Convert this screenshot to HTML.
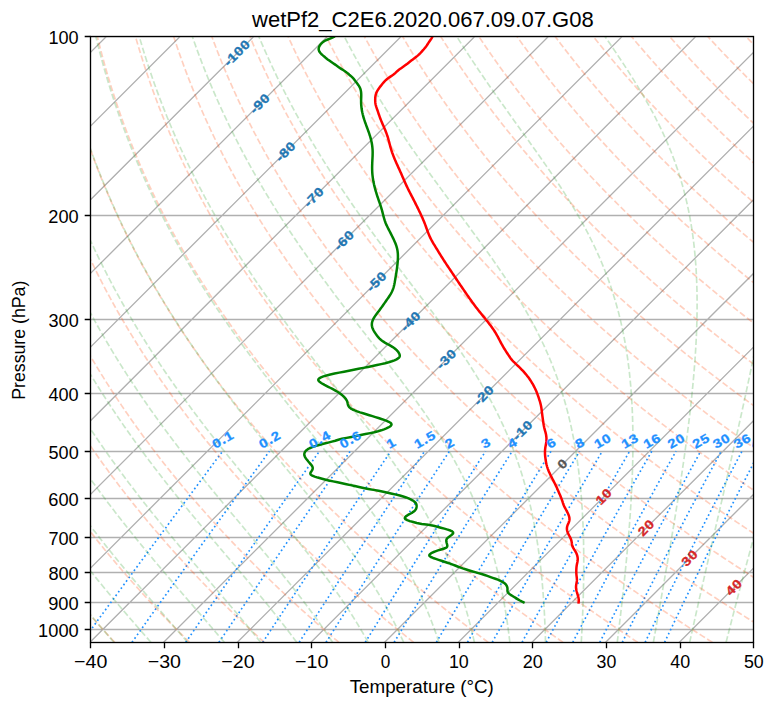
<!DOCTYPE html>
<html><head><meta charset="utf-8"><title>Skew-T</title>
<style>html,body{margin:0;padding:0;background:#fff;}body{width:775px;height:708px;overflow:hidden;font-family:"Liberation Sans",sans-serif;}svg{display:block;}</style>
</head><body>
<svg width="775" height="708" viewBox="0 0 775 708">
<defs><clipPath id="ax"><rect x="90.50" y="36.50" width="663.00" height="606.00"/></clipPath></defs>
<rect x="0" y="0" width="775" height="708" fill="#fff"/>
<g clip-path="url(#ax)"><path d="M-1100.71,654.30 L-469.79,23.39 M-1027.04,654.30 L-396.13,23.39 M-953.37,654.30 L-322.46,23.39 M-879.70,654.30 L-248.79,23.39 M-806.04,654.30 L-175.13,23.39 M-732.37,654.30 L-101.46,23.39 M-658.70,654.30 L-27.79,23.39 M-585.04,654.30 L45.87,23.39 M-511.37,654.30 L119.54,23.39 M-437.70,654.30 L193.21,23.39 M-364.04,654.30 L266.88,23.39 M-290.37,654.30 L340.54,23.39 M-216.70,654.30 L414.21,23.39 M-143.03,654.30 L487.88,23.39 M-69.37,654.30 L561.54,23.39 M4.30,654.30 L635.21,23.39 M77.97,654.30 L708.88,23.39 M151.63,654.30 L782.54,23.39 M225.30,654.30 L856.21,23.39 M298.97,654.30 L929.88,23.39 M372.63,654.30 L1003.55,23.39 M446.30,654.30 L1077.21,23.39 M519.97,654.30 L1150.88,23.39 M593.64,654.30 L1224.55,23.39 M667.30,654.30 L1298.21,23.39 M740.97,654.30 L1371.88,23.39 M90.50,36.50 L753.50,36.50 M90.50,215.50 L753.50,215.50 M90.50,319.50 L753.50,319.50 M90.50,393.50 L753.50,393.50 M90.50,451.50 L753.50,451.50 M90.50,498.50 L753.50,498.50 M90.50,537.50 L753.50,537.50 M90.50,572.50 L753.50,572.50 M90.50,602.50 L753.50,602.50 M90.50,629.50 L753.50,629.50" fill="none" stroke="#b0b0b0" stroke-width="1.33"/>
<path d="M81.76,642.31 L83.43,640.02 L85.12,637.70 L86.83,635.36 L88.55,633.00 L90.28,630.62 L92.03,628.21 L93.80,625.79 L95.59,623.34 L97.40,620.86 L99.22,618.36 L101.06,615.84 L102.92,613.30 L104.80,610.72 L106.70,608.12 L108.62,605.50 L110.56,602.85 L112.52,600.17 L114.50,597.46 L116.51,594.72 L118.53,591.96 L120.58,589.16 L122.66,586.34 L124.75,583.48 L126.87,580.59 L129.02,577.66 L131.19,574.71 L133.38,571.72 L135.61,568.69 L137.86,565.63 L140.14,562.53 L142.44,559.40 L144.78,556.22 L147.15,553.01 L149.54,549.75 L151.97,546.45 L154.44,543.11 L156.93,539.73 L159.46,536.30 L162.03,532.83 L164.63,529.31 L167.27,525.73 L169.94,522.11 L172.66,518.44 L175.41,514.71 L178.21,510.93 L181.05,507.10 L183.94,503.20 L186.87,499.25 L189.85,495.23 L192.88,491.15 L195.96,487.00 L199.09,482.79 L202.27,478.51 L205.51,474.15 L208.80,469.72 L212.16,465.21 L215.58,460.62 L219.06,455.95 L222.61,451.19 M132.00,642.31 L133.63,640.02 L135.27,637.70 L136.93,635.36 L138.61,633.00 L140.30,630.62 L142.01,628.21 L143.73,625.79 L145.48,623.34 L147.24,620.86 L149.01,618.36 L150.81,615.84 L152.62,613.30 L154.46,610.72 L156.31,608.12 L158.18,605.50 L160.07,602.85 L161.98,600.17 L163.92,597.46 L165.87,594.72 L167.85,591.96 L169.84,589.16 L171.86,586.34 L173.91,583.48 L175.98,580.59 L178.07,577.66 L180.19,574.71 L182.33,571.72 L184.50,568.69 L186.69,565.63 L188.92,562.53 L191.17,559.40 L193.45,556.22 L195.76,553.01 L198.10,549.75 L200.47,546.45 L202.87,543.11 L205.31,539.73 L207.78,536.30 L210.28,532.83 L212.82,529.31 L215.40,525.73 L218.01,522.11 L220.66,518.44 L223.35,514.71 L226.09,510.93 L228.86,507.10 L231.68,503.20 L234.54,499.25 L237.45,495.23 L240.41,491.15 L243.42,487.00 L246.47,482.79 L249.58,478.51 L252.75,474.15 L255.97,469.72 L259.25,465.21 L262.59,460.62 L265.99,455.95 L269.46,451.19 M185.73,642.31 L187.31,640.02 L188.91,637.70 L190.52,635.36 L192.15,633.00 L193.79,630.62 L195.45,628.21 L197.12,625.79 L198.82,623.34 L200.52,620.86 L202.25,618.36 L204.00,615.84 L205.76,613.30 L207.54,610.72 L209.34,608.12 L211.16,605.50 L212.99,602.85 L214.85,600.17 L216.73,597.46 L218.63,594.72 L220.55,591.96 L222.49,589.16 L224.46,586.34 L226.44,583.48 L228.45,580.59 L230.49,577.66 L232.55,574.71 L234.63,571.72 L236.74,568.69 L238.87,565.63 L241.04,562.53 L243.23,559.40 L245.44,556.22 L247.69,553.01 L249.97,549.75 L252.27,546.45 L254.61,543.11 L256.98,539.73 L259.38,536.30 L261.82,532.83 L264.29,529.31 L266.80,525.73 L269.34,522.11 L271.92,518.44 L274.54,514.71 L277.20,510.93 L279.90,507.10 L282.65,503.20 L285.44,499.25 L288.27,495.23 L291.15,491.15 L294.08,487.00 L297.06,482.79 L300.09,478.51 L303.17,474.15 L306.31,469.72 L309.50,465.21 L312.76,460.62 L316.07,455.95 L319.45,451.19 M218.92,642.31 L220.47,640.02 L222.04,637.70 L223.62,635.36 L225.21,633.00 L226.83,630.62 L228.45,628.21 L230.10,625.79 L231.76,623.34 L233.44,620.86 L235.13,618.36 L236.84,615.84 L238.57,613.30 L240.32,610.72 L242.08,608.12 L243.87,605.50 L245.67,602.85 L247.50,600.17 L249.34,597.46 L251.20,594.72 L253.09,591.96 L255.00,589.16 L256.92,586.34 L258.88,583.48 L260.85,580.59 L262.85,577.66 L264.87,574.71 L266.91,571.72 L268.99,568.69 L271.08,565.63 L273.21,562.53 L275.36,559.40 L277.53,556.22 L279.74,553.01 L281.98,549.75 L284.24,546.45 L286.54,543.11 L288.87,539.73 L291.23,536.30 L293.62,532.83 L296.05,529.31 L298.51,525.73 L301.01,522.11 L303.55,518.44 L306.12,514.71 L308.74,510.93 L311.39,507.10 L314.09,503.20 L316.83,499.25 L319.61,495.23 L322.44,491.15 L325.32,487.00 L328.25,482.79 L331.23,478.51 L334.26,474.15 L337.35,469.72 L340.49,465.21 L343.69,460.62 L346.95,455.95 L350.27,451.19 M262.73,642.31 L264.24,640.02 L265.77,637.70 L267.31,635.36 L268.86,633.00 L270.43,630.62 L272.02,628.21 L273.62,625.79 L275.24,623.34 L276.87,620.86 L278.52,618.36 L280.19,615.84 L281.88,613.30 L283.58,610.72 L285.30,608.12 L287.04,605.50 L288.80,602.85 L290.57,600.17 L292.37,597.46 L294.19,594.72 L296.02,591.96 L297.88,589.16 L299.76,586.34 L301.67,583.48 L303.59,580.59 L305.54,577.66 L307.51,574.71 L309.50,571.72 L311.52,568.69 L313.57,565.63 L315.64,562.53 L317.74,559.40 L319.86,556.22 L322.01,553.01 L324.20,549.75 L326.41,546.45 L328.65,543.11 L330.92,539.73 L333.22,536.30 L335.56,532.83 L337.93,529.31 L340.33,525.73 L342.77,522.11 L345.25,518.44 L347.76,514.71 L350.31,510.93 L352.91,507.10 L355.54,503.20 L358.21,499.25 L360.93,495.23 L363.70,491.15 L366.51,487.00 L369.37,482.79 L372.28,478.51 L375.24,474.15 L378.26,469.72 L381.33,465.21 L384.45,460.62 L387.64,455.95 L390.89,451.19 M299.20,642.31 L300.67,640.02 L302.16,637.70 L303.67,635.36 L305.19,633.00 L306.72,630.62 L308.27,628.21 L309.84,625.79 L311.42,623.34 L313.02,620.86 L314.63,618.36 L316.26,615.84 L317.91,613.30 L319.57,610.72 L321.25,608.12 L322.95,605.50 L324.67,602.85 L326.41,600.17 L328.17,597.46 L329.94,594.72 L331.74,591.96 L333.56,589.16 L335.40,586.34 L337.26,583.48 L339.14,580.59 L341.05,577.66 L342.97,574.71 L344.93,571.72 L346.90,568.69 L348.90,565.63 L350.93,562.53 L352.98,559.40 L355.06,556.22 L357.17,553.01 L359.30,549.75 L361.47,546.45 L363.66,543.11 L365.88,539.73 L368.14,536.30 L370.42,532.83 L372.74,529.31 L375.10,525.73 L377.49,522.11 L379.91,518.44 L382.37,514.71 L384.87,510.93 L387.41,507.10 L389.99,503.20 L392.61,499.25 L395.28,495.23 L397.99,491.15 L400.74,487.00 L403.54,482.79 L406.39,478.51 L409.29,474.15 L412.25,469.72 L415.26,465.21 L418.32,460.62 L421.45,455.95 L424.63,451.19 M326.03,642.31 L327.48,640.02 L328.94,637.70 L330.42,635.36 L331.91,633.00 L333.42,630.62 L334.94,628.21 L336.48,625.79 L338.04,623.34 L339.60,620.86 L341.19,618.36 L342.79,615.84 L344.41,613.30 L346.05,610.72 L347.70,608.12 L349.37,605.50 L351.06,602.85 L352.77,600.17 L354.50,597.46 L356.24,594.72 L358.01,591.96 L359.80,589.16 L361.61,586.34 L363.44,583.48 L365.29,580.59 L367.16,577.66 L369.06,574.71 L370.98,571.72 L372.92,568.69 L374.89,565.63 L376.88,562.53 L378.90,559.40 L380.94,556.22 L383.02,553.01 L385.12,549.75 L387.24,546.45 L389.40,543.11 L391.59,539.73 L393.81,536.30 L396.06,532.83 L398.34,529.31 L400.66,525.73 L403.01,522.11 L405.39,518.44 L407.82,514.71 L410.28,510.93 L412.78,507.10 L415.31,503.20 L417.89,499.25 L420.52,495.23 L423.18,491.15 L425.90,487.00 L428.65,482.79 L431.46,478.51 L434.32,474.15 L437.23,469.72 L440.19,465.21 L443.21,460.62 L446.29,455.95 L449.42,451.19 M365.26,642.31 L366.67,640.02 L368.10,637.70 L369.54,635.36 L370.99,633.00 L372.46,630.62 L373.94,628.21 L375.44,625.79 L376.95,623.34 L378.48,620.86 L380.02,618.36 L381.58,615.84 L383.16,613.30 L384.75,610.72 L386.36,608.12 L387.99,605.50 L389.64,602.85 L391.30,600.17 L392.98,597.46 L394.69,594.72 L396.41,591.96 L398.15,589.16 L399.91,586.34 L401.69,583.48 L403.50,580.59 L405.32,577.66 L407.17,574.71 L409.04,571.72 L410.94,568.69 L412.86,565.63 L414.80,562.53 L416.77,559.40 L418.76,556.22 L420.78,553.01 L422.83,549.75 L424.91,546.45 L427.01,543.11 L429.15,539.73 L431.31,536.30 L433.51,532.83 L435.73,529.31 L437.99,525.73 L440.29,522.11 L442.62,518.44 L444.98,514.71 L447.38,510.93 L449.82,507.10 L452.30,503.20 L454.82,499.25 L457.38,495.23 L459.98,491.15 L462.63,487.00 L465.33,482.79 L468.07,478.51 L470.86,474.15 L473.70,469.72 L476.60,465.21 L479.55,460.62 L482.55,455.95 L485.62,451.19 M394.14,642.31 L395.52,640.02 L396.92,637.70 L398.33,635.36 L399.75,633.00 L401.19,630.62 L402.64,628.21 L404.11,625.79 L405.59,623.34 L407.09,620.86 L408.60,618.36 L410.13,615.84 L411.68,613.30 L413.24,610.72 L414.81,608.12 L416.41,605.50 L418.02,602.85 L419.66,600.17 L421.30,597.46 L422.97,594.72 L424.66,591.96 L426.37,589.16 L428.10,586.34 L429.84,583.48 L431.61,580.59 L433.40,577.66 L435.22,574.71 L437.05,571.72 L438.91,568.69 L440.79,565.63 L442.70,562.53 L444.63,559.40 L446.58,556.22 L448.57,553.01 L450.58,549.75 L452.61,546.45 L454.68,543.11 L456.77,539.73 L458.90,536.30 L461.05,532.83 L463.24,529.31 L465.45,525.73 L467.71,522.11 L469.99,518.44 L472.31,514.71 L474.67,510.93 L477.07,507.10 L479.50,503.20 L481.97,499.25 L484.49,495.23 L487.04,491.15 L489.64,487.00 L492.29,482.79 L494.98,478.51 L497.73,474.15 L500.52,469.72 L503.36,465.21 L506.26,460.62 L509.21,455.95 L512.23,451.19 M436.38,642.31 L437.72,640.02 L439.07,637.70 L440.44,635.36 L441.82,633.00 L443.21,630.62 L444.62,628.21 L446.04,625.79 L447.47,623.34 L448.93,620.86 L450.39,618.36 L451.87,615.84 L453.37,613.30 L454.89,610.72 L456.42,608.12 L457.96,605.50 L459.53,602.85 L461.11,600.17 L462.71,597.46 L464.33,594.72 L465.97,591.96 L467.62,589.16 L469.30,586.34 L470.99,583.48 L472.71,580.59 L474.45,577.66 L476.21,574.71 L477.99,571.72 L479.79,568.69 L481.62,565.63 L483.47,562.53 L485.34,559.40 L487.24,556.22 L489.17,553.01 L491.12,549.75 L493.10,546.45 L495.10,543.11 L497.14,539.73 L499.20,536.30 L501.30,532.83 L503.42,529.31 L505.58,525.73 L507.76,522.11 L509.99,518.44 L512.24,514.71 L514.53,510.93 L516.86,507.10 L519.23,503.20 L521.63,499.25 L524.08,495.23 L526.57,491.15 L529.10,487.00 L531.67,482.79 L534.29,478.51 L536.96,474.15 L539.68,469.72 L542.45,465.21 L545.27,460.62 L548.14,455.95 L551.08,451.19 M467.47,642.31 L468.77,640.02 L470.09,637.70 L471.43,635.36 L472.77,633.00 L474.13,630.62 L475.50,628.21 L476.89,625.79 L478.29,623.34 L479.71,620.86 L481.14,618.36 L482.59,615.84 L484.05,613.30 L485.53,610.72 L487.02,608.12 L488.54,605.50 L490.06,602.85 L491.61,600.17 L493.17,597.46 L494.75,594.72 L496.35,591.96 L497.97,589.16 L499.61,586.34 L501.26,583.48 L502.94,580.59 L504.64,577.66 L506.36,574.71 L508.10,571.72 L509.86,568.69 L511.65,565.63 L513.46,562.53 L515.29,559.40 L517.15,556.22 L519.03,553.01 L520.94,549.75 L522.87,546.45 L524.83,543.11 L526.82,539.73 L528.84,536.30 L530.89,532.83 L532.97,529.31 L535.07,525.73 L537.22,522.11 L539.39,518.44 L541.60,514.71 L543.84,510.93 L546.12,507.10 L548.44,503.20 L550.79,499.25 L553.18,495.23 L555.62,491.15 L558.10,487.00 L560.62,482.79 L563.18,478.51 L565.80,474.15 L568.46,469.72 L571.17,465.21 L573.93,460.62 L576.75,455.95 L579.62,451.19 M492.23,642.31 L493.51,640.02 L494.80,637.70 L496.11,635.36 L497.43,633.00 L498.76,630.62 L500.11,628.21 L501.47,625.79 L502.84,623.34 L504.23,620.86 L505.63,618.36 L507.05,615.84 L508.49,613.30 L509.94,610.72 L511.40,608.12 L512.88,605.50 L514.38,602.85 L515.90,600.17 L517.43,597.46 L518.98,594.72 L520.55,591.96 L522.14,589.16 L523.74,586.34 L525.37,583.48 L527.01,580.59 L528.68,577.66 L530.37,574.71 L532.07,571.72 L533.80,568.69 L535.56,565.63 L537.33,562.53 L539.13,559.40 L540.95,556.22 L542.80,553.01 L544.67,549.75 L546.57,546.45 L548.50,543.11 L550.45,539.73 L552.43,536.30 L554.44,532.83 L556.48,529.31 L558.55,525.73 L560.66,522.11 L562.79,518.44 L564.96,514.71 L567.16,510.93 L569.40,507.10 L571.68,503.20 L573.99,499.25 L576.34,495.23 L578.74,491.15 L581.17,487.00 L583.65,482.79 L586.17,478.51 L588.74,474.15 L591.36,469.72 L594.02,465.21 L596.74,460.62 L599.51,455.95 L602.33,451.19 M522.08,642.31 L523.33,640.02 L524.59,637.70 L525.86,635.36 L527.15,633.00 L528.45,630.62 L529.76,628.21 L531.08,625.79 L532.42,623.34 L533.78,620.86 L535.15,618.36 L536.53,615.84 L537.93,613.30 L539.34,610.72 L540.77,608.12 L542.22,605.50 L543.68,602.85 L545.16,600.17 L546.66,597.46 L548.17,594.72 L549.70,591.96 L551.25,589.16 L552.82,586.34 L554.41,583.48 L556.01,580.59 L557.64,577.66 L559.29,574.71 L560.95,571.72 L562.64,568.69 L564.36,565.63 L566.09,562.53 L567.85,559.40 L569.63,556.22 L571.43,553.01 L573.26,549.75 L575.12,546.45 L577.00,543.11 L578.91,539.73 L580.85,536.30 L582.81,532.83 L584.81,529.31 L586.83,525.73 L588.89,522.11 L590.98,518.44 L593.10,514.71 L595.25,510.93 L597.44,507.10 L599.67,503.20 L601.93,499.25 L604.23,495.23 L606.57,491.15 L608.96,487.00 L611.38,482.79 L613.85,478.51 L616.36,474.15 L618.92,469.72 L621.53,465.21 L624.19,460.62 L626.91,455.95 L629.67,451.19 M546.25,642.31 L547.48,640.02 L548.71,637.70 L549.96,635.36 L551.22,633.00 L552.49,630.62 L553.77,628.21 L555.07,625.79 L556.39,623.34 L557.71,620.86 L559.05,618.36 L560.41,615.84 L561.78,613.30 L563.16,610.72 L564.56,608.12 L565.98,605.50 L567.41,602.85 L568.86,600.17 L570.33,597.46 L571.81,594.72 L573.31,591.96 L574.83,589.16 L576.36,586.34 L577.92,583.48 L579.50,580.59 L581.09,577.66 L582.70,574.71 L584.34,571.72 L586.00,568.69 L587.67,565.63 L589.37,562.53 L591.10,559.40 L592.84,556.22 L594.62,553.01 L596.41,549.75 L598.23,546.45 L600.08,543.11 L601.95,539.73 L603.85,536.30 L605.78,532.83 L607.74,529.31 L609.72,525.73 L611.74,522.11 L613.79,518.44 L615.87,514.71 L617.99,510.93 L620.14,507.10 L622.32,503.20 L624.54,499.25 L626.80,495.23 L629.10,491.15 L631.44,487.00 L633.82,482.79 L636.25,478.51 L638.72,474.15 L641.23,469.72 L643.79,465.21 L646.41,460.62 L649.07,455.95 L651.79,451.19 M572.77,642.31 L573.97,640.02 L575.17,637.70 L576.39,635.36 L577.62,633.00 L578.86,630.62 L580.11,628.21 L581.38,625.79 L582.66,623.34 L583.96,620.86 L585.27,618.36 L586.59,615.84 L587.93,613.30 L589.28,610.72 L590.65,608.12 L592.03,605.50 L593.43,602.85 L594.85,600.17 L596.28,597.46 L597.73,594.72 L599.20,591.96 L600.68,589.16 L602.18,586.34 L603.70,583.48 L605.24,580.59 L606.80,577.66 L608.38,574.71 L609.98,571.72 L611.60,568.69 L613.24,565.63 L614.90,562.53 L616.59,559.40 L618.30,556.22 L620.03,553.01 L621.78,549.75 L623.57,546.45 L625.37,543.11 L627.20,539.73 L629.06,536.30 L630.95,532.83 L632.87,529.31 L634.81,525.73 L636.79,522.11 L638.79,518.44 L640.83,514.71 L642.90,510.93 L645.01,507.10 L647.15,503.20 L649.32,499.25 L651.54,495.23 L653.79,491.15 L656.08,487.00 L658.41,482.79 L660.79,478.51 L663.21,474.15 L665.67,469.72 L668.19,465.21 L670.75,460.62 L673.36,455.95 L676.03,451.19 M599.83,642.31 L600.99,640.02 L602.17,637.70 L603.35,635.36 L604.55,633.00 L605.76,630.62 L606.99,628.21 L608.22,625.79 L609.47,623.34 L610.73,620.86 L612.01,618.36 L613.30,615.84 L614.61,613.30 L615.93,610.72 L617.26,608.12 L618.61,605.50 L619.98,602.85 L621.36,600.17 L622.76,597.46 L624.17,594.72 L625.60,591.96 L627.05,589.16 L628.51,586.34 L630.00,583.48 L631.50,580.59 L633.02,577.66 L634.57,574.71 L636.13,571.72 L637.71,568.69 L639.31,565.63 L640.94,562.53 L642.58,559.40 L644.25,556.22 L645.94,553.01 L647.66,549.75 L649.40,546.45 L651.16,543.11 L652.95,539.73 L654.77,536.30 L656.62,532.83 L658.49,529.31 L660.39,525.73 L662.32,522.11 L664.28,518.44 L666.28,514.71 L668.30,510.93 L670.36,507.10 L672.45,503.20 L674.58,499.25 L676.75,495.23 L678.95,491.15 L681.19,487.00 L683.48,482.79 L685.80,478.51 L688.17,474.15 L690.58,469.72 L693.04,465.21 L695.55,460.62 L698.11,455.95 L700.72,451.19 M622.32,642.31 L623.45,640.02 L624.60,637.70 L625.76,635.36 L626.93,633.00 L628.12,630.62 L629.31,628.21 L630.52,625.79 L631.75,623.34 L632.98,620.86 L634.23,618.36 L635.50,615.84 L636.77,613.30 L638.06,610.72 L639.37,608.12 L640.69,605.50 L642.03,602.85 L643.38,600.17 L644.75,597.46 L646.13,594.72 L647.54,591.96 L648.95,589.16 L650.39,586.34 L651.84,583.48 L653.32,580.59 L654.81,577.66 L656.32,574.71 L657.85,571.72 L659.40,568.69 L660.97,565.63 L662.56,562.53 L664.17,559.40 L665.81,556.22 L667.47,553.01 L669.15,549.75 L670.85,546.45 L672.58,543.11 L674.34,539.73 L676.12,536.30 L677.93,532.83 L679.77,529.31 L681.63,525.73 L683.53,522.11 L685.45,518.44 L687.41,514.71 L689.39,510.93 L691.41,507.10 L693.47,503.20 L695.56,499.25 L697.68,495.23 L699.84,491.15 L702.05,487.00 L704.29,482.79 L706.57,478.51 L708.90,474.15 L711.27,469.72 L713.68,465.21 L716.14,460.62 L718.66,455.95 L721.22,451.19 M645.12,642.31 L646.23,640.02 L647.35,637.70 L648.48,635.36 L649.63,633.00 L650.78,630.62 L651.95,628.21 L653.14,625.79 L654.33,623.34 L655.54,620.86 L656.76,618.36 L658.00,615.84 L659.24,613.30 L660.51,610.72 L661.78,608.12 L663.08,605.50 L664.38,602.85 L665.71,600.17 L667.04,597.46 L668.40,594.72 L669.77,591.96 L671.16,589.16 L672.56,586.34 L673.99,583.48 L675.43,580.59 L676.89,577.66 L678.36,574.71 L679.86,571.72 L681.38,568.69 L682.91,565.63 L684.47,562.53 L686.05,559.40 L687.65,556.22 L689.28,553.01 L690.93,549.75 L692.60,546.45 L694.29,543.11 L696.01,539.73 L697.76,536.30 L699.53,532.83 L701.33,529.31 L703.16,525.73 L705.01,522.11 L706.90,518.44 L708.82,514.71 L710.76,510.93 L712.74,507.10 L714.76,503.20 L716.81,499.25 L718.89,495.23 L721.01,491.15 L723.17,487.00 L725.37,482.79 L727.61,478.51 L729.89,474.15 L732.22,469.72 L734.59,465.21 L737.00,460.62 L739.47,455.95 L741.99,451.19 M664.61,642.31 L665.70,640.02 L666.80,637.70 L667.91,635.36 L669.03,633.00 L670.17,630.62 L671.31,628.21 L672.47,625.79 L673.64,623.34 L674.83,620.86 L676.03,618.36 L677.24,615.84 L678.46,613.30 L679.70,610.72 L680.95,608.12 L682.22,605.50 L683.50,602.85 L684.80,600.17 L686.11,597.46 L687.44,594.72 L688.78,591.96 L690.14,589.16 L691.52,586.34 L692.92,583.48 L694.33,580.59 L695.76,577.66 L697.21,574.71 L698.68,571.72 L700.17,568.69 L701.68,565.63 L703.21,562.53 L704.76,559.40 L706.33,556.22 L707.93,553.01 L709.54,549.75 L711.18,546.45 L712.85,543.11 L714.54,539.73 L716.25,536.30 L717.99,532.83 L719.76,529.31 L721.56,525.73 L723.38,522.11 L725.23,518.44 L727.12,514.71 L729.03,510.93 L730.98,507.10 L732.95,503.20 L734.97,499.25 L737.02,495.23 L739.10,491.15 L741.22,487.00 L743.39,482.79 L745.59,478.51 L747.83,474.15 L750.12,469.72 L752.45,465.21 L754.83,460.62 L757.25,455.95 L759.73,451.19" fill="none" stroke="#1e90ff" stroke-width="1.67" stroke-dasharray="1.67,2.75"/>
<path d="M114.76,642.31 L113.67,641.14 L112.57,639.96 L111.47,638.77 L110.37,637.58 L109.27,636.38 L108.16,635.17 L107.06,633.96 L105.95,632.75 L104.84,631.53 L103.72,630.30 L102.61,629.07 L101.49,627.83 L100.37,626.59 L99.25,625.34 L98.12,624.08 L97.00,622.82 L95.87,621.55 L94.74,620.27 L93.61,618.99 L92.47,617.70 L91.33,616.41 L90.19,615.11 L89.05,613.80 L87.91,612.48 L86.76,611.16 L85.61,609.84 L84.46,608.50 L83.31,607.16 L82.16,605.81 L81.00,604.45 L79.84,603.09 L78.68,601.72 L77.51,600.34 L76.35,598.96 L75.18,597.57 L74.00,596.17 L72.83,594.76 L71.65,593.34 L70.48,591.92 L69.29,590.49 L68.11,589.05 L66.92,587.60 L65.74,586.15 L64.55,584.68 L63.35,583.21 L62.16,581.73 L60.96,580.24 L59.76,578.74 L58.55,577.24 L57.35,575.72 L56.14,574.20 L54.93,572.66 L53.71,571.12 L52.50,569.57 L51.28,568.01 L50.06,566.44 L48.84,564.85 L47.61,563.26 L46.38,561.66 L45.15,560.05 L43.91,558.43 L42.68,556.80 L41.44,555.16 L40.20,553.51 L38.95,551.85 L37.70,550.18 L36.45,548.49 L35.20,546.80 L33.95,545.09 L32.69,543.37 L31.43,541.64 L30.16,539.90 L28.90,538.15 L27.63,536.39 L26.35,534.61 L25.08,532.82 L23.80,531.02 L22.52,529.20 L21.24,527.38 L19.95,525.54 L18.66,523.68 L17.37,521.82 L16.08,519.94 L14.78,518.04 L13.48,516.13 L12.18,514.21 L10.87,512.27 L9.56,510.32 L8.25,508.36 L6.94,506.37 L5.62,504.38 L4.30,502.36 L2.98,500.34 L1.65,498.29 L0.32,496.23 L-1.01,494.15 L-2.34,492.06 L-3.68,489.95 L-5.02,487.82 L-6.36,485.67 L-7.71,483.50 L-9.06,481.32 L-10.41,479.12 L-11.76,476.90 L-13.12,474.66 L-14.48,472.40 L-15.85,470.12 L-17.21,467.82 L-18.58,465.50 L-19.95,463.15 L-21.33,460.79 L-22.70,458.41 L-24.08,456.00 L-25.47,453.57 L-26.85,451.11 L-28.24,448.64 L-29.63,446.13 L-31.03,443.61 L-32.42,441.06 L-33.82,438.48 L-35.22,435.88 L-36.63,433.25 L-38.04,430.59 L-39.44,427.91 L-40.86,425.20 L-42.27,422.46 L-43.69,419.69 L-45.11,416.89 L-46.53,414.06 L-47.95,411.19 L-49.38,408.30 L-50.81,405.37 L-52.24,402.41 L-53.67,399.41 L-55.10,396.38 L-56.54,393.31 L-57.97,390.21 L-59.41,387.07 L-60.85,383.89 L-62.30,380.67 L-63.74,377.41 L-65.18,374.10 L-66.63,370.76 L-68.08,367.37 L-69.52,363.93 L-70.97,360.45 L-72.42,356.92 L-73.87,353.34 L-75.32,349.71 L-76.77,346.03 L-78.21,342.30 L-79.66,338.51 L-81.11,334.66 L-82.55,330.76 L-84.00,326.79 L-85.44,322.77 L-86.88,318.68 L-88.32,314.52 L-89.75,310.30 L-91.19,306.00 L-92.61,301.64 L-94.04,297.19 L-95.46,292.67 L-96.87,288.07 L-98.28,283.39 L-99.68,278.61 L-101.08,273.75 L-102.47,268.80 L-103.85,263.74 L-105.22,258.59 L-106.58,253.33 L-107.92,247.96 L-109.26,242.48 L-110.58,236.88 L-111.89,231.15 L-113.18,225.30 L-114.45,219.30 L-115.70,213.17 L-116.94,206.88 L-118.14,200.44 L-119.33,193.83 L-120.48,187.05 L-121.61,180.08 L-122.70,172.92 L-123.75,165.56 L-124.76,157.98 L-125.73,150.17 L-126.65,142.12 L-127.52,133.80 L-128.32,125.21 L-129.06,116.32 L-129.73,107.12 L-130.31,97.57 L-130.81,87.65 L-131.20,77.34 L-131.48,66.60 L-131.64,55.39 L-131.65,43.67 L-131.50,31.40 M189.46,642.31 L188.27,641.14 L187.08,639.96 L185.88,638.77 L184.68,637.58 L183.48,636.38 L182.27,635.17 L181.07,633.96 L179.86,632.75 L178.65,631.53 L177.43,630.30 L176.22,629.07 L175.00,627.83 L173.78,626.59 L172.56,625.34 L171.33,624.08 L170.10,622.82 L168.87,621.55 L167.64,620.27 L166.40,618.99 L165.16,617.70 L163.92,616.41 L162.68,615.11 L161.43,613.80 L160.18,612.48 L158.93,611.16 L157.67,609.84 L156.42,608.50 L155.16,607.16 L153.89,605.81 L152.63,604.45 L151.36,603.09 L150.09,601.72 L148.82,600.34 L147.54,598.96 L146.26,597.57 L144.98,596.17 L143.69,594.76 L142.41,593.34 L141.12,591.92 L139.82,590.49 L138.53,589.05 L137.23,587.60 L135.93,586.15 L134.62,584.68 L133.31,583.21 L132.00,581.73 L130.69,580.24 L129.37,578.74 L128.05,577.24 L126.73,575.72 L125.40,574.20 L124.08,572.66 L122.74,571.12 L121.41,569.57 L120.07,568.01 L118.73,566.44 L117.39,564.85 L116.04,563.26 L114.69,561.66 L113.34,560.05 L111.98,558.43 L110.62,556.80 L109.26,555.16 L107.89,553.51 L106.52,551.85 L105.15,550.18 L103.77,548.49 L102.39,546.80 L101.01,545.09 L99.62,543.37 L98.24,541.64 L96.84,539.90 L95.45,538.15 L94.05,536.39 L92.64,534.61 L91.24,532.82 L89.83,531.02 L88.42,529.20 L87.00,527.38 L85.58,525.54 L84.16,523.68 L82.73,521.82 L81.30,519.94 L79.86,518.04 L78.43,516.13 L76.98,514.21 L75.54,512.27 L74.09,510.32 L72.64,508.36 L71.18,506.37 L69.72,504.38 L68.26,502.36 L66.79,500.34 L65.32,498.29 L63.85,496.23 L62.37,494.15 L60.89,492.06 L59.41,489.95 L57.92,487.82 L56.42,485.67 L54.93,483.50 L53.43,481.32 L51.92,479.12 L50.41,476.90 L48.90,474.66 L47.39,472.40 L45.87,470.12 L44.34,467.82 L42.82,465.50 L41.29,463.15 L39.75,460.79 L38.21,458.41 L36.67,456.00 L35.12,453.57 L33.57,451.11 L32.02,448.64 L30.46,446.13 L28.90,443.61 L27.33,441.06 L25.76,438.48 L24.19,435.88 L22.61,433.25 L21.03,430.59 L19.45,427.91 L17.86,425.20 L16.27,422.46 L14.67,419.69 L13.07,416.89 L11.47,414.06 L9.86,411.19 L8.25,408.30 L6.63,405.37 L5.01,402.41 L3.39,399.41 L1.77,396.38 L0.14,393.31 L-1.49,390.21 L-3.13,387.07 L-4.77,383.89 L-6.41,380.67 L-8.06,377.41 L-9.70,374.10 L-11.36,370.76 L-13.01,367.37 L-14.67,363.93 L-16.33,360.45 L-17.99,356.92 L-19.65,353.34 L-21.32,349.71 L-22.99,346.03 L-24.66,342.30 L-26.33,338.51 L-28.00,334.66 L-29.68,330.76 L-31.35,326.79 L-33.03,322.77 L-34.71,318.68 L-36.39,314.52 L-38.06,310.30 L-39.74,306.00 L-41.42,301.64 L-43.10,297.19 L-44.77,292.67 L-46.44,288.07 L-48.11,283.39 L-49.78,278.61 L-51.44,273.75 L-53.10,268.80 L-54.76,263.74 L-56.41,258.59 L-58.05,253.33 L-59.69,247.96 L-61.32,242.48 L-62.93,236.88 L-64.54,231.15 L-66.14,225.30 L-67.72,219.30 L-69.29,213.17 L-70.85,206.88 L-72.39,200.44 L-73.90,193.83 L-75.40,187.05 L-76.87,180.08 L-78.31,172.92 L-79.73,165.56 L-81.11,157.98 L-82.45,150.17 L-83.76,142.12 L-85.02,133.80 L-86.23,125.21 L-87.38,116.32 L-88.47,107.12 L-89.49,97.57 L-90.43,87.65 L-91.28,77.34 L-92.04,66.60 L-92.68,55.39 L-93.19,43.67 L-93.56,31.40 M264.16,642.31 L262.87,641.14 L261.58,639.96 L260.29,638.77 L258.99,637.58 L257.69,636.38 L256.39,635.17 L255.08,633.96 L253.77,632.75 L252.46,631.53 L251.15,630.30 L249.83,629.07 L248.51,627.83 L247.19,626.59 L245.86,625.34 L244.53,624.08 L243.20,622.82 L241.87,621.55 L240.53,620.27 L239.19,618.99 L237.85,617.70 L236.50,616.41 L235.16,615.11 L233.80,613.80 L232.45,612.48 L231.09,611.16 L229.73,609.84 L228.37,608.50 L227.00,607.16 L225.63,605.81 L224.26,604.45 L222.88,603.09 L221.50,601.72 L220.12,600.34 L218.73,598.96 L217.34,597.57 L215.95,596.17 L214.56,594.76 L213.16,593.34 L211.76,591.92 L210.35,590.49 L208.94,589.05 L207.53,587.60 L206.11,586.15 L204.70,584.68 L203.27,583.21 L201.85,581.73 L200.42,580.24 L198.99,578.74 L197.55,577.24 L196.11,575.72 L194.67,574.20 L193.22,572.66 L191.77,571.12 L190.32,569.57 L188.86,568.01 L187.40,566.44 L185.94,564.85 L184.47,563.26 L183.00,561.66 L181.52,560.05 L180.04,558.43 L178.56,556.80 L177.07,555.16 L175.58,553.51 L174.09,551.85 L172.59,550.18 L171.09,548.49 L169.58,546.80 L168.08,545.09 L166.56,543.37 L165.04,541.64 L163.52,539.90 L162.00,538.15 L160.47,536.39 L158.93,534.61 L157.40,532.82 L155.85,531.02 L154.31,529.20 L152.76,527.38 L151.21,525.54 L149.65,523.68 L148.08,521.82 L146.52,519.94 L144.95,518.04 L143.37,516.13 L141.79,514.21 L140.21,512.27 L138.62,510.32 L137.03,508.36 L135.43,506.37 L133.83,504.38 L132.22,502.36 L130.61,500.34 L129.00,498.29 L127.38,496.23 L125.75,494.15 L124.12,492.06 L122.49,489.95 L120.85,487.82 L119.21,485.67 L117.56,483.50 L115.91,481.32 L114.26,479.12 L112.59,476.90 L110.93,474.66 L109.26,472.40 L107.58,470.12 L105.90,467.82 L104.22,465.50 L102.53,463.15 L100.83,460.79 L99.13,458.41 L97.42,456.00 L95.71,453.57 L94.00,451.11 L92.28,448.64 L90.55,446.13 L88.82,443.61 L87.09,441.06 L85.35,438.48 L83.60,435.88 L81.85,433.25 L80.10,430.59 L78.34,427.91 L76.57,425.20 L74.80,422.46 L73.03,419.69 L71.24,416.89 L69.46,414.06 L67.67,411.19 L65.87,408.30 L64.07,405.37 L62.26,402.41 L60.45,399.41 L58.63,396.38 L56.81,393.31 L54.98,390.21 L53.15,387.07 L51.32,383.89 L49.47,380.67 L47.63,377.41 L45.77,374.10 L43.92,370.76 L42.06,367.37 L40.19,363.93 L38.32,360.45 L36.44,356.92 L34.56,353.34 L32.68,349.71 L30.79,346.03 L28.90,342.30 L27.00,338.51 L25.10,334.66 L23.20,330.76 L21.29,326.79 L19.38,322.77 L17.46,318.68 L15.54,314.52 L13.62,310.30 L11.70,306.00 L9.77,301.64 L7.85,297.19 L5.92,292.67 L3.99,288.07 L2.06,283.39 L0.12,278.61 L-1.81,273.75 L-3.74,268.80 L-5.67,263.74 L-7.60,258.59 L-9.53,253.33 L-11.45,247.96 L-13.37,242.48 L-15.29,236.88 L-17.20,231.15 L-19.10,225.30 L-21.00,219.30 L-22.88,213.17 L-24.76,206.88 L-26.63,200.44 L-28.48,193.83 L-30.31,187.05 L-32.13,180.08 L-33.93,172.92 L-35.70,165.56 L-37.45,157.98 L-39.18,150.17 L-40.87,142.12 L-42.52,133.80 L-44.13,125.21 L-45.70,116.32 L-47.21,107.12 L-48.66,97.57 L-50.05,87.65 L-51.36,77.34 L-52.59,66.60 L-53.72,55.39 L-54.74,43.67 L-55.63,31.40 M338.86,642.31 L337.48,641.14 L336.09,639.96 L334.69,638.77 L333.30,637.58 L331.90,636.38 L330.50,635.17 L329.09,633.96 L327.68,632.75 L326.27,631.53 L324.86,630.30 L323.44,629.07 L322.02,627.83 L320.60,626.59 L319.17,625.34 L317.74,624.08 L316.31,622.82 L314.87,621.55 L313.43,620.27 L311.99,618.99 L310.54,617.70 L309.09,616.41 L307.64,615.11 L306.18,613.80 L304.72,612.48 L303.26,611.16 L301.79,609.84 L300.32,608.50 L298.84,607.16 L297.37,605.81 L295.89,604.45 L294.40,603.09 L292.91,601.72 L291.42,600.34 L289.93,598.96 L288.43,597.57 L286.93,596.17 L285.42,594.76 L283.91,593.34 L282.40,591.92 L280.88,590.49 L279.36,589.05 L277.83,587.60 L276.30,586.15 L274.77,584.68 L273.24,583.21 L271.69,581.73 L270.15,580.24 L268.60,578.74 L267.05,577.24 L265.49,575.72 L263.93,574.20 L262.37,572.66 L260.80,571.12 L259.23,569.57 L257.65,568.01 L256.07,566.44 L254.49,564.85 L252.90,563.26 L251.31,561.66 L249.71,560.05 L248.11,558.43 L246.50,556.80 L244.89,555.16 L243.28,553.51 L241.66,551.85 L240.04,550.18 L238.41,548.49 L236.78,546.80 L235.14,545.09 L233.50,543.37 L231.85,541.64 L230.20,539.90 L228.55,538.15 L226.89,536.39 L225.22,534.61 L223.55,532.82 L221.88,531.02 L220.20,529.20 L218.52,527.38 L216.83,525.54 L215.14,523.68 L213.44,521.82 L211.74,519.94 L210.03,518.04 L208.32,516.13 L206.60,514.21 L204.88,512.27 L203.15,510.32 L201.41,508.36 L199.68,506.37 L197.93,504.38 L196.18,502.36 L194.43,500.34 L192.67,498.29 L190.90,496.23 L189.13,494.15 L187.36,492.06 L185.58,489.95 L183.79,487.82 L182.00,485.67 L180.20,483.50 L178.40,481.32 L176.59,479.12 L174.77,476.90 L172.95,474.66 L171.13,472.40 L169.30,470.12 L167.46,467.82 L165.61,465.50 L163.76,463.15 L161.91,460.79 L160.05,458.41 L158.18,456.00 L156.31,453.57 L154.43,451.11 L152.54,448.64 L150.65,446.13 L148.75,443.61 L146.85,441.06 L144.94,438.48 L143.02,435.88 L141.09,433.25 L139.17,430.59 L137.23,427.91 L135.29,425.20 L133.34,422.46 L131.38,419.69 L129.42,416.89 L127.45,414.06 L125.48,411.19 L123.49,408.30 L121.51,405.37 L119.51,402.41 L117.51,399.41 L115.50,396.38 L113.49,393.31 L111.46,390.21 L109.44,387.07 L107.40,383.89 L105.36,380.67 L103.31,377.41 L101.25,374.10 L99.19,370.76 L97.12,367.37 L95.05,363.93 L92.97,360.45 L90.88,356.92 L88.78,353.34 L86.68,349.71 L84.57,346.03 L82.46,342.30 L80.33,338.51 L78.21,334.66 L76.07,330.76 L73.93,326.79 L71.79,322.77 L69.63,318.68 L67.48,314.52 L65.31,310.30 L63.14,306.00 L60.97,301.64 L58.79,297.19 L56.61,292.67 L54.42,288.07 L52.22,283.39 L50.03,278.61 L47.83,273.75 L45.62,268.80 L43.42,263.74 L41.21,258.59 L39.00,253.33 L36.78,247.96 L34.57,242.48 L32.36,236.88 L30.15,231.15 L27.94,225.30 L25.73,219.30 L23.53,213.17 L21.33,206.88 L19.13,200.44 L16.95,193.83 L14.77,187.05 L12.61,180.08 L10.46,172.92 L8.32,165.56 L6.20,157.98 L4.10,150.17 L2.03,142.12 L-0.02,133.80 L-2.03,125.21 L-4.01,116.32 L-5.95,107.12 L-7.84,97.57 L-9.67,87.65 L-11.45,77.34 L-13.14,66.60 L-14.76,55.39 L-16.28,43.67 L-17.69,31.40 M413.56,642.31 L412.08,641.14 L410.59,639.96 L409.10,638.77 L407.61,637.58 L406.11,636.38 L404.61,635.17 L403.11,633.96 L401.60,632.75 L400.09,631.53 L398.57,630.30 L397.05,629.07 L395.53,627.83 L394.01,626.59 L392.48,625.34 L390.95,624.08 L389.41,622.82 L387.87,621.55 L386.33,620.27 L384.78,618.99 L383.23,617.70 L381.67,616.41 L380.12,615.11 L378.55,613.80 L376.99,612.48 L375.42,611.16 L373.85,609.84 L372.27,608.50 L370.69,607.16 L369.10,605.81 L367.52,604.45 L365.92,603.09 L364.33,601.72 L362.73,600.34 L361.12,598.96 L359.51,597.57 L357.90,596.17 L356.28,594.76 L354.66,593.34 L353.04,591.92 L351.41,590.49 L349.77,589.05 L348.14,587.60 L346.49,586.15 L344.85,584.68 L343.20,583.21 L341.54,581.73 L339.88,580.24 L338.22,578.74 L336.55,577.24 L334.88,575.72 L333.20,574.20 L331.52,572.66 L329.83,571.12 L328.14,569.57 L326.45,568.01 L324.75,566.44 L323.04,564.85 L321.33,563.26 L319.62,561.66 L317.90,560.05 L316.17,558.43 L314.44,556.80 L312.71,555.16 L310.97,553.51 L309.23,551.85 L307.48,550.18 L305.73,548.49 L303.97,546.80 L302.20,545.09 L300.44,543.37 L298.66,541.64 L296.88,539.90 L295.10,538.15 L293.31,536.39 L291.51,534.61 L289.71,532.82 L287.91,531.02 L286.10,529.20 L284.28,527.38 L282.46,525.54 L280.63,523.68 L278.80,521.82 L276.96,519.94 L275.11,518.04 L273.26,516.13 L271.41,514.21 L269.54,512.27 L267.68,510.32 L265.80,508.36 L263.92,506.37 L262.04,504.38 L260.14,502.36 L258.25,500.34 L256.34,498.29 L254.43,496.23 L252.52,494.15 L250.59,492.06 L248.66,489.95 L246.73,487.82 L244.79,485.67 L242.84,483.50 L240.88,481.32 L238.92,479.12 L236.95,476.90 L234.98,474.66 L233.00,472.40 L231.01,470.12 L229.01,467.82 L227.01,465.50 L225.00,463.15 L222.99,460.79 L220.96,458.41 L218.93,456.00 L216.90,453.57 L214.85,451.11 L212.80,448.64 L210.74,446.13 L208.68,443.61 L206.60,441.06 L204.52,438.48 L202.43,435.88 L200.34,433.25 L198.23,430.59 L196.12,427.91 L194.00,425.20 L191.87,422.46 L189.74,419.69 L187.60,416.89 L185.44,414.06 L183.29,411.19 L181.12,408.30 L178.94,405.37 L176.76,402.41 L174.57,399.41 L172.37,396.38 L170.16,393.31 L167.94,390.21 L165.72,387.07 L163.49,383.89 L161.24,380.67 L158.99,377.41 L156.73,374.10 L154.47,370.76 L152.19,367.37 L149.90,363.93 L147.61,360.45 L145.31,356.92 L143.00,353.34 L140.68,349.71 L138.35,346.03 L136.01,342.30 L133.67,338.51 L131.31,334.66 L128.95,330.76 L126.58,326.79 L124.19,322.77 L121.81,318.68 L119.41,314.52 L117.00,310.30 L114.59,306.00 L112.16,301.64 L109.73,297.19 L107.29,292.67 L104.85,288.07 L102.39,283.39 L99.93,278.61 L97.46,273.75 L94.99,268.80 L92.50,263.74 L90.02,258.59 L87.52,253.33 L85.02,247.96 L82.51,242.48 L80.01,236.88 L77.49,231.15 L74.97,225.30 L72.46,219.30 L69.93,213.17 L67.41,206.88 L64.89,200.44 L62.37,193.83 L59.86,187.05 L57.34,180.08 L54.84,172.92 L52.34,165.56 L49.85,157.98 L47.38,150.17 L44.92,142.12 L42.48,133.80 L40.06,125.21 L37.67,116.32 L35.31,107.12 L32.99,97.57 L30.71,87.65 L28.47,77.34 L26.30,66.60 L24.20,55.39 L22.17,43.67 L20.24,31.40 M488.27,642.31 L486.68,641.14 L485.10,639.96 L483.51,638.77 L481.92,637.58 L480.32,636.38 L478.72,635.17 L477.12,633.96 L475.51,632.75 L473.90,631.53 L472.28,630.30 L470.67,629.07 L469.04,627.83 L467.42,626.59 L465.79,625.34 L464.15,624.08 L462.51,622.82 L460.87,621.55 L459.22,620.27 L457.57,618.99 L455.92,617.70 L454.26,616.41 L452.60,615.11 L450.93,613.80 L449.26,612.48 L447.58,611.16 L445.90,609.84 L444.22,608.50 L442.53,607.16 L440.84,605.81 L439.14,604.45 L437.44,603.09 L435.74,601.72 L434.03,600.34 L432.31,598.96 L430.60,597.57 L428.87,596.17 L427.15,594.76 L425.41,593.34 L423.68,591.92 L421.93,590.49 L420.19,589.05 L418.44,587.60 L416.68,586.15 L414.92,584.68 L413.16,583.21 L411.39,581.73 L409.61,580.24 L407.83,578.74 L406.05,577.24 L404.26,575.72 L402.46,574.20 L400.67,572.66 L398.86,571.12 L397.05,569.57 L395.24,568.01 L393.42,566.44 L391.59,564.85 L389.76,563.26 L387.93,561.66 L386.08,560.05 L384.24,558.43 L382.39,556.80 L380.53,555.16 L378.67,553.51 L376.80,551.85 L374.92,550.18 L373.05,548.49 L371.16,546.80 L369.27,545.09 L367.37,543.37 L365.47,541.64 L363.56,539.90 L361.65,538.15 L359.73,536.39 L357.80,534.61 L355.87,532.82 L353.93,531.02 L351.99,529.20 L350.04,527.38 L348.08,525.54 L346.12,523.68 L344.15,521.82 L342.18,519.94 L340.19,518.04 L338.21,516.13 L336.21,514.21 L334.21,512.27 L332.20,510.32 L330.19,508.36 L328.17,506.37 L326.14,504.38 L324.10,502.36 L322.06,500.34 L320.01,498.29 L317.96,496.23 L315.90,494.15 L313.83,492.06 L311.75,489.95 L309.67,487.82 L307.57,485.67 L305.47,483.50 L303.37,481.32 L301.25,479.12 L299.13,476.90 L297.00,474.66 L294.87,472.40 L292.72,470.12 L290.57,467.82 L288.41,465.50 L286.24,463.15 L284.07,460.79 L281.88,458.41 L279.69,456.00 L277.49,453.57 L275.28,451.11 L273.06,448.64 L270.84,446.13 L268.60,443.61 L266.36,441.06 L264.11,438.48 L261.85,435.88 L259.58,433.25 L257.30,430.59 L255.01,427.91 L252.72,425.20 L250.41,422.46 L248.09,419.69 L245.77,416.89 L243.44,414.06 L241.09,411.19 L238.74,408.30 L236.38,405.37 L234.01,402.41 L231.63,399.41 L229.24,396.38 L226.83,393.31 L224.42,390.21 L222.00,387.07 L219.57,383.89 L217.13,380.67 L214.68,377.41 L212.21,374.10 L209.74,370.76 L207.26,367.37 L204.76,363.93 L202.26,360.45 L199.74,356.92 L197.21,353.34 L194.68,349.71 L192.13,346.03 L189.57,342.30 L187.00,338.51 L184.42,334.66 L181.82,330.76 L179.22,326.79 L176.60,322.77 L173.98,318.68 L171.34,314.52 L168.69,310.30 L166.03,306.00 L163.36,301.64 L160.68,297.19 L157.98,292.67 L155.28,288.07 L152.56,283.39 L149.84,278.61 L147.10,273.75 L144.35,268.80 L141.59,263.74 L138.82,258.59 L136.04,253.33 L133.26,247.96 L130.46,242.48 L127.65,236.88 L124.84,231.15 L122.01,225.30 L119.18,219.30 L116.34,213.17 L113.50,206.88 L110.65,200.44 L107.80,193.83 L104.94,187.05 L102.08,180.08 L99.22,172.92 L96.36,165.56 L93.51,157.98 L90.66,150.17 L87.81,142.12 L84.98,133.80 L82.16,125.21 L79.35,116.32 L76.57,107.12 L73.81,97.57 L71.08,87.65 L68.39,77.34 L65.75,66.60 L63.16,55.39 L60.63,43.67 L58.18,31.40 M562.97,642.31 L561.29,641.14 L559.61,639.96 L557.92,638.77 L556.23,637.58 L554.53,636.38 L552.83,635.17 L551.13,633.96 L549.42,632.75 L547.71,631.53 L546.00,630.30 L544.28,629.07 L542.55,627.83 L540.83,626.59 L539.09,625.34 L537.36,624.08 L535.62,622.82 L533.87,621.55 L532.12,620.27 L530.37,618.99 L528.61,617.70 L526.85,616.41 L525.08,615.11 L523.31,613.80 L521.53,612.48 L519.75,611.16 L517.96,609.84 L516.17,608.50 L514.38,607.16 L512.58,605.81 L510.77,604.45 L508.96,603.09 L507.15,601.72 L505.33,600.34 L503.51,598.96 L501.68,597.57 L499.85,596.17 L498.01,594.76 L496.16,593.34 L494.32,591.92 L492.46,590.49 L490.60,589.05 L488.74,587.60 L486.87,586.15 L485.00,584.68 L483.12,583.21 L481.23,581.73 L479.34,580.24 L477.45,578.74 L475.55,577.24 L473.64,575.72 L471.73,574.20 L469.81,572.66 L467.89,571.12 L465.96,569.57 L464.03,568.01 L462.09,566.44 L460.14,564.85 L458.19,563.26 L456.23,561.66 L454.27,560.05 L452.30,558.43 L450.33,556.80 L448.35,555.16 L446.36,553.51 L444.37,551.85 L442.37,550.18 L440.36,548.49 L438.35,546.80 L436.33,545.09 L434.31,543.37 L432.28,541.64 L430.24,539.90 L428.20,538.15 L426.15,536.39 L424.09,534.61 L422.03,532.82 L419.96,531.02 L417.88,529.20 L415.80,527.38 L413.71,525.54 L411.61,523.68 L409.51,521.82 L407.40,519.94 L405.28,518.04 L403.15,516.13 L401.02,514.21 L398.88,512.27 L396.73,510.32 L394.58,508.36 L392.41,506.37 L390.24,504.38 L388.07,502.36 L385.88,500.34 L383.69,498.29 L381.49,496.23 L379.28,494.15 L377.06,492.06 L374.84,489.95 L372.60,487.82 L370.36,485.67 L368.11,483.50 L365.85,481.32 L363.59,479.12 L361.31,476.90 L359.03,474.66 L356.74,472.40 L354.44,470.12 L352.13,467.82 L349.81,465.50 L347.48,463.15 L345.14,460.79 L342.80,458.41 L340.44,456.00 L338.08,453.57 L335.71,451.11 L333.32,448.64 L330.93,446.13 L328.53,443.61 L326.11,441.06 L323.69,438.48 L321.26,435.88 L318.82,433.25 L316.37,430.59 L313.90,427.91 L311.43,425.20 L308.95,422.46 L306.45,419.69 L303.95,416.89 L301.43,414.06 L298.90,411.19 L296.37,408.30 L293.82,405.37 L291.26,402.41 L288.69,399.41 L286.10,396.38 L283.51,393.31 L280.90,390.21 L278.28,387.07 L275.65,383.89 L273.01,380.67 L270.36,377.41 L267.69,374.10 L265.01,370.76 L262.32,367.37 L259.62,363.93 L256.90,360.45 L254.17,356.92 L251.43,353.34 L248.67,349.71 L245.91,346.03 L243.12,342.30 L240.33,338.51 L237.52,334.66 L234.70,330.76 L231.86,326.79 L229.01,322.77 L226.15,318.68 L223.27,314.52 L220.38,310.30 L217.47,306.00 L214.55,301.64 L211.62,297.19 L208.67,292.67 L205.71,288.07 L202.73,283.39 L199.74,278.61 L196.73,273.75 L193.71,268.80 L190.68,263.74 L187.63,258.59 L184.57,253.33 L181.49,247.96 L178.40,242.48 L175.30,236.88 L172.18,231.15 L169.05,225.30 L165.91,219.30 L162.75,213.17 L159.59,206.88 L156.41,200.44 L153.22,193.83 L150.03,187.05 L146.82,180.08 L143.61,172.92 L140.39,165.56 L137.16,157.98 L133.94,150.17 L130.71,142.12 L127.48,133.80 L124.25,125.21 L121.04,116.32 L117.83,107.12 L114.64,97.57 L111.46,87.65 L108.31,77.34 L105.20,66.60 L102.12,55.39 L99.09,43.67 L96.12,31.40 M637.67,642.31 L635.89,641.14 L634.11,639.96 L632.33,638.77 L630.54,637.58 L628.74,636.38 L626.95,635.17 L625.14,633.96 L623.34,632.75 L621.52,631.53 L619.71,630.30 L617.89,629.07 L616.06,627.83 L614.23,626.59 L612.40,625.34 L610.56,624.08 L608.72,622.82 L606.87,621.55 L605.02,620.27 L603.16,618.99 L601.30,617.70 L599.43,616.41 L597.56,615.11 L595.68,613.80 L593.80,612.48 L591.91,611.16 L590.02,609.84 L588.12,608.50 L586.22,607.16 L584.31,605.81 L582.40,604.45 L580.49,603.09 L578.56,601.72 L576.64,600.34 L574.70,598.96 L572.76,597.57 L570.82,596.17 L568.87,594.76 L566.92,593.34 L564.96,591.92 L562.99,590.49 L561.02,589.05 L559.04,587.60 L557.06,586.15 L555.07,584.68 L553.08,583.21 L551.08,581.73 L549.07,580.24 L547.06,578.74 L545.05,577.24 L543.02,575.72 L541.00,574.20 L538.96,572.66 L536.92,571.12 L534.87,569.57 L532.82,568.01 L530.76,566.44 L528.69,564.85 L526.62,563.26 L524.54,561.66 L522.46,560.05 L520.37,558.43 L518.27,556.80 L516.17,555.16 L514.06,553.51 L511.94,551.85 L509.81,550.18 L507.68,548.49 L505.54,546.80 L503.40,545.09 L501.25,543.37 L499.09,541.64 L496.92,539.90 L494.75,538.15 L492.57,536.39 L490.38,534.61 L488.19,532.82 L485.99,531.02 L483.78,529.20 L481.56,527.38 L479.34,525.54 L477.10,523.68 L474.86,521.82 L472.62,519.94 L470.36,518.04 L468.10,516.13 L465.83,514.21 L463.55,512.27 L461.26,510.32 L458.96,508.36 L456.66,506.37 L454.35,504.38 L452.03,502.36 L449.70,500.34 L447.36,498.29 L445.01,496.23 L442.66,494.15 L440.29,492.06 L437.92,489.95 L435.54,487.82 L433.15,485.67 L430.75,483.50 L428.34,481.32 L425.92,479.12 L423.49,476.90 L421.05,474.66 L418.61,472.40 L416.15,470.12 L413.68,467.82 L411.21,465.50 L408.72,463.15 L406.22,460.79 L403.72,458.41 L401.20,456.00 L398.67,453.57 L396.13,451.11 L393.58,448.64 L391.02,446.13 L388.45,443.61 L385.87,441.06 L383.28,438.48 L380.67,435.88 L378.06,433.25 L375.43,430.59 L372.79,427.91 L370.14,425.20 L367.48,422.46 L364.81,419.69 L362.12,416.89 L359.42,414.06 L356.71,411.19 L353.99,408.30 L351.25,405.37 L348.51,402.41 L345.74,399.41 L342.97,396.38 L340.18,393.31 L337.38,390.21 L334.57,387.07 L331.74,383.89 L328.90,380.67 L326.04,377.41 L323.17,374.10 L320.29,370.76 L317.39,367.37 L314.48,363.93 L311.55,360.45 L308.60,356.92 L305.65,353.34 L302.67,349.71 L299.68,346.03 L296.68,342.30 L293.66,338.51 L290.63,334.66 L287.57,330.76 L284.51,326.79 L281.42,322.77 L278.32,318.68 L275.20,314.52 L272.07,310.30 L268.92,306.00 L265.75,301.64 L262.56,297.19 L259.36,292.67 L256.14,288.07 L252.90,283.39 L249.64,278.61 L246.37,273.75 L243.08,268.80 L239.77,263.74 L236.44,258.59 L233.09,253.33 L229.73,247.96 L226.35,242.48 L222.94,236.88 L219.53,231.15 L216.09,225.30 L212.64,219.30 L209.16,213.17 L205.68,206.88 L202.17,200.44 L198.65,193.83 L195.11,187.05 L191.56,180.08 L187.99,172.92 L184.41,165.56 L180.82,157.98 L177.21,150.17 L173.60,142.12 L169.98,133.80 L166.35,125.21 L162.72,116.32 L159.09,107.12 L155.46,97.57 L151.84,87.65 L148.23,77.34 L144.64,66.60 L141.08,55.39 L137.54,43.67 L134.05,31.40 M712.37,642.31 L710.50,641.14 L708.62,639.96 L706.73,638.77 L704.85,637.58 L702.95,636.38 L701.06,635.17 L699.16,633.96 L697.25,632.75 L695.34,631.53 L693.42,630.30 L691.50,629.07 L689.57,627.83 L687.64,626.59 L685.71,625.34 L683.77,624.08 L681.82,622.82 L679.87,621.55 L677.91,620.27 L675.95,618.99 L673.99,617.70 L672.02,616.41 L670.04,615.11 L668.06,613.80 L666.07,612.48 L664.08,611.16 L662.08,609.84 L660.08,608.50 L658.07,607.16 L656.05,605.81 L654.03,604.45 L652.01,603.09 L649.98,601.72 L647.94,600.34 L645.90,598.96 L643.85,597.57 L641.79,596.17 L639.73,594.76 L637.67,593.34 L635.60,591.92 L633.52,590.49 L631.44,589.05 L629.35,587.60 L627.25,586.15 L625.15,584.68 L623.04,583.21 L620.93,581.73 L618.81,580.24 L616.68,578.74 L614.55,577.24 L612.41,575.72 L610.26,574.20 L608.11,572.66 L605.95,571.12 L603.78,569.57 L601.61,568.01 L599.43,566.44 L597.25,564.85 L595.05,563.26 L592.85,561.66 L590.65,560.05 L588.43,558.43 L586.21,556.80 L583.98,555.16 L581.75,553.51 L579.51,551.85 L577.26,550.18 L575.00,548.49 L572.74,546.80 L570.46,545.09 L568.19,543.37 L565.90,541.64 L563.60,539.90 L561.30,538.15 L558.99,536.39 L556.67,534.61 L554.35,532.82 L552.01,531.02 L549.67,529.20 L547.32,527.38 L544.96,525.54 L542.59,523.68 L540.22,521.82 L537.84,519.94 L535.44,518.04 L533.04,516.13 L530.63,514.21 L528.21,512.27 L525.79,510.32 L523.35,508.36 L520.91,506.37 L518.45,504.38 L515.99,502.36 L513.51,500.34 L511.03,498.29 L508.54,496.23 L506.04,494.15 L503.53,492.06 L501.01,489.95 L498.48,487.82 L495.94,485.67 L493.39,483.50 L490.82,481.32 L488.25,479.12 L485.67,476.90 L483.08,474.66 L480.48,472.40 L477.86,470.12 L475.24,467.82 L472.60,465.50 L469.96,463.15 L467.30,460.79 L464.63,458.41 L461.95,456.00 L459.26,453.57 L456.56,451.11 L453.84,448.64 L451.12,446.13 L448.38,443.61 L445.63,441.06 L442.86,438.48 L440.09,435.88 L437.30,433.25 L434.50,430.59 L431.68,427.91 L428.86,425.20 L426.02,422.46 L423.16,419.69 L420.30,416.89 L417.42,414.06 L414.52,411.19 L411.61,408.30 L408.69,405.37 L405.75,402.41 L402.80,399.41 L399.84,396.38 L396.86,393.31 L393.86,390.21 L390.85,387.07 L387.82,383.89 L384.78,380.67 L381.72,377.41 L378.65,374.10 L375.56,370.76 L372.45,367.37 L369.33,363.93 L366.19,360.45 L363.04,356.92 L359.86,353.34 L356.67,349.71 L353.46,346.03 L350.24,342.30 L346.99,338.51 L343.73,334.66 L340.45,330.76 L337.15,326.79 L333.83,322.77 L330.49,318.68 L327.13,314.52 L323.76,310.30 L320.36,306.00 L316.94,301.64 L313.51,297.19 L310.05,292.67 L306.57,288.07 L303.07,283.39 L299.55,278.61 L296.00,273.75 L292.44,268.80 L288.85,263.74 L285.25,258.59 L281.62,253.33 L277.96,247.96 L274.29,242.48 L270.59,236.88 L266.87,231.15 L263.13,225.30 L259.36,219.30 L255.57,213.17 L251.76,206.88 L247.93,200.44 L244.07,193.83 L240.20,187.05 L236.30,180.08 L232.37,172.92 L228.43,165.56 L224.47,157.98 L220.49,150.17 L216.49,142.12 L212.48,133.80 L208.45,125.21 L204.40,116.32 L200.35,107.12 L196.29,97.57 L192.22,87.65 L188.15,77.34 L184.09,66.60 L180.04,55.39 L176.00,43.67 L171.99,31.40 M787.07,642.31 L785.10,641.14 L783.12,639.96 L781.14,638.77 L779.16,637.58 L777.17,636.38 L775.17,635.17 L773.17,633.96 L771.16,632.75 L769.15,631.53 L767.13,630.30 L765.11,629.07 L763.09,627.83 L761.05,626.59 L759.02,625.34 L756.97,624.08 L754.92,622.82 L752.87,621.55 L750.81,620.27 L748.75,618.99 L746.68,617.70 L744.60,616.41 L742.52,615.11 L740.43,613.80 L738.34,612.48 L736.24,611.16 L734.14,609.84 L732.03,608.50 L729.91,607.16 L727.79,605.81 L725.66,604.45 L723.53,603.09 L721.39,601.72 L719.24,600.34 L717.09,598.96 L714.93,597.57 L712.77,596.17 L710.60,594.76 L708.42,593.34 L706.24,591.92 L704.05,590.49 L701.85,589.05 L699.65,587.60 L697.44,586.15 L695.22,584.68 L693.00,583.21 L690.77,581.73 L688.54,580.24 L686.29,578.74 L684.05,577.24 L681.79,575.72 L679.53,574.20 L677.26,572.66 L674.98,571.12 L672.69,569.57 L670.40,568.01 L668.10,566.44 L665.80,564.85 L663.48,563.26 L661.16,561.66 L658.83,560.05 L656.50,558.43 L654.15,556.80 L651.80,555.16 L649.44,553.51 L647.08,551.85 L644.70,550.18 L642.32,548.49 L639.93,546.80 L637.53,545.09 L635.12,543.37 L632.71,541.64 L630.28,539.90 L627.85,538.15 L625.41,536.39 L622.96,534.61 L620.51,532.82 L618.04,531.02 L615.56,529.20 L613.08,527.38 L610.59,525.54 L608.09,523.68 L605.58,521.82 L603.06,519.94 L600.53,518.04 L597.99,516.13 L595.44,514.21 L592.88,512.27 L590.31,510.32 L587.74,508.36 L585.15,506.37 L582.55,504.38 L579.95,502.36 L577.33,500.34 L574.70,498.29 L572.07,496.23 L569.42,494.15 L566.76,492.06 L564.09,489.95 L561.41,487.82 L558.72,485.67 L556.02,483.50 L553.31,481.32 L550.59,479.12 L547.85,476.90 L545.10,474.66 L542.35,472.40 L539.58,470.12 L536.80,467.82 L534.00,465.50 L531.20,463.15 L528.38,460.79 L525.55,458.41 L522.71,456.00 L519.85,453.57 L516.98,451.11 L514.10,448.64 L511.21,446.13 L508.30,443.61 L505.38,441.06 L502.45,438.48 L499.50,435.88 L496.54,433.25 L493.57,430.59 L490.58,427.91 L487.57,425.20 L484.55,422.46 L481.52,419.69 L478.47,416.89 L475.41,414.06 L472.33,411.19 L469.24,408.30 L466.13,405.37 L463.00,402.41 L459.86,399.41 L456.70,396.38 L453.53,393.31 L450.34,390.21 L447.13,387.07 L443.91,383.89 L440.67,380.67 L437.41,377.41 L434.13,374.10 L430.83,370.76 L427.52,367.37 L424.19,363.93 L420.84,360.45 L417.47,356.92 L414.08,353.34 L410.67,349.71 L407.24,346.03 L403.79,342.30 L400.32,338.51 L396.83,334.66 L393.32,330.76 L389.79,326.79 L386.24,322.77 L382.66,318.68 L379.07,314.52 L375.45,310.30 L371.80,306.00 L368.14,301.64 L364.45,297.19 L360.74,292.67 L357.00,288.07 L353.24,283.39 L349.45,278.61 L345.64,273.75 L341.80,268.80 L337.94,263.74 L334.05,258.59 L330.14,253.33 L326.20,247.96 L322.23,242.48 L318.24,236.88 L314.22,231.15 L310.17,225.30 L306.09,219.30 L301.98,213.17 L297.85,206.88 L293.69,200.44 L289.50,193.83 L285.28,187.05 L281.03,180.08 L276.76,172.92 L272.46,165.56 L268.13,157.98 L263.77,150.17 L259.38,142.12 L254.98,133.80 L250.54,125.21 L246.09,116.32 L241.61,107.12 L237.11,97.57 L232.60,87.65 L228.07,77.34 L223.54,66.60 L218.99,55.39 L214.46,43.67 L209.93,31.40 M861.77,642.31 L859.70,641.14 L857.63,639.96 L855.55,638.77 L853.47,637.58 L851.38,636.38 L849.28,635.17 L847.18,633.96 L845.07,632.75 L842.96,631.53 L840.85,630.30 L838.72,629.07 L836.60,627.83 L834.46,626.59 L832.32,625.34 L830.18,624.08 L828.03,622.82 L825.87,621.55 L823.71,620.27 L821.54,618.99 L819.37,617.70 L817.19,616.41 L815.00,615.11 L812.81,613.80 L810.61,612.48 L808.41,611.16 L806.19,609.84 L803.98,608.50 L801.76,607.16 L799.53,605.81 L797.29,604.45 L795.05,603.09 L792.80,601.72 L790.55,600.34 L788.28,598.96 L786.02,597.57 L783.74,596.17 L781.46,594.76 L779.17,593.34 L776.88,591.92 L774.58,590.49 L772.27,589.05 L769.95,587.60 L767.63,586.15 L765.30,584.68 L762.96,583.21 L760.62,581.73 L758.27,580.24 L755.91,578.74 L753.54,577.24 L751.17,575.72 L748.79,574.20 L746.40,572.66 L744.01,571.12 L741.60,569.57 L739.19,568.01 L736.77,566.44 L734.35,564.85 L731.91,563.26 L729.47,561.66 L727.02,560.05 L724.56,558.43 L722.10,556.80 L719.62,555.16 L717.14,553.51 L714.65,551.85 L712.15,550.18 L709.64,548.49 L707.12,546.80 L704.59,545.09 L702.06,543.37 L699.52,541.64 L696.96,539.90 L694.40,538.15 L691.83,536.39 L689.25,534.61 L686.66,532.82 L684.07,531.02 L681.46,529.20 L678.84,527.38 L676.21,525.54 L673.58,523.68 L670.93,521.82 L668.27,519.94 L665.61,518.04 L662.93,516.13 L660.25,514.21 L657.55,512.27 L654.84,510.32 L652.13,508.36 L649.40,506.37 L646.66,504.38 L643.91,502.36 L641.15,500.34 L638.38,498.29 L635.59,496.23 L632.80,494.15 L630.00,492.06 L627.18,489.95 L624.35,487.82 L621.51,485.67 L618.66,483.50 L615.79,481.32 L612.92,479.12 L610.03,476.90 L607.13,474.66 L604.22,472.40 L601.29,470.12 L598.35,467.82 L595.40,465.50 L592.44,463.15 L589.46,460.79 L586.47,458.41 L583.46,456.00 L580.44,453.57 L577.41,451.11 L574.36,448.64 L571.30,446.13 L568.23,443.61 L565.14,441.06 L562.04,438.48 L558.92,435.88 L555.78,433.25 L552.63,430.59 L549.47,427.91 L546.29,425.20 L543.09,422.46 L539.88,419.69 L536.65,416.89 L533.40,414.06 L530.14,411.19 L526.86,408.30 L523.57,405.37 L520.25,402.41 L516.92,399.41 L513.57,396.38 L510.21,393.31 L506.82,390.21 L503.42,387.07 L499.99,383.89 L496.55,380.67 L493.09,377.41 L489.61,374.10 L486.11,370.76 L482.59,367.37 L479.05,363.93 L475.48,360.45 L471.90,356.92 L468.30,353.34 L464.67,349.71 L461.02,346.03 L457.35,342.30 L453.66,338.51 L449.94,334.66 L446.20,330.76 L442.44,326.79 L438.65,322.77 L434.83,318.68 L431.00,314.52 L427.13,310.30 L423.25,306.00 L419.33,301.64 L415.39,297.19 L411.42,292.67 L407.43,288.07 L403.41,283.39 L399.36,278.61 L395.28,273.75 L391.17,268.80 L387.03,263.74 L382.86,258.59 L378.66,253.33 L374.44,247.96 L370.18,242.48 L365.88,236.88 L361.56,231.15 L357.20,225.30 L352.82,219.30 L348.39,213.17 L343.94,206.88 L339.45,200.44 L334.92,193.83 L330.36,187.05 L325.77,180.08 L321.14,172.92 L316.48,165.56 L311.78,157.98 L307.05,150.17 L302.28,142.12 L297.47,133.80 L292.64,125.21 L287.77,116.32 L282.87,107.12 L277.94,97.57 L272.98,87.65 L267.99,77.34 L262.98,66.60 L257.95,55.39 L252.91,43.67 L247.86,31.40 M936.47,642.31 L934.31,641.14 L932.14,639.96 L929.96,638.77 L927.78,637.58 L925.59,636.38 L923.39,635.17 L921.19,633.96 L918.99,632.75 L916.78,631.53 L914.56,630.30 L912.34,629.07 L910.11,627.83 L907.87,626.59 L905.63,625.34 L903.38,624.08 L901.13,622.82 L898.87,621.55 L896.61,620.27 L894.33,618.99 L892.06,617.70 L889.77,616.41 L887.48,615.11 L885.18,613.80 L882.88,612.48 L880.57,611.16 L878.25,609.84 L875.93,608.50 L873.60,607.16 L871.26,605.81 L868.92,604.45 L866.57,603.09 L864.21,601.72 L861.85,600.34 L859.48,598.96 L857.10,597.57 L854.71,596.17 L852.32,594.76 L849.92,593.34 L847.52,591.92 L845.10,590.49 L842.68,589.05 L840.25,587.60 L837.82,586.15 L835.37,584.68 L832.92,583.21 L830.47,581.73 L828.00,580.24 L825.53,578.74 L823.04,577.24 L820.55,575.72 L818.06,574.20 L815.55,572.66 L813.04,571.12 L810.51,569.57 L807.98,568.01 L805.45,566.44 L802.90,564.85 L800.34,563.26 L797.78,561.66 L795.21,560.05 L792.63,558.43 L790.04,556.80 L787.44,555.16 L784.83,553.51 L782.22,551.85 L779.59,550.18 L776.96,548.49 L774.31,546.80 L771.66,545.09 L769.00,543.37 L766.33,541.64 L763.64,539.90 L760.95,538.15 L758.25,536.39 L755.54,534.61 L752.82,532.82 L750.09,531.02 L747.35,529.20 L744.60,527.38 L741.84,525.54 L739.07,523.68 L736.29,521.82 L733.49,519.94 L730.69,518.04 L727.88,516.13 L725.05,514.21 L722.22,512.27 L719.37,510.32 L716.51,508.36 L713.64,506.37 L710.76,504.38 L707.87,502.36 L704.97,500.34 L702.05,498.29 L699.12,496.23 L696.18,494.15 L693.23,492.06 L690.26,489.95 L687.29,487.82 L684.30,485.67 L681.30,483.50 L678.28,481.32 L675.25,479.12 L672.21,476.90 L669.16,474.66 L666.09,472.40 L663.00,470.12 L659.91,467.82 L656.80,465.50 L653.68,463.15 L650.54,460.79 L647.38,458.41 L644.22,456.00 L641.03,453.57 L637.84,451.11 L634.63,448.64 L631.40,446.13 L628.15,443.61 L624.90,441.06 L621.62,438.48 L618.33,435.88 L615.02,433.25 L611.70,430.59 L608.36,427.91 L605.00,425.20 L601.63,422.46 L598.23,419.69 L594.82,416.89 L591.40,414.06 L587.95,411.19 L584.49,408.30 L581.00,405.37 L577.50,402.41 L573.98,399.41 L570.44,396.38 L566.88,393.31 L563.30,390.21 L559.70,387.07 L556.08,383.89 L552.44,380.67 L548.77,377.41 L545.09,374.10 L541.38,370.76 L537.65,367.37 L533.90,363.93 L530.13,360.45 L526.33,356.92 L522.51,353.34 L518.67,349.71 L514.80,346.03 L510.91,342.30 L506.99,338.51 L503.04,334.66 L499.07,330.76 L495.08,326.79 L491.06,322.77 L487.01,318.68 L482.93,314.52 L478.82,310.30 L474.69,306.00 L470.53,301.64 L466.33,297.19 L462.11,292.67 L457.86,288.07 L453.58,283.39 L449.26,278.61 L444.91,273.75 L440.53,268.80 L436.12,263.74 L431.67,258.59 L427.19,253.33 L422.67,247.96 L418.12,242.48 L413.53,236.88 L408.91,231.15 L404.24,225.30 L399.54,219.30 L394.80,213.17 L390.03,206.88 L385.21,200.44 L380.35,193.83 L375.45,187.05 L370.51,180.08 L365.53,172.92 L360.50,165.56 L355.43,157.98 L350.32,150.17 L345.17,142.12 L339.97,133.80 L334.73,125.21 L329.45,116.32 L324.13,107.12 L318.76,97.57 L313.36,87.65 L307.91,77.34 L302.43,66.60 L296.91,55.39 L291.37,43.67 L285.80,31.40 M1011.17,642.31 L1008.91,641.14 L1006.64,639.96 L1004.37,638.77 L1002.08,637.58 L999.80,636.38 L997.50,635.17 L995.21,633.96 L992.90,632.75 L990.59,631.53 L988.27,630.30 L985.95,629.07 L983.62,627.83 L981.28,626.59 L978.94,625.34 L976.59,624.08 L974.23,622.82 L971.87,621.55 L969.50,620.27 L967.13,618.99 L964.74,617.70 L962.36,616.41 L959.96,615.11 L957.56,613.80 L955.15,612.48 L952.73,611.16 L950.31,609.84 L947.88,608.50 L945.44,607.16 L943.00,605.81 L940.55,604.45 L938.09,603.09 L935.62,601.72 L933.15,600.34 L930.67,598.96 L928.18,597.57 L925.69,596.17 L923.19,594.76 L920.68,593.34 L918.16,591.92 L915.63,590.49 L913.10,589.05 L910.56,587.60 L908.01,586.15 L905.45,584.68 L902.89,583.21 L900.31,581.73 L897.73,580.24 L895.14,578.74 L892.54,577.24 L889.94,575.72 L887.32,574.20 L884.70,572.66 L882.07,571.12 L879.42,569.57 L876.78,568.01 L874.12,566.44 L871.45,564.85 L868.77,563.26 L866.09,561.66 L863.40,560.05 L860.69,558.43 L857.98,556.80 L855.26,555.16 L852.53,553.51 L849.78,551.85 L847.03,550.18 L844.27,548.49 L841.50,546.80 L838.72,545.09 L835.93,543.37 L833.13,541.64 L830.32,539.90 L827.50,538.15 L824.67,536.39 L821.83,534.61 L818.98,532.82 L816.12,531.02 L813.24,529.20 L810.36,527.38 L807.47,525.54 L804.56,523.68 L801.64,521.82 L798.71,519.94 L795.77,518.04 L792.82,516.13 L789.86,514.21 L786.89,512.27 L783.90,510.32 L780.90,508.36 L777.89,506.37 L774.87,504.38 L771.83,502.36 L768.78,500.34 L765.72,498.29 L762.65,496.23 L759.56,494.15 L756.46,492.06 L753.35,489.95 L750.22,487.82 L747.09,485.67 L743.93,483.50 L740.77,481.32 L737.58,479.12 L734.39,476.90 L731.18,474.66 L727.96,472.40 L724.72,470.12 L721.47,467.82 L718.20,465.50 L714.91,463.15 L711.62,460.79 L708.30,458.41 L704.97,456.00 L701.63,453.57 L698.26,451.11 L694.89,448.64 L691.49,446.13 L688.08,443.61 L684.65,441.06 L681.21,438.48 L677.74,435.88 L674.26,433.25 L670.77,430.59 L667.25,427.91 L663.72,425.20 L660.16,422.46 L656.59,419.69 L653.00,416.89 L649.39,414.06 L645.76,411.19 L642.11,408.30 L638.44,405.37 L634.75,402.41 L631.04,399.41 L627.31,396.38 L623.55,393.31 L619.78,390.21 L615.98,387.07 L612.16,383.89 L608.32,380.67 L604.46,377.41 L600.57,374.10 L596.66,370.76 L592.72,367.37 L588.76,363.93 L584.77,360.45 L580.76,356.92 L576.73,353.34 L572.67,349.71 L568.58,346.03 L564.46,342.30 L560.32,338.51 L556.15,334.66 L551.95,330.76 L547.72,326.79 L543.46,322.77 L539.18,318.68 L534.86,314.52 L530.51,310.30 L526.13,306.00 L521.72,301.64 L517.28,297.19 L512.80,292.67 L508.29,288.07 L503.74,283.39 L499.16,278.61 L494.55,273.75 L489.90,268.80 L485.21,263.74 L480.48,258.59 L475.71,253.33 L470.91,247.96 L466.06,242.48 L461.18,236.88 L456.25,231.15 L451.28,225.30 L446.27,219.30 L441.21,213.17 L436.11,206.88 L430.97,200.44 L425.77,193.83 L420.53,187.05 L415.25,180.08 L409.91,172.92 L404.52,165.56 L399.09,157.98 L393.60,150.17 L388.06,142.12 L382.47,133.80 L376.83,125.21 L371.14,116.32 L365.39,107.12 L359.59,97.57 L353.73,87.65 L347.83,77.34 L341.88,66.60 L335.87,55.39 L329.82,43.67 L323.73,31.40 M1085.87,642.31 L1083.51,641.14 L1081.15,639.96 L1078.77,638.77 L1076.39,637.58 L1074.01,636.38 L1071.62,635.17 L1069.22,633.96 L1066.81,632.75 L1064.40,631.53 L1061.98,630.30 L1059.56,629.07 L1057.13,627.83 L1054.69,626.59 L1052.25,625.34 L1049.79,624.08 L1047.34,622.82 L1044.87,621.55 L1042.40,620.27 L1039.92,618.99 L1037.43,617.70 L1034.94,616.41 L1032.44,615.11 L1029.93,613.80 L1027.42,612.48 L1024.90,611.16 L1022.37,609.84 L1019.83,608.50 L1017.29,607.16 L1014.74,605.81 L1012.18,604.45 L1009.61,603.09 L1007.04,601.72 L1004.46,600.34 L1001.87,598.96 L999.27,597.57 L996.66,596.17 L994.05,594.76 L991.43,593.34 L988.80,591.92 L986.16,590.49 L983.51,589.05 L980.86,587.60 L978.20,586.15 L975.53,584.68 L972.85,583.21 L970.16,581.73 L967.46,580.24 L964.76,578.74 L962.04,577.24 L959.32,575.72 L956.59,574.20 L953.84,572.66 L951.09,571.12 L948.34,569.57 L945.57,568.01 L942.79,566.44 L940.00,564.85 L937.20,563.26 L934.40,561.66 L931.58,560.05 L928.76,558.43 L925.92,556.80 L923.08,555.16 L920.22,553.51 L917.35,551.85 L914.48,550.18 L911.59,548.49 L908.70,546.80 L905.79,545.09 L902.87,543.37 L899.94,541.64 L897.00,539.90 L894.05,538.15 L891.09,536.39 L888.12,534.61 L885.14,532.82 L882.14,531.02 L879.14,529.20 L876.12,527.38 L873.09,525.54 L870.05,523.68 L867.00,521.82 L863.93,519.94 L860.86,518.04 L857.77,516.13 L854.67,514.21 L851.55,512.27 L848.43,510.32 L845.29,508.36 L842.14,506.37 L838.97,504.38 L835.79,502.36 L832.60,500.34 L829.39,498.29 L826.18,496.23 L822.94,494.15 L819.70,492.06 L816.44,489.95 L813.16,487.82 L809.87,485.67 L806.57,483.50 L803.25,481.32 L799.92,479.12 L796.57,476.90 L793.21,474.66 L789.83,472.40 L786.43,470.12 L783.02,467.82 L779.60,465.50 L776.15,463.15 L772.69,460.79 L769.22,458.41 L765.73,456.00 L762.22,453.57 L758.69,451.11 L755.15,448.64 L751.59,446.13 L748.01,443.61 L744.41,441.06 L740.79,438.48 L737.16,435.88 L733.50,433.25 L729.83,430.59 L726.14,427.91 L722.43,425.20 L718.70,422.46 L714.95,419.69 L711.17,416.89 L707.38,414.06 L703.57,411.19 L699.73,408.30 L695.88,405.37 L692.00,402.41 L688.10,399.41 L684.17,396.38 L680.23,393.31 L676.26,390.21 L672.26,387.07 L668.25,383.89 L664.21,380.67 L660.14,377.41 L656.05,374.10 L651.93,370.76 L647.79,367.37 L643.62,363.93 L639.42,360.45 L635.20,356.92 L630.94,353.34 L626.66,349.71 L622.36,346.03 L618.02,342.30 L613.65,338.51 L609.25,334.66 L604.82,330.76 L600.37,326.79 L595.87,322.77 L591.35,318.68 L586.79,314.52 L582.20,310.30 L577.58,306.00 L572.92,301.64 L568.22,297.19 L563.49,292.67 L558.72,288.07 L553.91,283.39 L549.07,278.61 L544.18,273.75 L539.26,268.80 L534.29,263.74 L529.29,258.59 L524.24,253.33 L519.14,247.96 L514.01,242.48 L508.82,236.88 L503.60,231.15 L498.32,225.30 L493.00,219.30 L487.62,213.17 L482.20,206.88 L476.73,200.44 L471.20,193.83 L465.62,187.05 L459.98,180.08 L454.29,172.92 L448.55,165.56 L442.74,157.98 L436.88,150.17 L430.96,142.12 L424.97,133.80 L418.93,125.21 L412.82,116.32 L406.65,107.12 L400.41,97.57 L394.11,87.65 L387.75,77.34 L381.32,66.60 L374.83,55.39 L368.28,43.67 L361.67,31.40 M1160.58,642.31 L1158.12,641.14 L1155.65,639.96 L1153.18,638.77 L1150.70,637.58 L1148.22,636.38 L1145.73,635.17 L1143.23,633.96 L1140.73,632.75 L1138.21,631.53 L1135.70,630.30 L1133.17,629.07 L1130.64,627.83 L1128.10,626.59 L1125.55,625.34 L1123.00,624.08 L1120.44,622.82 L1117.87,621.55 L1115.30,620.27 L1112.71,618.99 L1110.12,617.70 L1107.53,616.41 L1104.92,615.11 L1102.31,613.80 L1099.69,612.48 L1097.06,611.16 L1094.43,609.84 L1091.78,608.50 L1089.13,607.16 L1086.47,605.81 L1083.81,604.45 L1081.13,603.09 L1078.45,601.72 L1075.76,600.34 L1073.06,598.96 L1070.35,597.57 L1067.64,596.17 L1064.91,594.76 L1062.18,593.34 L1059.44,591.92 L1056.69,590.49 L1053.93,589.05 L1051.16,587.60 L1048.39,586.15 L1045.60,584.68 L1042.81,583.21 L1040.00,581.73 L1037.19,580.24 L1034.37,578.74 L1031.54,577.24 L1028.70,575.72 L1025.85,574.20 L1022.99,572.66 L1020.12,571.12 L1017.25,569.57 L1014.36,568.01 L1011.46,566.44 L1008.55,564.85 L1005.64,563.26 L1002.71,561.66 L999.77,560.05 L996.82,558.43 L993.86,556.80 L990.89,555.16 L987.91,553.51 L984.92,551.85 L981.92,550.18 L978.91,548.49 L975.89,546.80 L972.85,545.09 L969.81,543.37 L966.75,541.64 L963.68,539.90 L960.61,538.15 L957.51,536.39 L954.41,534.61 L951.30,532.82 L948.17,531.02 L945.03,529.20 L941.88,527.38 L938.72,525.54 L935.54,523.68 L932.35,521.82 L929.15,519.94 L925.94,518.04 L922.71,516.13 L919.47,514.21 L916.22,512.27 L912.95,510.32 L909.67,508.36 L906.38,506.37 L903.07,504.38 L899.75,502.36 L896.42,500.34 L893.07,498.29 L889.70,496.23 L886.32,494.15 L882.93,492.06 L879.52,489.95 L876.10,487.82 L872.66,485.67 L869.21,483.50 L865.74,481.32 L862.25,479.12 L858.75,476.90 L855.23,474.66 L851.70,472.40 L848.15,470.12 L844.58,467.82 L840.99,465.50 L837.39,463.15 L833.77,460.79 L830.14,458.41 L826.48,456.00 L822.81,453.57 L819.12,451.11 L815.41,448.64 L811.68,446.13 L807.93,443.61 L804.16,441.06 L800.38,438.48 L796.57,435.88 L792.75,433.25 L788.90,430.59 L785.03,427.91 L781.14,425.20 L777.23,422.46 L773.30,419.69 L769.35,416.89 L765.38,414.06 L761.38,411.19 L757.36,408.30 L753.31,405.37 L749.25,402.41 L745.16,399.41 L741.04,396.38 L736.90,393.31 L732.74,390.21 L728.55,387.07 L724.33,383.89 L720.09,380.67 L715.82,377.41 L711.53,374.10 L707.20,370.76 L702.85,367.37 L698.47,363.93 L694.07,360.45 L689.63,356.92 L685.16,353.34 L680.66,349.71 L676.13,346.03 L671.57,342.30 L666.98,338.51 L662.36,334.66 L657.70,330.76 L653.01,326.79 L648.28,322.77 L643.52,318.68 L638.72,314.52 L633.89,310.30 L629.02,306.00 L624.11,301.64 L619.16,297.19 L614.18,292.67 L609.15,288.07 L604.08,283.39 L598.97,278.61 L593.82,273.75 L588.62,268.80 L583.38,263.74 L578.09,258.59 L572.76,253.33 L567.38,247.96 L561.95,242.48 L556.47,236.88 L550.94,231.15 L545.36,225.30 L539.72,219.30 L534.03,213.17 L528.29,206.88 L522.48,200.44 L516.62,193.83 L510.70,187.05 L504.72,180.08 L498.68,172.92 L492.57,165.56 L486.40,157.98 L480.16,150.17 L473.85,142.12 L467.47,133.80 L461.02,125.21 L454.50,116.32 L447.91,107.12 L441.24,97.57 L434.49,87.65 L427.67,77.34 L420.77,66.60 L413.79,55.39 L406.74,43.67 L399.61,31.40 M1235.28,642.31 L1232.72,641.14 L1230.16,639.96 L1227.59,638.77 L1225.01,637.58 L1222.43,636.38 L1219.84,635.17 L1217.24,633.96 L1214.64,632.75 L1212.03,631.53 L1209.41,630.30 L1206.78,629.07 L1204.15,627.83 L1201.51,626.59 L1198.86,625.34 L1196.20,624.08 L1193.54,622.82 L1190.87,621.55 L1188.19,620.27 L1185.51,618.99 L1182.81,617.70 L1180.11,616.41 L1177.40,615.11 L1174.68,613.80 L1171.96,612.48 L1169.23,611.16 L1166.48,609.84 L1163.73,608.50 L1160.98,607.16 L1158.21,605.81 L1155.44,604.45 L1152.65,603.09 L1149.86,601.72 L1147.06,600.34 L1144.25,598.96 L1141.44,597.57 L1138.61,596.17 L1135.77,594.76 L1132.93,593.34 L1130.08,591.92 L1127.22,590.49 L1124.35,589.05 L1121.46,587.60 L1118.58,586.15 L1115.68,584.68 L1112.77,583.21 L1109.85,581.73 L1106.92,580.24 L1103.99,578.74 L1101.04,577.24 L1098.08,575.72 L1095.12,574.20 L1092.14,572.66 L1089.15,571.12 L1086.16,569.57 L1083.15,568.01 L1080.13,566.44 L1077.10,564.85 L1074.07,563.26 L1071.02,561.66 L1067.96,560.05 L1064.89,558.43 L1061.80,556.80 L1058.71,555.16 L1055.61,553.51 L1052.49,551.85 L1049.37,550.18 L1046.23,548.49 L1043.08,546.80 L1039.92,545.09 L1036.75,543.37 L1033.56,541.64 L1030.36,539.90 L1027.16,538.15 L1023.93,536.39 L1020.70,534.61 L1017.46,532.82 L1014.20,531.02 L1010.93,529.20 L1007.64,527.38 L1004.34,525.54 L1001.03,523.68 L997.71,521.82 L994.37,519.94 L991.02,518.04 L987.66,516.13 L984.28,514.21 L980.89,512.27 L977.48,510.32 L974.06,508.36 L970.63,506.37 L967.18,504.38 L963.71,502.36 L960.23,500.34 L956.74,498.29 L953.23,496.23 L949.71,494.15 L946.16,492.06 L942.61,489.95 L939.04,487.82 L935.45,485.67 L931.84,483.50 L928.22,481.32 L924.58,479.12 L920.93,476.90 L917.26,474.66 L913.57,472.40 L909.86,470.12 L906.13,467.82 L902.39,465.50 L898.63,463.15 L894.85,460.79 L891.05,458.41 L887.24,456.00 L883.40,453.57 L879.54,451.11 L875.67,448.64 L871.77,446.13 L867.86,443.61 L863.92,441.06 L859.96,438.48 L855.99,435.88 L851.99,433.25 L847.97,430.59 L843.92,427.91 L839.86,425.20 L835.77,422.46 L831.66,419.69 L827.53,416.89 L823.37,414.06 L819.19,411.19 L814.98,408.30 L810.75,405.37 L806.50,402.41 L802.22,399.41 L797.91,396.38 L793.58,393.31 L789.22,390.21 L784.83,387.07 L780.42,383.89 L775.98,380.67 L771.50,377.41 L767.01,374.10 L762.48,370.76 L757.92,367.37 L753.33,363.93 L748.71,360.45 L744.06,356.92 L739.38,353.34 L734.66,349.71 L729.91,346.03 L725.13,342.30 L720.31,338.51 L715.46,334.66 L710.58,330.76 L705.65,326.79 L700.69,322.77 L695.69,318.68 L690.66,314.52 L685.58,310.30 L680.46,306.00 L675.31,301.64 L670.11,297.19 L664.86,292.67 L659.58,288.07 L654.25,283.39 L648.88,278.61 L643.45,273.75 L637.99,268.80 L632.47,263.74 L626.90,258.59 L621.28,253.33 L615.62,247.96 L609.89,242.48 L604.12,236.88 L598.29,231.15 L592.40,225.30 L586.45,219.30 L580.44,213.17 L574.37,206.88 L568.24,200.44 L562.05,193.83 L555.79,187.05 L549.46,180.08 L543.06,172.92 L536.59,165.56 L530.05,157.98 L523.43,150.17 L516.74,142.12 L509.97,133.80 L503.12,125.21 L496.18,116.32 L489.17,107.12 L482.06,97.57 L474.87,87.65 L467.59,77.34 L460.22,66.60 L452.75,55.39 L445.19,43.67 L437.54,31.40 M1309.98,642.31 L1307.33,641.14 L1304.67,639.96 L1302.00,638.77 L1299.32,637.58 L1296.64,636.38 L1293.95,635.17 L1291.26,633.96 L1288.55,632.75 L1285.84,631.53 L1283.12,630.30 L1280.39,629.07 L1277.66,627.83 L1274.92,626.59 L1272.17,625.34 L1269.41,624.08 L1266.64,622.82 L1263.87,621.55 L1261.09,620.27 L1258.30,618.99 L1255.50,617.70 L1252.70,616.41 L1249.88,615.11 L1247.06,613.80 L1244.23,612.48 L1241.39,611.16 L1238.54,609.84 L1235.69,608.50 L1232.82,607.16 L1229.95,605.81 L1227.07,604.45 L1224.17,603.09 L1221.27,601.72 L1218.37,600.34 L1215.45,598.96 L1212.52,597.57 L1209.58,596.17 L1206.64,594.76 L1203.68,593.34 L1200.72,591.92 L1197.74,590.49 L1194.76,589.05 L1191.77,587.60 L1188.76,586.15 L1185.75,584.68 L1182.73,583.21 L1179.70,581.73 L1176.65,580.24 L1173.60,578.74 L1170.54,577.24 L1167.47,575.72 L1164.38,574.20 L1161.29,572.66 L1158.18,571.12 L1155.07,569.57 L1151.94,568.01 L1148.80,566.44 L1145.66,564.85 L1142.50,563.26 L1139.33,561.66 L1136.14,560.05 L1132.95,558.43 L1129.75,556.80 L1126.53,555.16 L1123.30,553.51 L1120.06,551.85 L1116.81,550.18 L1113.55,548.49 L1110.27,546.80 L1106.98,545.09 L1103.68,543.37 L1100.37,541.64 L1097.04,539.90 L1093.71,538.15 L1090.36,536.39 L1086.99,534.61 L1083.61,532.82 L1080.22,531.02 L1076.82,529.20 L1073.40,527.38 L1069.97,525.54 L1066.53,523.68 L1063.07,521.82 L1059.59,519.94 L1056.11,518.04 L1052.60,516.13 L1049.09,514.21 L1045.56,512.27 L1042.01,510.32 L1038.45,508.36 L1034.87,506.37 L1031.28,504.38 L1027.67,502.36 L1024.05,500.34 L1020.41,498.29 L1016.76,496.23 L1013.09,494.15 L1009.40,492.06 L1005.69,489.95 L1001.97,487.82 L998.24,485.67 L994.48,483.50 L990.71,481.32 L986.92,479.12 L983.11,476.90 L979.28,474.66 L975.44,472.40 L971.57,470.12 L967.69,467.82 L963.79,465.50 L959.87,463.15 L955.93,460.79 L951.97,458.41 L947.99,456.00 L943.99,453.57 L939.97,451.11 L935.93,448.64 L931.87,446.13 L927.78,443.61 L923.68,441.06 L919.55,438.48 L915.40,435.88 L911.23,433.25 L907.03,430.59 L902.81,427.91 L898.57,425.20 L894.31,422.46 L890.02,419.69 L885.70,416.89 L881.36,414.06 L877.00,411.19 L872.61,408.30 L868.19,405.37 L863.74,402.41 L859.27,399.41 L854.78,396.38 L850.25,393.31 L845.70,390.21 L841.11,387.07 L836.50,383.89 L831.86,380.67 L827.19,377.41 L822.49,374.10 L817.75,370.76 L812.99,367.37 L808.19,363.93 L803.36,360.45 L798.49,356.92 L793.59,353.34 L788.66,349.71 L783.69,346.03 L778.69,342.30 L773.65,338.51 L768.57,334.66 L763.45,330.76 L758.29,326.79 L753.10,322.77 L747.86,318.68 L742.59,314.52 L737.27,310.30 L731.91,306.00 L726.50,301.64 L721.05,297.19 L715.55,292.67 L710.01,288.07 L704.42,283.39 L698.78,278.61 L693.09,273.75 L687.35,268.80 L681.56,263.74 L675.71,258.59 L669.81,253.33 L663.85,247.96 L657.84,242.48 L651.76,236.88 L645.63,231.15 L639.43,225.30 L633.18,219.30 L626.85,213.17 L620.46,206.88 L614.00,200.44 L607.47,193.83 L600.87,187.05 L594.20,180.08 L587.45,172.92 L580.62,165.56 L573.71,157.98 L566.71,150.17 L559.63,142.12 L552.47,133.80 L545.21,125.21 L537.87,116.32 L530.43,107.12 L522.89,97.57 L515.25,87.65 L507.51,77.34 L499.66,66.60 L491.71,55.39 L483.65,43.67 L475.48,31.40 M1384.68,642.31 L1381.93,641.14 L1379.17,639.96 L1376.41,638.77 L1373.63,637.58 L1370.85,636.38 L1368.06,635.17 L1365.27,633.96 L1362.46,632.75 L1359.65,631.53 L1356.83,630.30 L1354.01,629.07 L1351.17,627.83 L1348.33,626.59 L1345.48,625.34 L1342.62,624.08 L1339.75,622.82 L1336.87,621.55 L1333.99,620.27 L1331.09,618.99 L1328.19,617.70 L1325.28,616.41 L1322.36,615.11 L1319.44,613.80 L1316.50,612.48 L1313.55,611.16 L1310.60,609.84 L1307.64,608.50 L1304.67,607.16 L1301.68,605.81 L1298.69,604.45 L1295.70,603.09 L1292.69,601.72 L1289.67,600.34 L1286.64,598.96 L1283.60,597.57 L1280.56,596.17 L1277.50,594.76 L1274.43,593.34 L1271.36,591.92 L1268.27,590.49 L1265.18,589.05 L1262.07,587.60 L1258.95,586.15 L1255.83,584.68 L1252.69,583.21 L1249.54,581.73 L1246.39,580.24 L1243.22,578.74 L1240.04,577.24 L1236.85,575.72 L1233.65,574.20 L1230.43,572.66 L1227.21,571.12 L1223.98,569.57 L1220.73,568.01 L1217.47,566.44 L1214.21,564.85 L1210.93,563.26 L1207.63,561.66 L1204.33,560.05 L1201.02,558.43 L1197.69,556.80 L1194.35,555.16 L1191.00,553.51 L1187.63,551.85 L1184.26,550.18 L1180.87,548.49 L1177.46,546.80 L1174.05,545.09 L1170.62,543.37 L1167.18,541.64 L1163.72,539.90 L1160.26,538.15 L1156.78,536.39 L1153.28,534.61 L1149.77,532.82 L1146.25,531.02 L1142.71,529.20 L1139.16,527.38 L1135.60,525.54 L1132.02,523.68 L1128.42,521.82 L1124.81,519.94 L1121.19,518.04 L1117.55,516.13 L1113.89,514.21 L1110.22,512.27 L1106.54,510.32 L1102.84,508.36 L1099.12,506.37 L1095.39,504.38 L1091.63,502.36 L1087.87,500.34 L1084.08,498.29 L1080.28,496.23 L1076.47,494.15 L1072.63,492.06 L1068.78,489.95 L1064.91,487.82 L1061.02,485.67 L1057.12,483.50 L1053.19,481.32 L1049.25,479.12 L1045.29,476.90 L1041.31,474.66 L1037.31,472.40 L1033.29,470.12 L1029.25,467.82 L1025.19,465.50 L1021.11,463.15 L1017.01,460.79 L1012.89,458.41 L1008.75,456.00 L1004.58,453.57 L1000.40,451.11 L996.19,448.64 L991.96,446.13 L987.71,443.61 L983.43,441.06 L979.14,438.48 L974.81,435.88 L970.47,433.25 L966.10,430.59 L961.71,427.91 L957.29,425.20 L952.84,422.46 L948.37,419.69 L943.88,416.89 L939.35,414.06 L934.81,411.19 L930.23,408.30 L925.63,405.37 L920.99,402.41 L916.33,399.41 L911.64,396.38 L906.92,393.31 L902.18,390.21 L897.40,387.07 L892.59,383.89 L887.74,380.67 L882.87,377.41 L877.96,374.10 L873.03,370.76 L868.05,367.37 L863.04,363.93 L858.00,360.45 L852.92,356.92 L847.81,353.34 L842.66,349.71 L837.47,346.03 L832.24,342.30 L826.98,338.51 L821.67,334.66 L816.33,330.76 L810.94,326.79 L805.51,322.77 L800.04,318.68 L794.52,314.52 L788.96,310.30 L783.35,306.00 L777.69,301.64 L771.99,297.19 L766.24,292.67 L760.44,288.07 L754.59,283.39 L748.68,278.61 L742.73,273.75 L736.71,268.80 L730.64,263.74 L724.52,258.59 L718.33,253.33 L712.09,247.96 L705.78,242.48 L699.41,236.88 L692.98,231.15 L686.47,225.30 L679.90,219.30 L673.26,213.17 L666.55,206.88 L659.76,200.44 L652.90,193.83 L645.96,187.05 L638.93,180.08 L631.83,172.92 L624.64,165.56 L617.36,157.98 L609.99,150.17 L602.53,142.12 L594.97,133.80 L587.31,125.21 L579.55,116.32 L571.69,107.12 L563.71,97.57 L555.63,87.65 L547.43,77.34 L539.11,66.60 L530.67,55.39 L522.10,43.67 L513.41,31.40 M1459.38,642.31 L1456.53,641.14 L1453.68,639.96 L1450.81,638.77 L1447.94,637.58 L1445.06,636.38 L1442.18,635.17 L1439.28,633.96 L1436.38,632.75 L1433.47,631.53 L1430.55,630.30 L1427.62,629.07 L1424.68,627.83 L1421.74,626.59 L1418.78,625.34 L1415.82,624.08 L1412.85,622.82 L1409.87,621.55 L1406.88,620.27 L1403.89,618.99 L1400.88,617.70 L1397.87,616.41 L1394.84,615.11 L1391.81,613.80 L1388.77,612.48 L1385.72,611.16 L1382.66,609.84 L1379.59,608.50 L1376.51,607.16 L1373.42,605.81 L1370.32,604.45 L1367.22,603.09 L1364.10,601.72 L1360.97,600.34 L1357.83,598.96 L1354.69,597.57 L1351.53,596.17 L1348.36,594.76 L1345.19,593.34 L1342.00,591.92 L1338.80,590.49 L1335.59,589.05 L1332.37,587.60 L1329.14,586.15 L1325.90,584.68 L1322.65,583.21 L1319.39,581.73 L1316.12,580.24 L1312.83,578.74 L1309.54,577.24 L1306.23,575.72 L1302.91,574.20 L1299.58,572.66 L1296.24,571.12 L1292.89,569.57 L1289.52,568.01 L1286.15,566.44 L1282.76,564.85 L1279.36,563.26 L1275.94,561.66 L1272.52,560.05 L1269.08,558.43 L1265.63,556.80 L1262.17,555.16 L1258.69,553.51 L1255.20,551.85 L1251.70,550.18 L1248.18,548.49 L1244.66,546.80 L1241.11,545.09 L1237.56,543.37 L1233.99,541.64 L1230.40,539.90 L1226.81,538.15 L1223.20,536.39 L1219.57,534.61 L1215.93,532.82 L1212.28,531.02 L1208.61,529.20 L1204.92,527.38 L1201.22,525.54 L1197.51,523.68 L1193.78,521.82 L1190.03,519.94 L1186.27,518.04 L1182.49,516.13 L1178.70,514.21 L1174.89,512.27 L1171.07,510.32 L1167.22,508.36 L1163.36,506.37 L1159.49,504.38 L1155.60,502.36 L1151.69,500.34 L1147.76,498.29 L1143.81,496.23 L1139.85,494.15 L1135.87,492.06 L1131.87,489.95 L1127.85,487.82 L1123.81,485.67 L1119.75,483.50 L1115.68,481.32 L1111.58,479.12 L1107.47,476.90 L1103.33,474.66 L1099.18,472.40 L1095.00,470.12 L1090.80,467.82 L1086.59,465.50 L1082.35,463.15 L1078.09,460.79 L1073.80,458.41 L1069.50,456.00 L1065.17,453.57 L1060.82,451.11 L1056.45,448.64 L1052.05,446.13 L1047.63,443.61 L1043.19,441.06 L1038.72,438.48 L1034.23,435.88 L1029.71,433.25 L1025.17,430.59 L1020.60,427.91 L1016.00,425.20 L1011.38,422.46 L1006.73,419.69 L1002.05,416.89 L997.35,414.06 L992.62,411.19 L987.85,408.30 L983.06,405.37 L978.24,402.41 L973.39,399.41 L968.51,396.38 L963.60,393.31 L958.66,390.21 L953.68,387.07 L948.67,383.89 L943.63,380.67 L938.55,377.41 L933.44,374.10 L928.30,370.76 L923.12,367.37 L917.90,363.93 L912.65,360.45 L907.36,356.92 L902.03,353.34 L896.66,349.71 L891.25,346.03 L885.80,342.30 L880.31,338.51 L874.78,334.66 L869.20,330.76 L863.58,326.79 L857.92,322.77 L852.21,318.68 L846.45,314.52 L840.65,310.30 L834.79,306.00 L828.89,301.64 L822.94,297.19 L816.93,292.67 L810.87,288.07 L804.76,283.39 L798.59,278.61 L792.36,273.75 L786.08,268.80 L779.73,263.74 L773.33,258.59 L766.86,253.33 L760.32,247.96 L753.72,242.48 L747.06,236.88 L740.32,231.15 L733.51,225.30 L726.63,219.30 L719.67,213.17 L712.64,206.88 L705.52,200.44 L698.32,193.83 L691.04,187.05 L683.67,180.08 L676.21,172.92 L668.66,165.56 L661.01,157.98 L653.27,150.17 L645.42,142.12 L637.47,133.80 L629.41,125.21 L621.23,116.32 L612.95,107.12 L604.54,97.57 L596.01,87.65 L587.35,77.34 L578.56,66.60 L569.63,55.39 L560.56,43.67 L551.35,31.40 M1534.08,642.31 L1531.14,641.14 L1528.18,639.96 L1525.22,638.77 L1522.25,637.58 L1519.27,636.38 L1516.29,635.17 L1513.29,633.96 L1510.29,632.75 L1507.28,631.53 L1504.26,630.30 L1501.23,629.07 L1498.19,627.83 L1495.15,626.59 L1492.09,625.34 L1489.03,624.08 L1485.95,622.82 L1482.87,621.55 L1479.78,620.27 L1476.68,618.99 L1473.57,617.70 L1470.45,616.41 L1467.32,615.11 L1464.19,613.80 L1461.04,612.48 L1457.88,611.16 L1454.72,609.84 L1451.54,608.50 L1448.35,607.16 L1445.16,605.81 L1441.95,604.45 L1438.74,603.09 L1435.51,601.72 L1432.27,600.34 L1429.03,598.96 L1425.77,597.57 L1422.50,596.17 L1419.23,594.76 L1415.94,593.34 L1412.64,591.92 L1409.33,590.49 L1406.01,589.05 L1402.68,587.60 L1399.33,586.15 L1395.98,584.68 L1392.61,583.21 L1389.24,581.73 L1385.85,580.24 L1382.45,578.74 L1379.04,577.24 L1375.61,575.72 L1372.18,574.20 L1368.73,572.66 L1365.27,571.12 L1361.80,569.57 L1358.31,568.01 L1354.82,566.44 L1351.31,564.85 L1347.79,563.26 L1344.25,561.66 L1340.71,560.05 L1337.15,558.43 L1333.57,556.80 L1329.98,555.16 L1326.38,553.51 L1322.77,551.85 L1319.14,550.18 L1315.50,548.49 L1311.85,546.80 L1308.18,545.09 L1304.49,543.37 L1300.80,541.64 L1297.09,539.90 L1293.36,538.15 L1289.62,536.39 L1285.86,534.61 L1282.09,532.82 L1278.30,531.02 L1274.50,529.20 L1270.68,527.38 L1266.85,525.54 L1263.00,523.68 L1259.13,521.82 L1255.25,519.94 L1251.35,518.04 L1247.44,516.13 L1243.51,514.21 L1239.56,512.27 L1235.59,510.32 L1231.61,508.36 L1227.61,506.37 L1223.59,504.38 L1219.56,502.36 L1215.50,500.34 L1211.43,498.29 L1207.34,496.23 L1203.23,494.15 L1199.10,492.06 L1194.95,489.95 L1190.78,487.82 L1186.60,485.67 L1182.39,483.50 L1178.16,481.32 L1173.91,479.12 L1169.65,476.90 L1165.36,474.66 L1161.05,472.40 L1156.71,470.12 L1152.36,467.82 L1147.98,465.50 L1143.59,463.15 L1139.17,460.79 L1134.72,458.41 L1130.25,456.00 L1125.76,453.57 L1121.25,451.11 L1116.71,448.64 L1112.15,446.13 L1107.56,443.61 L1102.95,441.06 L1098.31,438.48 L1093.64,435.88 L1088.95,433.25 L1084.23,430.59 L1079.49,427.91 L1074.72,425.20 L1069.91,422.46 L1065.09,419.69 L1060.23,416.89 L1055.34,414.06 L1050.42,411.19 L1045.48,408.30 L1040.50,405.37 L1035.49,402.41 L1030.45,399.41 L1025.38,396.38 L1020.27,393.31 L1015.13,390.21 L1009.96,387.07 L1004.76,383.89 L999.51,380.67 L994.24,377.41 L988.92,374.10 L983.57,370.76 L978.18,367.37 L972.76,363.93 L967.29,360.45 L961.79,356.92 L956.24,353.34 L950.66,349.71 L945.03,346.03 L939.36,342.30 L933.64,338.51 L927.88,334.66 L922.08,330.76 L916.22,326.79 L910.33,322.77 L904.38,318.68 L898.38,314.52 L892.33,310.30 L886.24,306.00 L880.08,301.64 L873.88,297.19 L867.62,292.67 L861.30,288.07 L854.93,283.39 L848.49,278.61 L842.00,273.75 L835.44,268.80 L828.82,263.74 L822.13,258.59 L815.38,253.33 L808.56,247.96 L801.67,242.48 L794.70,236.88 L787.66,231.15 L780.55,225.30 L773.36,219.30 L766.08,213.17 L758.72,206.88 L751.28,200.44 L743.75,193.83 L736.13,187.05 L728.41,180.08 L720.60,172.92 L712.68,165.56 L704.67,157.98 L696.55,150.17 L688.31,142.12 L679.97,133.80 L671.50,125.21 L662.92,116.32 L654.20,107.12 L645.36,97.57 L636.38,87.65 L627.27,77.34 L618.00,66.60 L608.59,55.39 L599.02,43.67 L589.29,31.40 M1608.78,642.31 L1605.74,641.14 L1602.69,639.96 L1599.63,638.77 L1596.56,637.58 L1593.48,636.38 L1590.40,635.17 L1587.31,633.96 L1584.20,632.75 L1581.09,631.53 L1577.97,630.30 L1574.84,629.07 L1571.70,627.83 L1568.56,626.59 L1565.40,625.34 L1562.23,624.08 L1559.06,622.82 L1555.87,621.55 L1552.68,620.27 L1549.47,618.99 L1546.26,617.70 L1543.04,616.41 L1539.80,615.11 L1536.56,613.80 L1533.31,612.48 L1530.05,611.16 L1526.77,609.84 L1523.49,608.50 L1520.20,607.16 L1516.90,605.81 L1513.58,604.45 L1510.26,603.09 L1506.92,601.72 L1503.58,600.34 L1500.22,598.96 L1496.86,597.57 L1493.48,596.17 L1490.09,594.76 L1486.69,593.34 L1483.28,591.92 L1479.86,590.49 L1476.42,589.05 L1472.98,587.60 L1469.52,586.15 L1466.05,584.68 L1462.57,583.21 L1459.08,581.73 L1455.58,580.24 L1452.06,578.74 L1448.53,577.24 L1444.99,575.72 L1441.44,574.20 L1437.88,572.66 L1434.30,571.12 L1430.71,569.57 L1427.11,568.01 L1423.49,566.44 L1419.86,564.85 L1416.22,563.26 L1412.56,561.66 L1408.89,560.05 L1405.21,558.43 L1401.51,556.80 L1397.80,555.16 L1394.08,553.51 L1390.34,551.85 L1386.59,550.18 L1382.82,548.49 L1379.04,546.80 L1375.24,545.09 L1371.43,543.37 L1367.61,541.64 L1363.77,539.90 L1359.91,538.15 L1356.04,536.39 L1352.15,534.61 L1348.25,532.82 L1344.33,531.02 L1340.39,529.20 L1336.44,527.38 L1332.47,525.54 L1328.49,523.68 L1324.49,521.82 L1320.47,519.94 L1316.44,518.04 L1312.38,516.13 L1308.31,514.21 L1304.23,512.27 L1300.12,510.32 L1296.00,508.36 L1291.86,506.37 L1287.70,504.38 L1283.52,502.36 L1279.32,500.34 L1275.10,498.29 L1270.87,496.23 L1266.61,494.15 L1262.33,492.06 L1258.04,489.95 L1253.72,487.82 L1249.38,485.67 L1245.03,483.50 L1240.65,481.32 L1236.25,479.12 L1231.83,476.90 L1227.38,474.66 L1222.92,472.40 L1218.43,470.12 L1213.92,467.82 L1209.38,465.50 L1204.83,463.15 L1200.24,460.79 L1195.64,458.41 L1191.01,456.00 L1186.35,453.57 L1181.68,451.11 L1176.97,448.64 L1172.24,446.13 L1167.48,443.61 L1162.70,441.06 L1157.89,438.48 L1153.06,435.88 L1148.19,433.25 L1143.30,430.59 L1138.38,427.91 L1133.43,425.20 L1128.45,422.46 L1123.44,419.69 L1118.40,416.89 L1113.33,414.06 L1108.23,411.19 L1103.10,408.30 L1097.94,405.37 L1092.74,402.41 L1087.51,399.41 L1082.25,396.38 L1076.95,393.31 L1071.61,390.21 L1066.25,387.07 L1060.84,383.89 L1055.40,380.67 L1049.92,377.41 L1044.40,374.10 L1038.85,370.76 L1033.25,367.37 L1027.62,363.93 L1021.94,360.45 L1016.22,356.92 L1010.46,353.34 L1004.65,349.71 L998.81,346.03 L992.91,342.30 L986.97,338.51 L980.99,334.66 L974.95,330.76 L968.87,326.79 L962.73,322.77 L956.55,318.68 L950.31,314.52 L944.02,310.30 L937.68,306.00 L931.28,301.64 L924.82,297.19 L918.31,292.67 L911.73,288.07 L905.09,283.39 L898.40,278.61 L891.63,273.75 L884.80,268.80 L877.91,263.74 L870.94,258.59 L863.91,253.33 L856.80,247.96 L849.61,242.48 L842.35,236.88 L835.01,231.15 L827.59,225.30 L820.08,219.30 L812.49,213.17 L804.81,206.88 L797.04,200.44 L789.17,193.83 L781.21,187.05 L773.15,180.08 L764.98,172.92 L756.71,165.56 L748.32,157.98 L739.82,150.17 L731.21,142.12 L722.47,133.80 L713.60,125.21 L704.60,116.32 L695.46,107.12 L686.19,97.57 L676.76,87.65 L667.18,77.34 L657.45,66.60 L647.55,55.39 L637.47,43.67 L627.22,31.40 M1683.48,642.31 L1680.34,641.14 L1677.20,639.96 L1674.04,638.77 L1670.87,637.58 L1667.70,636.38 L1664.51,635.17 L1661.32,633.96 L1658.12,632.75 L1654.90,631.53 L1651.68,630.30 L1648.45,629.07 L1645.21,627.83 L1641.96,626.59 L1638.71,625.34 L1635.44,624.08 L1632.16,622.82 L1628.87,621.55 L1625.57,620.27 L1622.27,618.99 L1618.95,617.70 L1615.62,616.41 L1612.29,615.11 L1608.94,613.80 L1605.58,612.48 L1602.21,611.16 L1598.83,609.84 L1595.44,608.50 L1592.04,607.16 L1588.63,605.81 L1585.21,604.45 L1581.78,603.09 L1578.34,601.72 L1574.88,600.34 L1571.42,598.96 L1567.94,597.57 L1564.45,596.17 L1560.95,594.76 L1557.44,593.34 L1553.92,591.92 L1550.38,590.49 L1546.84,589.05 L1543.28,587.60 L1539.71,586.15 L1536.13,584.68 L1532.53,583.21 L1528.93,581.73 L1525.31,580.24 L1521.68,578.74 L1518.03,577.24 L1514.38,575.72 L1510.71,574.20 L1507.02,572.66 L1503.33,571.12 L1499.62,569.57 L1495.90,568.01 L1492.16,566.44 L1488.41,564.85 L1484.65,563.26 L1480.87,561.66 L1477.08,560.05 L1473.27,558.43 L1469.46,556.80 L1465.62,555.16 L1461.77,553.51 L1457.91,551.85 L1454.03,550.18 L1450.14,548.49 L1446.23,546.80 L1442.31,545.09 L1438.37,543.37 L1434.42,541.64 L1430.45,539.90 L1426.46,538.15 L1422.46,536.39 L1418.44,534.61 L1414.41,532.82 L1410.35,531.02 L1406.29,529.20 L1402.20,527.38 L1398.10,525.54 L1393.98,523.68 L1389.85,521.82 L1385.69,519.94 L1381.52,518.04 L1377.33,516.13 L1373.12,514.21 L1368.89,512.27 L1364.65,510.32 L1360.39,508.36 L1356.10,506.37 L1351.80,504.38 L1347.48,502.36 L1343.14,500.34 L1338.77,498.29 L1334.39,496.23 L1329.99,494.15 L1325.57,492.06 L1321.12,489.95 L1316.66,487.82 L1312.17,485.67 L1307.66,483.50 L1303.13,481.32 L1298.58,479.12 L1294.01,476.90 L1289.41,474.66 L1284.79,472.40 L1280.14,470.12 L1275.47,467.82 L1270.78,465.50 L1266.06,463.15 L1261.32,460.79 L1256.56,458.41 L1251.76,456.00 L1246.95,453.57 L1242.10,451.11 L1237.23,448.64 L1232.33,446.13 L1227.41,443.61 L1222.46,441.06 L1217.48,438.48 L1212.47,435.88 L1207.43,433.25 L1202.37,430.59 L1197.27,427.91 L1192.14,425.20 L1186.99,422.46 L1181.80,419.69 L1176.58,416.89 L1171.33,414.06 L1166.04,411.19 L1160.73,408.30 L1155.37,405.37 L1149.99,402.41 L1144.57,399.41 L1139.11,396.38 L1133.62,393.31 L1128.09,390.21 L1122.53,387.07 L1116.93,383.89 L1111.28,380.67 L1105.60,377.41 L1099.88,374.10 L1094.12,370.76 L1088.32,367.37 L1082.47,363.93 L1076.58,360.45 L1070.65,356.92 L1064.68,353.34 L1058.65,349.71 L1052.58,346.03 L1046.47,342.30 L1040.30,338.51 L1034.09,334.66 L1027.83,330.76 L1021.51,326.79 L1015.14,322.77 L1008.72,318.68 L1002.24,314.52 L995.71,310.30 L989.12,306.00 L982.47,301.64 L975.76,297.19 L968.99,292.67 L962.16,288.07 L955.26,283.39 L948.30,278.61 L941.27,273.75 L934.17,268.80 L926.99,263.74 L919.75,258.59 L912.43,253.33 L905.03,247.96 L897.55,242.48 L890.00,236.88 L882.35,231.15 L874.63,225.30 L866.81,219.30 L858.90,213.17 L850.90,206.88 L842.80,200.44 L834.60,193.83 L826.30,187.05 L817.89,180.08 L809.36,172.92 L800.73,165.56 L791.98,157.98 L783.10,150.17 L774.10,142.12 L764.97,133.80 L755.70,125.21 L746.28,116.32 L736.72,107.12 L727.01,97.57 L717.14,87.65 L707.10,77.34 L696.90,66.60 L686.51,55.39 L675.93,43.67 L665.16,31.40 M1758.18,642.31 L1754.95,641.14 L1751.70,639.96 L1748.45,638.77 L1745.18,637.58 L1741.91,636.38 L1738.62,635.17 L1735.33,633.96 L1732.03,632.75 L1728.72,631.53 L1725.40,630.30 L1722.06,629.07 L1718.72,627.83 L1715.37,626.59 L1712.01,625.34 L1708.64,624.08 L1705.26,622.82 L1701.87,621.55 L1698.47,620.27 L1695.06,618.99 L1691.64,617.70 L1688.21,616.41 L1684.77,615.11 L1681.31,613.80 L1677.85,612.48 L1674.38,611.16 L1670.89,609.84 L1667.39,608.50 L1663.89,607.16 L1660.37,605.81 L1656.84,604.45 L1653.30,603.09 L1649.75,601.72 L1646.18,600.34 L1642.61,598.96 L1639.02,597.57 L1635.43,596.17 L1631.82,594.76 L1628.19,593.34 L1624.56,591.92 L1620.91,590.49 L1617.25,589.05 L1613.58,587.60 L1609.90,586.15 L1606.20,584.68 L1602.50,583.21 L1598.77,581.73 L1595.04,580.24 L1591.29,578.74 L1587.53,577.24 L1583.76,575.72 L1579.97,574.20 L1576.17,572.66 L1572.36,571.12 L1568.53,569.57 L1564.69,568.01 L1560.83,566.44 L1556.96,564.85 L1553.08,563.26 L1549.18,561.66 L1545.27,560.05 L1541.34,558.43 L1537.40,556.80 L1533.44,555.16 L1529.47,553.51 L1525.48,551.85 L1521.48,550.18 L1517.46,548.49 L1513.42,546.80 L1509.37,545.09 L1505.31,543.37 L1501.22,541.64 L1497.13,539.90 L1493.01,538.15 L1488.88,536.39 L1484.73,534.61 L1480.56,532.82 L1476.38,531.02 L1472.18,529.20 L1467.96,527.38 L1463.73,525.54 L1459.47,523.68 L1455.20,521.82 L1450.91,519.94 L1446.60,518.04 L1442.27,516.13 L1437.93,514.21 L1433.56,512.27 L1429.18,510.32 L1424.77,508.36 L1420.35,506.37 L1415.90,504.38 L1411.44,502.36 L1406.95,500.34 L1402.45,498.29 L1397.92,496.23 L1393.37,494.15 L1388.80,492.06 L1384.21,489.95 L1379.60,487.82 L1374.96,485.67 L1370.30,483.50 L1365.62,481.32 L1360.91,479.12 L1356.19,476.90 L1351.43,474.66 L1346.66,472.40 L1341.86,470.12 L1337.03,467.82 L1332.18,465.50 L1327.30,463.15 L1322.40,460.79 L1317.47,458.41 L1312.52,456.00 L1307.54,453.57 L1302.53,451.11 L1297.49,448.64 L1292.43,446.13 L1287.34,443.61 L1282.21,441.06 L1277.06,438.48 L1271.88,435.88 L1266.67,433.25 L1261.43,430.59 L1256.16,427.91 L1250.86,425.20 L1245.52,422.46 L1240.16,419.69 L1234.75,416.89 L1229.32,414.06 L1223.85,411.19 L1218.35,408.30 L1212.81,405.37 L1207.24,402.41 L1201.63,399.41 L1195.98,396.38 L1190.30,393.31 L1184.57,390.21 L1178.81,387.07 L1173.01,383.89 L1167.17,380.67 L1161.29,377.41 L1155.36,374.10 L1149.39,370.76 L1143.38,367.37 L1137.33,363.93 L1131.23,360.45 L1125.08,356.92 L1118.89,353.34 L1112.65,349.71 L1106.36,346.03 L1100.03,342.30 L1093.64,338.51 L1087.20,334.66 L1080.70,330.76 L1074.15,326.79 L1067.55,322.77 L1060.89,318.68 L1054.18,314.52 L1047.40,310.30 L1040.57,306.00 L1033.67,301.64 L1026.71,297.19 L1019.68,292.67 L1012.59,288.07 L1005.43,283.39 L998.20,278.61 L990.90,273.75 L983.53,268.80 L976.08,263.74 L968.56,258.59 L960.95,253.33 L953.27,247.96 L945.50,242.48 L937.64,236.88 L929.70,231.15 L921.66,225.30 L913.54,219.30 L905.31,213.17 L896.99,206.88 L888.56,200.44 L880.02,193.83 L871.38,187.05 L862.62,180.08 L853.75,172.92 L844.75,165.56 L835.63,157.98 L826.38,150.17 L816.99,142.12 L807.46,133.80 L797.79,125.21 L787.97,116.32 L777.98,107.12 L767.84,97.57 L757.52,87.65 L747.02,77.34 L736.34,66.60 L725.47,55.39 L714.39,43.67 L703.09,31.40 M1832.89,642.31 L1829.55,641.14 L1826.21,639.96 L1822.85,638.77 L1819.49,637.58 L1816.12,636.38 L1812.74,635.17 L1809.34,633.96 L1805.94,632.75 L1802.53,631.53 L1799.11,630.30 L1795.68,629.07 L1792.23,627.83 L1788.78,626.59 L1785.32,625.34 L1781.85,624.08 L1778.37,622.82 L1774.87,621.55 L1771.37,620.27 L1767.85,618.99 L1764.33,617.70 L1760.79,616.41 L1757.25,615.11 L1753.69,613.80 L1750.12,612.48 L1746.54,611.16 L1742.95,609.84 L1739.35,608.50 L1735.73,607.16 L1732.11,605.81 L1728.47,604.45 L1724.82,603.09 L1721.16,601.72 L1717.49,600.34 L1713.80,598.96 L1710.11,597.57 L1706.40,596.17 L1702.68,594.76 L1698.94,593.34 L1695.20,591.92 L1691.44,590.49 L1687.67,589.05 L1683.89,587.60 L1680.09,586.15 L1676.28,584.68 L1672.46,583.21 L1668.62,581.73 L1664.77,580.24 L1660.91,578.74 L1657.03,577.24 L1653.14,575.72 L1649.24,574.20 L1645.32,572.66 L1641.39,571.12 L1637.44,569.57 L1633.48,568.01 L1629.50,566.44 L1625.51,564.85 L1621.51,563.26 L1617.49,561.66 L1613.45,560.05 L1609.40,558.43 L1605.34,556.80 L1601.26,555.16 L1597.16,553.51 L1593.05,551.85 L1588.92,550.18 L1584.78,548.49 L1580.62,546.80 L1576.44,545.09 L1572.24,543.37 L1568.03,541.64 L1563.81,539.90 L1559.56,538.15 L1555.30,536.39 L1551.02,534.61 L1546.72,532.82 L1542.41,531.02 L1538.07,529.20 L1533.72,527.38 L1529.35,525.54 L1524.96,523.68 L1520.56,521.82 L1516.13,519.94 L1511.69,518.04 L1507.22,516.13 L1502.74,514.21 L1498.23,512.27 L1493.71,510.32 L1489.16,508.36 L1484.59,506.37 L1480.01,504.38 L1475.40,502.36 L1470.77,500.34 L1466.12,498.29 L1461.45,496.23 L1456.75,494.15 L1452.04,492.06 L1447.30,489.95 L1442.53,487.82 L1437.75,485.67 L1432.94,483.50 L1428.10,481.32 L1423.25,479.12 L1418.36,476.90 L1413.46,474.66 L1408.53,472.40 L1403.57,470.12 L1398.59,467.82 L1393.58,465.50 L1388.54,463.15 L1383.48,460.79 L1378.39,458.41 L1373.27,456.00 L1368.13,453.57 L1362.96,451.11 L1357.75,448.64 L1352.52,446.13 L1347.26,443.61 L1341.97,441.06 L1336.65,438.48 L1331.30,435.88 L1325.91,433.25 L1320.50,430.59 L1315.05,427.91 L1309.57,425.20 L1304.06,422.46 L1298.51,419.69 L1292.93,416.89 L1287.31,414.06 L1281.66,411.19 L1275.97,408.30 L1270.25,405.37 L1264.49,402.41 L1258.69,399.41 L1252.85,396.38 L1246.97,393.31 L1241.05,390.21 L1235.09,387.07 L1229.09,383.89 L1223.05,380.67 L1216.97,377.41 L1210.84,374.10 L1204.67,370.76 L1198.45,367.37 L1192.19,363.93 L1185.88,360.45 L1179.52,356.92 L1173.11,353.34 L1166.65,349.71 L1160.14,346.03 L1153.58,342.30 L1146.97,338.51 L1140.30,334.66 L1133.58,330.76 L1126.80,326.79 L1119.96,322.77 L1113.06,318.68 L1106.11,314.52 L1099.09,310.30 L1092.01,306.00 L1084.86,301.64 L1077.65,297.19 L1070.37,292.67 L1063.02,288.07 L1055.60,283.39 L1048.11,278.61 L1040.54,273.75 L1032.89,268.80 L1025.17,263.74 L1017.37,258.59 L1009.48,253.33 L1001.50,247.96 L993.44,242.48 L985.29,236.88 L977.04,231.15 L968.70,225.30 L960.26,219.30 L951.72,213.17 L943.07,206.88 L934.32,200.44 L925.45,193.83 L916.47,187.05 L907.36,180.08 L898.13,172.92 L888.78,165.56 L879.29,157.98 L869.66,150.17 L859.88,142.12 L849.96,133.80 L839.89,125.21 L829.65,116.32 L819.24,107.12 L808.66,97.57 L797.90,87.65 L786.94,77.34 L775.79,66.60 L764.42,55.39 L752.84,43.67 L741.03,31.40 M1907.59,642.31 L1904.15,641.14 L1900.71,639.96 L1897.26,638.77 L1893.80,637.58 L1890.33,636.38 L1886.85,635.17 L1883.36,633.96 L1879.85,632.75 L1876.34,631.53 L1872.82,630.30 L1869.29,629.07 L1865.75,627.83 L1862.19,626.59 L1858.63,625.34 L1855.05,624.08 L1851.47,622.82 L1847.87,621.55 L1844.27,620.27 L1840.65,618.99 L1837.02,617.70 L1833.38,616.41 L1829.73,615.11 L1826.06,613.80 L1822.39,612.48 L1818.70,611.16 L1815.01,609.84 L1811.30,608.50 L1807.58,607.16 L1803.84,605.81 L1800.10,604.45 L1796.34,603.09 L1792.57,601.72 L1788.79,600.34 L1785.00,598.96 L1781.19,597.57 L1777.37,596.17 L1773.54,594.76 L1769.70,593.34 L1765.84,591.92 L1761.97,590.49 L1758.09,589.05 L1754.19,587.60 L1750.28,586.15 L1746.36,584.68 L1742.42,583.21 L1738.47,581.73 L1734.50,580.24 L1730.52,578.74 L1726.53,577.24 L1722.52,575.72 L1718.50,574.20 L1714.47,572.66 L1710.42,571.12 L1706.35,569.57 L1702.27,568.01 L1698.18,566.44 L1694.07,564.85 L1689.94,563.26 L1685.80,561.66 L1681.64,560.05 L1677.47,558.43 L1673.28,556.80 L1669.08,555.16 L1664.86,553.51 L1660.62,551.85 L1656.36,550.18 L1652.09,548.49 L1647.81,546.80 L1643.50,545.09 L1639.18,543.37 L1634.84,541.64 L1630.49,539.90 L1626.11,538.15 L1621.72,536.39 L1617.31,534.61 L1612.88,532.82 L1608.43,531.02 L1603.97,529.20 L1599.48,527.38 L1594.98,525.54 L1590.46,523.68 L1585.91,521.82 L1581.35,519.94 L1576.77,518.04 L1572.17,516.13 L1567.54,514.21 L1562.90,512.27 L1558.23,510.32 L1553.55,508.36 L1548.84,506.37 L1544.11,504.38 L1539.36,502.36 L1534.59,500.34 L1529.79,498.29 L1524.97,496.23 L1520.13,494.15 L1515.27,492.06 L1510.38,489.95 L1505.47,487.82 L1500.53,485.67 L1495.57,483.50 L1490.59,481.32 L1485.58,479.12 L1480.54,476.90 L1475.48,474.66 L1470.40,472.40 L1465.28,470.12 L1460.14,467.82 L1454.98,465.50 L1449.78,463.15 L1444.56,460.79 L1439.31,458.41 L1434.03,456.00 L1428.72,453.57 L1423.38,451.11 L1418.01,448.64 L1412.62,446.13 L1407.19,443.61 L1401.73,441.06 L1396.24,438.48 L1390.71,435.88 L1385.16,433.25 L1379.57,430.59 L1373.94,427.91 L1368.29,425.20 L1362.60,422.46 L1356.87,419.69 L1351.11,416.89 L1345.31,414.06 L1339.47,411.19 L1333.60,408.30 L1327.69,405.37 L1321.74,402.41 L1315.75,399.41 L1309.72,396.38 L1303.64,393.31 L1297.53,390.21 L1291.38,387.07 L1285.18,383.89 L1278.94,380.67 L1272.65,377.41 L1266.32,374.10 L1259.94,370.76 L1253.52,367.37 L1247.04,363.93 L1240.52,360.45 L1233.95,356.92 L1227.32,353.34 L1220.65,349.71 L1213.92,346.03 L1207.14,342.30 L1200.30,338.51 L1193.40,334.66 L1186.45,330.76 L1179.44,326.79 L1172.37,322.77 L1165.24,318.68 L1158.04,314.52 L1150.78,310.30 L1143.45,306.00 L1136.06,301.64 L1128.59,297.19 L1121.06,292.67 L1113.45,288.07 L1105.77,283.39 L1098.01,278.61 L1090.17,273.75 L1082.26,268.80 L1074.26,263.74 L1066.17,258.59 L1058.00,253.33 L1049.74,247.96 L1041.39,242.48 L1032.94,236.88 L1024.39,231.15 L1015.74,225.30 L1006.99,219.30 L998.13,213.17 L989.16,206.88 L980.08,200.44 L970.87,193.83 L961.55,187.05 L952.10,180.08 L942.52,172.92 L932.80,165.56 L922.94,157.98 L912.93,150.17 L902.78,142.12 L892.46,133.80 L881.98,125.21 L871.33,116.32 L860.50,107.12 L849.49,97.57 L838.28,87.65 L826.86,77.34 L815.24,66.60 L803.38,55.39 L791.30,43.67 L778.97,31.40 M1982.29,642.31 L1978.76,641.14 L1975.22,639.96 L1971.67,638.77 L1968.11,637.58 L1964.54,636.38 L1960.96,635.17 L1957.37,633.96 L1953.77,632.75 L1950.16,631.53 L1946.53,630.30 L1942.90,629.07 L1939.26,627.83 L1935.60,626.59 L1931.94,625.34 L1928.26,624.08 L1924.57,622.82 L1920.87,621.55 L1917.16,620.27 L1913.44,618.99 L1909.71,617.70 L1905.96,616.41 L1902.21,615.11 L1898.44,613.80 L1894.66,612.48 L1890.87,611.16 L1887.06,609.84 L1883.25,608.50 L1879.42,607.16 L1875.58,605.81 L1871.73,604.45 L1867.86,603.09 L1863.99,601.72 L1860.09,600.34 L1856.19,598.96 L1852.28,597.57 L1848.35,596.17 L1844.40,594.76 L1840.45,593.34 L1836.48,591.92 L1832.50,590.49 L1828.50,589.05 L1824.49,587.60 L1820.47,586.15 L1816.43,584.68 L1812.38,583.21 L1808.31,581.73 L1804.23,580.24 L1800.14,578.74 L1796.03,577.24 L1791.91,575.72 L1787.77,574.20 L1783.61,572.66 L1779.45,571.12 L1775.26,569.57 L1771.06,568.01 L1766.85,566.44 L1762.62,564.85 L1758.37,563.26 L1754.11,561.66 L1749.83,560.05 L1745.53,558.43 L1741.22,556.80 L1736.89,555.16 L1732.55,553.51 L1728.19,551.85 L1723.81,550.18 L1719.41,548.49 L1715.00,546.80 L1710.57,545.09 L1706.12,543.37 L1701.65,541.64 L1697.17,539.90 L1692.66,538.15 L1688.14,536.39 L1683.60,534.61 L1679.04,532.82 L1674.46,531.02 L1669.86,529.20 L1665.24,527.38 L1660.60,525.54 L1655.95,523.68 L1651.27,521.82 L1646.57,519.94 L1641.85,518.04 L1637.11,516.13 L1632.35,514.21 L1627.57,512.27 L1622.76,510.32 L1617.93,508.36 L1613.09,506.37 L1608.22,504.38 L1603.32,502.36 L1598.40,500.34 L1593.47,498.29 L1588.50,496.23 L1583.51,494.15 L1578.50,492.06 L1573.47,489.95 L1568.41,487.82 L1563.32,485.67 L1558.21,483.50 L1553.07,481.32 L1547.91,479.12 L1542.72,476.90 L1537.51,474.66 L1532.27,472.40 L1527.00,470.12 L1521.70,467.82 L1516.37,465.50 L1511.02,463.15 L1505.64,460.79 L1500.22,458.41 L1494.78,456.00 L1489.31,453.57 L1483.81,451.11 L1478.27,448.64 L1472.71,446.13 L1467.11,443.61 L1461.48,441.06 L1455.82,438.48 L1450.13,435.88 L1444.40,433.25 L1438.63,430.59 L1432.83,427.91 L1427.00,425.20 L1421.13,422.46 L1415.22,419.69 L1409.28,416.89 L1403.30,414.06 L1397.28,411.19 L1391.22,408.30 L1385.12,405.37 L1378.98,402.41 L1372.80,399.41 L1366.58,396.38 L1360.32,393.31 L1354.01,390.21 L1347.66,387.07 L1341.26,383.89 L1334.82,380.67 L1328.33,377.41 L1321.80,374.10 L1315.22,370.76 L1308.58,367.37 L1301.90,363.93 L1295.17,360.45 L1288.38,356.92 L1281.54,353.34 L1274.65,349.71 L1267.70,346.03 L1260.69,342.30 L1253.63,338.51 L1246.51,334.66 L1239.33,330.76 L1232.08,326.79 L1224.78,322.77 L1217.41,318.68 L1209.97,314.52 L1202.47,310.30 L1194.90,306.00 L1187.25,301.64 L1179.54,297.19 L1171.75,292.67 L1163.88,288.07 L1155.94,283.39 L1147.92,278.61 L1139.81,273.75 L1131.62,268.80 L1123.35,263.74 L1114.98,258.59 L1106.53,253.33 L1097.98,247.96 L1089.33,242.48 L1080.58,236.88 L1071.73,231.15 L1062.78,225.30 L1053.72,219.30 L1044.54,213.17 L1035.25,206.88 L1025.84,200.44 L1016.30,193.83 L1006.63,187.05 L996.84,180.08 L986.90,172.92 L976.82,165.56 L966.59,157.98 L956.21,150.17 L945.67,142.12 L934.96,133.80 L924.08,125.21 L913.02,116.32 L901.76,107.12 L890.31,97.57 L878.66,87.65 L866.78,77.34 L854.68,66.60 L842.34,55.39 L829.75,43.67 L816.90,31.40 M2056.99,642.31 L2053.36,641.14 L2049.72,639.96 L2046.08,638.77 L2042.42,637.58 L2038.75,636.38 L2035.07,635.17 L2031.38,633.96 L2027.68,632.75 L2023.97,631.53 L2020.25,630.30 L2016.51,629.07 L2012.77,627.83 L2009.01,626.59 L2005.24,625.34 L2001.46,624.08 L1997.67,622.82 L1993.87,621.55 L1990.06,620.27 L1986.23,618.99 L1982.40,617.70 L1978.55,616.41 L1974.69,615.11 L1970.81,613.80 L1966.93,612.48 L1963.03,611.16 L1959.12,609.84 L1955.20,608.50 L1951.27,607.16 L1947.32,605.81 L1943.36,604.45 L1939.38,603.09 L1935.40,601.72 L1931.40,600.34 L1927.39,598.96 L1923.36,597.57 L1919.32,596.17 L1915.27,594.76 L1911.20,593.34 L1907.12,591.92 L1903.03,590.49 L1898.92,589.05 L1894.79,587.60 L1890.66,586.15 L1886.51,584.68 L1882.34,583.21 L1878.16,581.73 L1873.96,580.24 L1869.75,578.74 L1865.53,577.24 L1861.29,575.72 L1857.03,574.20 L1852.76,572.66 L1848.47,571.12 L1844.17,569.57 L1839.85,568.01 L1835.52,566.44 L1831.17,564.85 L1826.80,563.26 L1822.42,561.66 L1818.02,560.05 L1813.60,558.43 L1809.16,556.80 L1804.71,555.16 L1800.24,553.51 L1795.76,551.85 L1791.25,550.18 L1786.73,548.49 L1782.19,546.80 L1777.63,545.09 L1773.06,543.37 L1768.46,541.64 L1763.85,539.90 L1759.21,538.15 L1754.56,536.39 L1749.89,534.61 L1745.20,532.82 L1740.49,531.02 L1735.75,529.20 L1731.00,527.38 L1726.23,525.54 L1721.44,523.68 L1716.62,521.82 L1711.79,519.94 L1706.93,518.04 L1702.06,516.13 L1697.16,514.21 L1692.23,512.27 L1687.29,510.32 L1682.32,508.36 L1677.33,506.37 L1672.32,504.38 L1667.28,502.36 L1662.22,500.34 L1657.14,498.29 L1652.03,496.23 L1646.90,494.15 L1641.74,492.06 L1636.55,489.95 L1631.34,487.82 L1626.11,485.67 L1620.85,483.50 L1615.56,481.32 L1610.25,479.12 L1604.90,476.90 L1599.53,474.66 L1594.14,472.40 L1588.71,470.12 L1583.26,467.82 L1577.77,465.50 L1572.26,463.15 L1566.72,460.79 L1561.14,458.41 L1555.54,456.00 L1549.90,453.57 L1544.23,451.11 L1538.54,448.64 L1532.80,446.13 L1527.04,443.61 L1521.24,441.06 L1515.41,438.48 L1509.54,435.88 L1503.64,433.25 L1497.70,430.59 L1491.73,427.91 L1485.72,425.20 L1479.67,422.46 L1473.58,419.69 L1467.46,416.89 L1461.29,414.06 L1455.09,411.19 L1448.85,408.30 L1442.56,405.37 L1436.23,402.41 L1429.86,399.41 L1423.45,396.38 L1416.99,393.31 L1410.49,390.21 L1403.94,387.07 L1397.35,383.89 L1390.71,380.67 L1384.02,377.41 L1377.28,374.10 L1370.49,370.76 L1363.65,367.37 L1356.76,363.93 L1349.81,360.45 L1342.81,356.92 L1335.76,353.34 L1328.65,349.71 L1321.48,346.03 L1314.25,342.30 L1306.96,338.51 L1299.61,334.66 L1292.20,330.76 L1284.73,326.79 L1277.19,322.77 L1269.58,318.68 L1261.90,314.52 L1254.16,310.30 L1246.34,306.00 L1238.45,301.64 L1230.48,297.19 L1222.44,292.67 L1214.31,288.07 L1206.11,283.39 L1197.82,278.61 L1189.45,273.75 L1180.98,268.80 L1172.43,263.74 L1163.79,258.59 L1155.05,253.33 L1146.21,247.96 L1137.27,242.48 L1128.23,236.88 L1119.08,231.15 L1109.82,225.30 L1100.44,219.30 L1090.95,213.17 L1081.34,206.88 L1071.60,200.44 L1061.72,193.83 L1051.72,187.05 L1041.57,180.08 L1031.28,172.92 L1020.84,165.56 L1010.25,157.98 L999.49,150.17 L988.56,142.12 L977.46,133.80 L966.18,125.21 L954.70,116.32 L943.02,107.12 L931.14,97.57 L919.03,87.65 L906.70,77.34 L894.13,66.60 L881.30,55.39 L868.21,43.67 L854.84,31.40 M2131.69,642.31 L2127.97,641.14 L2124.23,639.96 L2120.49,638.77 L2116.73,637.58 L2112.96,636.38 L2109.18,635.17 L2105.39,633.96 L2101.59,632.75 L2097.78,631.53 L2093.96,630.30 L2090.12,629.07 L2086.28,627.83 L2082.42,626.59 L2078.55,625.34 L2074.67,624.08 L2070.78,622.82 L2066.87,621.55 L2062.96,620.27 L2059.03,618.99 L2055.09,617.70 L2051.13,616.41 L2047.17,615.11 L2043.19,613.80 L2039.20,612.48 L2035.20,611.16 L2031.18,609.84 L2027.15,608.50 L2023.11,607.16 L2019.05,605.81 L2014.99,604.45 L2010.90,603.09 L2006.81,601.72 L2002.70,600.34 L1998.58,598.96 L1994.44,597.57 L1990.29,596.17 L1986.13,594.76 L1981.95,593.34 L1977.76,591.92 L1973.55,590.49 L1969.33,589.05 L1965.10,587.60 L1960.85,586.15 L1956.58,584.68 L1952.30,583.21 L1948.01,581.73 L1943.70,580.24 L1939.37,578.74 L1935.03,577.24 L1930.67,575.72 L1926.30,574.20 L1921.91,572.66 L1917.50,571.12 L1913.08,569.57 L1908.64,568.01 L1904.19,566.44 L1899.72,564.85 L1895.23,563.26 L1890.73,561.66 L1886.20,560.05 L1881.66,558.43 L1877.11,556.80 L1872.53,555.16 L1867.94,553.51 L1863.33,551.85 L1858.70,550.18 L1854.05,548.49 L1849.38,546.80 L1844.70,545.09 L1839.99,543.37 L1835.27,541.64 L1830.53,539.90 L1825.76,538.15 L1820.98,536.39 L1816.18,534.61 L1811.36,532.82 L1806.51,531.02 L1801.65,529.20 L1796.76,527.38 L1791.86,525.54 L1786.93,523.68 L1781.98,521.82 L1777.01,519.94 L1772.02,518.04 L1767.00,516.13 L1761.96,514.21 L1756.90,512.27 L1751.82,510.32 L1746.71,508.36 L1741.58,506.37 L1736.42,504.38 L1731.24,502.36 L1726.04,500.34 L1720.81,498.29 L1715.56,496.23 L1710.28,494.15 L1704.97,492.06 L1699.64,489.95 L1694.28,487.82 L1688.90,485.67 L1683.48,483.50 L1678.05,481.32 L1672.58,479.12 L1667.08,476.90 L1661.56,474.66 L1656.01,472.40 L1650.42,470.12 L1644.81,467.82 L1639.17,465.50 L1633.50,463.15 L1627.79,460.79 L1622.06,458.41 L1616.29,456.00 L1610.49,453.57 L1604.66,451.11 L1598.80,448.64 L1592.90,446.13 L1586.96,443.61 L1581.00,441.06 L1574.99,438.48 L1568.95,435.88 L1562.88,433.25 L1556.77,430.59 L1550.62,427.91 L1544.43,425.20 L1538.20,422.46 L1531.94,419.69 L1525.63,416.89 L1519.29,414.06 L1512.90,411.19 L1506.47,408.30 L1500.00,405.37 L1493.48,402.41 L1486.92,399.41 L1480.32,396.38 L1473.67,393.31 L1466.97,390.21 L1460.23,387.07 L1453.43,383.89 L1446.59,380.67 L1439.70,377.41 L1432.76,374.10 L1425.76,370.76 L1418.72,367.37 L1411.61,363.93 L1404.46,360.45 L1397.24,356.92 L1389.97,353.34 L1382.64,349.71 L1375.26,346.03 L1367.81,342.30 L1360.29,338.51 L1352.72,334.66 L1345.08,330.76 L1337.37,326.79 L1329.60,322.77 L1321.75,318.68 L1313.83,314.52 L1305.85,310.30 L1297.78,306.00 L1289.64,301.64 L1281.42,297.19 L1273.12,292.67 L1264.74,288.07 L1256.28,283.39 L1247.72,278.61 L1239.08,273.75 L1230.35,268.80 L1221.52,263.74 L1212.60,258.59 L1203.57,253.33 L1194.45,247.96 L1185.22,242.48 L1175.88,236.88 L1166.42,231.15 L1156.86,225.30 L1147.17,219.30 L1137.36,213.17 L1127.42,206.88 L1117.35,200.44 L1107.15,193.83 L1096.80,187.05 L1086.31,180.08 L1075.67,172.92 L1064.87,165.56 L1053.90,157.98 L1042.77,150.17 L1031.46,142.12 L1019.96,133.80 L1008.27,125.21 L996.38,116.32 L984.28,107.12 L971.96,97.57 L959.41,87.65 L946.62,77.34 L933.57,66.60 L920.26,55.39 L906.67,43.67 L892.77,31.40 M2206.39,642.31 L2202.57,641.14 L2198.74,639.96 L2194.89,638.77 L2191.04,637.58 L2187.17,636.38 L2183.29,635.17 L2179.41,633.96 L2175.51,632.75 L2171.59,631.53 L2167.67,630.30 L2163.74,629.07 L2159.79,627.83 L2155.83,626.59 L2151.86,625.34 L2147.88,624.08 L2143.88,622.82 L2139.87,621.55 L2135.85,620.27 L2131.82,618.99 L2127.78,617.70 L2123.72,616.41 L2119.65,615.11 L2115.57,613.80 L2111.47,612.48 L2107.36,611.16 L2103.24,609.84 L2099.10,608.50 L2094.95,607.16 L2090.79,605.81 L2086.62,604.45 L2082.43,603.09 L2078.22,601.72 L2074.00,600.34 L2069.77,598.96 L2065.53,597.57 L2061.27,596.17 L2056.99,594.76 L2052.70,593.34 L2048.40,591.92 L2044.08,590.49 L2039.75,589.05 L2035.40,587.60 L2031.04,586.15 L2026.66,584.68 L2022.26,583.21 L2017.85,581.73 L2013.43,580.24 L2008.98,578.74 L2004.53,577.24 L2000.05,575.72 L1995.56,574.20 L1991.06,572.66 L1986.53,571.12 L1981.99,569.57 L1977.44,568.01 L1972.86,566.44 L1968.27,564.85 L1963.66,563.26 L1959.03,561.66 L1954.39,560.05 L1949.73,558.43 L1945.05,556.80 L1940.35,555.16 L1935.63,553.51 L1930.90,551.85 L1926.14,550.18 L1921.37,548.49 L1916.57,546.80 L1911.76,545.09 L1906.93,543.37 L1902.08,541.64 L1897.21,539.90 L1892.31,538.15 L1887.40,536.39 L1882.47,534.61 L1877.51,532.82 L1872.54,531.02 L1867.54,529.20 L1862.52,527.38 L1857.48,525.54 L1852.42,523.68 L1847.34,521.82 L1842.23,519.94 L1837.10,518.04 L1831.95,516.13 L1826.77,514.21 L1821.57,512.27 L1816.35,510.32 L1811.10,508.36 L1805.82,506.37 L1800.53,504.38 L1795.20,502.36 L1789.86,500.34 L1784.48,498.29 L1779.08,496.23 L1773.66,494.15 L1768.20,492.06 L1762.73,489.95 L1757.22,487.82 L1751.68,485.67 L1746.12,483.50 L1740.53,481.32 L1734.91,479.12 L1729.26,476.90 L1723.58,474.66 L1717.88,472.40 L1712.14,470.12 L1706.37,467.82 L1700.57,465.50 L1694.74,463.15 L1688.87,460.79 L1682.98,458.41 L1677.05,456.00 L1671.08,453.57 L1665.09,451.11 L1659.06,448.64 L1652.99,446.13 L1646.89,443.61 L1640.75,441.06 L1634.58,438.48 L1628.37,435.88 L1622.12,433.25 L1615.83,430.59 L1609.51,427.91 L1603.14,425.20 L1596.74,422.46 L1590.29,419.69 L1583.81,416.89 L1577.28,414.06 L1570.71,411.19 L1564.09,408.30 L1557.43,405.37 L1550.73,402.41 L1543.98,399.41 L1537.18,396.38 L1530.34,393.31 L1523.45,390.21 L1516.51,387.07 L1509.52,383.89 L1502.48,380.67 L1495.38,377.41 L1488.24,374.10 L1481.04,370.76 L1473.78,367.37 L1466.47,363.93 L1459.10,360.45 L1451.68,356.92 L1444.19,353.34 L1436.64,349.71 L1429.03,346.03 L1421.36,342.30 L1413.63,338.51 L1405.82,334.66 L1397.95,330.76 L1390.01,326.79 L1382.00,322.77 L1373.92,318.68 L1365.77,314.52 L1357.53,310.30 L1349.22,306.00 L1340.84,301.64 L1332.37,297.19 L1323.81,292.67 L1315.17,288.07 L1306.45,283.39 L1297.63,278.61 L1288.72,273.75 L1279.71,268.80 L1270.61,263.74 L1261.40,258.59 L1252.10,253.33 L1242.68,247.96 L1233.16,242.48 L1223.52,236.88 L1213.77,231.15 L1203.89,225.30 L1193.90,219.30 L1183.77,213.17 L1173.51,206.88 L1163.11,200.44 L1152.57,193.83 L1141.89,187.05 L1131.05,180.08 L1120.05,172.92 L1108.89,165.56 L1097.56,157.98 L1086.05,150.17 L1074.35,142.12 L1062.46,133.80 L1050.37,125.21 L1038.06,116.32 L1025.54,107.12 L1012.79,97.57 L999.79,87.65 L986.54,77.34 L973.02,66.60 L959.22,55.39 L945.12,43.67 L930.71,31.40 M2281.09,642.31 L2277.17,641.14 L2273.24,639.96 L2269.30,638.77 L2265.35,637.58 L2261.38,636.38 L2257.41,635.17 L2253.42,633.96 L2249.42,632.75 L2245.41,631.53 L2241.38,630.30 L2237.35,629.07 L2233.30,627.83 L2229.24,626.59 L2225.17,625.34 L2221.08,624.08 L2216.98,622.82 L2212.87,621.55 L2208.75,620.27 L2204.61,618.99 L2200.47,617.70 L2196.30,616.41 L2192.13,615.11 L2187.94,613.80 L2183.74,612.48 L2179.52,611.16 L2175.30,609.84 L2171.05,608.50 L2166.80,607.16 L2162.53,605.81 L2158.24,604.45 L2153.95,603.09 L2149.63,601.72 L2145.31,600.34 L2140.97,598.96 L2136.61,597.57 L2132.24,596.17 L2127.86,594.76 L2123.46,593.34 L2119.04,591.92 L2114.61,590.49 L2110.16,589.05 L2105.70,587.60 L2101.23,586.15 L2096.73,584.68 L2092.22,583.21 L2087.70,581.73 L2083.16,580.24 L2078.60,578.74 L2074.03,577.24 L2069.44,575.72 L2064.83,574.20 L2060.20,572.66 L2055.56,571.12 L2050.90,569.57 L2046.23,568.01 L2041.53,566.44 L2036.82,564.85 L2032.09,563.26 L2027.34,561.66 L2022.58,560.05 L2017.79,558.43 L2012.99,556.80 L2008.17,555.16 L2003.33,553.51 L1998.47,551.85 L1993.59,550.18 L1988.69,548.49 L1983.77,546.80 L1978.83,545.09 L1973.87,543.37 L1968.89,541.64 L1963.89,539.90 L1958.86,538.15 L1953.82,536.39 L1948.76,534.61 L1943.67,532.82 L1938.56,531.02 L1933.44,529.20 L1928.28,527.38 L1923.11,525.54 L1917.91,523.68 L1912.69,521.82 L1907.45,519.94 L1902.18,518.04 L1896.89,516.13 L1891.58,514.21 L1886.24,512.27 L1880.87,510.32 L1875.48,508.36 L1870.07,506.37 L1864.63,504.38 L1859.16,502.36 L1853.67,500.34 L1848.16,498.29 L1842.61,496.23 L1837.04,494.15 L1831.44,492.06 L1825.81,489.95 L1820.16,487.82 L1814.47,485.67 L1808.76,483.50 L1803.02,481.32 L1797.24,479.12 L1791.44,476.90 L1785.61,474.66 L1779.75,472.40 L1773.85,470.12 L1767.92,467.82 L1761.97,465.50 L1755.97,463.15 L1749.95,460.79 L1743.89,458.41 L1737.80,456.00 L1731.67,453.57 L1725.51,451.11 L1719.32,448.64 L1713.08,446.13 L1706.81,443.61 L1700.51,441.06 L1694.16,438.48 L1687.78,435.88 L1681.36,433.25 L1674.90,430.59 L1668.40,427.91 L1661.86,425.20 L1655.28,422.46 L1648.65,419.69 L1641.98,416.89 L1635.27,414.06 L1628.52,411.19 L1621.72,408.30 L1614.87,405.37 L1607.98,402.41 L1601.04,399.41 L1594.05,396.38 L1587.02,393.31 L1579.93,390.21 L1572.79,387.07 L1565.60,383.89 L1558.36,380.67 L1551.07,377.41 L1543.72,374.10 L1536.31,370.76 L1528.85,367.37 L1521.33,363.93 L1513.75,360.45 L1506.11,356.92 L1498.41,353.34 L1490.64,349.71 L1482.81,346.03 L1474.92,342.30 L1466.96,338.51 L1458.93,334.66 L1450.83,330.76 L1442.66,326.79 L1434.41,322.77 L1426.09,318.68 L1417.70,314.52 L1409.22,310.30 L1400.67,306.00 L1392.03,301.64 L1383.31,297.19 L1374.50,292.67 L1365.60,288.07 L1356.61,283.39 L1347.53,278.61 L1338.35,273.75 L1329.08,268.80 L1319.70,263.74 L1310.21,258.59 L1300.62,253.33 L1290.92,247.96 L1281.10,242.48 L1271.17,236.88 L1261.11,231.15 L1250.93,225.30 L1240.62,219.30 L1230.18,213.17 L1219.60,206.88 L1208.87,200.44 L1198.00,193.83 L1186.97,187.05 L1175.79,180.08 L1164.44,172.92 L1152.91,165.56 L1141.21,157.98 L1129.32,150.17 L1117.24,142.12 L1104.96,133.80 L1092.46,125.21 L1079.75,116.32 L1066.80,107.12 L1053.61,97.57 L1040.17,87.65 L1026.46,77.34 L1012.47,66.60 L998.18,55.39 L983.58,43.67 L968.65,31.40" fill="none" stroke="#ff4500" stroke-opacity="0.25" stroke-width="1.67" stroke-dasharray="6.17,2.67"/>
<path d="M114.00,642.31 L113.32,641.53 L112.63,640.75 L111.95,639.96 L111.26,639.17 L110.57,638.38 L109.88,637.58 L109.19,636.79 L108.50,635.99 L107.81,635.19 L107.11,634.38 L106.42,633.58 L105.72,632.77 L105.02,631.95 L104.32,631.14 L103.61,630.32 L102.91,629.50 L102.20,628.68 L101.50,627.86 L100.79,627.03 L100.08,626.20 L99.37,625.37 L98.65,624.53 L97.94,623.69 L97.22,622.85 L96.50,622.01 L95.79,621.16 L95.07,620.31 L94.34,619.46 L93.62,618.60 L92.89,617.75 L92.17,616.88 L91.44,616.02 L90.71,615.15 L89.98,614.28 L89.25,613.41 L88.51,612.54 L87.78,611.66 L87.04,610.78 L86.30,609.89 L85.56,609.01 L84.82,608.12 L84.08,607.22 L83.34,606.32 L82.59,605.42 L81.84,604.52 L81.10,603.62 L80.35,602.71 L79.60,601.79 L78.84,600.88 L78.09,599.96 L77.33,599.04 L76.58,598.11 L75.82,597.18 L75.06,596.25 L74.30,595.31 L73.53,594.37 L72.77,593.43 L72.00,592.49 L71.24,591.54 L70.47,590.58 L69.70,589.63 L68.93,588.67 L68.15,587.70 L67.38,586.74 L66.60,585.76 L65.83,584.79 L65.05,583.81 L64.27,582.83 L63.49,581.84 L62.70,580.85 L61.92,579.86 L61.13,578.86 L60.35,577.86 L59.56,576.86 L58.77,575.85 L57.98,574.83 L57.18,573.82 L56.39,572.80 L55.59,571.77 L54.80,570.74 L54.00,569.71 L53.20,568.67 L52.40,567.63 L51.60,566.58 L50.79,565.53 L49.99,564.48 L49.18,563.42 L48.37,562.36 L47.56,561.29 L46.75,560.22 L45.94,559.14 L45.12,558.06 L44.31,556.97 L43.49,555.88 L42.67,554.79 L41.85,553.69 L41.03,552.58 L40.21,551.47 L39.39,550.36 L38.56,549.24 L37.73,548.12 L36.91,546.99 L36.08,545.86 L35.25,544.72 L34.41,543.58 L33.58,542.43 L32.75,541.27 L31.91,540.11 L31.07,538.95 L30.23,537.78 L29.39,536.61 L28.55,535.43 L27.71,534.24 L26.86,533.05 L26.02,531.85 L25.17,530.65 L24.32,529.44 L23.47,528.23 L22.62,527.01 L21.76,525.78 L20.91,524.55 L20.05,523.32 L19.20,522.07 L18.34,520.83 L17.48,519.57 L16.62,518.31 L15.75,517.04 L14.89,515.77 L14.02,514.49 L13.16,513.20 L12.29,511.91 L11.42,510.61 L10.55,509.30 L9.67,507.99 L8.80,506.67 L7.92,505.35 L7.05,504.01 L6.17,502.67 L5.29,501.33 L4.41,499.97 L3.53,498.61 L2.64,497.25 L1.76,495.87 L0.87,494.49 L-0.02,493.10 L-0.91,491.70 L-1.80,490.29 L-2.69,488.88 L-3.58,487.46 L-4.48,486.03 L-5.37,484.59 L-6.27,483.15 L-7.17,481.70 L-8.07,480.23 L-8.97,478.76 L-9.87,477.29 L-10.78,475.80 L-11.68,474.30 L-12.59,472.80 L-13.50,471.29 L-14.41,469.77 L-15.32,468.23 L-16.23,466.69 L-17.14,465.15 L-18.06,463.59 L-18.97,462.02 L-19.89,460.44 L-20.81,458.85 L-21.73,457.26 L-22.65,455.65 L-23.57,454.03 L-24.50,452.40 L-25.42,450.77 L-26.35,449.12 L-27.28,447.46 L-28.21,445.79 L-29.14,444.11 L-30.07,442.42 L-31.00,440.71 L-31.93,439.00 L-32.87,437.28 L-33.80,435.54 L-34.74,433.79 L-35.68,432.03 L-36.62,430.25 L-37.56,428.47 L-38.50,426.67 L-39.45,424.86 L-40.39,423.04 L-41.34,421.20 L-42.28,419.35 L-43.23,417.49 L-44.18,415.61 L-45.13,413.72 L-46.08,411.82 L-47.03,409.90 L-47.98,407.97 L-48.94,406.02 L-49.89,404.06 L-50.85,402.08 L-51.80,400.09 L-52.76,398.08 L-53.72,396.06 L-54.68,394.02 L-55.64,391.96 L-56.60,389.89 L-57.56,387.80 L-58.52,385.69 L-59.48,383.57 L-60.45,381.42 L-61.41,379.26 L-62.38,377.09 L-63.34,374.89 L-64.31,372.67 L-65.27,370.44 L-66.24,368.19 L-67.21,365.91 L-68.17,363.62 L-69.14,361.30 L-70.11,358.97 L-71.08,356.61 L-72.05,354.23 L-73.01,351.83 L-73.98,349.41 L-74.95,346.96 L-75.92,344.49 L-76.89,341.99 L-77.85,339.48 L-78.82,336.93 L-79.79,334.36 L-80.76,331.77 L-81.72,329.15 L-82.69,326.50 L-83.65,323.82 L-84.62,321.12 L-85.58,318.39 L-86.54,315.63 L-87.50,312.83 L-88.46,310.01 L-89.42,307.16 L-90.37,304.27 L-91.33,301.36 L-92.28,298.40 L-93.23,295.42 L-94.18,292.40 L-95.13,289.34 L-96.07,286.25 L-97.02,283.12 L-97.96,279.95 L-98.89,276.74 L-99.82,273.49 L-100.75,270.20 L-101.68,266.87 L-102.60,263.49 L-103.52,260.07 L-104.43,256.60 L-105.34,253.08 L-106.24,249.52 L-107.14,245.91 L-108.04,242.24 L-108.92,238.52 L-109.80,234.75 L-110.68,230.92 L-111.54,227.03 L-112.40,223.09 L-113.25,219.08 L-114.09,215.01 L-114.93,210.87 L-115.75,206.67 L-116.56,202.39 L-117.36,198.05 L-118.15,193.63 L-118.93,189.13 L-119.70,184.55 L-120.45,179.89 L-121.18,175.15 L-121.90,170.31 L-122.61,165.39 L-123.29,160.36 L-123.96,155.24 L-124.60,150.01 L-125.23,144.68 L-125.83,139.23 L-126.41,133.66 L-126.96,127.97 L-127.48,122.15 L-127.97,116.20 L-128.43,110.11 L-128.85,103.87 L-129.24,97.47 L-129.59,90.91 L-129.90,84.18 L-130.15,77.27 L-130.36,70.17 L-130.52,62.87 L-130.62,55.35 L-130.65,47.61 L-130.61,39.63 L-130.51,31.40 M150.96,642.31 L150.28,641.53 L149.59,640.75 L148.90,639.96 L148.20,639.17 L147.51,638.38 L146.81,637.58 L146.11,636.79 L145.41,635.99 L144.71,635.19 L144.00,634.38 L143.30,633.58 L142.59,632.77 L141.88,631.95 L141.17,631.14 L140.46,630.32 L139.74,629.50 L139.02,628.68 L138.30,627.86 L137.58,627.03 L136.86,626.20 L136.14,625.37 L135.41,624.53 L134.68,623.69 L133.95,622.85 L133.22,622.01 L132.49,621.16 L131.75,620.31 L131.01,619.46 L130.28,618.60 L129.53,617.75 L128.79,616.88 L128.05,616.02 L127.30,615.15 L126.55,614.28 L125.80,613.41 L125.05,612.54 L124.30,611.66 L123.54,610.78 L122.79,609.89 L122.03,609.01 L121.27,608.12 L120.51,607.22 L119.74,606.32 L118.98,605.42 L118.21,604.52 L117.44,603.62 L116.67,602.71 L115.90,601.79 L115.12,600.88 L114.34,599.96 L113.57,599.04 L112.79,598.11 L112.01,597.18 L111.22,596.25 L110.44,595.31 L109.65,594.37 L108.86,593.43 L108.07,592.49 L107.28,591.54 L106.48,590.58 L105.69,589.63 L104.89,588.67 L104.09,587.70 L103.29,586.74 L102.49,585.76 L101.69,584.79 L100.88,583.81 L100.07,582.83 L99.26,581.84 L98.45,580.85 L97.64,579.86 L96.82,578.86 L96.01,577.86 L95.19,576.86 L94.37,575.85 L93.55,574.83 L92.72,573.82 L91.90,572.80 L91.07,571.77 L90.24,570.74 L89.41,569.71 L88.58,568.67 L87.75,567.63 L86.91,566.58 L86.08,565.53 L85.24,564.48 L84.40,563.42 L83.56,562.36 L82.71,561.29 L81.87,560.22 L81.02,559.14 L80.17,558.06 L79.32,556.97 L78.47,555.88 L77.62,554.79 L76.76,553.69 L75.90,552.58 L75.05,551.47 L74.19,550.36 L73.32,549.24 L72.46,548.12 L71.59,546.99 L70.73,545.86 L69.86,544.72 L68.99,543.58 L68.12,542.43 L67.24,541.27 L66.37,540.11 L65.49,538.95 L64.61,537.78 L63.73,536.61 L62.85,535.43 L61.96,534.24 L61.08,533.05 L60.19,531.85 L59.30,530.65 L58.41,529.44 L57.52,528.23 L56.63,527.01 L55.73,525.78 L54.83,524.55 L53.94,523.32 L53.04,522.07 L52.13,520.83 L51.23,519.57 L50.32,518.31 L49.42,517.04 L48.51,515.77 L47.60,514.49 L46.69,513.20 L45.77,511.91 L44.86,510.61 L43.94,509.30 L43.02,507.99 L42.10,506.67 L41.18,505.35 L40.26,504.01 L39.33,502.67 L38.41,501.33 L37.48,499.97 L36.55,498.61 L35.62,497.25 L34.68,495.87 L33.75,494.49 L32.81,493.10 L31.87,491.70 L30.93,490.29 L29.99,488.88 L29.05,487.46 L28.11,486.03 L27.16,484.59 L26.21,483.15 L25.26,481.70 L24.31,480.23 L23.36,478.76 L22.40,477.29 L21.45,475.80 L20.49,474.30 L19.53,472.80 L18.57,471.29 L17.61,469.77 L16.64,468.23 L15.68,466.69 L14.71,465.15 L13.74,463.59 L12.77,462.02 L11.80,460.44 L10.83,458.85 L9.85,457.26 L8.88,455.65 L7.90,454.03 L6.92,452.40 L5.94,450.77 L4.95,449.12 L3.97,447.46 L2.98,445.79 L2.00,444.11 L1.01,442.42 L0.02,440.71 L-0.98,439.00 L-1.97,437.28 L-2.96,435.54 L-3.96,433.79 L-4.96,432.03 L-5.96,430.25 L-6.96,428.47 L-7.96,426.67 L-8.97,424.86 L-9.97,423.04 L-10.98,421.20 L-11.99,419.35 L-13.00,417.49 L-14.01,415.61 L-15.02,413.72 L-16.03,411.82 L-17.05,409.90 L-18.07,407.97 L-19.08,406.02 L-20.10,404.06 L-21.12,402.08 L-22.15,400.09 L-23.17,398.08 L-24.19,396.06 L-25.22,394.02 L-26.24,391.96 L-27.27,389.89 L-28.30,387.80 L-29.33,385.69 L-30.36,383.57 L-31.40,381.42 L-32.43,379.26 L-33.46,377.09 L-34.50,374.89 L-35.53,372.67 L-36.57,370.44 L-37.61,368.19 L-38.65,365.91 L-39.69,363.62 L-40.73,361.30 L-41.77,358.97 L-42.81,356.61 L-43.86,354.23 L-44.90,351.83 L-45.94,349.41 L-46.99,346.96 L-48.03,344.49 L-49.08,341.99 L-50.12,339.48 L-51.17,336.93 L-52.21,334.36 L-53.26,331.77 L-54.30,329.15 L-55.35,326.50 L-56.40,323.82 L-57.44,321.12 L-58.49,318.39 L-59.53,315.63 L-60.58,312.83 L-61.62,310.01 L-62.66,307.16 L-63.70,304.27 L-64.74,301.36 L-65.78,298.40 L-66.82,295.42 L-67.86,292.40 L-68.90,289.34 L-69.93,286.25 L-70.96,283.12 L-71.99,279.95 L-73.02,276.74 L-74.05,273.49 L-75.07,270.20 L-76.09,266.87 L-77.11,263.49 L-78.12,260.07 L-79.13,256.60 L-80.14,253.08 L-81.14,249.52 L-82.14,245.91 L-83.14,242.24 L-84.13,238.52 L-85.11,234.75 L-86.09,230.92 L-87.06,227.03 L-88.03,223.09 L-88.98,219.08 L-89.94,215.01 L-90.88,210.87 L-91.81,206.67 L-92.74,202.39 L-93.66,198.05 L-94.56,193.63 L-95.46,189.13 L-96.34,184.55 L-97.21,179.89 L-98.07,175.15 L-98.91,170.31 L-99.74,165.39 L-100.55,160.36 L-101.35,155.24 L-102.13,150.01 L-102.88,144.68 L-103.62,139.23 L-104.33,133.66 L-105.02,127.97 L-105.68,122.15 L-106.32,116.20 L-106.93,110.11 L-107.50,103.87 L-108.04,97.47 L-108.54,90.91 L-109.00,84.18 L-109.42,77.27 L-109.79,70.17 L-110.11,62.87 L-110.38,55.35 L-110.59,47.61 L-110.73,39.63 L-110.80,31.40 M187.76,642.31 L187.08,641.53 L186.39,640.75 L185.71,639.96 L185.02,639.17 L184.33,638.38 L183.63,637.58 L182.94,636.79 L182.24,635.99 L181.54,635.19 L180.84,634.38 L180.13,633.58 L179.42,632.77 L178.71,631.95 L178.00,631.14 L177.29,630.32 L176.57,629.50 L175.85,628.68 L175.13,627.86 L174.41,627.03 L173.69,626.20 L172.96,625.37 L172.23,624.53 L171.50,623.69 L170.76,622.85 L170.03,622.01 L169.29,621.16 L168.55,620.31 L167.81,619.46 L167.06,618.60 L166.32,617.75 L165.57,616.88 L164.81,616.02 L164.06,615.15 L163.30,614.28 L162.55,613.41 L161.79,612.54 L161.02,611.66 L160.26,610.78 L159.49,609.89 L158.72,609.01 L157.95,608.12 L157.18,607.22 L156.40,606.32 L155.62,605.42 L154.84,604.52 L154.06,603.62 L153.28,602.71 L152.49,601.79 L151.70,600.88 L150.91,599.96 L150.12,599.04 L149.32,598.11 L148.53,597.18 L147.73,596.25 L146.92,595.31 L146.12,594.37 L145.32,593.43 L144.51,592.49 L143.70,591.54 L142.88,590.58 L142.07,589.63 L141.25,588.67 L140.43,587.70 L139.61,586.74 L138.79,585.76 L137.97,584.79 L137.14,583.81 L136.31,582.83 L135.48,581.84 L134.64,580.85 L133.81,579.86 L132.97,578.86 L132.13,577.86 L131.29,576.86 L130.44,575.85 L129.60,574.83 L128.75,573.82 L127.90,572.80 L127.05,571.77 L126.19,570.74 L125.33,569.71 L124.48,568.67 L123.62,567.63 L122.75,566.58 L121.89,565.53 L121.02,564.48 L120.15,563.42 L119.28,562.36 L118.41,561.29 L117.53,560.22 L116.65,559.14 L115.78,558.06 L114.89,556.97 L114.01,555.88 L113.13,554.79 L112.24,553.69 L111.35,552.58 L110.46,551.47 L109.56,550.36 L108.67,549.24 L107.77,548.12 L106.87,546.99 L105.97,545.86 L105.06,544.72 L104.16,543.58 L103.25,542.43 L102.34,541.27 L101.43,540.11 L100.52,538.95 L99.60,537.78 L98.68,536.61 L97.76,535.43 L96.84,534.24 L95.92,533.05 L94.99,531.85 L94.06,530.65 L93.13,529.44 L92.20,528.23 L91.27,527.01 L90.33,525.78 L89.40,524.55 L88.46,523.32 L87.52,522.07 L86.57,520.83 L85.63,519.57 L84.68,518.31 L83.73,517.04 L82.78,515.77 L81.83,514.49 L80.87,513.20 L79.91,511.91 L78.95,510.61 L77.99,509.30 L77.03,507.99 L76.06,506.67 L75.10,505.35 L74.13,504.01 L73.16,502.67 L72.18,501.33 L71.21,499.97 L70.23,498.61 L69.25,497.25 L68.27,495.87 L67.29,494.49 L66.31,493.10 L65.32,491.70 L64.33,490.29 L63.34,488.88 L62.35,487.46 L61.35,486.03 L60.36,484.59 L59.36,483.15 L58.36,481.70 L57.36,480.23 L56.35,478.76 L55.35,477.29 L54.34,475.80 L53.33,474.30 L52.32,472.80 L51.31,471.29 L50.29,469.77 L49.27,468.23 L48.26,466.69 L47.23,465.15 L46.21,463.59 L45.19,462.02 L44.16,460.44 L43.13,458.85 L42.10,457.26 L41.07,455.65 L40.03,454.03 L39.00,452.40 L37.96,450.77 L36.92,449.12 L35.88,447.46 L34.83,445.79 L33.79,444.11 L32.74,442.42 L31.69,440.71 L30.64,439.00 L29.59,437.28 L28.53,435.54 L27.48,433.79 L26.42,432.03 L25.36,430.25 L24.30,428.47 L23.23,426.67 L22.17,424.86 L21.10,423.04 L20.03,421.20 L18.96,419.35 L17.88,417.49 L16.81,415.61 L15.73,413.72 L14.66,411.82 L13.58,409.90 L12.49,407.97 L11.41,406.02 L10.33,404.06 L9.24,402.08 L8.15,400.09 L7.06,398.08 L5.97,396.06 L4.88,394.02 L3.78,391.96 L2.68,389.89 L1.59,387.80 L0.49,385.69 L-0.61,383.57 L-1.72,381.42 L-2.82,379.26 L-3.93,377.09 L-5.03,374.89 L-6.14,372.67 L-7.25,370.44 L-8.36,368.19 L-9.48,365.91 L-10.59,363.62 L-11.71,361.30 L-12.82,358.97 L-13.94,356.61 L-15.06,354.23 L-16.18,351.83 L-17.30,349.41 L-18.42,346.96 L-19.54,344.49 L-20.67,341.99 L-21.79,339.48 L-22.92,336.93 L-24.04,334.36 L-25.17,331.77 L-26.30,329.15 L-27.42,326.50 L-28.55,323.82 L-29.68,321.12 L-30.81,318.39 L-31.94,315.63 L-33.07,312.83 L-34.20,310.01 L-35.33,307.16 L-36.46,304.27 L-37.59,301.36 L-38.71,298.40 L-39.84,295.42 L-40.97,292.40 L-42.10,289.34 L-43.22,286.25 L-44.35,283.12 L-45.47,279.95 L-46.59,276.74 L-47.72,273.49 L-48.83,270.20 L-49.95,266.87 L-51.07,263.49 L-52.18,260.07 L-53.29,256.60 L-54.40,253.08 L-55.50,249.52 L-56.60,245.91 L-57.70,242.24 L-58.80,238.52 L-59.89,234.75 L-60.97,230.92 L-62.05,227.03 L-63.12,223.09 L-64.19,219.08 L-65.26,215.01 L-66.31,210.87 L-67.36,206.67 L-68.40,202.39 L-69.44,198.05 L-70.46,193.63 L-71.48,189.13 L-72.48,184.55 L-73.48,179.89 L-74.46,175.15 L-75.43,170.31 L-76.38,165.39 L-77.33,160.36 L-78.25,155.24 L-79.16,150.01 L-80.06,144.68 L-80.93,139.23 L-81.78,133.66 L-82.61,127.97 L-83.42,122.15 L-84.20,116.20 L-84.96,110.11 L-85.68,103.87 L-86.38,97.47 L-87.03,90.91 L-87.66,84.18 L-88.24,77.27 L-88.78,70.17 L-89.27,62.87 L-89.71,55.35 L-90.09,47.61 L-90.41,39.63 L-90.67,31.40 M224.35,642.31 L223.68,641.53 L223.02,640.75 L222.35,639.96 L221.68,639.17 L221.00,638.38 L220.32,637.58 L219.65,636.79 L218.96,635.99 L218.28,635.19 L217.59,634.38 L216.90,633.58 L216.21,632.77 L215.51,631.95 L214.81,631.14 L214.11,630.32 L213.41,629.50 L212.70,628.68 L212.00,627.86 L211.28,627.03 L210.57,626.20 L209.85,625.37 L209.13,624.53 L208.41,623.69 L207.69,622.85 L206.96,622.01 L206.23,621.16 L205.50,620.31 L204.76,619.46 L204.02,618.60 L203.28,617.75 L202.54,616.88 L201.79,616.02 L201.04,615.15 L200.29,614.28 L199.54,613.41 L198.78,612.54 L198.02,611.66 L197.26,610.78 L196.49,609.89 L195.72,609.01 L194.95,608.12 L194.18,607.22 L193.40,606.32 L192.62,605.42 L191.84,604.52 L191.06,603.62 L190.27,602.71 L189.48,601.79 L188.69,600.88 L187.90,599.96 L187.10,599.04 L186.30,598.11 L185.50,597.18 L184.69,596.25 L183.89,595.31 L183.08,594.37 L182.26,593.43 L181.45,592.49 L180.63,591.54 L179.81,590.58 L178.98,589.63 L178.16,588.67 L177.33,587.70 L176.50,586.74 L175.66,585.76 L174.83,584.79 L173.99,583.81 L173.14,582.83 L172.30,581.84 L171.45,580.85 L170.60,579.86 L169.75,578.86 L168.89,577.86 L168.04,576.86 L167.18,575.85 L166.31,574.83 L165.45,573.82 L164.58,572.80 L163.71,571.77 L162.84,570.74 L161.96,569.71 L161.08,568.67 L160.20,567.63 L159.32,566.58 L158.43,565.53 L157.54,564.48 L156.65,563.42 L155.76,562.36 L154.86,561.29 L153.97,560.22 L153.06,559.14 L152.16,558.06 L151.26,556.97 L150.35,555.88 L149.44,554.79 L148.52,553.69 L147.61,552.58 L146.69,551.47 L145.77,550.36 L144.84,549.24 L143.92,548.12 L142.99,546.99 L142.06,545.86 L141.12,544.72 L140.19,543.58 L139.25,542.43 L138.31,541.27 L137.36,540.11 L136.42,538.95 L135.47,537.78 L134.52,536.61 L133.57,535.43 L132.61,534.24 L131.65,533.05 L130.69,531.85 L129.73,530.65 L128.77,529.44 L127.80,528.23 L126.83,527.01 L125.86,525.78 L124.88,524.55 L123.90,523.32 L122.92,522.07 L121.94,520.83 L120.96,519.57 L119.97,518.31 L118.98,517.04 L117.99,515.77 L117.00,514.49 L116.00,513.20 L115.00,511.91 L114.00,510.61 L113.00,509.30 L111.99,507.99 L110.98,506.67 L109.97,505.35 L108.96,504.01 L107.94,502.67 L106.93,501.33 L105.91,499.97 L104.89,498.61 L103.86,497.25 L102.83,495.87 L101.81,494.49 L100.77,493.10 L99.74,491.70 L98.70,490.29 L97.67,488.88 L96.62,487.46 L95.58,486.03 L94.54,484.59 L93.49,483.15 L92.44,481.70 L91.39,480.23 L90.33,478.76 L89.28,477.29 L88.22,475.80 L87.16,474.30 L86.09,472.80 L85.03,471.29 L83.96,469.77 L82.89,468.23 L81.81,466.69 L80.74,465.15 L79.66,463.59 L78.58,462.02 L77.50,460.44 L76.42,458.85 L75.33,457.26 L74.24,455.65 L73.15,454.03 L72.06,452.40 L70.96,450.77 L69.86,449.12 L68.76,447.46 L67.66,445.79 L66.56,444.11 L65.45,442.42 L64.34,440.71 L63.23,439.00 L62.12,437.28 L61.00,435.54 L59.88,433.79 L58.76,432.03 L57.64,430.25 L56.52,428.47 L55.39,426.67 L54.26,424.86 L53.13,423.04 L52.00,421.20 L50.86,419.35 L49.73,417.49 L48.59,415.61 L47.44,413.72 L46.30,411.82 L45.15,409.90 L44.01,407.97 L42.86,406.02 L41.70,404.06 L40.55,402.08 L39.39,400.09 L38.23,398.08 L37.07,396.06 L35.91,394.02 L34.74,391.96 L33.58,389.89 L32.41,387.80 L31.24,385.69 L30.06,383.57 L28.89,381.42 L27.71,379.26 L26.53,377.09 L25.35,374.89 L24.17,372.67 L22.99,370.44 L21.80,368.19 L20.61,365.91 L19.42,363.62 L18.23,361.30 L17.04,358.97 L15.84,356.61 L14.65,354.23 L13.45,351.83 L12.25,349.41 L11.05,346.96 L9.84,344.49 L8.64,341.99 L7.43,339.48 L6.22,336.93 L5.02,334.36 L3.81,331.77 L2.59,329.15 L1.38,326.50 L0.17,323.82 L-1.05,321.12 L-2.26,318.39 L-3.48,315.63 L-4.70,312.83 L-5.91,310.01 L-7.13,307.16 L-8.35,304.27 L-9.57,301.36 L-10.79,298.40 L-12.01,295.42 L-13.23,292.40 L-14.45,289.34 L-15.68,286.25 L-16.90,283.12 L-18.12,279.95 L-19.34,276.74 L-20.55,273.49 L-21.77,270.20 L-22.99,266.87 L-24.21,263.49 L-25.42,260.07 L-26.63,256.60 L-27.84,253.08 L-29.05,249.52 L-30.26,245.91 L-31.47,242.24 L-32.67,238.52 L-33.87,234.75 L-35.06,230.92 L-36.25,227.03 L-37.44,223.09 L-38.62,219.08 L-39.80,215.01 L-40.97,210.87 L-42.14,206.67 L-43.30,202.39 L-44.46,198.05 L-45.60,193.63 L-46.74,189.13 L-47.87,184.55 L-48.99,179.89 L-50.10,175.15 L-51.20,170.31 L-52.29,165.39 L-53.37,160.36 L-54.43,155.24 L-55.48,150.01 L-56.51,144.68 L-57.53,139.23 L-58.52,133.66 L-59.50,127.97 L-60.46,122.15 L-61.39,116.20 L-62.30,110.11 L-63.18,103.87 L-64.03,97.47 L-64.85,90.91 L-65.64,84.18 L-66.39,77.27 L-67.10,70.17 L-67.76,62.87 L-68.38,55.35 L-68.95,47.61 L-69.46,39.63 L-69.90,31.40 M260.68,642.31 L260.05,641.53 L259.42,640.75 L258.79,639.96 L258.15,639.17 L257.51,638.38 L256.86,637.58 L256.21,636.79 L255.56,635.99 L254.91,635.19 L254.25,634.38 L253.60,633.58 L252.93,632.77 L252.27,631.95 L251.60,631.14 L250.93,630.32 L250.25,629.50 L249.57,628.68 L248.89,627.86 L248.21,627.03 L247.52,626.20 L246.83,625.37 L246.14,624.53 L245.44,623.69 L244.74,622.85 L244.04,622.01 L243.33,621.16 L242.62,620.31 L241.91,619.46 L241.19,618.60 L240.47,617.75 L239.75,616.88 L239.03,616.02 L238.30,615.15 L237.57,614.28 L236.83,613.41 L236.09,612.54 L235.35,611.66 L234.61,610.78 L233.86,609.89 L233.11,609.01 L232.35,608.12 L231.60,607.22 L230.84,606.32 L230.07,605.42 L229.31,604.52 L228.53,603.62 L227.76,602.71 L226.98,601.79 L226.20,600.88 L225.42,599.96 L224.63,599.04 L223.84,598.11 L223.05,597.18 L222.26,596.25 L221.46,595.31 L220.65,594.37 L219.85,593.43 L219.04,592.49 L218.23,591.54 L217.41,590.58 L216.59,589.63 L215.77,588.67 L214.94,587.70 L214.12,586.74 L213.28,585.76 L212.45,584.79 L211.61,583.81 L210.77,582.83 L209.92,581.84 L209.08,580.85 L208.23,579.86 L207.37,578.86 L206.51,577.86 L205.65,576.86 L204.79,575.85 L203.92,574.83 L203.05,573.82 L202.18,572.80 L201.30,571.77 L200.42,570.74 L199.54,569.71 L198.65,568.67 L197.76,567.63 L196.87,566.58 L195.97,565.53 L195.07,564.48 L194.17,563.42 L193.27,562.36 L192.36,561.29 L191.45,560.22 L190.53,559.14 L189.61,558.06 L188.69,556.97 L187.77,555.88 L186.84,554.79 L185.91,553.69 L184.98,552.58 L184.04,551.47 L183.10,550.36 L182.16,549.24 L181.21,548.12 L180.27,546.99 L179.31,545.86 L178.36,544.72 L177.40,543.58 L176.44,542.43 L175.47,541.27 L174.51,540.11 L173.54,538.95 L172.56,537.78 L171.59,536.61 L170.61,535.43 L169.63,534.24 L168.64,533.05 L167.65,531.85 L166.66,530.65 L165.67,529.44 L164.67,528.23 L163.67,527.01 L162.66,525.78 L161.66,524.55 L160.65,523.32 L159.64,522.07 L158.62,520.83 L157.60,519.57 L156.58,518.31 L155.56,517.04 L154.53,515.77 L153.50,514.49 L152.47,513.20 L151.43,511.91 L150.39,510.61 L149.35,509.30 L148.31,507.99 L147.26,506.67 L146.21,505.35 L145.16,504.01 L144.10,502.67 L143.04,501.33 L141.98,499.97 L140.92,498.61 L139.85,497.25 L138.78,495.87 L137.71,494.49 L136.63,493.10 L135.55,491.70 L134.47,490.29 L133.39,488.88 L132.30,487.46 L131.21,486.03 L130.12,484.59 L129.02,483.15 L127.92,481.70 L126.82,480.23 L125.72,478.76 L124.61,477.29 L123.50,475.80 L122.39,474.30 L121.28,472.80 L120.16,471.29 L119.04,469.77 L117.92,468.23 L116.79,466.69 L115.66,465.15 L114.53,463.59 L113.40,462.02 L112.26,460.44 L111.12,458.85 L109.98,457.26 L108.83,455.65 L107.68,454.03 L106.53,452.40 L105.38,450.77 L104.22,449.12 L103.07,447.46 L101.90,445.79 L100.74,444.11 L99.57,442.42 L98.41,440.71 L97.23,439.00 L96.06,437.28 L94.88,435.54 L93.70,433.79 L92.52,432.03 L91.33,430.25 L90.15,428.47 L88.95,426.67 L87.76,424.86 L86.57,423.04 L85.37,421.20 L84.17,419.35 L82.96,417.49 L81.76,415.61 L80.55,413.72 L79.33,411.82 L78.12,409.90 L76.90,407.97 L75.68,406.02 L74.46,404.06 L73.24,402.08 L72.01,400.09 L70.78,398.08 L69.55,396.06 L68.31,394.02 L67.08,391.96 L65.84,389.89 L64.59,387.80 L63.35,385.69 L62.10,383.57 L60.85,381.42 L59.60,379.26 L58.34,377.09 L57.09,374.89 L55.83,372.67 L54.57,370.44 L53.30,368.19 L52.03,365.91 L50.76,363.62 L49.49,361.30 L48.22,358.97 L46.94,356.61 L45.67,354.23 L44.39,351.83 L43.10,349.41 L41.82,346.96 L40.53,344.49 L39.24,341.99 L37.95,339.48 L36.66,336.93 L35.36,334.36 L34.07,331.77 L32.77,329.15 L31.47,326.50 L30.16,323.82 L28.86,321.12 L27.55,318.39 L26.25,315.63 L24.94,312.83 L23.63,310.01 L22.31,307.16 L21.00,304.27 L19.69,301.36 L18.37,298.40 L17.05,295.42 L15.74,292.40 L14.42,289.34 L13.10,286.25 L11.78,283.12 L10.46,279.95 L9.14,276.74 L7.81,273.49 L6.49,270.20 L5.17,266.87 L3.85,263.49 L2.53,260.07 L1.21,256.60 L-0.11,253.08 L-1.43,249.52 L-2.75,245.91 L-4.06,242.24 L-5.38,238.52 L-6.69,234.75 L-8.00,230.92 L-9.31,227.03 L-10.61,223.09 L-11.92,219.08 L-13.21,215.01 L-14.51,210.87 L-15.80,206.67 L-17.08,202.39 L-18.36,198.05 L-19.64,193.63 L-20.91,189.13 L-22.17,184.55 L-23.42,179.89 L-24.67,175.15 L-25.90,170.31 L-27.13,165.39 L-28.34,160.36 L-29.55,155.24 L-30.74,150.01 L-31.92,144.68 L-33.08,139.23 L-34.23,133.66 L-35.36,127.97 L-36.47,122.15 L-37.56,116.20 L-38.63,110.11 L-39.67,103.87 L-40.69,97.47 L-41.68,90.91 L-42.64,84.18 L-43.57,77.27 L-44.46,70.17 L-45.30,62.87 L-46.11,55.35 L-46.86,47.61 L-47.57,39.63 L-48.21,31.40 M296.75,642.31 L296.17,641.53 L295.59,640.75 L295.00,639.96 L294.42,639.17 L293.83,638.38 L293.23,637.58 L292.63,636.79 L292.03,635.99 L291.43,635.19 L290.82,634.38 L290.21,633.58 L289.59,632.77 L288.97,631.95 L288.35,631.14 L287.73,630.32 L287.10,629.50 L286.47,628.68 L285.83,627.86 L285.19,627.03 L284.55,626.20 L283.90,625.37 L283.25,624.53 L282.60,623.69 L281.95,622.85 L281.29,622.01 L280.62,621.16 L279.95,620.31 L279.28,619.46 L278.61,618.60 L277.93,617.75 L277.25,616.88 L276.56,616.02 L275.87,615.15 L275.18,614.28 L274.48,613.41 L273.78,612.54 L273.08,611.66 L272.37,610.78 L271.66,609.89 L270.95,609.01 L270.23,608.12 L269.50,607.22 L268.78,606.32 L268.05,605.42 L267.31,604.52 L266.58,603.62 L265.84,602.71 L265.09,601.79 L264.34,600.88 L263.59,599.96 L262.83,599.04 L262.07,598.11 L261.31,597.18 L260.54,596.25 L259.77,595.31 L258.99,594.37 L258.21,593.43 L257.43,592.49 L256.64,591.54 L255.85,590.58 L255.05,589.63 L254.25,588.67 L253.45,587.70 L252.64,586.74 L251.83,585.76 L251.02,584.79 L250.20,583.81 L249.38,582.83 L248.55,581.84 L247.72,580.85 L246.88,579.86 L246.05,578.86 L245.20,577.86 L244.36,576.86 L243.51,575.85 L242.65,574.83 L241.80,573.82 L240.93,572.80 L240.07,571.77 L239.20,570.74 L238.32,569.71 L237.45,568.67 L236.57,567.63 L235.68,566.58 L234.79,565.53 L233.90,564.48 L233.00,563.42 L232.10,562.36 L231.19,561.29 L230.29,560.22 L229.37,559.14 L228.46,558.06 L227.54,556.97 L226.61,555.88 L225.68,554.79 L224.75,553.69 L223.81,552.58 L222.87,551.47 L221.93,550.36 L220.98,549.24 L220.03,548.12 L219.07,546.99 L218.11,545.86 L217.15,544.72 L216.18,543.58 L215.21,542.43 L214.24,541.27 L213.26,540.11 L212.28,538.95 L211.29,537.78 L210.30,536.61 L209.31,535.43 L208.31,534.24 L207.31,533.05 L206.30,531.85 L205.29,530.65 L204.28,529.44 L203.26,528.23 L202.24,527.01 L201.22,525.78 L200.19,524.55 L199.16,523.32 L198.12,522.07 L197.08,520.83 L196.04,519.57 L195.00,518.31 L193.95,517.04 L192.89,515.77 L191.83,514.49 L190.77,513.20 L189.71,511.91 L188.64,510.61 L187.57,509.30 L186.49,507.99 L185.41,506.67 L184.33,505.35 L183.24,504.01 L182.15,502.67 L181.06,501.33 L179.96,499.97 L178.86,498.61 L177.76,497.25 L176.65,495.87 L175.54,494.49 L174.42,493.10 L173.30,491.70 L172.18,490.29 L171.06,488.88 L169.93,487.46 L168.80,486.03 L167.66,484.59 L166.52,483.15 L165.38,481.70 L164.23,480.23 L163.08,478.76 L161.93,477.29 L160.77,475.80 L159.61,474.30 L158.45,472.80 L157.28,471.29 L156.11,469.77 L154.94,468.23 L153.76,466.69 L152.58,465.15 L151.40,463.59 L150.21,462.02 L149.02,460.44 L147.82,458.85 L146.63,457.26 L145.43,455.65 L144.22,454.03 L143.02,452.40 L141.81,450.77 L140.59,449.12 L139.38,447.46 L138.15,445.79 L136.93,444.11 L135.70,442.42 L134.47,440.71 L133.24,439.00 L132.00,437.28 L130.76,435.54 L129.52,433.79 L128.27,432.03 L127.03,430.25 L125.77,428.47 L124.52,426.67 L123.26,424.86 L121.99,423.04 L120.73,421.20 L119.46,419.35 L118.19,417.49 L116.91,415.61 L115.63,413.72 L114.35,411.82 L113.07,409.90 L111.78,407.97 L110.49,406.02 L109.19,404.06 L107.90,402.08 L106.60,400.09 L105.29,398.08 L103.99,396.06 L102.68,394.02 L101.36,391.96 L100.05,389.89 L98.73,387.80 L97.41,385.69 L96.08,383.57 L94.75,381.42 L93.42,379.26 L92.09,377.09 L90.75,374.89 L89.41,372.67 L88.06,370.44 L86.72,368.19 L85.37,365.91 L84.02,363.62 L82.66,361.30 L81.30,358.97 L79.94,356.61 L78.58,354.23 L77.21,351.83 L75.84,349.41 L74.47,346.96 L73.09,344.49 L71.71,341.99 L70.33,339.48 L68.95,336.93 L67.56,334.36 L66.17,331.77 L64.78,329.15 L63.39,326.50 L61.99,323.82 L60.59,321.12 L59.19,318.39 L57.79,315.63 L56.38,312.83 L54.97,310.01 L53.56,307.16 L52.15,304.27 L50.73,301.36 L49.32,298.40 L47.90,295.42 L46.48,292.40 L45.06,289.34 L43.63,286.25 L42.21,283.12 L40.78,279.95 L39.35,276.74 L37.92,273.49 L36.49,270.20 L35.06,266.87 L33.62,263.49 L32.19,260.07 L30.76,256.60 L29.32,253.08 L27.89,249.52 L26.45,245.91 L25.02,242.24 L23.58,238.52 L22.15,234.75 L20.72,230.92 L19.29,227.03 L17.86,223.09 L16.43,219.08 L15.00,215.01 L13.58,210.87 L12.16,206.67 L10.74,202.39 L9.33,198.05 L7.92,193.63 L6.51,189.13 L5.11,184.55 L3.72,179.89 L2.33,175.15 L0.95,170.31 L-0.42,165.39 L-1.79,160.36 L-3.14,155.24 L-4.49,150.01 L-5.82,144.68 L-7.14,139.23 L-8.45,133.66 L-9.74,127.97 L-11.02,122.15 L-12.28,116.20 L-13.51,110.11 L-14.73,103.87 L-15.93,97.47 L-17.10,90.91 L-18.24,84.18 L-19.35,77.27 L-20.43,70.17 L-21.47,62.87 L-22.47,55.35 L-23.43,47.61 L-24.34,39.63 L-25.20,31.40 M332.56,642.31 L332.05,641.53 L331.53,640.75 L331.01,639.96 L330.49,639.17 L329.96,638.38 L329.44,637.58 L328.90,636.79 L328.37,635.99 L327.83,635.19 L327.28,634.38 L326.74,633.58 L326.19,632.77 L325.63,631.95 L325.08,631.14 L324.52,630.32 L323.95,629.50 L323.38,628.68 L322.81,627.86 L322.24,627.03 L321.66,626.20 L321.07,625.37 L320.49,624.53 L319.90,623.69 L319.30,622.85 L318.71,622.01 L318.10,621.16 L317.50,620.31 L316.89,619.46 L316.28,618.60 L315.66,617.75 L315.04,616.88 L314.41,616.02 L313.78,615.15 L313.15,614.28 L312.51,613.41 L311.87,612.54 L311.23,611.66 L310.58,610.78 L309.92,609.89 L309.27,609.01 L308.61,608.12 L307.94,607.22 L307.27,606.32 L306.60,605.42 L305.92,604.52 L305.23,603.62 L304.55,602.71 L303.86,601.79 L303.16,600.88 L302.46,599.96 L301.76,599.04 L301.05,598.11 L300.34,597.18 L299.62,596.25 L298.90,595.31 L298.17,594.37 L297.44,593.43 L296.71,592.49 L295.97,591.54 L295.22,590.58 L294.48,589.63 L293.72,588.67 L292.97,587.70 L292.20,586.74 L291.44,585.76 L290.67,584.79 L289.89,583.81 L289.11,582.83 L288.33,581.84 L287.54,580.85 L286.74,579.86 L285.95,578.86 L285.14,577.86 L284.34,576.86 L283.52,575.85 L282.71,574.83 L281.88,573.82 L281.06,572.80 L280.23,571.77 L279.39,570.74 L278.55,569.71 L277.70,568.67 L276.85,567.63 L276.00,566.58 L275.14,565.53 L274.28,564.48 L273.41,563.42 L272.53,562.36 L271.65,561.29 L270.77,560.22 L269.88,559.14 L268.99,558.06 L268.09,556.97 L267.19,555.88 L266.28,554.79 L265.37,553.69 L264.45,552.58 L263.53,551.47 L262.60,550.36 L261.67,549.24 L260.73,548.12 L259.79,546.99 L258.85,545.86 L257.90,544.72 L256.94,543.58 L255.98,542.43 L255.01,541.27 L254.04,540.11 L253.07,538.95 L252.09,537.78 L251.11,536.61 L250.12,535.43 L249.12,534.24 L248.12,533.05 L247.12,531.85 L246.11,530.65 L245.10,529.44 L244.08,528.23 L243.06,527.01 L242.03,525.78 L241.00,524.55 L239.96,523.32 L238.92,522.07 L237.87,520.83 L236.82,519.57 L235.76,518.31 L234.70,517.04 L233.64,515.77 L232.57,514.49 L231.49,513.20 L230.41,511.91 L229.33,510.61 L228.24,509.30 L227.15,507.99 L226.05,506.67 L224.94,505.35 L223.84,504.01 L222.73,502.67 L221.61,501.33 L220.49,499.97 L219.36,498.61 L218.23,497.25 L217.10,495.87 L215.96,494.49 L214.81,493.10 L213.67,491.70 L212.51,490.29 L211.36,488.88 L210.19,487.46 L209.03,486.03 L207.86,484.59 L206.68,483.15 L205.50,481.70 L204.32,480.23 L203.13,478.76 L201.94,477.29 L200.74,475.80 L199.54,474.30 L198.33,472.80 L197.12,471.29 L195.91,469.77 L194.69,468.23 L193.47,466.69 L192.24,465.15 L191.01,463.59 L189.78,462.02 L188.54,460.44 L187.29,458.85 L186.04,457.26 L184.79,455.65 L183.53,454.03 L182.27,452.40 L181.01,450.77 L179.74,449.12 L178.47,447.46 L177.19,445.79 L175.91,444.11 L174.62,442.42 L173.33,440.71 L172.04,439.00 L170.74,437.28 L169.44,435.54 L168.13,433.79 L166.82,432.03 L165.51,430.25 L164.19,428.47 L162.87,426.67 L161.54,424.86 L160.21,423.04 L158.88,421.20 L157.54,419.35 L156.20,417.49 L154.85,415.61 L153.51,413.72 L152.15,411.82 L150.79,409.90 L149.43,407.97 L148.07,406.02 L146.70,404.06 L145.33,402.08 L143.95,400.09 L142.57,398.08 L141.18,396.06 L139.79,394.02 L138.40,391.96 L137.01,389.89 L135.61,387.80 L134.20,385.69 L132.80,383.57 L131.38,381.42 L129.97,379.26 L128.55,377.09 L127.13,374.89 L125.70,372.67 L124.27,370.44 L122.84,368.19 L121.40,365.91 L119.96,363.62 L118.51,361.30 L117.07,358.97 L115.61,356.61 L114.16,354.23 L112.70,351.83 L111.24,349.41 L109.77,346.96 L108.30,344.49 L106.82,341.99 L105.35,339.48 L103.87,336.93 L102.38,334.36 L100.90,331.77 L99.40,329.15 L97.91,326.50 L96.41,323.82 L94.91,321.12 L93.41,318.39 L91.90,315.63 L90.39,312.83 L88.87,310.01 L87.36,307.16 L85.84,304.27 L84.31,301.36 L82.79,298.40 L81.26,295.42 L79.73,292.40 L78.19,289.34 L76.65,286.25 L75.12,283.12 L73.57,279.95 L72.03,276.74 L70.48,273.49 L68.93,270.20 L67.38,266.87 L65.83,263.49 L64.27,260.07 L62.71,256.60 L61.15,253.08 L59.59,249.52 L58.03,245.91 L56.47,242.24 L54.91,238.52 L53.34,234.75 L51.78,230.92 L50.21,227.03 L48.65,223.09 L47.08,219.08 L45.52,215.01 L43.96,210.87 L42.39,206.67 L40.83,202.39 L39.28,198.05 L37.72,193.63 L36.17,189.13 L34.62,184.55 L33.07,179.89 L31.53,175.15 L29.99,170.31 L28.46,165.39 L26.94,160.36 L25.42,155.24 L23.91,150.01 L22.41,144.68 L20.92,139.23 L19.44,133.66 L17.97,127.97 L16.51,122.15 L15.08,116.20 L13.65,110.11 L12.25,103.87 L10.86,97.47 L9.50,90.91 L8.16,84.18 L6.85,77.27 L5.56,70.17 L4.31,62.87 L3.09,55.35 L1.92,47.61 L0.78,39.63 L-0.30,31.40 M368.15,642.31 L367.72,641.53 L367.28,640.75 L366.84,639.96 L366.40,639.17 L365.95,638.38 L365.50,637.58 L365.04,636.79 L364.59,635.99 L364.13,635.19 L363.66,634.38 L363.20,633.58 L362.73,632.77 L362.25,631.95 L361.77,631.14 L361.29,630.32 L360.81,629.50 L360.32,628.68 L359.83,627.86 L359.33,627.03 L358.83,626.20 L358.33,625.37 L357.83,624.53 L357.32,623.69 L356.80,622.85 L356.28,622.01 L355.76,621.16 L355.24,620.31 L354.71,619.46 L354.18,618.60 L353.64,617.75 L353.10,616.88 L352.55,616.02 L352.00,615.15 L351.45,614.28 L350.89,613.41 L350.33,612.54 L349.77,611.66 L349.20,610.78 L348.62,609.89 L348.04,609.01 L347.46,608.12 L346.88,607.22 L346.28,606.32 L345.69,605.42 L345.09,604.52 L344.49,603.62 L343.88,602.71 L343.26,601.79 L342.65,600.88 L342.02,599.96 L341.40,599.04 L340.77,598.11 L340.13,597.18 L339.49,596.25 L338.84,595.31 L338.19,594.37 L337.54,593.43 L336.88,592.49 L336.22,591.54 L335.55,590.58 L334.87,589.63 L334.19,588.67 L333.51,587.70 L332.82,586.74 L332.13,585.76 L331.43,584.79 L330.72,583.81 L330.02,582.83 L329.30,581.84 L328.58,580.85 L327.86,579.86 L327.13,578.86 L326.39,577.86 L325.65,576.86 L324.91,575.85 L324.16,574.83 L323.40,573.82 L322.64,572.80 L321.87,571.77 L321.10,570.74 L320.33,569.71 L319.54,568.67 L318.75,567.63 L317.96,566.58 L317.16,565.53 L316.36,564.48 L315.55,563.42 L314.73,562.36 L313.91,561.29 L313.08,560.22 L312.25,559.14 L311.41,558.06 L310.57,556.97 L309.72,555.88 L308.86,554.79 L308.00,553.69 L307.13,552.58 L306.26,551.47 L305.38,550.36 L304.50,549.24 L303.61,548.12 L302.71,546.99 L301.81,545.86 L300.90,544.72 L299.99,543.58 L299.07,542.43 L298.14,541.27 L297.21,540.11 L296.27,538.95 L295.33,537.78 L294.38,536.61 L293.43,535.43 L292.47,534.24 L291.50,533.05 L290.53,531.85 L289.55,530.65 L288.56,529.44 L287.57,528.23 L286.57,527.01 L285.57,525.78 L284.56,524.55 L283.55,523.32 L282.53,522.07 L281.50,520.83 L280.47,519.57 L279.43,518.31 L278.38,517.04 L277.33,515.77 L276.27,514.49 L275.21,513.20 L274.14,511.91 L273.07,510.61 L271.98,509.30 L270.90,507.99 L269.80,506.67 L268.71,505.35 L267.60,504.01 L266.49,502.67 L265.37,501.33 L264.25,499.97 L263.12,498.61 L261.99,497.25 L260.85,495.87 L259.70,494.49 L258.55,493.10 L257.39,491.70 L256.22,490.29 L255.05,488.88 L253.88,487.46 L252.70,486.03 L251.51,484.59 L250.32,483.15 L249.12,481.70 L247.91,480.23 L246.70,478.76 L245.49,477.29 L244.26,475.80 L243.04,474.30 L241.80,472.80 L240.56,471.29 L239.32,469.77 L238.07,468.23 L236.81,466.69 L235.55,465.15 L234.28,463.59 L233.01,462.02 L231.73,460.44 L230.45,458.85 L229.16,457.26 L227.87,455.65 L226.57,454.03 L225.26,452.40 L223.95,450.77 L222.63,449.12 L221.31,447.46 L219.98,445.79 L218.65,444.11 L217.31,442.42 L215.97,440.71 L214.62,439.00 L213.27,437.28 L211.91,435.54 L210.55,433.79 L209.18,432.03 L207.80,430.25 L206.42,428.47 L205.04,426.67 L203.65,424.86 L202.25,423.04 L200.85,421.20 L199.45,419.35 L198.04,417.49 L196.62,415.61 L195.20,413.72 L193.78,411.82 L192.35,409.90 L190.91,407.97 L189.47,406.02 L188.03,404.06 L186.58,402.08 L185.12,400.09 L183.66,398.08 L182.20,396.06 L180.73,394.02 L179.25,391.96 L177.77,389.89 L176.29,387.80 L174.80,385.69 L173.31,383.57 L171.81,381.42 L170.30,379.26 L168.80,377.09 L167.28,374.89 L165.77,372.67 L164.24,370.44 L162.72,368.19 L161.19,365.91 L159.65,363.62 L158.11,361.30 L156.56,358.97 L155.01,356.61 L153.46,354.23 L151.90,351.83 L150.34,349.41 L148.77,346.96 L147.20,344.49 L145.62,341.99 L144.04,339.48 L142.45,336.93 L140.86,334.36 L139.26,331.77 L137.66,329.15 L136.06,326.50 L134.45,323.82 L132.84,321.12 L131.22,318.39 L129.60,315.63 L127.98,312.83 L126.35,310.01 L124.71,307.16 L123.07,304.27 L121.43,301.36 L119.79,298.40 L118.14,295.42 L116.48,292.40 L114.82,289.34 L113.16,286.25 L111.50,283.12 L109.83,279.95 L108.16,276.74 L106.48,273.49 L104.80,270.20 L103.12,266.87 L101.43,263.49 L99.74,260.07 L98.05,256.60 L96.35,253.08 L94.65,249.52 L92.95,245.91 L91.25,242.24 L89.54,238.52 L87.83,234.75 L86.12,230.92 L84.41,227.03 L82.69,223.09 L80.98,219.08 L79.26,215.01 L77.55,210.87 L75.83,206.67 L74.11,202.39 L72.39,198.05 L70.67,193.63 L68.96,189.13 L67.24,184.55 L65.52,179.89 L63.81,175.15 L62.10,170.31 L60.40,165.39 L58.69,160.36 L57.00,155.24 L55.31,150.01 L53.62,144.68 L51.94,139.23 L50.27,133.66 L48.61,127.97 L46.96,122.15 L45.32,116.20 L43.69,110.11 L42.08,103.87 L40.48,97.47 L38.90,90.91 L37.34,84.18 L35.81,77.27 L34.30,70.17 L32.81,62.87 L31.36,55.35 L29.94,47.61 L28.56,39.63 L27.22,31.40 M403.60,642.31 L403.25,641.53 L402.90,640.75 L402.54,639.96 L402.19,639.17 L401.83,638.38 L401.46,637.58 L401.10,636.79 L400.73,635.99 L400.36,635.19 L399.98,634.38 L399.60,633.58 L399.22,632.77 L398.84,631.95 L398.45,631.14 L398.06,630.32 L397.67,629.50 L397.27,628.68 L396.87,627.86 L396.47,627.03 L396.06,626.20 L395.65,625.37 L395.24,624.53 L394.82,623.69 L394.40,622.85 L393.98,622.01 L393.55,621.16 L393.12,620.31 L392.69,619.46 L392.25,618.60 L391.81,617.75 L391.36,616.88 L390.91,616.02 L390.46,615.15 L390.00,614.28 L389.54,613.41 L389.08,612.54 L388.61,611.66 L388.14,610.78 L387.66,609.89 L387.18,609.01 L386.70,608.12 L386.21,607.22 L385.72,606.32 L385.22,605.42 L384.72,604.52 L384.22,603.62 L383.71,602.71 L383.19,601.79 L382.68,600.88 L382.15,599.96 L381.63,599.04 L381.10,598.11 L380.56,597.18 L380.02,596.25 L379.47,595.31 L378.92,594.37 L378.37,593.43 L377.81,592.49 L377.25,591.54 L376.68,590.58 L376.10,589.63 L375.53,588.67 L374.94,587.70 L374.35,586.74 L373.76,585.76 L373.16,584.79 L372.56,583.81 L371.95,582.83 L371.34,581.84 L370.72,580.85 L370.09,579.86 L369.46,578.86 L368.83,577.86 L368.19,576.86 L367.54,575.85 L366.89,574.83 L366.23,573.82 L365.57,572.80 L364.90,571.77 L364.23,570.74 L363.55,569.71 L362.86,568.67 L362.17,567.63 L361.47,566.58 L360.77,565.53 L360.06,564.48 L359.34,563.42 L358.62,562.36 L357.89,561.29 L357.16,560.22 L356.42,559.14 L355.68,558.06 L354.92,556.97 L354.16,555.88 L353.40,554.79 L352.63,553.69 L351.85,552.58 L351.07,551.47 L350.28,550.36 L349.48,549.24 L348.67,548.12 L347.86,546.99 L347.05,545.86 L346.22,544.72 L345.39,543.58 L344.56,542.43 L343.71,541.27 L342.86,540.11 L342.00,538.95 L341.14,537.78 L340.27,536.61 L339.39,535.43 L338.50,534.24 L337.61,533.05 L336.71,531.85 L335.80,530.65 L334.89,529.44 L333.97,528.23 L333.04,527.01 L332.10,525.78 L331.16,524.55 L330.21,523.32 L329.25,522.07 L328.28,520.83 L327.31,519.57 L326.33,518.31 L325.34,517.04 L324.35,515.77 L323.35,514.49 L322.34,513.20 L321.32,511.91 L320.29,510.61 L319.26,509.30 L318.22,507.99 L317.17,506.67 L316.12,505.35 L315.06,504.01 L313.99,502.67 L312.91,501.33 L311.82,499.97 L310.73,498.61 L309.63,497.25 L308.52,495.87 L307.40,494.49 L306.28,493.10 L305.15,491.70 L304.01,490.29 L302.86,488.88 L301.71,487.46 L300.54,486.03 L299.37,484.59 L298.20,483.15 L297.01,481.70 L295.82,480.23 L294.62,478.76 L293.41,477.29 L292.19,475.80 L290.97,474.30 L289.74,472.80 L288.50,471.29 L287.25,469.77 L286.00,468.23 L284.74,466.69 L283.47,465.15 L282.20,463.59 L280.91,462.02 L279.62,460.44 L278.32,458.85 L277.02,457.26 L275.70,455.65 L274.38,454.03 L273.05,452.40 L271.72,450.77 L270.37,449.12 L269.02,447.46 L267.67,445.79 L266.30,444.11 L264.93,442.42 L263.55,440.71 L262.17,439.00 L260.77,437.28 L259.37,435.54 L257.96,433.79 L256.55,432.03 L255.13,430.25 L253.70,428.47 L252.26,426.67 L250.82,424.86 L249.37,423.04 L247.92,421.20 L246.45,419.35 L244.98,417.49 L243.51,415.61 L242.02,413.72 L240.53,411.82 L239.04,409.90 L237.53,407.97 L236.02,406.02 L234.51,404.06 L232.98,402.08 L231.46,400.09 L229.92,398.08 L228.38,396.06 L226.83,394.02 L225.27,391.96 L223.71,389.89 L222.14,387.80 L220.57,385.69 L218.99,383.57 L217.40,381.42 L215.81,379.26 L214.21,377.09 L212.60,374.89 L210.99,372.67 L209.37,370.44 L207.75,368.19 L206.12,365.91 L204.48,363.62 L202.84,361.30 L201.19,358.97 L199.54,356.61 L197.88,354.23 L196.21,351.83 L194.54,349.41 L192.86,346.96 L191.18,344.49 L189.49,341.99 L187.79,339.48 L186.09,336.93 L184.38,334.36 L182.67,331.77 L180.95,329.15 L179.23,326.50 L177.50,323.82 L175.76,321.12 L174.02,318.39 L172.27,315.63 L170.52,312.83 L168.76,310.01 L167.00,307.16 L165.23,304.27 L163.45,301.36 L161.67,298.40 L159.89,295.42 L158.10,292.40 L156.30,289.34 L154.50,286.25 L152.69,283.12 L150.88,279.95 L149.07,276.74 L147.24,273.49 L145.42,270.20 L143.59,266.87 L141.75,263.49 L139.91,260.07 L138.06,256.60 L136.21,253.08 L134.36,249.52 L132.50,245.91 L130.63,242.24 L128.77,238.52 L126.89,234.75 L125.02,230.92 L123.14,227.03 L121.26,223.09 L119.37,219.08 L117.48,215.01 L115.59,210.87 L113.69,206.67 L111.80,202.39 L109.90,198.05 L108.00,193.63 L106.09,189.13 L104.19,184.55 L102.29,179.89 L100.38,175.15 L98.48,170.31 L96.57,165.39 L94.67,160.36 L92.77,155.24 L90.87,150.01 L88.97,144.68 L87.08,139.23 L85.19,133.66 L83.31,127.97 L81.44,122.15 L79.57,116.20 L77.71,110.11 L75.87,103.87 L74.03,97.47 L72.21,90.91 L70.40,84.18 L68.62,77.27 L66.85,70.17 L65.10,62.87 L63.38,55.35 L61.69,47.61 L60.03,39.63 L58.40,31.40 M438.98,642.31 L438.72,641.53 L438.45,640.75 L438.19,639.96 L437.92,639.17 L437.65,638.38 L437.38,637.58 L437.11,636.79 L436.83,635.99 L436.55,635.19 L436.27,634.38 L435.99,633.58 L435.70,632.77 L435.41,631.95 L435.12,631.14 L434.83,630.32 L434.53,629.50 L434.23,628.68 L433.93,627.86 L433.63,627.03 L433.32,626.20 L433.01,625.37 L432.69,624.53 L432.38,623.69 L432.06,622.85 L431.74,622.01 L431.41,621.16 L431.08,620.31 L430.75,619.46 L430.42,618.60 L430.08,617.75 L429.74,616.88 L429.40,616.02 L429.05,615.15 L428.70,614.28 L428.35,613.41 L427.99,612.54 L427.63,611.66 L427.27,610.78 L426.90,609.89 L426.53,609.01 L426.16,608.12 L425.78,607.22 L425.40,606.32 L425.02,605.42 L424.63,604.52 L424.24,603.62 L423.84,602.71 L423.44,601.79 L423.04,600.88 L422.63,599.96 L422.22,599.04 L421.80,598.11 L421.39,597.18 L420.96,596.25 L420.54,595.31 L420.10,594.37 L419.67,593.43 L419.23,592.49 L418.78,591.54 L418.34,590.58 L417.88,589.63 L417.43,588.67 L416.97,587.70 L416.50,586.74 L416.03,585.76 L415.55,584.79 L415.07,583.81 L414.59,582.83 L414.10,581.84 L413.60,580.85 L413.10,579.86 L412.60,578.86 L412.09,577.86 L411.58,576.86 L411.06,575.85 L410.53,574.83 L410.00,573.82 L409.47,572.80 L408.93,571.77 L408.38,570.74 L407.83,569.71 L407.27,568.67 L406.71,567.63 L406.14,566.58 L405.57,565.53 L404.99,564.48 L404.40,563.42 L403.81,562.36 L403.21,561.29 L402.61,560.22 L402.00,559.14 L401.38,558.06 L400.76,556.97 L400.13,555.88 L399.50,554.79 L398.86,553.69 L398.21,552.58 L397.56,551.47 L396.90,550.36 L396.23,549.24 L395.56,548.12 L394.88,546.99 L394.19,545.86 L393.49,544.72 L392.79,543.58 L392.08,542.43 L391.37,541.27 L390.65,540.11 L389.92,538.95 L389.18,537.78 L388.43,536.61 L387.68,535.43 L386.92,534.24 L386.15,533.05 L385.38,531.85 L384.59,530.65 L383.80,529.44 L383.01,528.23 L382.20,527.01 L381.38,525.78 L380.56,524.55 L379.73,523.32 L378.89,522.07 L378.04,520.83 L377.19,519.57 L376.33,518.31 L375.45,517.04 L374.57,515.77 L373.68,514.49 L372.78,513.20 L371.88,511.91 L370.96,510.61 L370.04,509.30 L369.10,507.99 L368.16,506.67 L367.21,505.35 L366.25,504.01 L365.28,502.67 L364.30,501.33 L363.31,499.97 L362.32,498.61 L361.31,497.25 L360.29,495.87 L359.27,494.49 L358.23,493.10 L357.19,491.70 L356.14,490.29 L355.07,488.88 L354.00,487.46 L352.92,486.03 L351.82,484.59 L350.72,483.15 L349.61,481.70 L348.49,480.23 L347.36,478.76 L346.21,477.29 L345.06,475.80 L343.90,474.30 L342.73,472.80 L341.55,471.29 L340.36,469.77 L339.16,468.23 L337.94,466.69 L336.72,465.15 L335.49,463.59 L334.25,462.02 L333.00,460.44 L331.74,458.85 L330.46,457.26 L329.18,455.65 L327.89,454.03 L326.59,452.40 L325.28,450.77 L323.96,449.12 L322.62,447.46 L321.28,445.79 L319.93,444.11 L318.57,442.42 L317.19,440.71 L315.81,439.00 L314.42,437.28 L313.02,435.54 L311.61,433.79 L310.18,432.03 L308.75,430.25 L307.31,428.47 L305.86,426.67 L304.40,424.86 L302.93,423.04 L301.45,421.20 L299.96,419.35 L298.46,417.49 L296.95,415.61 L295.43,413.72 L293.90,411.82 L292.36,409.90 L290.81,407.97 L289.26,406.02 L287.69,404.06 L286.12,402.08 L284.53,400.09 L282.94,398.08 L281.33,396.06 L279.72,394.02 L278.10,391.96 L276.47,389.89 L274.83,387.80 L273.18,385.69 L271.53,383.57 L269.86,381.42 L268.19,379.26 L266.50,377.09 L264.81,374.89 L263.11,372.67 L261.40,370.44 L259.69,368.19 L257.96,365.91 L256.23,363.62 L254.48,361.30 L252.73,358.97 L250.97,356.61 L249.21,354.23 L247.43,351.83 L245.65,349.41 L243.85,346.96 L242.05,344.49 L240.25,341.99 L238.43,339.48 L236.61,336.93 L234.78,334.36 L232.94,331.77 L231.09,329.15 L229.23,326.50 L227.37,323.82 L225.50,321.12 L223.62,318.39 L221.74,315.63 L219.84,312.83 L217.94,310.01 L216.04,307.16 L214.12,304.27 L212.20,301.36 L210.27,298.40 L208.33,295.42 L206.38,292.40 L204.43,289.34 L202.47,286.25 L200.51,283.12 L198.53,279.95 L196.55,276.74 L194.57,273.49 L192.57,270.20 L190.57,266.87 L188.56,263.49 L186.55,260.07 L184.53,256.60 L182.50,253.08 L180.46,249.52 L178.42,245.91 L176.38,242.24 L174.32,238.52 L172.26,234.75 L170.20,230.92 L168.12,227.03 L166.05,223.09 L163.96,219.08 L161.87,215.01 L159.78,210.87 L157.68,206.67 L155.58,202.39 L153.47,198.05 L151.35,193.63 L149.24,189.13 L147.11,184.55 L144.99,179.89 L142.86,175.15 L140.73,170.31 L138.59,165.39 L136.46,160.36 L134.32,155.24 L132.18,150.01 L130.04,144.68 L127.90,139.23 L125.76,133.66 L123.63,127.97 L121.49,122.15 L119.36,116.20 L117.24,110.11 L115.12,103.87 L113.01,97.47 L110.90,90.91 L108.81,84.18 L106.73,77.27 L104.66,70.17 L102.61,62.87 L100.58,55.35 L98.57,47.61 L96.58,39.63 L94.62,31.40 M474.37,642.31 L474.20,641.53 L474.03,640.75 L473.85,639.96 L473.67,639.17 L473.49,638.38 L473.31,637.58 L473.13,636.79 L472.94,635.99 L472.76,635.19 L472.57,634.38 L472.38,633.58 L472.18,632.77 L471.99,631.95 L471.79,631.14 L471.59,630.32 L471.39,629.50 L471.19,628.68 L470.99,627.86 L470.78,627.03 L470.57,626.20 L470.36,625.37 L470.15,624.53 L469.93,623.69 L469.71,622.85 L469.49,622.01 L469.27,621.16 L469.05,620.31 L468.82,619.46 L468.59,618.60 L468.36,617.75 L468.13,616.88 L467.89,616.02 L467.65,615.15 L467.41,614.28 L467.17,613.41 L466.92,612.54 L466.67,611.66 L466.42,610.78 L466.17,609.89 L465.91,609.01 L465.65,608.12 L465.39,607.22 L465.12,606.32 L464.85,605.42 L464.58,604.52 L464.31,603.62 L464.03,602.71 L463.75,601.79 L463.47,600.88 L463.19,599.96 L462.90,599.04 L462.60,598.11 L462.31,597.18 L462.01,596.25 L461.71,595.31 L461.40,594.37 L461.10,593.43 L460.78,592.49 L460.47,591.54 L460.15,590.58 L459.83,589.63 L459.50,588.67 L459.17,587.70 L458.84,586.74 L458.50,585.76 L458.16,584.79 L457.82,583.81 L457.47,582.83 L457.12,581.84 L456.76,580.85 L456.40,579.86 L456.04,578.86 L455.67,577.86 L455.30,576.86 L454.92,575.85 L454.54,574.83 L454.15,573.82 L453.76,572.80 L453.37,571.77 L452.97,570.74 L452.57,569.71 L452.16,568.67 L451.75,567.63 L451.33,566.58 L450.91,565.53 L450.48,564.48 L450.05,563.42 L449.61,562.36 L449.17,561.29 L448.72,560.22 L448.27,559.14 L447.81,558.06 L447.35,556.97 L446.88,555.88 L446.40,554.79 L445.92,553.69 L445.44,552.58 L444.95,551.47 L444.45,550.36 L443.94,549.24 L443.44,548.12 L442.92,546.99 L442.40,545.86 L441.87,544.72 L441.34,543.58 L440.80,542.43 L440.25,541.27 L439.69,540.11 L439.13,538.95 L438.57,537.78 L437.99,536.61 L437.41,535.43 L436.82,534.24 L436.23,533.05 L435.63,531.85 L435.02,530.65 L434.40,529.44 L433.78,528.23 L433.14,527.01 L432.50,525.78 L431.86,524.55 L431.20,523.32 L430.54,522.07 L429.87,520.83 L429.19,519.57 L428.50,518.31 L427.80,517.04 L427.10,515.77 L426.38,514.49 L425.66,513.20 L424.93,511.91 L424.19,510.61 L423.44,509.30 L422.68,507.99 L421.92,506.67 L421.14,505.35 L420.35,504.01 L419.56,502.67 L418.75,501.33 L417.94,499.97 L417.11,498.61 L416.28,497.25 L415.43,495.87 L414.58,494.49 L413.71,493.10 L412.83,491.70 L411.95,490.29 L411.05,488.88 L410.14,487.46 L409.22,486.03 L408.29,484.59 L407.35,483.15 L406.40,481.70 L405.43,480.23 L404.46,478.76 L403.47,477.29 L402.47,475.80 L401.46,474.30 L400.44,472.80 L399.41,471.29 L398.36,469.77 L397.30,468.23 L396.23,466.69 L395.15,465.15 L394.05,463.59 L392.94,462.02 L391.82,460.44 L390.69,458.85 L389.55,457.26 L388.39,455.65 L387.22,454.03 L386.03,452.40 L384.83,450.77 L383.62,449.12 L382.40,447.46 L381.16,445.79 L379.91,444.11 L378.65,442.42 L377.37,440.71 L376.08,439.00 L374.77,437.28 L373.46,435.54 L372.12,433.79 L370.78,432.03 L369.42,430.25 L368.05,428.47 L366.66,426.67 L365.26,424.86 L363.85,423.04 L362.42,421.20 L360.98,419.35 L359.52,417.49 L358.05,415.61 L356.57,413.72 L355.08,411.82 L353.56,409.90 L352.04,407.97 L350.50,406.02 L348.95,404.06 L347.39,402.08 L345.81,400.09 L344.21,398.08 L342.61,396.06 L340.99,394.02 L339.36,391.96 L337.71,389.89 L336.05,387.80 L334.38,385.69 L332.69,383.57 L330.99,381.42 L329.28,379.26 L327.55,377.09 L325.81,374.89 L324.06,372.67 L322.29,370.44 L320.51,368.19 L318.72,365.91 L316.92,363.62 L315.10,361.30 L313.28,358.97 L311.44,356.61 L309.58,354.23 L307.72,351.83 L305.84,349.41 L303.95,346.96 L302.05,344.49 L300.13,341.99 L298.21,339.48 L296.27,336.93 L294.32,334.36 L292.36,331.77 L290.39,329.15 L288.41,326.50 L286.41,323.82 L284.41,321.12 L282.39,318.39 L280.36,315.63 L278.32,312.83 L276.27,310.01 L274.21,307.16 L272.14,304.27 L270.06,301.36 L267.97,298.40 L265.86,295.42 L263.75,292.40 L261.63,289.34 L259.49,286.25 L257.35,283.12 L255.19,279.95 L253.03,276.74 L250.86,273.49 L248.67,270.20 L246.48,266.87 L244.27,263.49 L242.06,260.07 L239.83,256.60 L237.60,253.08 L235.36,249.52 L233.11,245.91 L230.85,242.24 L228.58,238.52 L226.30,234.75 L224.01,230.92 L221.71,227.03 L219.40,223.09 L217.09,219.08 L214.76,215.01 L212.43,210.87 L210.09,206.67 L207.74,202.39 L205.38,198.05 L203.02,193.63 L200.65,189.13 L198.26,184.55 L195.88,179.89 L193.48,175.15 L191.08,170.31 L188.67,165.39 L186.26,160.36 L183.84,155.24 L181.42,150.01 L178.99,144.68 L176.55,139.23 L174.12,133.66 L171.68,127.97 L169.23,122.15 L166.79,116.20 L164.35,110.11 L161.90,103.87 L159.46,97.47 L157.02,90.91 L154.58,84.18 L152.15,77.27 L149.73,70.17 L147.31,62.87 L144.91,55.35 L142.52,47.61 L140.15,39.63 L137.79,31.40 M509.86,642.31 L509.77,641.53 L509.68,640.75 L509.59,639.96 L509.49,639.17 L509.39,638.38 L509.30,637.58 L509.20,636.79 L509.10,635.99 L509.00,635.19 L508.90,634.38 L508.79,633.58 L508.69,632.77 L508.58,631.95 L508.47,631.14 L508.36,630.32 L508.25,629.50 L508.14,628.68 L508.03,627.86 L507.92,627.03 L507.80,626.20 L507.68,625.37 L507.56,624.53 L507.44,623.69 L507.32,622.85 L507.20,622.01 L507.08,621.16 L506.95,620.31 L506.82,619.46 L506.69,618.60 L506.56,617.75 L506.43,616.88 L506.29,616.02 L506.16,615.15 L506.02,614.28 L505.88,613.41 L505.74,612.54 L505.60,611.66 L505.45,610.78 L505.31,609.89 L505.16,609.01 L505.01,608.12 L504.86,607.22 L504.70,606.32 L504.55,605.42 L504.39,604.52 L504.23,603.62 L504.07,602.71 L503.90,601.79 L503.74,600.88 L503.57,599.96 L503.40,599.04 L503.22,598.11 L503.05,597.18 L502.87,596.25 L502.69,595.31 L502.51,594.37 L502.33,593.43 L502.14,592.49 L501.95,591.54 L501.76,590.58 L501.57,589.63 L501.37,588.67 L501.17,587.70 L500.97,586.74 L500.77,585.76 L500.56,584.79 L500.35,583.81 L500.14,582.83 L499.92,581.84 L499.70,580.85 L499.48,579.86 L499.26,578.86 L499.03,577.86 L498.80,576.86 L498.57,575.85 L498.34,574.83 L498.10,573.82 L497.85,572.80 L497.61,571.77 L497.36,570.74 L497.11,569.71 L496.85,568.67 L496.59,567.63 L496.33,566.58 L496.07,565.53 L495.80,564.48 L495.52,563.42 L495.25,562.36 L494.97,561.29 L494.68,560.22 L494.39,559.14 L494.10,558.06 L493.80,556.97 L493.50,555.88 L493.20,554.79 L492.89,553.69 L492.58,552.58 L492.26,551.47 L491.94,550.36 L491.61,549.24 L491.28,548.12 L490.94,546.99 L490.60,545.86 L490.26,544.72 L489.91,543.58 L489.55,542.43 L489.19,541.27 L488.83,540.11 L488.46,538.95 L488.08,537.78 L487.70,536.61 L487.31,535.43 L486.92,534.24 L486.53,533.05 L486.12,531.85 L485.71,530.65 L485.30,529.44 L484.88,528.23 L484.45,527.01 L484.02,525.78 L483.58,524.55 L483.13,523.32 L482.68,522.07 L482.22,520.83 L481.75,519.57 L481.28,518.31 L480.80,517.04 L480.32,515.77 L479.82,514.49 L479.32,513.20 L478.81,511.91 L478.30,510.61 L477.77,509.30 L477.24,507.99 L476.70,506.67 L476.15,505.35 L475.60,504.01 L475.03,502.67 L474.46,501.33 L473.88,499.97 L473.29,498.61 L472.69,497.25 L472.08,495.87 L471.47,494.49 L470.84,493.10 L470.20,491.70 L469.56,490.29 L468.90,488.88 L468.24,487.46 L467.56,486.03 L466.88,484.59 L466.18,483.15 L465.48,481.70 L464.76,480.23 L464.03,478.76 L463.29,477.29 L462.54,475.80 L461.78,474.30 L461.00,472.80 L460.22,471.29 L459.42,469.77 L458.61,468.23 L457.79,466.69 L456.95,465.15 L456.11,463.59 L455.24,462.02 L454.37,460.44 L453.48,458.85 L452.58,457.26 L451.67,455.65 L450.74,454.03 L449.80,452.40 L448.84,450.77 L447.87,449.12 L446.88,447.46 L445.88,445.79 L444.87,444.11 L443.84,442.42 L442.79,440.71 L441.73,439.00 L440.65,437.28 L439.56,435.54 L438.45,433.79 L437.32,432.03 L436.18,430.25 L435.02,428.47 L433.84,426.67 L432.64,424.86 L431.43,423.04 L430.20,421.20 L428.96,419.35 L427.69,417.49 L426.41,415.61 L425.11,413.72 L423.79,411.82 L422.45,409.90 L421.10,407.97 L419.72,406.02 L418.33,404.06 L416.91,402.08 L415.48,400.09 L414.03,398.08 L412.56,396.06 L411.07,394.02 L409.56,391.96 L408.03,389.89 L406.48,387.80 L404.92,385.69 L403.33,383.57 L401.72,381.42 L400.09,379.26 L398.44,377.09 L396.78,374.89 L395.09,372.67 L393.38,370.44 L391.65,368.19 L389.91,365.91 L388.14,363.62 L386.35,361.30 L384.55,358.97 L382.72,356.61 L380.87,354.23 L379.01,351.83 L377.12,349.41 L375.21,346.96 L373.29,344.49 L371.35,341.99 L369.38,339.48 L367.40,336.93 L365.40,334.36 L363.38,331.77 L361.34,329.15 L359.28,326.50 L357.20,323.82 L355.11,321.12 L353.00,318.39 L350.86,315.63 L348.72,312.83 L346.55,310.01 L344.36,307.16 L342.16,304.27 L339.94,301.36 L337.71,298.40 L335.45,295.42 L333.18,292.40 L330.90,289.34 L328.59,286.25 L326.28,283.12 L323.94,279.95 L321.59,276.74 L319.22,273.49 L316.84,270.20 L314.44,266.87 L312.03,263.49 L309.60,260.07 L307.15,256.60 L304.69,253.08 L302.22,249.52 L299.73,245.91 L297.23,242.24 L294.71,238.52 L292.18,234.75 L289.64,230.92 L287.08,227.03 L284.50,223.09 L281.92,219.08 L279.32,215.01 L276.70,210.87 L274.08,206.67 L271.44,202.39 L268.79,198.05 L266.12,193.63 L263.44,189.13 L260.75,184.55 L258.05,179.89 L255.33,175.15 L252.61,170.31 L249.87,165.39 L247.12,160.36 L244.36,155.24 L241.59,150.01 L238.81,144.68 L236.02,139.23 L233.22,133.66 L230.41,127.97 L227.59,122.15 L224.76,116.20 L221.93,110.11 L219.09,103.87 L216.24,97.47 L213.39,90.91 L210.53,84.18 L207.68,77.27 L204.82,70.17 L201.96,62.87 L199.10,55.35 L196.25,47.61 L193.40,39.63 L190.57,31.40 M545.49,642.31 L545.47,641.53 L545.45,640.75 L545.43,639.96 L545.41,639.17 L545.39,638.38 L545.37,637.58 L545.35,636.79 L545.32,635.99 L545.30,635.19 L545.28,634.38 L545.25,633.58 L545.22,632.77 L545.20,631.95 L545.17,631.14 L545.14,630.32 L545.11,629.50 L545.08,628.68 L545.05,627.86 L545.02,627.03 L544.99,626.20 L544.95,625.37 L544.92,624.53 L544.89,623.69 L544.85,622.85 L544.82,622.01 L544.78,621.16 L544.74,620.31 L544.70,619.46 L544.66,618.60 L544.62,617.75 L544.58,616.88 L544.54,616.02 L544.49,615.15 L544.45,614.28 L544.40,613.41 L544.36,612.54 L544.31,611.66 L544.26,610.78 L544.21,609.89 L544.16,609.01 L544.11,608.12 L544.06,607.22 L544.00,606.32 L543.95,605.42 L543.89,604.52 L543.83,603.62 L543.78,602.71 L543.72,601.79 L543.65,600.88 L543.59,599.96 L543.53,599.04 L543.46,598.11 L543.40,597.18 L543.33,596.25 L543.26,595.31 L543.19,594.37 L543.12,593.43 L543.05,592.49 L542.97,591.54 L542.90,590.58 L542.82,589.63 L542.74,588.67 L542.66,587.70 L542.58,586.74 L542.50,585.76 L542.41,584.79 L542.33,583.81 L542.24,582.83 L542.15,581.84 L542.06,580.85 L541.96,579.86 L541.87,578.86 L541.77,577.86 L541.67,576.86 L541.57,575.85 L541.47,574.83 L541.37,573.82 L541.26,572.80 L541.15,571.77 L541.04,570.74 L540.93,569.71 L540.81,568.67 L540.70,567.63 L540.58,566.58 L540.46,565.53 L540.34,564.48 L540.21,563.42 L540.08,562.36 L539.95,561.29 L539.82,560.22 L539.69,559.14 L539.55,558.06 L539.41,556.97 L539.27,555.88 L539.12,554.79 L538.97,553.69 L538.82,552.58 L538.67,551.47 L538.51,550.36 L538.36,549.24 L538.19,548.12 L538.03,546.99 L537.86,545.86 L537.69,544.72 L537.52,543.58 L537.34,542.43 L537.16,541.27 L536.98,540.11 L536.79,538.95 L536.60,537.78 L536.41,536.61 L536.21,535.43 L536.01,534.24 L535.81,533.05 L535.60,531.85 L535.39,530.65 L535.17,529.44 L534.95,528.23 L534.73,527.01 L534.50,525.78 L534.27,524.55 L534.03,523.32 L533.79,522.07 L533.55,520.83 L533.30,519.57 L533.04,518.31 L532.78,517.04 L532.52,515.77 L532.25,514.49 L531.98,513.20 L531.70,511.91 L531.42,510.61 L531.13,509.30 L530.83,507.99 L530.53,506.67 L530.23,505.35 L529.92,504.01 L529.60,502.67 L529.28,501.33 L528.95,499.97 L528.61,498.61 L528.27,497.25 L527.93,495.87 L527.57,494.49 L527.21,493.10 L526.84,491.70 L526.47,490.29 L526.09,488.88 L525.70,487.46 L525.30,486.03 L524.90,484.59 L524.49,483.15 L524.07,481.70 L523.64,480.23 L523.20,478.76 L522.76,477.29 L522.31,475.80 L521.85,474.30 L521.38,472.80 L520.90,471.29 L520.41,469.77 L519.91,468.23 L519.40,466.69 L518.89,465.15 L518.36,463.59 L517.82,462.02 L517.27,460.44 L516.71,458.85 L516.14,457.26 L515.56,455.65 L514.97,454.03 L514.37,452.40 L513.75,450.77 L513.12,449.12 L512.48,447.46 L511.83,445.79 L511.16,444.11 L510.48,442.42 L509.79,440.71 L509.08,439.00 L508.36,437.28 L507.62,435.54 L506.87,433.79 L506.11,432.03 L505.33,430.25 L504.53,428.47 L503.72,426.67 L502.89,424.86 L502.05,423.04 L501.18,421.20 L500.30,419.35 L499.41,417.49 L498.49,415.61 L497.56,413.72 L496.61,411.82 L495.64,409.90 L494.65,407.97 L493.64,406.02 L492.61,404.06 L491.56,402.08 L490.49,400.09 L489.39,398.08 L488.28,396.06 L487.14,394.02 L485.98,391.96 L484.80,389.89 L483.59,387.80 L482.37,385.69 L481.11,383.57 L479.83,381.42 L478.53,379.26 L477.21,377.09 L475.85,374.89 L474.47,372.67 L473.07,370.44 L471.64,368.19 L470.18,365.91 L468.69,363.62 L467.18,361.30 L465.64,358.97 L464.07,356.61 L462.47,354.23 L460.84,351.83 L459.19,349.41 L457.50,346.96 L455.79,344.49 L454.04,341.99 L452.27,339.48 L450.46,336.93 L448.63,334.36 L446.76,331.77 L444.87,329.15 L442.94,326.50 L440.98,323.82 L438.99,321.12 L436.97,318.39 L434.92,315.63 L432.84,312.83 L430.72,310.01 L428.58,307.16 L426.41,304.27 L424.20,301.36 L421.97,298.40 L419.70,295.42 L417.40,292.40 L415.08,289.34 L412.72,286.25 L410.33,283.12 L407.92,279.95 L405.47,276.74 L403.00,273.49 L400.50,270.20 L397.97,266.87 L395.41,263.49 L392.82,260.07 L390.21,256.60 L387.56,253.08 L384.90,249.52 L382.20,245.91 L379.48,242.24 L376.73,238.52 L373.96,234.75 L371.17,230.92 L368.34,227.03 L365.50,223.09 L362.63,219.08 L359.74,215.01 L356.82,210.87 L353.88,206.67 L350.92,202.39 L347.93,198.05 L344.92,193.63 L341.90,189.13 L338.85,184.55 L335.77,179.89 L332.68,175.15 L329.57,170.31 L326.44,165.39 L323.28,160.36 L320.11,155.24 L316.92,150.01 L313.71,144.68 L310.48,139.23 L307.23,133.66 L303.97,127.97 L300.68,122.15 L297.38,116.20 L294.07,110.11 L290.74,103.87 L287.39,97.47 L284.02,90.91 L280.65,84.18 L277.26,77.27 L273.85,70.17 L270.44,62.87 L267.02,55.35 L263.59,47.61 L260.15,39.63 L256.70,31.40 M581.29,642.31 L581.33,641.53 L581.38,640.75 L581.42,639.96 L581.46,639.17 L581.51,638.38 L581.55,637.58 L581.59,636.79 L581.63,635.99 L581.68,635.19 L581.72,634.38 L581.76,633.58 L581.80,632.77 L581.84,631.95 L581.88,631.14 L581.93,630.32 L581.97,629.50 L582.01,628.68 L582.05,627.86 L582.09,627.03 L582.13,626.20 L582.17,625.37 L582.20,624.53 L582.24,623.69 L582.28,622.85 L582.32,622.01 L582.36,621.16 L582.40,620.31 L582.43,619.46 L582.47,618.60 L582.51,617.75 L582.54,616.88 L582.58,616.02 L582.62,615.15 L582.65,614.28 L582.69,613.41 L582.72,612.54 L582.76,611.66 L582.79,610.78 L582.82,609.89 L582.86,609.01 L582.89,608.12 L582.92,607.22 L582.95,606.32 L582.98,605.42 L583.01,604.52 L583.05,603.62 L583.08,602.71 L583.10,601.79 L583.13,600.88 L583.16,599.96 L583.19,599.04 L583.22,598.11 L583.25,597.18 L583.27,596.25 L583.30,595.31 L583.32,594.37 L583.35,593.43 L583.37,592.49 L583.40,591.54 L583.42,590.58 L583.44,589.63 L583.46,588.67 L583.49,587.70 L583.51,586.74 L583.53,585.76 L583.55,584.79 L583.56,583.81 L583.58,582.83 L583.60,581.84 L583.62,580.85 L583.63,579.86 L583.65,578.86 L583.66,577.86 L583.67,576.86 L583.69,575.85 L583.70,574.83 L583.71,573.82 L583.72,572.80 L583.73,571.77 L583.74,570.74 L583.74,569.71 L583.75,568.67 L583.75,567.63 L583.76,566.58 L583.76,565.53 L583.76,564.48 L583.77,563.42 L583.77,562.36 L583.76,561.29 L583.76,560.22 L583.76,559.14 L583.76,558.06 L583.75,556.97 L583.74,555.88 L583.74,554.79 L583.73,553.69 L583.72,552.58 L583.70,551.47 L583.69,550.36 L583.68,549.24 L583.66,548.12 L583.64,546.99 L583.62,545.86 L583.60,544.72 L583.58,543.58 L583.56,542.43 L583.53,541.27 L583.51,540.11 L583.48,538.95 L583.45,537.78 L583.42,536.61 L583.39,535.43 L583.35,534.24 L583.31,533.05 L583.28,531.85 L583.24,530.65 L583.19,529.44 L583.15,528.23 L583.10,527.01 L583.05,525.78 L583.00,524.55 L582.95,523.32 L582.89,522.07 L582.84,520.83 L582.78,519.57 L582.71,518.31 L582.65,517.04 L582.58,515.77 L582.51,514.49 L582.44,513.20 L582.37,511.91 L582.29,510.61 L582.21,509.30 L582.12,507.99 L582.04,506.67 L581.95,505.35 L581.86,504.01 L581.76,502.67 L581.66,501.33 L581.56,499.97 L581.46,498.61 L581.35,497.25 L581.24,495.87 L581.12,494.49 L581.00,493.10 L580.88,491.70 L580.75,490.29 L580.62,488.88 L580.49,487.46 L580.35,486.03 L580.20,484.59 L580.06,483.15 L579.90,481.70 L579.75,480.23 L579.59,478.76 L579.42,477.29 L579.25,475.80 L579.08,474.30 L578.89,472.80 L578.71,471.29 L578.52,469.77 L578.32,468.23 L578.12,466.69 L577.91,465.15 L577.70,463.59 L577.48,462.02 L577.25,460.44 L577.02,458.85 L576.78,457.26 L576.53,455.65 L576.28,454.03 L576.02,452.40 L575.75,450.77 L575.48,449.12 L575.19,447.46 L574.90,445.79 L574.60,444.11 L574.30,442.42 L573.98,440.71 L573.66,439.00 L573.33,437.28 L572.98,435.54 L572.63,433.79 L572.27,432.03 L571.90,430.25 L571.52,428.47 L571.13,426.67 L570.72,424.86 L570.31,423.04 L569.88,421.20 L569.45,419.35 L569.00,417.49 L568.54,415.61 L568.06,413.72 L567.58,411.82 L567.08,409.90 L566.56,407.97 L566.03,406.02 L565.49,404.06 L564.93,402.08 L564.36,400.09 L563.77,398.08 L563.16,396.06 L562.54,394.02 L561.90,391.96 L561.24,389.89 L560.56,387.80 L559.87,385.69 L559.15,383.57 L558.42,381.42 L557.66,379.26 L556.89,377.09 L556.09,374.89 L555.27,372.67 L554.43,370.44 L553.56,368.19 L552.67,365.91 L551.76,363.62 L550.81,361.30 L549.85,358.97 L548.85,356.61 L547.83,354.23 L546.78,351.83 L545.70,349.41 L544.59,346.96 L543.45,344.49 L542.27,341.99 L541.07,339.48 L539.83,336.93 L538.55,334.36 L537.25,331.77 L535.90,329.15 L534.52,326.50 L533.10,323.82 L531.64,321.12 L530.14,318.39 L528.61,315.63 L527.03,312.83 L525.41,310.01 L523.74,307.16 L522.03,304.27 L520.28,301.36 L518.48,298.40 L516.64,295.42 L514.74,292.40 L512.80,289.34 L510.82,286.25 L508.78,283.12 L506.69,279.95 L504.55,276.74 L502.37,273.49 L500.13,270.20 L497.84,266.87 L495.49,263.49 L493.10,260.07 L490.65,256.60 L488.15,253.08 L485.60,249.52 L482.99,245.91 L480.33,242.24 L477.62,238.52 L474.86,234.75 L472.04,230.92 L469.18,227.03 L466.26,223.09 L463.29,219.08 L460.27,215.01 L457.20,210.87 L454.08,206.67 L450.92,202.39 L447.70,198.05 L444.44,193.63 L441.14,189.13 L437.79,184.55 L434.39,179.89 L430.95,175.15 L427.47,170.31 L423.94,165.39 L420.38,160.36 L416.77,155.24 L413.12,150.01 L409.44,144.68 L405.72,139.23 L401.96,133.66 L398.17,127.97 L394.34,122.15 L390.47,116.20 L386.57,110.11 L382.64,103.87 L378.68,97.47 L374.68,90.91 L370.66,84.18 L366.60,77.27 L362.51,70.17 L358.40,62.87 L354.26,55.35 L350.09,47.61 L345.90,39.63 L341.68,31.40 M617.26,642.31 L617.35,641.53 L617.45,640.75 L617.55,639.96 L617.64,639.17 L617.74,638.38 L617.84,637.58 L617.93,636.79 L618.03,635.99 L618.13,635.19 L618.23,634.38 L618.32,633.58 L618.42,632.77 L618.52,631.95 L618.62,631.14 L618.72,630.32 L618.82,629.50 L618.92,628.68 L619.01,627.86 L619.11,627.03 L619.21,626.20 L619.31,625.37 L619.41,624.53 L619.51,623.69 L619.61,622.85 L619.71,622.01 L619.81,621.16 L619.91,620.31 L620.01,619.46 L620.11,618.60 L620.21,617.75 L620.31,616.88 L620.42,616.02 L620.52,615.15 L620.62,614.28 L620.72,613.41 L620.82,612.54 L620.92,611.66 L621.02,610.78 L621.13,609.89 L621.23,609.01 L621.33,608.12 L621.43,607.22 L621.53,606.32 L621.64,605.42 L621.74,604.52 L621.84,603.62 L621.94,602.71 L622.05,601.79 L622.15,600.88 L622.25,599.96 L622.36,599.04 L622.46,598.11 L622.56,597.18 L622.67,596.25 L622.77,595.31 L622.87,594.37 L622.98,593.43 L623.08,592.49 L623.18,591.54 L623.29,590.58 L623.39,589.63 L623.49,588.67 L623.60,587.70 L623.70,586.74 L623.81,585.76 L623.91,584.79 L624.01,583.81 L624.12,582.83 L624.22,581.84 L624.33,580.85 L624.43,579.86 L624.54,578.86 L624.64,577.86 L624.74,576.86 L624.85,575.85 L624.95,574.83 L625.06,573.82 L625.16,572.80 L625.26,571.77 L625.37,570.74 L625.47,569.71 L625.58,568.67 L625.68,567.63 L625.78,566.58 L625.89,565.53 L625.99,564.48 L626.09,563.42 L626.20,562.36 L626.30,561.29 L626.40,560.22 L626.51,559.14 L626.61,558.06 L626.71,556.97 L626.81,555.88 L626.92,554.79 L627.02,553.69 L627.12,552.58 L627.22,551.47 L627.32,550.36 L627.42,549.24 L627.52,548.12 L627.63,546.99 L627.73,545.86 L627.83,544.72 L627.93,543.58 L628.03,542.43 L628.13,541.27 L628.23,540.11 L628.32,538.95 L628.42,537.78 L628.52,536.61 L628.62,535.43 L628.72,534.24 L628.81,533.05 L628.91,531.85 L629.01,530.65 L629.10,529.44 L629.20,528.23 L629.29,527.01 L629.39,525.78 L629.48,524.55 L629.57,523.32 L629.67,522.07 L629.76,520.83 L629.85,519.57 L629.94,518.31 L630.03,517.04 L630.12,515.77 L630.21,514.49 L630.30,513.20 L630.38,511.91 L630.47,510.61 L630.56,509.30 L630.64,507.99 L630.72,506.67 L630.81,505.35 L630.89,504.01 L630.97,502.67 L631.05,501.33 L631.13,499.97 L631.21,498.61 L631.29,497.25 L631.36,495.87 L631.44,494.49 L631.51,493.10 L631.58,491.70 L631.65,490.29 L631.72,488.88 L631.79,487.46 L631.86,486.03 L631.92,484.59 L631.99,483.15 L632.05,481.70 L632.11,480.23 L632.17,478.76 L632.23,477.29 L632.29,475.80 L632.34,474.30 L632.39,472.80 L632.44,471.29 L632.49,469.77 L632.54,468.23 L632.58,466.69 L632.62,465.15 L632.66,463.59 L632.70,462.02 L632.73,460.44 L632.77,458.85 L632.80,457.26 L632.82,455.65 L632.85,454.03 L632.87,452.40 L632.89,450.77 L632.90,449.12 L632.92,447.46 L632.93,445.79 L632.93,444.11 L632.93,442.42 L632.93,440.71 L632.93,439.00 L632.92,437.28 L632.91,435.54 L632.89,433.79 L632.87,432.03 L632.85,430.25 L632.82,428.47 L632.78,426.67 L632.75,424.86 L632.70,423.04 L632.65,421.20 L632.60,419.35 L632.54,417.49 L632.48,415.61 L632.41,413.72 L632.33,411.82 L632.25,409.90 L632.16,407.97 L632.06,406.02 L631.96,404.06 L631.85,402.08 L631.73,400.09 L631.61,398.08 L631.47,396.06 L631.33,394.02 L631.18,391.96 L631.02,389.89 L630.86,387.80 L630.68,385.69 L630.49,383.57 L630.30,381.42 L630.09,379.26 L629.87,377.09 L629.64,374.89 L629.40,372.67 L629.15,370.44 L628.88,368.19 L628.60,365.91 L628.31,363.62 L628.00,361.30 L627.68,358.97 L627.34,356.61 L626.99,354.23 L626.62,351.83 L626.24,349.41 L625.83,346.96 L625.41,344.49 L624.97,341.99 L624.51,339.48 L624.02,336.93 L623.52,334.36 L622.99,331.77 L622.45,329.15 L621.87,326.50 L621.27,323.82 L620.65,321.12 L620.00,318.39 L619.31,315.63 L618.60,312.83 L617.86,310.01 L617.09,307.16 L616.28,304.27 L615.44,301.36 L614.56,298.40 L613.65,295.42 L612.69,292.40 L611.70,289.34 L610.66,286.25 L609.57,283.12 L608.44,279.95 L607.27,276.74 L606.04,273.49 L604.76,270.20 L603.43,266.87 L602.04,263.49 L600.59,260.07 L599.08,256.60 L597.51,253.08 L595.87,249.52 L594.17,245.91 L592.39,242.24 L590.55,238.52 L588.63,234.75 L586.63,230.92 L584.55,227.03 L582.39,223.09 L580.14,219.08 L577.81,215.01 L575.39,210.87 L572.88,206.67 L570.28,202.39 L567.58,198.05 L564.79,193.63 L561.90,189.13 L558.91,184.55 L555.82,179.89 L552.63,175.15 L549.33,170.31 L545.94,165.39 L542.45,160.36 L538.85,155.24 L535.16,150.01 L531.37,144.68 L527.48,139.23 L523.49,133.66 L519.40,127.97 L515.23,122.15 L510.96,116.20 L506.61,110.11 L502.17,103.87 L497.64,97.47 L493.03,90.91 L488.35,84.18 L483.59,77.27 L478.75,70.17 L473.84,62.87 L468.86,55.35 L463.82,47.61 L458.71,39.63 L453.54,31.40 M653.39,642.31 L653.53,641.53 L653.67,640.75 L653.81,639.96 L653.95,639.17 L654.09,638.38 L654.23,637.58 L654.37,636.79 L654.51,635.99 L654.66,635.19 L654.80,634.38 L654.94,633.58 L655.09,632.77 L655.23,631.95 L655.37,631.14 L655.52,630.32 L655.66,629.50 L655.81,628.68 L655.96,627.86 L656.10,627.03 L656.25,626.20 L656.40,625.37 L656.55,624.53 L656.69,623.69 L656.84,622.85 L656.99,622.01 L657.14,621.16 L657.29,620.31 L657.44,619.46 L657.60,618.60 L657.75,617.75 L657.90,616.88 L658.05,616.02 L658.21,615.15 L658.36,614.28 L658.51,613.41 L658.67,612.54 L658.82,611.66 L658.98,610.78 L659.14,609.89 L659.29,609.01 L659.45,608.12 L659.61,607.22 L659.77,606.32 L659.92,605.42 L660.08,604.52 L660.24,603.62 L660.40,602.71 L660.56,601.79 L660.73,600.88 L660.89,599.96 L661.05,599.04 L661.21,598.11 L661.38,597.18 L661.54,596.25 L661.70,595.31 L661.87,594.37 L662.04,593.43 L662.20,592.49 L662.37,591.54 L662.53,590.58 L662.70,589.63 L662.87,588.67 L663.04,587.70 L663.21,586.74 L663.38,585.76 L663.55,584.79 L663.72,583.81 L663.89,582.83 L664.06,581.84 L664.24,580.85 L664.41,579.86 L664.58,578.86 L664.76,577.86 L664.93,576.86 L665.11,575.85 L665.28,574.83 L665.46,573.82 L665.64,572.80 L665.82,571.77 L665.99,570.74 L666.17,569.71 L666.35,568.67 L666.53,567.63 L666.71,566.58 L666.90,565.53 L667.08,564.48 L667.26,563.42 L667.44,562.36 L667.63,561.29 L667.81,560.22 L667.99,559.14 L668.18,558.06 L668.37,556.97 L668.55,555.88 L668.74,554.79 L668.93,553.69 L669.12,552.58 L669.30,551.47 L669.49,550.36 L669.68,549.24 L669.87,548.12 L670.07,546.99 L670.26,545.86 L670.45,544.72 L670.64,543.58 L670.84,542.43 L671.03,541.27 L671.23,540.11 L671.42,538.95 L671.62,537.78 L671.82,536.61 L672.01,535.43 L672.21,534.24 L672.41,533.05 L672.61,531.85 L672.81,530.65 L673.01,529.44 L673.21,528.23 L673.41,527.01 L673.61,525.78 L673.82,524.55 L674.02,523.32 L674.22,522.07 L674.43,520.83 L674.64,519.57 L674.84,518.31 L675.05,517.04 L675.25,515.77 L675.46,514.49 L675.67,513.20 L675.88,511.91 L676.09,510.61 L676.30,509.30 L676.51,507.99 L676.72,506.67 L676.93,505.35 L677.15,504.01 L677.36,502.67 L677.57,501.33 L677.79,499.97 L678.00,498.61 L678.21,497.25 L678.43,495.87 L678.65,494.49 L678.86,493.10 L679.08,491.70 L679.30,490.29 L679.52,488.88 L679.73,487.46 L679.95,486.03 L680.17,484.59 L680.39,483.15 L680.61,481.70 L680.83,480.23 L681.06,478.76 L681.28,477.29 L681.50,475.80 L681.72,474.30 L681.95,472.80 L682.17,471.29 L682.39,469.77 L682.62,468.23 L682.84,466.69 L683.07,465.15 L683.29,463.59 L683.52,462.02 L683.74,460.44 L683.97,458.85 L684.20,457.26 L684.42,455.65 L684.65,454.03 L684.87,452.40 L685.10,450.77 L685.33,449.12 L685.56,447.46 L685.78,445.79 L686.01,444.11 L686.24,442.42 L686.46,440.71 L686.69,439.00 L686.92,437.28 L687.14,435.54 L687.37,433.79 L687.60,432.03 L687.82,430.25 L688.05,428.47 L688.27,426.67 L688.50,424.86 L688.72,423.04 L688.95,421.20 L689.17,419.35 L689.39,417.49 L689.61,415.61 L689.84,413.72 L690.06,411.82 L690.28,409.90 L690.49,407.97 L690.71,406.02 L690.93,404.06 L691.14,402.08 L691.36,400.09 L691.57,398.08 L691.78,396.06 L691.99,394.02 L692.20,391.96 L692.41,389.89 L692.61,387.80 L692.81,385.69 L693.01,383.57 L693.21,381.42 L693.41,379.26 L693.60,377.09 L693.79,374.89 L693.98,372.67 L694.17,370.44 L694.35,368.19 L694.53,365.91 L694.70,363.62 L694.87,361.30 L695.04,358.97 L695.20,356.61 L695.36,354.23 L695.51,351.83 L695.66,349.41 L695.81,346.96 L695.94,344.49 L696.08,341.99 L696.20,339.48 L696.32,336.93 L696.44,334.36 L696.54,331.77 L696.64,329.15 L696.73,326.50 L696.81,323.82 L696.89,321.12 L696.95,318.39 L697.00,315.63 L697.05,312.83 L697.08,310.01 L697.10,307.16 L697.11,304.27 L697.10,301.36 L697.08,298.40 L697.05,295.42 L697.00,292.40 L696.94,289.34 L696.85,286.25 L696.75,283.12 L696.63,279.95 L696.49,276.74 L696.33,273.49 L696.15,270.20 L695.94,266.87 L695.70,263.49 L695.44,260.07 L695.15,256.60 L694.83,253.08 L694.47,249.52 L694.09,245.91 L693.66,242.24 L693.20,238.52 L692.69,234.75 L692.14,230.92 L691.54,227.03 L690.89,223.09 L690.19,219.08 L689.44,215.01 L688.62,210.87 L687.74,206.67 L686.79,202.39 L685.77,198.05 L684.67,193.63 L683.49,189.13 L682.22,184.55 L680.85,179.89 L679.39,175.15 L677.82,170.31 L676.13,165.39 L674.33,160.36 L672.40,155.24 L670.33,150.01 L668.13,144.68 L665.76,139.23 L663.24,133.66 L660.56,127.97 L657.69,122.15 L654.64,116.20 L651.40,110.11 L647.96,103.87 L644.30,97.47 L640.44,90.91 L636.36,84.18 L632.05,77.27 L627.52,70.17 L622.76,62.87 L617.78,55.35 L612.57,47.61 L607.14,39.63 L601.49,31.40 M689.68,642.31 L689.85,641.53 L690.02,640.75 L690.20,639.96 L690.37,639.17 L690.54,638.38 L690.72,637.58 L690.90,636.79 L691.07,635.99 L691.25,635.19 L691.43,634.38 L691.61,633.58 L691.79,632.77 L691.96,631.95 L692.15,631.14 L692.33,630.32 L692.51,629.50 L692.69,628.68 L692.87,627.86 L693.06,627.03 L693.24,626.20 L693.43,625.37 L693.61,624.53 L693.80,623.69 L693.99,622.85 L694.18,622.01 L694.36,621.16 L694.55,620.31 L694.74,619.46 L694.93,618.60 L695.13,617.75 L695.32,616.88 L695.51,616.02 L695.70,615.15 L695.90,614.28 L696.09,613.41 L696.29,612.54 L696.49,611.66 L696.68,610.78 L696.88,609.89 L697.08,609.01 L697.28,608.12 L697.48,607.22 L697.68,606.32 L697.89,605.42 L698.09,604.52 L698.29,603.62 L698.50,602.71 L698.70,601.79 L698.91,600.88 L699.12,599.96 L699.32,599.04 L699.53,598.11 L699.74,597.18 L699.95,596.25 L700.16,595.31 L700.38,594.37 L700.59,593.43 L700.80,592.49 L701.02,591.54 L701.23,590.58 L701.45,589.63 L701.67,588.67 L701.89,587.70 L702.10,586.74 L702.32,585.76 L702.55,584.79 L702.77,583.81 L702.99,582.83 L703.21,581.84 L703.44,580.85 L703.66,579.86 L703.89,578.86 L704.12,577.86 L704.35,576.86 L704.58,575.85 L704.81,574.83 L705.04,573.82 L705.27,572.80 L705.50,571.77 L705.74,570.74 L705.97,569.71 L706.21,568.67 L706.45,567.63 L706.69,566.58 L706.93,565.53 L707.17,564.48 L707.41,563.42 L707.65,562.36 L707.90,561.29 L708.14,560.22 L708.39,559.14 L708.63,558.06 L708.88,556.97 L709.13,555.88 L709.38,554.79 L709.63,553.69 L709.89,552.58 L710.14,551.47 L710.39,550.36 L710.65,549.24 L710.91,548.12 L711.17,546.99 L711.43,545.86 L711.69,544.72 L711.95,543.58 L712.21,542.43 L712.48,541.27 L712.74,540.11 L713.01,538.95 L713.28,537.78 L713.55,536.61 L713.82,535.43 L714.09,534.24 L714.36,533.05 L714.64,531.85 L714.91,530.65 L715.19,529.44 L715.47,528.23 L715.75,527.01 L716.03,525.78 L716.31,524.55 L716.60,523.32 L716.88,522.07 L717.17,520.83 L717.46,519.57 L717.75,518.31 L718.04,517.04 L718.33,515.77 L718.62,514.49 L718.92,513.20 L719.22,511.91 L719.52,510.61 L719.82,509.30 L720.12,507.99 L720.42,506.67 L720.72,505.35 L721.03,504.01 L721.34,502.67 L721.65,501.33 L721.96,499.97 L722.27,498.61 L722.58,497.25 L722.90,495.87 L723.22,494.49 L723.53,493.10 L723.85,491.70 L724.18,490.29 L724.50,488.88 L724.82,487.46 L725.15,486.03 L725.48,484.59 L725.81,483.15 L726.14,481.70 L726.48,480.23 L726.81,478.76 L727.15,477.29 L727.49,475.80 L727.83,474.30 L728.17,472.80 L728.52,471.29 L728.86,469.77 L729.21,468.23 L729.56,466.69 L729.91,465.15 L730.27,463.59 L730.62,462.02 L730.98,460.44 L731.34,458.85 L731.70,457.26 L732.07,455.65 L732.43,454.03 L732.80,452.40 L733.17,450.77 L733.55,449.12 L733.92,447.46 L734.30,445.79 L734.68,444.11 L735.06,442.42 L735.44,440.71 L735.82,439.00 L736.21,437.28 L736.60,435.54 L736.99,433.79 L737.39,432.03 L737.78,430.25 L738.18,428.47 L738.58,426.67 L738.98,424.86 L739.39,423.04 L739.80,421.20 L740.21,419.35 L740.62,417.49 L741.03,415.61 L741.45,413.72 L741.87,411.82 L742.29,409.90 L742.71,407.97 L743.14,406.02 L743.57,404.06 L744.00,402.08 L744.43,400.09 L744.87,398.08 L745.30,396.06 L745.75,394.02 L746.19,391.96 L746.63,389.89 L747.08,387.80 L747.53,385.69 L747.99,383.57 L748.44,381.42 L748.90,379.26 L749.36,377.09 L749.83,374.89 L750.29,372.67 L750.76,370.44 L751.23,368.19 L751.71,365.91 L752.18,363.62 L752.66,361.30 L753.14,358.97 L753.63,356.61 L754.11,354.23 L754.60,351.83 L755.09,349.41 L755.58,346.96 L756.08,344.49 L756.58,341.99 L757.08,339.48 L757.58,336.93 L758.09,334.36 L758.59,331.77 L759.10,329.15 L759.61,326.50 L760.13,323.82 L760.64,321.12 L761.16,318.39 L761.68,315.63 L762.20,312.83 L762.72,310.01 L763.25,307.16 L763.77,304.27 L764.30,301.36 L764.83,298.40 L765.36,295.42 L765.89,292.40 L766.42,289.34 L766.95,286.25 L767.48,283.12 L768.01,279.95 L768.54,276.74 L769.07,273.49 L769.60,270.20 L770.12,266.87 L770.65,263.49 L771.17,260.07 L771.70,256.60 L772.21,253.08 L772.73,249.52 L773.24,245.91 L773.75,242.24 L774.25,238.52 L774.75,234.75 L775.24,230.92 L775.72,227.03 L776.20,223.09 L776.66,219.08 L777.12,215.01 L777.56,210.87 L777.99,206.67 L778.41,202.39 L778.81,198.05 L779.19,193.63 L779.55,189.13 L779.89,184.55 L780.21,179.89 L780.50,175.15 L780.76,170.31 L780.99,165.39 L781.18,160.36 L781.34,155.24 L781.45,150.01 L781.51,144.68 L781.51,139.23 L781.46,133.66 L781.34,127.97 L781.15,122.15 L780.87,116.20 L780.51,110.11 L780.04,103.87 L779.46,97.47 L778.75,90.91 L777.90,84.18 L776.90,77.27 L775.72,70.17 L774.34,62.87 L772.75,55.35 L770.91,47.61 L768.80,39.63 L766.39,31.40 M726.09,642.31 L726.29,641.53 L726.49,640.75 L726.69,639.96 L726.89,639.17 L727.09,638.38 L727.29,637.58 L727.49,636.79 L727.70,635.99 L727.90,635.19 L728.11,634.38 L728.31,633.58 L728.52,632.77 L728.72,631.95 L728.93,631.14 L729.14,630.32 L729.35,629.50 L729.56,628.68 L729.77,627.86 L729.98,627.03 L730.20,626.20 L730.41,625.37 L730.62,624.53 L730.84,623.69 L731.06,622.85 L731.27,622.01 L731.49,621.16 L731.71,620.31 L731.93,619.46 L732.15,618.60 L732.37,617.75 L732.59,616.88 L732.82,616.02 L733.04,615.15 L733.27,614.28 L733.49,613.41 L733.72,612.54 L733.95,611.66 L734.18,610.78 L734.40,609.89 L734.64,609.01 L734.87,608.12 L735.10,607.22 L735.33,606.32 L735.57,605.42 L735.80,604.52 L736.04,603.62 L736.28,602.71 L736.52,601.79 L736.76,600.88 L737.00,599.96 L737.24,599.04 L737.48,598.11 L737.73,597.18 L737.97,596.25 L738.22,595.31 L738.46,594.37 L738.71,593.43 L738.96,592.49 L739.21,591.54 L739.46,590.58 L739.72,589.63 L739.97,588.67 L740.22,587.70 L740.48,586.74 L740.74,585.76 L741.00,584.79 L741.26,583.81 L741.52,582.83 L741.78,581.84 L742.04,580.85 L742.31,579.86 L742.57,578.86 L742.84,577.86 L743.11,576.86 L743.38,575.85 L743.65,574.83 L743.92,573.82 L744.19,572.80 L744.46,571.77 L744.74,570.74 L745.02,569.71 L745.30,568.67 L745.57,567.63 L745.86,566.58 L746.14,565.53 L746.42,564.48 L746.71,563.42 L746.99,562.36 L747.28,561.29 L747.57,560.22 L747.86,559.14 L748.15,558.06 L748.45,556.97 L748.74,555.88 L749.04,554.79 L749.33,553.69 L749.63,552.58 L749.93,551.47 L750.24,550.36 L750.54,549.24 L750.85,548.12 L751.15,546.99 L751.46,545.86 L751.77,544.72 L752.08,543.58 L752.40,542.43 L752.71,541.27 L753.03,540.11 L753.35,538.95 L753.67,537.78 L753.99,536.61 L754.31,535.43 L754.64,534.24 L754.96,533.05 L755.29,531.85 L755.62,530.65 L755.95,529.44 L756.29,528.23 L756.62,527.01 L756.96,525.78 L757.30,524.55 L757.64,523.32 L757.99,522.07 L758.33,520.83 L758.68,519.57 L759.03,518.31 L759.38,517.04 L759.73,515.77 L760.09,514.49 L760.44,513.20 L760.80,511.91 L761.16,510.61 L761.52,509.30 L761.89,507.99 L762.26,506.67 L762.63,505.35 L763.00,504.01 L763.37,502.67 L763.75,501.33 L764.13,499.97 L764.51,498.61 L764.89,497.25 L765.27,495.87 L765.66,494.49 L766.05,493.10 L766.44,491.70 L766.84,490.29 L767.23,488.88 L767.63,487.46 L768.03,486.03 L768.44,484.59 L768.84,483.15 L769.25,481.70 L769.67,480.23 L770.08,478.76 L770.50,477.29 L770.92,475.80 L771.34,474.30 L771.76,472.80 L772.19,471.29 L772.62,469.77 L773.06,468.23 L773.49,466.69 L773.93,465.15 L774.37,463.59 L774.82,462.02 L775.27,460.44 L775.72,458.85 L776.17,457.26 L776.63,455.65 L777.09,454.03 L777.55,452.40 L778.02,450.77 L778.49,449.12 L778.96,447.46 L779.44,445.79 L779.92,444.11 L780.40,442.42 L780.89,440.71 L781.38,439.00 L781.87,437.28 L782.37,435.54 L782.87,433.79 L783.38,432.03 L783.88,430.25 L784.40,428.47 L784.91,426.67 L785.43,424.86 L785.95,423.04 L786.48,421.20 L787.01,419.35 L787.55,417.49 L788.09,415.61 L788.63,413.72 L789.18,411.82 L789.73,409.90 L790.29,407.97 L790.85,406.02 L791.41,404.06 L791.98,402.08 L792.56,400.09 L793.14,398.08 L793.72,396.06 L794.31,394.02 L794.90,391.96 L795.50,389.89 L796.11,387.80 L796.71,385.69 L797.33,383.57 L797.95,381.42 L798.57,379.26 L799.20,377.09 L799.83,374.89 L800.48,372.67 L801.12,370.44 L801.77,368.19 L802.43,365.91 L803.09,363.62 L803.76,361.30 L804.44,358.97 L805.12,356.61 L805.81,354.23 L806.50,351.83 L807.20,349.41 L807.91,346.96 L808.62,344.49 L809.34,341.99 L810.07,339.48 L810.80,336.93 L811.54,334.36 L812.29,331.77 L813.05,329.15 L813.81,326.50 L814.58,323.82 L815.36,321.12 L816.14,318.39 L816.94,315.63 L817.74,312.83 L818.55,310.01 L819.36,307.16 L820.19,304.27 L821.03,301.36 L821.87,298.40 L822.72,295.42 L823.58,292.40 L824.46,289.34 L825.34,286.25 L826.23,283.12 L827.12,279.95 L828.03,276.74 L828.95,273.49 L829.88,270.20 L830.82,266.87 L831.77,263.49 L832.74,260.07 L833.71,256.60 L834.69,253.08 L835.69,249.52 L836.69,245.91 L837.71,242.24 L838.74,238.52 L839.78,234.75 L840.83,230.92 L841.90,227.03 L842.97,223.09 L844.06,219.08 L845.17,215.01 L846.28,210.87 L847.41,206.67 L848.56,202.39 L849.71,198.05 L850.88,193.63 L852.07,189.13 L853.26,184.55 L854.47,179.89 L855.70,175.15 L856.94,170.31 L858.19,165.39 L859.45,160.36 L860.73,155.24 L862.03,150.01 L863.33,144.68 L864.65,139.23 L865.98,133.66 L867.32,127.97 L868.67,122.15 L870.03,116.20 L871.40,110.11 L872.78,103.87 L874.16,97.47 L875.55,90.91 L876.94,84.18 L878.33,77.27 L879.71,70.17 L881.08,62.87 L882.44,55.35 L883.78,47.61 L885.09,39.63 L886.36,31.40 M762.62,642.31 L762.84,641.53 L763.06,640.75 L763.28,639.96 L763.49,639.17 L763.71,638.38 L763.94,637.58 L764.16,636.79 L764.38,635.99 L764.60,635.19 L764.83,634.38 L765.05,633.58 L765.28,632.77 L765.50,631.95 L765.73,631.14 L765.96,630.32 L766.19,629.50 L766.42,628.68 L766.65,627.86 L766.88,627.03 L767.12,626.20 L767.35,625.37 L767.59,624.53 L767.82,623.69 L768.06,622.85 L768.30,622.01 L768.54,621.16 L768.78,620.31 L769.02,619.46 L769.26,618.60 L769.50,617.75 L769.75,616.88 L769.99,616.02 L770.24,615.15 L770.49,614.28 L770.73,613.41 L770.98,612.54 L771.23,611.66 L771.48,610.78 L771.74,609.89 L771.99,609.01 L772.25,608.12 L772.50,607.22 L772.76,606.32 L773.02,605.42 L773.28,604.52 L773.54,603.62 L773.80,602.71 L774.06,601.79 L774.32,600.88 L774.59,599.96 L774.85,599.04 L775.12,598.11 L775.39,597.18 L775.66,596.25 L775.93,595.31 L776.20,594.37 L776.48,593.43 L776.75,592.49 L777.03,591.54 L777.30,590.58 L777.58,589.63 L777.86,588.67 L778.14,587.70 L778.43,586.74 L778.71,585.76 L779.00,584.79 L779.28,583.81 L779.57,582.83 L779.86,581.84 L780.15,580.85 L780.44,579.86 L780.73,578.86 L781.03,577.86 L781.32,576.86 L781.62,575.85 L781.92,574.83 L782.22,573.82 L782.52,572.80 L782.83,571.77 L783.13,570.74 L783.44,569.71 L783.74,568.67 L784.05,567.63 L784.36,566.58 L784.68,565.53 L784.99,564.48 L785.31,563.42 L785.62,562.36 L785.94,561.29 L786.26,560.22 L786.58,559.14 L786.91,558.06 L787.23,556.97 L787.56,555.88 L787.89,554.79 L788.22,553.69 L788.55,552.58 L788.89,551.47 L789.22,550.36 L789.56,549.24 L789.90,548.12 L790.24,546.99 L790.58,545.86 L790.93,544.72 L791.27,543.58 L791.62,542.43 L791.97,541.27 L792.32,540.11 L792.68,538.95 L793.03,537.78 L793.39,536.61 L793.75,535.43 L794.11,534.24 L794.48,533.05 L794.84,531.85 L795.21,530.65 L795.58,529.44 L795.95,528.23 L796.33,527.01 L796.70,525.78 L797.08,524.55 L797.46,523.32 L797.85,522.07 L798.23,520.83 L798.62,519.57 L799.01,518.31 L799.40,517.04 L799.80,515.77 L800.19,514.49 L800.59,513.20 L800.99,511.91 L801.40,510.61 L801.80,509.30 L802.21,507.99 L802.62,506.67 L803.04,505.35 L803.45,504.01 L803.87,502.67 L804.29,501.33 L804.72,499.97 L805.14,498.61 L805.57,497.25 L806.01,495.87 L806.44,494.49 L806.88,493.10 L807.32,491.70 L807.76,490.29 L808.21,488.88 L808.66,487.46 L809.11,486.03 L809.57,484.59 L810.02,483.15 L810.49,481.70 L810.95,480.23 L811.42,478.76 L811.89,477.29 L812.36,475.80 L812.84,474.30 L813.32,472.80 L813.80,471.29 L814.29,469.77 L814.78,468.23 L815.27,466.69 L815.77,465.15 L816.27,463.59 L816.77,462.02 L817.28,460.44 L817.79,458.85 L818.31,457.26 L818.83,455.65 L819.35,454.03 L819.88,452.40 L820.41,450.77 L820.94,449.12 L821.48,447.46 L822.02,445.79 L822.57,444.11 L823.12,442.42 L823.67,440.71 L824.23,439.00 L824.80,437.28 L825.37,435.54 L825.94,433.79 L826.51,432.03 L827.10,430.25 L827.68,428.47 L828.27,426.67 L828.87,424.86 L829.47,423.04 L830.07,421.20 L830.68,419.35 L831.30,417.49 L831.92,415.61 L832.54,413.72 L833.18,411.82 L833.81,409.90 L834.45,407.97 L835.10,406.02 L835.75,404.06 L836.41,402.08 L837.08,400.09 L837.75,398.08 L838.42,396.06 L839.11,394.02 L839.79,391.96 L840.49,389.89 L841.19,387.80 L841.90,385.69 L842.61,383.57 L843.33,381.42 L844.06,379.26 L844.79,377.09 L845.53,374.89 L846.28,372.67 L847.04,370.44 L847.80,368.19 L848.57,365.91 L849.35,363.62 L850.14,361.30 L850.93,358.97 L851.73,356.61 L852.55,354.23 L853.36,351.83 L854.19,349.41 L855.03,346.96 L855.87,344.49 L856.73,341.99 L857.59,339.48 L858.46,336.93 L859.35,334.36 L860.24,331.77 L861.14,329.15 L862.05,326.50 L862.98,323.82 L863.91,321.12 L864.85,318.39 L865.81,315.63 L866.78,312.83 L867.75,310.01 L868.74,307.16 L869.75,304.27 L870.76,301.36 L871.79,298.40 L872.83,295.42 L873.88,292.40 L874.95,289.34 L876.03,286.25 L877.12,283.12 L878.23,279.95 L879.36,276.74 L880.49,273.49 L881.65,270.20 L882.82,266.87 L884.01,263.49 L885.21,260.07 L886.43,256.60 L887.67,253.08 L888.92,249.52 L890.20,245.91 L891.49,242.24 L892.81,238.52 L894.14,234.75 L895.49,230.92 L896.87,227.03 L898.27,223.09 L899.69,219.08 L901.13,215.01 L902.60,210.87 L904.09,206.67 L905.61,202.39 L907.15,198.05 L908.72,193.63 L910.32,189.13 L911.94,184.55 L913.60,179.89 L915.29,175.15 L917.01,170.31 L918.76,165.39 L920.55,160.36 L922.37,155.24 L924.23,150.01 L926.12,144.68 L928.06,139.23 L930.03,133.66 L932.05,127.97 L934.11,122.15 L936.22,116.20 L938.37,110.11 L940.58,103.87 L942.83,97.47 L945.14,90.91 L947.51,84.18 L949.93,77.27 L952.41,70.17 L954.96,62.87 L957.57,55.35 L960.25,47.61 L963.00,39.63 L965.83,31.40 M799.25,642.31 L799.48,641.53 L799.71,640.75 L799.94,639.96 L800.17,639.17 L800.40,638.38 L800.64,637.58 L800.87,636.79 L801.11,635.99 L801.34,635.19 L801.58,634.38 L801.82,633.58 L802.06,632.77 L802.30,631.95 L802.54,631.14 L802.78,630.32 L803.03,629.50 L803.27,628.68 L803.52,627.86 L803.76,627.03 L804.01,626.20 L804.26,625.37 L804.51,624.53 L804.76,623.69 L805.01,622.85 L805.26,622.01 L805.52,621.16 L805.77,620.31 L806.03,619.46 L806.28,618.60 L806.54,617.75 L806.80,616.88 L807.06,616.02 L807.32,615.15 L807.58,614.28 L807.85,613.41 L808.11,612.54 L808.38,611.66 L808.65,610.78 L808.91,609.89 L809.18,609.01 L809.45,608.12 L809.72,607.22 L810.00,606.32 L810.27,605.42 L810.55,604.52 L810.82,603.62 L811.10,602.71 L811.38,601.79 L811.66,600.88 L811.94,599.96 L812.22,599.04 L812.51,598.11 L812.79,597.18 L813.08,596.25 L813.37,595.31 L813.66,594.37 L813.95,593.43 L814.24,592.49 L814.53,591.54 L814.83,590.58 L815.12,589.63 L815.42,588.67 L815.72,587.70 L816.02,586.74 L816.32,585.76 L816.63,584.79 L816.93,583.81 L817.24,582.83 L817.54,581.84 L817.85,580.85 L818.16,579.86 L818.47,578.86 L818.79,577.86 L819.10,576.86 L819.42,575.85 L819.74,574.83 L820.06,573.82 L820.38,572.80 L820.70,571.77 L821.03,570.74 L821.35,569.71 L821.68,568.67 L822.01,567.63 L822.34,566.58 L822.67,565.53 L823.01,564.48 L823.34,563.42 L823.68,562.36 L824.02,561.29 L824.36,560.22 L824.71,559.14 L825.05,558.06 L825.40,556.97 L825.75,555.88 L826.10,554.79 L826.45,553.69 L826.80,552.58 L827.16,551.47 L827.52,550.36 L827.88,549.24 L828.24,548.12 L828.60,546.99 L828.97,545.86 L829.33,544.72 L829.70,543.58 L830.08,542.43 L830.45,541.27 L830.83,540.11 L831.20,538.95 L831.58,537.78 L831.97,536.61 L832.35,535.43 L832.74,534.24 L833.13,533.05 L833.52,531.85 L833.91,530.65 L834.31,529.44 L834.70,528.23 L835.10,527.01 L835.51,525.78 L835.91,524.55 L836.32,523.32 L836.73,522.07 L837.14,520.83 L837.55,519.57 L837.97,518.31 L838.39,517.04 L838.81,515.77 L839.24,514.49 L839.66,513.20 L840.09,511.91 L840.52,510.61 L840.96,509.30 L841.40,507.99 L841.84,506.67 L842.28,505.35 L842.73,504.01 L843.17,502.67 L843.63,501.33 L844.08,499.97 L844.54,498.61 L845.00,497.25 L845.46,495.87 L845.93,494.49 L846.40,493.10 L846.87,491.70 L847.35,490.29 L847.82,488.88 L848.31,487.46 L848.79,486.03 L849.28,484.59 L849.77,483.15 L850.27,481.70 L850.76,480.23 L851.27,478.76 L851.77,477.29 L852.28,475.80 L852.79,474.30 L853.31,472.80 L853.83,471.29 L854.35,469.77 L854.88,468.23 L855.41,466.69 L855.94,465.15 L856.48,463.59 L857.03,462.02 L857.57,460.44 L858.12,458.85 L858.68,457.26 L859.24,455.65 L859.80,454.03 L860.36,452.40 L860.94,450.77 L861.51,449.12 L862.09,447.46 L862.68,445.79 L863.27,444.11 L863.86,442.42 L864.46,440.71 L865.06,439.00 L865.67,437.28 L866.28,435.54 L866.90,433.79 L867.52,432.03 L868.15,430.25 L868.78,428.47 L869.42,426.67 L870.06,424.86 L870.71,423.04 L871.37,421.20 L872.03,419.35 L872.69,417.49 L873.37,415.61 L874.04,413.72 L874.73,411.82 L875.41,409.90 L876.11,407.97 L876.81,406.02 L877.52,404.06 L878.23,402.08 L878.95,400.09 L879.68,398.08 L880.41,396.06 L881.15,394.02 L881.90,391.96 L882.65,389.89 L883.42,387.80 L884.18,385.69 L884.96,383.57 L885.74,381.42 L886.54,379.26 L887.34,377.09 L888.14,374.89 L888.96,372.67 L889.78,370.44 L890.61,368.19 L891.45,365.91 L892.30,363.62 L893.16,361.30 L894.03,358.97 L894.90,356.61 L895.79,354.23 L896.68,351.83 L897.59,349.41 L898.50,346.96 L899.43,344.49 L900.36,341.99 L901.31,339.48 L902.26,336.93 L903.23,334.36 L904.21,331.77 L905.20,329.15 L906.20,326.50 L907.21,323.82 L908.24,321.12 L909.28,318.39 L910.33,315.63 L911.39,312.83 L912.47,310.01 L913.56,307.16 L914.67,304.27 L915.78,301.36 L916.92,298.40 L918.07,295.42 L919.23,292.40 L920.41,289.34 L921.61,286.25 L922.82,283.12 L924.05,279.95 L925.29,276.74 L926.56,273.49 L927.84,270.20 L929.14,266.87 L930.46,263.49 L931.80,260.07 L933.16,256.60 L934.54,253.08 L935.95,249.52 L937.37,245.91 L938.82,242.24 L940.29,238.52 L941.78,234.75 L943.30,230.92 L944.85,227.03 L946.42,223.09 L948.02,219.08 L949.65,215.01 L951.30,210.87 L952.99,206.67 L954.71,202.39 L956.46,198.05 L958.24,193.63 L960.05,189.13 L961.91,184.55 L963.80,179.89 L965.72,175.15 L967.69,170.31 L969.70,165.39 L971.75,160.36 L973.85,155.24 L975.99,150.01 L978.18,144.68 L980.42,139.23 L982.72,133.66 L985.07,127.97 L987.47,122.15 L989.94,116.20 L992.47,110.11 L995.07,103.87 L997.73,97.47 L1000.47,90.91 L1003.28,84.18 L1006.18,77.27 L1009.16,70.17 L1012.23,62.87 L1015.40,55.35 L1018.66,47.61 L1022.04,39.63 L1025.52,31.40 M835.95,642.31 L836.19,641.53 L836.43,640.75 L836.67,639.96 L836.91,639.17 L837.15,638.38 L837.39,637.58 L837.63,636.79 L837.88,635.99 L838.12,635.19 L838.37,634.38 L838.61,633.58 L838.86,632.77 L839.11,631.95 L839.36,631.14 L839.61,630.32 L839.86,629.50 L840.12,628.68 L840.37,627.86 L840.63,627.03 L840.88,626.20 L841.14,625.37 L841.40,624.53 L841.66,623.69 L841.92,622.85 L842.18,622.01 L842.44,621.16 L842.71,620.31 L842.97,619.46 L843.24,618.60 L843.50,617.75 L843.77,616.88 L844.04,616.02 L844.31,615.15 L844.58,614.28 L844.86,613.41 L845.13,612.54 L845.41,611.66 L845.68,610.78 L845.96,609.89 L846.24,609.01 L846.52,608.12 L846.80,607.22 L847.09,606.32 L847.37,605.42 L847.65,604.52 L847.94,603.62 L848.23,602.71 L848.52,601.79 L848.81,600.88 L849.10,599.96 L849.39,599.04 L849.69,598.11 L849.98,597.18 L850.28,596.25 L850.58,595.31 L850.88,594.37 L851.18,593.43 L851.48,592.49 L851.79,591.54 L852.09,590.58 L852.40,589.63 L852.71,588.67 L853.02,587.70 L853.33,586.74 L853.64,585.76 L853.96,584.79 L854.27,583.81 L854.59,582.83 L854.91,581.84 L855.23,580.85 L855.55,579.86 L855.88,578.86 L856.20,577.86 L856.53,576.86 L856.86,575.85 L857.19,574.83 L857.52,573.82 L857.85,572.80 L858.19,571.77 L858.52,570.74 L858.86,569.71 L859.20,568.67 L859.54,567.63 L859.89,566.58 L860.23,565.53 L860.58,564.48 L860.93,563.42 L861.28,562.36 L861.63,561.29 L861.99,560.22 L862.34,559.14 L862.70,558.06 L863.06,556.97 L863.42,555.88 L863.79,554.79 L864.15,553.69 L864.52,552.58 L864.89,551.47 L865.26,550.36 L865.64,549.24 L866.01,548.12 L866.39,546.99 L866.77,545.86 L867.15,544.72 L867.53,543.58 L867.92,542.43 L868.31,541.27 L868.70,540.11 L869.09,538.95 L869.49,537.78 L869.88,536.61 L870.28,535.43 L870.69,534.24 L871.09,533.05 L871.50,531.85 L871.90,530.65 L872.32,529.44 L872.73,528.23 L873.15,527.01 L873.56,525.78 L873.98,524.55 L874.41,523.32 L874.83,522.07 L875.26,520.83 L875.69,519.57 L876.13,518.31 L876.56,517.04 L877.00,515.77 L877.44,514.49 L877.89,513.20 L878.33,511.91 L878.78,510.61 L879.24,509.30 L879.69,507.99 L880.15,506.67 L880.61,505.35 L881.07,504.01 L881.54,502.67 L882.01,501.33 L882.48,499.97 L882.96,498.61 L883.44,497.25 L883.92,495.87 L884.41,494.49 L884.90,493.10 L885.39,491.70 L885.88,490.29 L886.38,488.88 L886.88,487.46 L887.39,486.03 L887.90,484.59 L888.41,483.15 L888.93,481.70 L889.44,480.23 L889.97,478.76 L890.49,477.29 L891.02,475.80 L891.56,474.30 L892.10,472.80 L892.64,471.29 L893.18,469.77 L893.73,468.23 L894.29,466.69 L894.84,465.15 L895.40,463.59 L895.97,462.02 L896.54,460.44 L897.11,458.85 L897.69,457.26 L898.28,455.65 L898.86,454.03 L899.45,452.40 L900.05,450.77 L900.65,449.12 L901.26,447.46 L901.87,445.79 L902.48,444.11 L903.10,442.42 L903.73,440.71 L904.36,439.00 L904.99,437.28 L905.63,435.54 L906.27,433.79 L906.93,432.03 L907.58,430.25 L908.24,428.47 L908.91,426.67 L909.58,424.86 L910.26,423.04 L910.94,421.20 L911.63,419.35 L912.33,417.49 L913.03,415.61 L913.74,413.72 L914.45,411.82 L915.17,409.90 L915.90,407.97 L916.63,406.02 L917.37,404.06 L918.12,402.08 L918.87,400.09 L919.63,398.08 L920.40,396.06 L921.18,394.02 L921.96,391.96 L922.75,389.89 L923.55,387.80 L924.35,385.69 L925.16,383.57 L925.98,381.42 L926.81,379.26 L927.65,377.09 L928.50,374.89 L929.35,372.67 L930.21,370.44 L931.09,368.19 L931.97,365.91 L932.86,363.62 L933.76,361.30 L934.67,358.97 L935.59,356.61 L936.51,354.23 L937.45,351.83 L938.40,349.41 L939.36,346.96 L940.33,344.49 L941.32,341.99 L942.31,339.48 L943.31,336.93 L944.33,334.36 L945.36,331.77 L946.40,329.15 L947.45,326.50 L948.52,323.82 L949.60,321.12 L950.69,318.39 L951.79,315.63 L952.91,312.83 L954.05,310.01 L955.20,307.16 L956.36,304.27 L957.54,301.36 L958.73,298.40 L959.94,295.42 L961.17,292.40 L962.41,289.34 L963.68,286.25 L964.95,283.12 L966.25,279.95 L967.57,276.74 L968.90,273.49 L970.25,270.20 L971.63,266.87 L973.02,263.49 L974.44,260.07 L975.88,256.60 L977.34,253.08 L978.82,249.52 L980.33,245.91 L981.86,242.24 L983.42,238.52 L985.00,234.75 L986.62,230.92 L988.25,227.03 L989.92,223.09 L991.62,219.08 L993.34,215.01 L995.10,210.87 L996.89,206.67 L998.72,202.39 L1000.58,198.05 L1002.47,193.63 L1004.41,189.13 L1006.38,184.55 L1008.39,179.89 L1010.45,175.15 L1012.55,170.31 L1014.69,165.39 L1016.88,160.36 L1019.12,155.24 L1021.41,150.01 L1023.75,144.68 L1026.15,139.23 L1028.61,133.66 L1031.13,127.97 L1033.71,122.15 L1036.36,116.20 L1039.08,110.11 L1041.87,103.87 L1044.74,97.47 L1047.69,90.91 L1050.73,84.18 L1053.86,77.27 L1057.08,70.17 L1060.40,62.87 L1063.83,55.35 L1067.38,47.61 L1071.04,39.63 L1074.84,31.40 M872.72,642.31 L872.96,641.53 L873.20,640.75 L873.44,639.96 L873.69,639.17 L873.93,638.38 L874.18,637.58 L874.43,636.79 L874.68,635.99 L874.92,635.19 L875.17,634.38 L875.43,633.58 L875.68,632.77 L875.93,631.95 L876.19,631.14 L876.44,630.32 L876.70,629.50 L876.96,628.68 L877.21,627.86 L877.47,627.03 L877.73,626.20 L878.00,625.37 L878.26,624.53 L878.52,623.69 L878.79,622.85 L879.05,622.01 L879.32,621.16 L879.59,620.31 L879.86,619.46 L880.13,618.60 L880.40,617.75 L880.68,616.88 L880.95,616.02 L881.23,615.15 L881.50,614.28 L881.78,613.41 L882.06,612.54 L882.34,611.66 L882.62,610.78 L882.91,609.89 L883.19,609.01 L883.47,608.12 L883.76,607.22 L884.05,606.32 L884.34,605.42 L884.63,604.52 L884.92,603.62 L885.21,602.71 L885.51,601.79 L885.80,600.88 L886.10,599.96 L886.40,599.04 L886.70,598.11 L887.00,597.18 L887.30,596.25 L887.61,595.31 L887.91,594.37 L888.22,593.43 L888.53,592.49 L888.84,591.54 L889.15,590.58 L889.46,589.63 L889.78,588.67 L890.09,587.70 L890.41,586.74 L890.73,585.76 L891.05,584.79 L891.37,583.81 L891.69,582.83 L892.02,581.84 L892.35,580.85 L892.67,579.86 L893.00,578.86 L893.34,577.86 L893.67,576.86 L894.00,575.85 L894.34,574.83 L894.68,573.82 L895.02,572.80 L895.36,571.77 L895.70,570.74 L896.05,569.71 L896.39,568.67 L896.74,567.63 L897.09,566.58 L897.44,565.53 L897.80,564.48 L898.15,563.42 L898.51,562.36 L898.87,561.29 L899.23,560.22 L899.59,559.14 L899.96,558.06 L900.33,556.97 L900.69,555.88 L901.07,554.79 L901.44,553.69 L901.81,552.58 L902.19,551.47 L902.57,550.36 L902.95,549.24 L903.33,548.12 L903.72,546.99 L904.11,545.86 L904.49,544.72 L904.89,543.58 L905.28,542.43 L905.68,541.27 L906.07,540.11 L906.47,538.95 L906.88,537.78 L907.28,536.61 L907.69,535.43 L908.10,534.24 L908.51,533.05 L908.93,531.85 L909.34,530.65 L909.76,529.44 L910.18,528.23 L910.61,527.01 L911.04,525.78 L911.46,524.55 L911.90,523.32 L912.33,522.07 L912.77,520.83 L913.21,519.57 L913.65,518.31 L914.09,517.04 L914.54,515.77 L914.99,514.49 L915.45,513.20 L915.90,511.91 L916.36,510.61 L916.82,509.30 L917.29,507.99 L917.75,506.67 L918.23,505.35 L918.70,504.01 L919.18,502.67 L919.66,501.33 L920.14,499.97 L920.62,498.61 L921.11,497.25 L921.61,495.87 L922.10,494.49 L922.60,493.10 L923.10,491.70 L923.61,490.29 L924.12,488.88 L924.63,487.46 L925.14,486.03 L925.66,484.59 L926.19,483.15 L926.71,481.70 L927.24,480.23 L927.78,478.76 L928.32,477.29 L928.86,475.80 L929.40,474.30 L929.95,472.80 L930.50,471.29 L931.06,469.77 L931.62,468.23 L932.19,466.69 L932.76,465.15 L933.33,463.59 L933.91,462.02 L934.49,460.44 L935.08,458.85 L935.67,457.26 L936.26,455.65 L936.86,454.03 L937.47,452.40 L938.08,450.77 L938.69,449.12 L939.31,447.46 L939.93,445.79 L940.56,444.11 L941.20,442.42 L941.83,440.71 L942.48,439.00 L943.13,437.28 L943.78,435.54 L944.44,433.79 L945.11,432.03 L945.78,430.25 L946.45,428.47 L947.13,426.67 L947.82,424.86 L948.52,423.04 L949.21,421.20 L949.92,419.35 L950.63,417.49 L951.35,415.61 L952.07,413.72 L952.80,411.82 L953.54,409.90 L954.28,407.97 L955.04,406.02 L955.79,404.06 L956.56,402.08 L957.33,400.09 L958.11,398.08 L958.89,396.06 L959.69,394.02 L960.49,391.96 L961.29,389.89 L962.11,387.80 L962.93,385.69 L963.77,383.57 L964.61,381.42 L965.46,379.26 L966.31,377.09 L967.18,374.89 L968.05,372.67 L968.94,370.44 L969.83,368.19 L970.73,365.91 L971.65,363.62 L972.57,361.30 L973.50,358.97 L974.44,356.61 L975.39,354.23 L976.36,351.83 L977.33,349.41 L978.31,346.96 L979.31,344.49 L980.32,341.99 L981.33,339.48 L982.36,336.93 L983.41,334.36 L984.46,331.77 L985.53,329.15 L986.61,326.50 L987.70,323.82 L988.81,321.12 L989.93,318.39 L991.06,315.63 L992.21,312.83 L993.37,310.01 L994.55,307.16 L995.75,304.27 L996.96,301.36 L998.18,298.40 L999.42,295.42 L1000.68,292.40 L1001.96,289.34 L1003.26,286.25 L1004.57,283.12 L1005.90,279.95 L1007.25,276.74 L1008.62,273.49 L1010.01,270.20 L1011.43,266.87 L1012.86,263.49 L1014.32,260.07 L1015.80,256.60 L1017.30,253.08 L1018.82,249.52 L1020.37,245.91 L1021.95,242.24 L1023.55,238.52 L1025.18,234.75 L1026.84,230.92 L1028.52,227.03 L1030.24,223.09 L1031.99,219.08 L1033.76,215.01 L1035.58,210.87 L1037.42,206.67 L1039.30,202.39 L1041.22,198.05 L1043.17,193.63 L1045.16,189.13 L1047.20,184.55 L1049.27,179.89 L1051.39,175.15 L1053.55,170.31 L1055.76,165.39 L1058.03,160.36 L1060.34,155.24 L1062.70,150.01 L1065.12,144.68 L1067.60,139.23 L1070.14,133.66 L1072.74,127.97 L1075.41,122.15 L1078.15,116.20 L1080.96,110.11 L1083.85,103.87 L1086.82,97.47 L1089.87,90.91 L1093.02,84.18 L1096.26,77.27 L1099.60,70.17 L1103.04,62.87 L1106.60,55.35 L1110.28,47.61 L1114.08,39.63 L1118.02,31.40 M909.54,642.31 L909.78,641.53 L910.02,640.75 L910.27,639.96 L910.51,639.17 L910.76,638.38 L911.00,637.58 L911.25,636.79 L911.50,635.99 L911.75,635.19 L912.00,634.38 L912.25,633.58 L912.51,632.77 L912.76,631.95 L913.02,631.14 L913.27,630.32 L913.53,629.50 L913.79,628.68 L914.05,627.86 L914.31,627.03 L914.57,626.20 L914.84,625.37 L915.10,624.53 L915.36,623.69 L915.63,622.85 L915.90,622.01 L916.17,621.16 L916.44,620.31 L916.71,619.46 L916.98,618.60 L917.25,617.75 L917.53,616.88 L917.80,616.02 L918.08,615.15 L918.36,614.28 L918.64,613.41 L918.92,612.54 L919.20,611.66 L919.48,610.78 L919.76,609.89 L920.05,609.01 L920.34,608.12 L920.62,607.22 L920.91,606.32 L921.20,605.42 L921.50,604.52 L921.79,603.62 L922.08,602.71 L922.38,601.79 L922.68,600.88 L922.98,599.96 L923.28,599.04 L923.58,598.11 L923.88,597.18 L924.18,596.25 L924.49,595.31 L924.80,594.37 L925.10,593.43 L925.41,592.49 L925.73,591.54 L926.04,590.58 L926.35,589.63 L926.67,588.67 L926.98,587.70 L927.30,586.74 L927.62,585.76 L927.95,584.79 L928.27,583.81 L928.59,582.83 L928.92,581.84 L929.25,580.85 L929.58,579.86 L929.91,578.86 L930.24,577.86 L930.58,576.86 L930.91,575.85 L931.25,574.83 L931.59,573.82 L931.93,572.80 L932.28,571.77 L932.62,570.74 L932.97,569.71 L933.32,568.67 L933.67,567.63 L934.02,566.58 L934.37,565.53 L934.73,564.48 L935.09,563.42 L935.44,562.36 L935.81,561.29 L936.17,560.22 L936.53,559.14 L936.90,558.06 L937.27,556.97 L937.64,555.88 L938.01,554.79 L938.39,553.69 L938.77,552.58 L939.14,551.47 L939.53,550.36 L939.91,549.24 L940.29,548.12 L940.68,546.99 L941.07,545.86 L941.46,544.72 L941.86,543.58 L942.25,542.43 L942.65,541.27 L943.05,540.11 L943.45,538.95 L943.86,537.78 L944.27,536.61 L944.68,535.43 L945.09,534.24 L945.50,533.05 L945.92,531.85 L946.34,530.65 L946.76,529.44 L947.18,528.23 L947.61,527.01 L948.04,525.78 L948.47,524.55 L948.91,523.32 L949.34,522.07 L949.78,520.83 L950.23,519.57 L950.67,518.31 L951.12,517.04 L951.57,515.77 L952.02,514.49 L952.48,513.20 L952.94,511.91 L953.40,510.61 L953.86,509.30 L954.33,507.99 L954.80,506.67 L955.27,505.35 L955.75,504.01 L956.23,502.67 L956.71,501.33 L957.20,499.97 L957.69,498.61 L958.18,497.25 L958.68,495.87 L959.18,494.49 L959.68,493.10 L960.18,491.70 L960.69,490.29 L961.20,488.88 L961.72,487.46 L962.24,486.03 L962.76,484.59 L963.29,483.15 L963.82,481.70 L964.35,480.23 L964.89,478.76 L965.43,477.29 L965.98,475.80 L966.53,474.30 L967.08,472.80 L967.64,471.29 L968.20,469.77 L968.76,468.23 L969.33,466.69 L969.91,465.15 L970.48,463.59 L971.07,462.02 L971.65,460.44 L972.24,458.85 L972.84,457.26 L973.44,455.65 L974.04,454.03 L974.65,452.40 L975.26,450.77 L975.88,449.12 L976.51,447.46 L977.13,445.79 L977.77,444.11 L978.41,442.42 L979.05,440.71 L979.70,439.00 L980.35,437.28 L981.01,435.54 L981.68,433.79 L982.35,432.03 L983.02,430.25 L983.70,428.47 L984.39,426.67 L985.08,424.86 L985.78,423.04 L986.49,421.20 L987.20,419.35 L987.91,417.49 L988.64,415.61 L989.37,413.72 L990.10,411.82 L990.85,409.90 L991.60,407.97 L992.35,406.02 L993.12,404.06 L993.89,402.08 L994.66,400.09 L995.45,398.08 L996.24,396.06 L997.04,394.02 L997.85,391.96 L998.66,389.89 L999.49,387.80 L1000.32,385.69 L1001.16,383.57 L1002.01,381.42 L1002.86,379.26 L1003.73,377.09 L1004.60,374.89 L1005.48,372.67 L1006.38,370.44 L1007.28,368.19 L1008.19,365.91 L1009.11,363.62 L1010.04,361.30 L1010.98,358.97 L1011.93,356.61 L1012.89,354.23 L1013.86,351.83 L1014.84,349.41 L1015.83,346.96 L1016.84,344.49 L1017.85,341.99 L1018.88,339.48 L1019.92,336.93 L1020.97,334.36 L1022.04,331.77 L1023.12,329.15 L1024.21,326.50 L1025.31,323.82 L1026.43,321.12 L1027.56,318.39 L1028.70,315.63 L1029.86,312.83 L1031.04,310.01 L1032.23,307.16 L1033.43,304.27 L1034.66,301.36 L1035.90,298.40 L1037.15,295.42 L1038.42,292.40 L1039.71,289.34 L1041.02,286.25 L1042.35,283.12 L1043.69,279.95 L1045.06,276.74 L1046.44,273.49 L1047.85,270.20 L1049.28,266.87 L1050.73,263.49 L1052.20,260.07 L1053.69,256.60 L1055.21,253.08 L1056.75,249.52 L1058.32,245.91 L1059.92,242.24 L1061.54,238.52 L1063.18,234.75 L1064.86,230.92 L1066.56,227.03 L1068.30,223.09 L1070.07,219.08 L1071.87,215.01 L1073.70,210.87 L1075.56,206.67 L1077.47,202.39 L1079.41,198.05 L1081.38,193.63 L1083.40,189.13 L1085.46,184.55 L1087.56,179.89 L1089.70,175.15 L1091.89,170.31 L1094.13,165.39 L1096.42,160.36 L1098.76,155.24 L1101.16,150.01 L1103.61,144.68 L1106.12,139.23 L1108.69,133.66 L1111.33,127.97 L1114.04,122.15 L1116.81,116.20 L1119.66,110.11 L1122.59,103.87 L1125.60,97.47 L1128.70,90.91 L1131.89,84.18 L1135.17,77.27 L1138.56,70.17 L1142.06,62.87 L1145.67,55.35 L1149.40,47.61 L1153.26,39.63 L1157.27,31.40 M946.40,642.31 L946.64,641.53 L946.88,640.75 L947.12,639.96 L947.37,639.17 L947.61,638.38 L947.85,637.58 L948.10,636.79 L948.35,635.99 L948.60,635.19 L948.85,634.38 L949.10,633.58 L949.35,632.77 L949.60,631.95 L949.85,631.14 L950.11,630.32 L950.36,629.50 L950.62,628.68 L950.88,627.86 L951.14,627.03 L951.40,626.20 L951.66,625.37 L951.92,624.53 L952.18,623.69 L952.45,622.85 L952.71,622.01 L952.98,621.16 L953.25,620.31 L953.52,619.46 L953.79,618.60 L954.06,617.75 L954.33,616.88 L954.61,616.02 L954.88,615.15 L955.16,614.28 L955.43,613.41 L955.71,612.54 L955.99,611.66 L956.27,610.78 L956.56,609.89 L956.84,609.01 L957.12,608.12 L957.41,607.22 L957.70,606.32 L957.99,605.42 L958.28,604.52 L958.57,603.62 L958.86,602.71 L959.15,601.79 L959.45,600.88 L959.75,599.96 L960.04,599.04 L960.34,598.11 L960.64,597.18 L960.95,596.25 L961.25,595.31 L961.55,594.37 L961.86,593.43 L962.17,592.49 L962.48,591.54 L962.79,590.58 L963.10,589.63 L963.41,588.67 L963.73,587.70 L964.05,586.74 L964.37,585.76 L964.69,584.79 L965.01,583.81 L965.33,582.83 L965.65,581.84 L965.98,580.85 L966.31,579.86 L966.64,578.86 L966.97,577.86 L967.30,576.86 L967.64,575.85 L967.97,574.83 L968.31,573.82 L968.65,572.80 L968.99,571.77 L969.33,570.74 L969.68,569.71 L970.02,568.67 L970.37,567.63 L970.72,566.58 L971.07,565.53 L971.43,564.48 L971.78,563.42 L972.14,562.36 L972.50,561.29 L972.86,560.22 L973.22,559.14 L973.59,558.06 L973.96,556.97 L974.33,555.88 L974.70,554.79 L975.07,553.69 L975.44,552.58 L975.82,551.47 L976.20,550.36 L976.58,549.24 L976.96,548.12 L977.35,546.99 L977.74,545.86 L978.13,544.72 L978.52,543.58 L978.91,542.43 L979.31,541.27 L979.71,540.11 L980.11,538.95 L980.51,537.78 L980.92,536.61 L981.32,535.43 L981.73,534.24 L982.15,533.05 L982.56,531.85 L982.98,530.65 L983.40,529.44 L983.82,528.23 L984.25,527.01 L984.67,525.78 L985.10,524.55 L985.54,523.32 L985.97,522.07 L986.41,520.83 L986.85,519.57 L987.29,518.31 L987.74,517.04 L988.19,515.77 L988.64,514.49 L989.09,513.20 L989.55,511.91 L990.01,510.61 L990.47,509.30 L990.94,507.99 L991.40,506.67 L991.88,505.35 L992.35,504.01 L992.83,502.67 L993.31,501.33 L993.79,499.97 L994.28,498.61 L994.77,497.25 L995.26,495.87 L995.76,494.49 L996.26,493.10 L996.76,491.70 L997.27,490.29 L997.78,488.88 L998.29,487.46 L998.81,486.03 L999.33,484.59 L999.86,483.15 L1000.39,481.70 L1000.92,480.23 L1001.45,478.76 L1001.99,477.29 L1002.54,475.80 L1003.08,474.30 L1003.63,472.80 L1004.19,471.29 L1004.75,469.77 L1005.31,468.23 L1005.88,466.69 L1006.45,465.15 L1007.03,463.59 L1007.61,462.02 L1008.19,460.44 L1008.78,458.85 L1009.37,457.26 L1009.97,455.65 L1010.57,454.03 L1011.18,452.40 L1011.79,450.77 L1012.41,449.12 L1013.03,447.46 L1013.65,445.79 L1014.29,444.11 L1014.92,442.42 L1015.56,440.71 L1016.21,439.00 L1016.86,437.28 L1017.52,435.54 L1018.18,433.79 L1018.85,432.03 L1019.52,430.25 L1020.20,428.47 L1020.89,426.67 L1021.58,424.86 L1022.28,423.04 L1022.98,421.20 L1023.69,419.35 L1024.40,417.49 L1025.13,415.61 L1025.85,413.72 L1026.59,411.82 L1027.33,409.90 L1028.08,407.97 L1028.83,406.02 L1029.59,404.06 L1030.36,402.08 L1031.14,400.09 L1031.92,398.08 L1032.71,396.06 L1033.51,394.02 L1034.31,391.96 L1035.13,389.89 L1035.95,387.80 L1036.78,385.69 L1037.62,383.57 L1038.46,381.42 L1039.32,379.26 L1040.18,377.09 L1041.05,374.89 L1041.93,372.67 L1042.82,370.44 L1043.72,368.19 L1044.63,365.91 L1045.55,363.62 L1046.48,361.30 L1047.42,358.97 L1048.37,356.61 L1049.32,354.23 L1050.29,351.83 L1051.27,349.41 L1052.27,346.96 L1053.27,344.49 L1054.28,341.99 L1055.31,339.48 L1056.35,336.93 L1057.40,334.36 L1058.46,331.77 L1059.54,329.15 L1060.63,326.50 L1061.73,323.82 L1062.85,321.12 L1063.98,318.39 L1065.12,315.63 L1066.28,312.83 L1067.45,310.01 L1068.64,307.16 L1069.85,304.27 L1071.07,301.36 L1072.30,298.40 L1073.56,295.42 L1074.83,292.40 L1076.12,289.34 L1077.43,286.25 L1078.75,283.12 L1080.10,279.95 L1081.46,276.74 L1082.85,273.49 L1084.25,270.20 L1085.68,266.87 L1087.13,263.49 L1088.60,260.07 L1090.09,256.60 L1091.61,253.08 L1093.16,249.52 L1094.72,245.91 L1096.32,242.24 L1097.94,238.52 L1099.58,234.75 L1101.26,230.92 L1102.97,227.03 L1104.70,223.09 L1106.47,219.08 L1108.27,215.01 L1110.10,210.87 L1111.97,206.67 L1113.87,202.39 L1115.81,198.05 L1117.79,193.63 L1119.81,189.13 L1121.87,184.55 L1123.97,179.89 L1126.12,175.15 L1128.31,170.31 L1130.55,165.39 L1132.85,160.36 L1135.19,155.24 L1137.59,150.01 L1140.04,144.68 L1142.56,139.23 L1145.13,133.66 L1147.77,127.97 L1150.48,122.15 L1153.26,116.20 L1156.12,110.11 L1159.05,103.87 L1162.07,97.47 L1165.17,90.91 L1168.37,84.18 L1171.66,77.27 L1175.06,70.17 L1178.56,62.87 L1182.18,55.35 L1185.93,47.61 L1189.80,39.63 L1193.81,31.40 M983.29,642.31 L983.53,641.53 L983.77,640.75 L984.01,639.96 L984.25,639.17 L984.49,638.38 L984.73,637.58 L984.97,636.79 L985.21,635.99 L985.46,635.19 L985.70,634.38 L985.95,633.58 L986.20,632.77 L986.45,631.95 L986.69,631.14 L986.95,630.32 L987.20,629.50 L987.45,628.68 L987.70,627.86 L987.96,627.03 L988.21,626.20 L988.47,625.37 L988.73,624.53 L988.99,623.69 L989.25,622.85 L989.51,622.01 L989.77,621.16 L990.04,620.31 L990.30,619.46 L990.57,618.60 L990.83,617.75 L991.10,616.88 L991.37,616.02 L991.64,615.15 L991.91,614.28 L992.19,613.41 L992.46,612.54 L992.73,611.66 L993.01,610.78 L993.29,609.89 L993.57,609.01 L993.85,608.12 L994.13,607.22 L994.41,606.32 L994.70,605.42 L994.98,604.52 L995.27,603.62 L995.56,602.71 L995.85,601.79 L996.14,600.88 L996.43,599.96 L996.72,599.04 L997.02,598.11 L997.31,597.18 L997.61,596.25 L997.91,595.31 L998.21,594.37 L998.51,593.43 L998.82,592.49 L999.12,591.54 L999.43,590.58 L999.74,589.63 L1000.04,588.67 L1000.35,587.70 L1000.67,586.74 L1000.98,585.76 L1001.30,584.79 L1001.61,583.81 L1001.93,582.83 L1002.25,581.84 L1002.57,580.85 L1002.90,579.86 L1003.22,578.86 L1003.55,577.86 L1003.87,576.86 L1004.20,575.85 L1004.53,574.83 L1004.87,573.82 L1005.20,572.80 L1005.54,571.77 L1005.88,570.74 L1006.22,569.71 L1006.56,568.67 L1006.90,567.63 L1007.25,566.58 L1007.59,565.53 L1007.94,564.48 L1008.29,563.42 L1008.64,562.36 L1009.00,561.29 L1009.35,560.22 L1009.71,559.14 L1010.07,558.06 L1010.43,556.97 L1010.80,555.88 L1011.16,554.79 L1011.53,553.69 L1011.90,552.58 L1012.27,551.47 L1012.65,550.36 L1013.02,549.24 L1013.40,548.12 L1013.78,546.99 L1014.16,545.86 L1014.55,544.72 L1014.93,543.58 L1015.32,542.43 L1015.71,541.27 L1016.11,540.11 L1016.50,538.95 L1016.90,537.78 L1017.30,536.61 L1017.70,535.43 L1018.11,534.24 L1018.51,533.05 L1018.92,531.85 L1019.33,530.65 L1019.75,529.44 L1020.17,528.23 L1020.58,527.01 L1021.01,525.78 L1021.43,524.55 L1021.86,523.32 L1022.29,522.07 L1022.72,520.83 L1023.15,519.57 L1023.59,518.31 L1024.03,517.04 L1024.47,515.77 L1024.92,514.49 L1025.37,513.20 L1025.82,511.91 L1026.27,510.61 L1026.73,509.30 L1027.19,507.99 L1027.65,506.67 L1028.12,505.35 L1028.59,504.01 L1029.06,502.67 L1029.53,501.33 L1030.01,499.97 L1030.49,498.61 L1030.97,497.25 L1031.46,495.87 L1031.95,494.49 L1032.45,493.10 L1032.94,491.70 L1033.44,490.29 L1033.95,488.88 L1034.46,487.46 L1034.97,486.03 L1035.48,484.59 L1036.00,483.15 L1036.52,481.70 L1037.05,480.23 L1037.58,478.76 L1038.11,477.29 L1038.65,475.80 L1039.19,474.30 L1039.73,472.80 L1040.28,471.29 L1040.83,469.77 L1041.39,468.23 L1041.95,466.69 L1042.51,465.15 L1043.08,463.59 L1043.66,462.02 L1044.23,460.44 L1044.82,458.85 L1045.40,457.26 L1045.99,455.65 L1046.59,454.03 L1047.19,452.40 L1047.79,450.77 L1048.40,449.12 L1049.02,447.46 L1049.64,445.79 L1050.26,444.11 L1050.89,442.42 L1051.52,440.71 L1052.16,439.00 L1052.81,437.28 L1053.46,435.54 L1054.11,433.79 L1054.78,432.03 L1055.44,430.25 L1056.11,428.47 L1056.79,426.67 L1057.47,424.86 L1058.16,423.04 L1058.86,421.20 L1059.56,419.35 L1060.27,417.49 L1060.98,415.61 L1061.70,413.72 L1062.43,411.82 L1063.16,409.90 L1063.90,407.97 L1064.65,406.02 L1065.40,404.06 L1066.16,402.08 L1066.93,400.09 L1067.71,398.08 L1068.49,396.06 L1069.28,394.02 L1070.08,391.96 L1070.88,389.89 L1071.70,387.80 L1072.52,385.69 L1073.35,383.57 L1074.18,381.42 L1075.03,379.26 L1075.88,377.09 L1076.75,374.89 L1077.62,372.67 L1078.50,370.44 L1079.39,368.19 L1080.29,365.91 L1081.20,363.62 L1082.12,361.30 L1083.05,358.97 L1083.99,356.61 L1084.94,354.23 L1085.90,351.83 L1086.87,349.41 L1087.86,346.96 L1088.85,344.49 L1089.85,341.99 L1090.87,339.48 L1091.90,336.93 L1092.94,334.36 L1093.99,331.77 L1095.06,329.15 L1096.14,326.50 L1097.23,323.82 L1098.34,321.12 L1099.46,318.39 L1100.59,315.63 L1101.74,312.83 L1102.90,310.01 L1104.08,307.16 L1105.28,304.27 L1106.49,301.36 L1107.72,298.40 L1108.96,295.42 L1110.22,292.40 L1111.50,289.34 L1112.80,286.25 L1114.11,283.12 L1115.44,279.95 L1116.80,276.74 L1118.17,273.49 L1119.57,270.20 L1120.98,266.87 L1122.42,263.49 L1123.88,260.07 L1125.36,256.60 L1126.87,253.08 L1128.40,249.52 L1129.95,245.91 L1131.53,242.24 L1133.14,238.52 L1134.78,234.75 L1136.44,230.92 L1138.13,227.03 L1139.86,223.09 L1141.61,219.08 L1143.40,215.01 L1145.22,210.87 L1147.07,206.67 L1148.96,202.39 L1150.89,198.05 L1152.85,193.63 L1154.86,189.13 L1156.90,184.55 L1158.99,179.89 L1161.12,175.15 L1163.30,170.31 L1165.53,165.39 L1167.81,160.36 L1170.14,155.24 L1172.52,150.01 L1174.96,144.68 L1177.46,139.23 L1180.02,133.66 L1182.64,127.97 L1185.33,122.15 L1188.10,116.20 L1190.94,110.11 L1193.85,103.87 L1196.85,97.47 L1199.94,90.91 L1203.12,84.18 L1206.39,77.27 L1209.77,70.17 L1213.25,62.87 L1216.86,55.35 L1220.58,47.61 L1224.43,39.63 L1228.42,31.40 M1020.22,642.31 L1020.45,641.53 L1020.68,640.75 L1020.92,639.96 L1021.15,639.17 L1021.38,638.38 L1021.62,637.58 L1021.86,636.79 L1022.09,635.99 L1022.33,635.19 L1022.57,634.38 L1022.81,633.58 L1023.05,632.77 L1023.30,631.95 L1023.54,631.14 L1023.78,630.32 L1024.03,629.50 L1024.28,628.68 L1024.52,627.86 L1024.77,627.03 L1025.02,626.20 L1025.27,625.37 L1025.52,624.53 L1025.78,623.69 L1026.03,622.85 L1026.29,622.01 L1026.54,621.16 L1026.80,620.31 L1027.06,619.46 L1027.32,618.60 L1027.58,617.75 L1027.84,616.88 L1028.10,616.02 L1028.37,615.15 L1028.63,614.28 L1028.90,613.41 L1029.17,612.54 L1029.44,611.66 L1029.71,610.78 L1029.98,609.89 L1030.25,609.01 L1030.52,608.12 L1030.80,607.22 L1031.07,606.32 L1031.35,605.42 L1031.63,604.52 L1031.91,603.62 L1032.19,602.71 L1032.48,601.79 L1032.76,600.88 L1033.05,599.96 L1033.33,599.04 L1033.62,598.11 L1033.91,597.18 L1034.20,596.25 L1034.49,595.31 L1034.79,594.37 L1035.08,593.43 L1035.38,592.49 L1035.68,591.54 L1035.97,590.58 L1036.28,589.63 L1036.58,588.67 L1036.88,587.70 L1037.19,586.74 L1037.49,585.76 L1037.80,584.79 L1038.11,583.81 L1038.42,582.83 L1038.74,581.84 L1039.05,580.85 L1039.37,579.86 L1039.68,578.86 L1040.00,577.86 L1040.32,576.86 L1040.65,575.85 L1040.97,574.83 L1041.29,573.82 L1041.62,572.80 L1041.95,571.77 L1042.28,570.74 L1042.61,569.71 L1042.95,568.67 L1043.28,567.63 L1043.62,566.58 L1043.96,565.53 L1044.30,564.48 L1044.65,563.42 L1044.99,562.36 L1045.34,561.29 L1045.69,560.22 L1046.04,559.14 L1046.39,558.06 L1046.74,556.97 L1047.10,555.88 L1047.46,554.79 L1047.82,553.69 L1048.18,552.58 L1048.54,551.47 L1048.91,550.36 L1049.28,549.24 L1049.65,548.12 L1050.02,546.99 L1050.39,545.86 L1050.77,544.72 L1051.15,543.58 L1051.53,542.43 L1051.91,541.27 L1052.30,540.11 L1052.68,538.95 L1053.07,537.78 L1053.46,536.61 L1053.86,535.43 L1054.26,534.24 L1054.65,533.05 L1055.06,531.85 L1055.46,530.65 L1055.86,529.44 L1056.27,528.23 L1056.68,527.01 L1057.10,525.78 L1057.51,524.55 L1057.93,523.32 L1058.35,522.07 L1058.77,520.83 L1059.20,519.57 L1059.63,518.31 L1060.06,517.04 L1060.49,515.77 L1060.93,514.49 L1061.37,513.20 L1061.81,511.91 L1062.26,510.61 L1062.71,509.30 L1063.16,507.99 L1063.61,506.67 L1064.07,505.35 L1064.53,504.01 L1064.99,502.67 L1065.45,501.33 L1065.92,499.97 L1066.39,498.61 L1066.87,497.25 L1067.35,495.87 L1067.83,494.49 L1068.31,493.10 L1068.80,491.70 L1069.29,490.29 L1069.79,488.88 L1070.28,487.46 L1070.79,486.03 L1071.29,484.59 L1071.80,483.15 L1072.31,481.70 L1072.83,480.23 L1073.35,478.76 L1073.87,477.29 L1074.40,475.80 L1074.93,474.30 L1075.46,472.80 L1076.00,471.29 L1076.54,469.77 L1077.09,468.23 L1077.64,466.69 L1078.19,465.15 L1078.75,463.59 L1079.32,462.02 L1079.88,460.44 L1080.45,458.85 L1081.03,457.26 L1081.61,455.65 L1082.19,454.03 L1082.78,452.40 L1083.38,450.77 L1083.98,449.12 L1084.58,447.46 L1085.19,445.79 L1085.80,444.11 L1086.42,442.42 L1087.04,440.71 L1087.67,439.00 L1088.30,437.28 L1088.94,435.54 L1089.59,433.79 L1090.24,432.03 L1090.89,430.25 L1091.55,428.47 L1092.22,426.67 L1092.89,424.86 L1093.57,423.04 L1094.25,421.20 L1094.94,419.35 L1095.64,417.49 L1096.34,415.61 L1097.05,413.72 L1097.76,411.82 L1098.48,409.90 L1099.21,407.97 L1099.94,406.02 L1100.69,404.06 L1101.43,402.08 L1102.19,400.09 L1102.95,398.08 L1103.72,396.06 L1104.50,394.02 L1105.28,391.96 L1106.07,389.89 L1106.87,387.80 L1107.68,385.69 L1108.50,383.57 L1109.32,381.42 L1110.15,379.26 L1111.00,377.09 L1111.85,374.89 L1112.70,372.67 L1113.57,370.44 L1114.45,368.19 L1115.33,365.91 L1116.23,363.62 L1117.13,361.30 L1118.05,358.97 L1118.97,356.61 L1119.91,354.23 L1120.86,351.83 L1121.81,349.41 L1122.78,346.96 L1123.76,344.49 L1124.75,341.99 L1125.75,339.48 L1126.76,336.93 L1127.79,334.36 L1128.83,331.77 L1129.88,329.15 L1130.94,326.50 L1132.02,323.82 L1133.11,321.12 L1134.21,318.39 L1135.33,315.63 L1136.46,312.83 L1137.61,310.01 L1138.77,307.16 L1139.94,304.27 L1141.14,301.36 L1142.35,298.40 L1143.57,295.42 L1144.82,292.40 L1146.08,289.34 L1147.35,286.25 L1148.65,283.12 L1149.97,279.95 L1151.30,276.74 L1152.66,273.49 L1154.03,270.20 L1155.43,266.87 L1156.84,263.49 L1158.28,260.07 L1159.75,256.60 L1161.23,253.08 L1162.74,249.52 L1164.28,245.91 L1165.84,242.24 L1167.42,238.52 L1169.04,234.75 L1170.68,230.92 L1172.35,227.03 L1174.05,223.09 L1175.78,219.08 L1177.55,215.01 L1179.34,210.87 L1181.17,206.67 L1183.04,202.39 L1184.94,198.05 L1186.88,193.63 L1188.86,189.13 L1190.88,184.55 L1192.95,179.89 L1195.05,175.15 L1197.20,170.31 L1199.40,165.39 L1201.65,160.36 L1203.95,155.24 L1206.31,150.01 L1208.72,144.68 L1211.19,139.23 L1213.72,133.66 L1216.32,127.97 L1218.98,122.15 L1221.71,116.20 L1224.52,110.11 L1227.40,103.87 L1230.37,97.47 L1233.42,90.91 L1236.56,84.18 L1239.80,77.27 L1243.14,70.17 L1246.59,62.87 L1250.15,55.35 L1253.84,47.61 L1257.65,39.63 L1261.60,31.40 M1057.17,642.31 L1057.40,641.53 L1057.62,640.75 L1057.85,639.96 L1058.07,639.17 L1058.30,638.38 L1058.53,637.58 L1058.76,636.79 L1058.99,635.99 L1059.22,635.19 L1059.45,634.38 L1059.68,633.58 L1059.91,632.77 L1060.15,631.95 L1060.39,631.14 L1060.62,630.32 L1060.86,629.50 L1061.10,628.68 L1061.34,627.86 L1061.58,627.03 L1061.82,626.20 L1062.06,625.37 L1062.31,624.53 L1062.55,623.69 L1062.80,622.85 L1063.05,622.01 L1063.30,621.16 L1063.54,620.31 L1063.80,619.46 L1064.05,618.60 L1064.30,617.75 L1064.55,616.88 L1064.81,616.02 L1065.06,615.15 L1065.32,614.28 L1065.58,613.41 L1065.84,612.54 L1066.10,611.66 L1066.36,610.78 L1066.63,609.89 L1066.89,609.01 L1067.16,608.12 L1067.42,607.22 L1067.69,606.32 L1067.96,605.42 L1068.23,604.52 L1068.50,603.62 L1068.78,602.71 L1069.05,601.79 L1069.33,600.88 L1069.60,599.96 L1069.88,599.04 L1070.16,598.11 L1070.44,597.18 L1070.72,596.25 L1071.01,595.31 L1071.29,594.37 L1071.58,593.43 L1071.87,592.49 L1072.16,591.54 L1072.45,590.58 L1072.74,589.63 L1073.03,588.67 L1073.33,587.70 L1073.62,586.74 L1073.92,585.76 L1074.22,584.79 L1074.52,583.81 L1074.82,582.83 L1075.13,581.84 L1075.43,580.85 L1075.74,579.86 L1076.05,578.86 L1076.36,577.86 L1076.67,576.86 L1076.98,575.85 L1077.30,574.83 L1077.61,573.82 L1077.93,572.80 L1078.25,571.77 L1078.57,570.74 L1078.90,569.71 L1079.22,568.67 L1079.55,567.63 L1079.88,566.58 L1080.21,565.53 L1080.54,564.48 L1080.87,563.42 L1081.21,562.36 L1081.54,561.29 L1081.88,560.22 L1082.22,559.14 L1082.57,558.06 L1082.91,556.97 L1083.26,555.88 L1083.60,554.79 L1083.95,553.69 L1084.31,552.58 L1084.66,551.47 L1085.02,550.36 L1085.38,549.24 L1085.74,548.12 L1086.10,546.99 L1086.46,545.86 L1086.83,544.72 L1087.20,543.58 L1087.57,542.43 L1087.94,541.27 L1088.31,540.11 L1088.69,538.95 L1089.07,537.78 L1089.45,536.61 L1089.84,535.43 L1090.22,534.24 L1090.61,533.05 L1091.00,531.85 L1091.39,530.65 L1091.79,529.44 L1092.19,528.23 L1092.59,527.01 L1092.99,525.78 L1093.39,524.55 L1093.80,523.32 L1094.21,522.07 L1094.62,520.83 L1095.04,519.57 L1095.45,518.31 L1095.87,517.04 L1096.30,515.77 L1096.72,514.49 L1097.15,513.20 L1097.58,511.91 L1098.02,510.61 L1098.45,509.30 L1098.89,507.99 L1099.33,506.67 L1099.78,505.35 L1100.23,504.01 L1100.68,502.67 L1101.13,501.33 L1101.59,499.97 L1102.05,498.61 L1102.51,497.25 L1102.98,495.87 L1103.45,494.49 L1103.92,493.10 L1104.40,491.70 L1104.87,490.29 L1105.36,488.88 L1105.84,487.46 L1106.33,486.03 L1106.82,484.59 L1107.32,483.15 L1107.82,481.70 L1108.32,480.23 L1108.83,478.76 L1109.34,477.29 L1109.85,475.80 L1110.37,474.30 L1110.89,472.80 L1111.42,471.29 L1111.95,469.77 L1112.48,468.23 L1113.02,466.69 L1113.56,465.15 L1114.11,463.59 L1114.66,462.02 L1115.21,460.44 L1115.77,458.85 L1116.33,457.26 L1116.90,455.65 L1117.47,454.03 L1118.04,452.40 L1118.62,450.77 L1119.21,449.12 L1119.80,447.46 L1120.39,445.79 L1120.99,444.11 L1121.59,442.42 L1122.20,440.71 L1122.82,439.00 L1123.44,437.28 L1124.06,435.54 L1124.69,433.79 L1125.32,432.03 L1125.96,430.25 L1126.61,428.47 L1127.26,426.67 L1127.92,424.86 L1128.58,423.04 L1129.25,421.20 L1129.92,419.35 L1130.60,417.49 L1131.29,415.61 L1131.98,413.72 L1132.68,411.82 L1133.39,409.90 L1134.10,407.97 L1134.82,406.02 L1135.54,404.06 L1136.27,402.08 L1137.01,400.09 L1137.76,398.08 L1138.51,396.06 L1139.27,394.02 L1140.04,391.96 L1140.81,389.89 L1141.60,387.80 L1142.39,385.69 L1143.19,383.57 L1143.99,381.42 L1144.81,379.26 L1145.63,377.09 L1146.46,374.89 L1147.30,372.67 L1148.15,370.44 L1149.01,368.19 L1149.88,365.91 L1150.76,363.62 L1151.64,361.30 L1152.54,358.97 L1153.45,356.61 L1154.36,354.23 L1155.29,351.83 L1156.23,349.41 L1157.17,346.96 L1158.13,344.49 L1159.10,341.99 L1160.08,339.48 L1161.08,336.93 L1162.08,334.36 L1163.10,331.77 L1164.13,329.15 L1165.17,326.50 L1166.23,323.82 L1167.29,321.12 L1168.38,318.39 L1169.47,315.63 L1170.58,312.83 L1171.71,310.01 L1172.85,307.16 L1174.00,304.27 L1175.17,301.36 L1176.36,298.40 L1177.56,295.42 L1178.78,292.40 L1180.02,289.34 L1181.27,286.25 L1182.55,283.12 L1183.84,279.95 L1185.15,276.74 L1186.48,273.49 L1187.83,270.20 L1189.20,266.87 L1190.59,263.49 L1192.00,260.07 L1193.44,256.60 L1194.90,253.08 L1196.38,249.52 L1197.89,245.91 L1199.42,242.24 L1200.98,238.52 L1202.57,234.75 L1204.18,230.92 L1205.82,227.03 L1207.49,223.09 L1209.19,219.08 L1210.93,215.01 L1212.69,210.87 L1214.49,206.67 L1216.33,202.39 L1218.20,198.05 L1220.11,193.63 L1222.05,189.13 L1224.04,184.55 L1226.07,179.89 L1228.14,175.15 L1230.26,170.31 L1232.42,165.39 L1234.64,160.36 L1236.90,155.24 L1239.22,150.01 L1241.59,144.68 L1244.02,139.23 L1246.51,133.66 L1249.07,127.97 L1251.69,122.15 L1254.38,116.20 L1257.14,110.11 L1259.98,103.87 L1262.90,97.47 L1265.91,90.91 L1269.01,84.18 L1272.20,77.27 L1275.49,70.17 L1278.89,62.87 L1282.40,55.35 L1286.03,47.61 L1289.79,39.63 L1293.69,31.40 M1094.14,642.31 L1094.36,641.53 L1094.57,640.75 L1094.79,639.96 L1095.01,639.17 L1095.23,638.38 L1095.45,637.58 L1095.67,636.79 L1095.89,635.99 L1096.11,635.19 L1096.33,634.38 L1096.56,633.58 L1096.78,632.77 L1097.01,631.95 L1097.23,631.14 L1097.46,630.32 L1097.69,629.50 L1097.92,628.68 L1098.15,627.86 L1098.38,627.03 L1098.62,626.20 L1098.85,625.37 L1099.08,624.53 L1099.32,623.69 L1099.56,622.85 L1099.80,622.01 L1100.03,621.16 L1100.27,620.31 L1100.52,619.46 L1100.76,618.60 L1101.00,617.75 L1101.25,616.88 L1101.49,616.02 L1101.74,615.15 L1101.99,614.28 L1102.24,613.41 L1102.49,612.54 L1102.74,611.66 L1102.99,610.78 L1103.24,609.89 L1103.50,609.01 L1103.75,608.12 L1104.01,607.22 L1104.27,606.32 L1104.53,605.42 L1104.79,604.52 L1105.05,603.62 L1105.32,602.71 L1105.58,601.79 L1105.85,600.88 L1106.11,599.96 L1106.38,599.04 L1106.65,598.11 L1106.92,597.18 L1107.19,596.25 L1107.47,595.31 L1107.74,594.37 L1108.02,593.43 L1108.30,592.49 L1108.58,591.54 L1108.86,590.58 L1109.14,589.63 L1109.42,588.67 L1109.71,587.70 L1109.99,586.74 L1110.28,585.76 L1110.57,584.79 L1110.86,583.81 L1111.15,582.83 L1111.44,581.84 L1111.74,580.85 L1112.03,579.86 L1112.33,578.86 L1112.63,577.86 L1112.93,576.86 L1113.23,575.85 L1113.54,574.83 L1113.84,573.82 L1114.15,572.80 L1114.46,571.77 L1114.77,570.74 L1115.08,569.71 L1115.40,568.67 L1115.71,567.63 L1116.03,566.58 L1116.35,565.53 L1116.67,564.48 L1116.99,563.42 L1117.32,562.36 L1117.64,561.29 L1117.97,560.22 L1118.30,559.14 L1118.63,558.06 L1118.96,556.97 L1119.30,555.88 L1119.63,554.79 L1119.97,553.69 L1120.31,552.58 L1120.66,551.47 L1121.00,550.36 L1121.35,549.24 L1121.69,548.12 L1122.04,546.99 L1122.40,545.86 L1122.75,544.72 L1123.11,543.58 L1123.47,542.43 L1123.83,541.27 L1124.19,540.11 L1124.55,538.95 L1124.92,537.78 L1125.29,536.61 L1125.66,535.43 L1126.04,534.24 L1126.41,533.05 L1126.79,531.85 L1127.17,530.65 L1127.55,529.44 L1127.94,528.23 L1128.32,527.01 L1128.71,525.78 L1129.11,524.55 L1129.50,523.32 L1129.90,522.07 L1130.30,520.83 L1130.70,519.57 L1131.10,518.31 L1131.51,517.04 L1131.92,515.77 L1132.33,514.49 L1132.75,513.20 L1133.17,511.91 L1133.59,510.61 L1134.01,509.30 L1134.43,507.99 L1134.86,506.67 L1135.29,505.35 L1135.73,504.01 L1136.17,502.67 L1136.61,501.33 L1137.05,499.97 L1137.50,498.61 L1137.95,497.25 L1138.40,495.87 L1138.85,494.49 L1139.31,493.10 L1139.77,491.70 L1140.24,490.29 L1140.71,488.88 L1141.18,487.46 L1141.65,486.03 L1142.13,484.59 L1142.61,483.15 L1143.10,481.70 L1143.58,480.23 L1144.08,478.76 L1144.57,477.29 L1145.07,475.80 L1145.57,474.30 L1146.08,472.80 L1146.59,471.29 L1147.10,469.77 L1147.62,468.23 L1148.14,466.69 L1148.67,465.15 L1149.20,463.59 L1149.73,462.02 L1150.27,460.44 L1150.81,458.85 L1151.36,457.26 L1151.91,455.65 L1152.47,454.03 L1153.03,452.40 L1153.59,450.77 L1154.16,449.12 L1154.73,447.46 L1155.31,445.79 L1155.89,444.11 L1156.48,442.42 L1157.07,440.71 L1157.67,439.00 L1158.27,437.28 L1158.88,435.54 L1159.49,433.79 L1160.11,432.03 L1160.73,430.25 L1161.36,428.47 L1161.99,426.67 L1162.63,424.86 L1163.27,423.04 L1163.92,421.20 L1164.58,419.35 L1165.24,417.49 L1165.91,415.61 L1166.58,413.72 L1167.27,411.82 L1167.95,409.90 L1168.64,407.97 L1169.34,406.02 L1170.05,404.06 L1170.76,402.08 L1171.48,400.09 L1172.21,398.08 L1172.94,396.06 L1173.68,394.02 L1174.43,391.96 L1175.19,389.89 L1175.95,387.80 L1176.72,385.69 L1177.50,383.57 L1178.28,381.42 L1179.08,379.26 L1179.88,377.09 L1180.69,374.89 L1181.51,372.67 L1182.34,370.44 L1183.18,368.19 L1184.02,365.91 L1184.88,363.62 L1185.74,361.30 L1186.62,358.97 L1187.50,356.61 L1188.39,354.23 L1189.30,351.83 L1190.21,349.41 L1191.14,346.96 L1192.07,344.49 L1193.02,341.99 L1193.98,339.48 L1194.95,336.93 L1195.93,334.36 L1196.92,331.77 L1197.93,329.15 L1198.94,326.50 L1199.97,323.82 L1201.02,321.12 L1202.07,318.39 L1203.15,315.63 L1204.23,312.83 L1205.33,310.01 L1206.44,307.16 L1207.57,304.27 L1208.71,301.36 L1209.87,298.40 L1211.05,295.42 L1212.24,292.40 L1213.45,289.34 L1214.68,286.25 L1215.92,283.12 L1217.18,279.95 L1218.46,276.74 L1219.76,273.49 L1221.08,270.20 L1222.42,266.87 L1223.79,263.49 L1225.17,260.07 L1226.57,256.60 L1228.00,253.08 L1229.45,249.52 L1230.93,245.91 L1232.43,242.24 L1233.95,238.52 L1235.51,234.75 L1237.09,230.92 L1238.69,227.03 L1240.33,223.09 L1242.00,219.08 L1243.69,215.01 L1245.42,210.87 L1247.19,206.67 L1248.98,202.39 L1250.82,198.05 L1252.69,193.63 L1254.59,189.13 L1256.54,184.55 L1258.53,179.89 L1260.56,175.15 L1262.64,170.31 L1264.76,165.39 L1266.93,160.36 L1269.15,155.24 L1271.42,150.01 L1273.75,144.68 L1276.14,139.23 L1278.58,133.66 L1281.09,127.97 L1283.66,122.15 L1286.30,116.20 L1289.01,110.11 L1291.80,103.87 L1294.67,97.47 L1297.62,90.91 L1300.67,84.18 L1303.80,77.27 L1307.04,70.17 L1310.38,62.87 L1313.83,55.35 L1317.40,47.61 L1321.09,39.63 L1324.92,31.40 M1131.13,642.31 L1131.34,641.53 L1131.54,640.75 L1131.75,639.96 L1131.96,639.17 L1132.17,638.38 L1132.38,637.58 L1132.59,636.79 L1132.80,635.99 L1133.01,635.19 L1133.22,634.38 L1133.44,633.58 L1133.65,632.77 L1133.87,631.95 L1134.08,631.14 L1134.30,630.32 L1134.52,629.50 L1134.74,628.68 L1134.96,627.86 L1135.18,627.03 L1135.41,626.20 L1135.63,625.37 L1135.85,624.53 L1136.08,623.69 L1136.31,622.85 L1136.53,622.01 L1136.76,621.16 L1136.99,620.31 L1137.22,619.46 L1137.46,618.60 L1137.69,617.75 L1137.92,616.88 L1138.16,616.02 L1138.39,615.15 L1138.63,614.28 L1138.87,613.41 L1139.11,612.54 L1139.35,611.66 L1139.59,610.78 L1139.83,609.89 L1140.08,609.01 L1140.32,608.12 L1140.57,607.22 L1140.82,606.32 L1141.06,605.42 L1141.31,604.52 L1141.57,603.62 L1141.82,602.71 L1142.07,601.79 L1142.33,600.88 L1142.58,599.96 L1142.84,599.04 L1143.10,598.11 L1143.36,597.18 L1143.62,596.25 L1143.88,595.31 L1144.14,594.37 L1144.41,593.43 L1144.68,592.49 L1144.94,591.54 L1145.21,590.58 L1145.48,589.63 L1145.75,588.67 L1146.03,587.70 L1146.30,586.74 L1146.58,585.76 L1146.85,584.79 L1147.13,583.81 L1147.41,582.83 L1147.69,581.84 L1147.98,580.85 L1148.26,579.86 L1148.55,578.86 L1148.83,577.86 L1149.12,576.86 L1149.41,575.85 L1149.71,574.83 L1150.00,573.82 L1150.29,572.80 L1150.59,571.77 L1150.89,570.74 L1151.19,569.71 L1151.49,568.67 L1151.79,567.63 L1152.10,566.58 L1152.40,565.53 L1152.71,564.48 L1153.02,563.42 L1153.33,562.36 L1153.65,561.29 L1153.96,560.22 L1154.28,559.14 L1154.60,558.06 L1154.92,556.97 L1155.24,555.88 L1155.56,554.79 L1155.89,553.69 L1156.22,552.58 L1156.55,551.47 L1156.88,550.36 L1157.21,549.24 L1157.54,548.12 L1157.88,546.99 L1158.22,545.86 L1158.56,544.72 L1158.90,543.58 L1159.25,542.43 L1159.60,541.27 L1159.95,540.11 L1160.30,538.95 L1160.65,537.78 L1161.01,536.61 L1161.36,535.43 L1161.72,534.24 L1162.08,533.05 L1162.45,531.85 L1162.82,530.65 L1163.18,529.44 L1163.55,528.23 L1163.93,527.01 L1164.30,525.78 L1164.68,524.55 L1165.06,523.32 L1165.44,522.07 L1165.83,520.83 L1166.22,519.57 L1166.61,518.31 L1167.00,517.04 L1167.39,515.77 L1167.79,514.49 L1168.19,513.20 L1168.59,511.91 L1169.00,510.61 L1169.41,509.30 L1169.82,507.99 L1170.23,506.67 L1170.65,505.35 L1171.07,504.01 L1171.49,502.67 L1171.91,501.33 L1172.34,499.97 L1172.77,498.61 L1173.21,497.25 L1173.64,495.87 L1174.08,494.49 L1174.52,493.10 L1174.97,491.70 L1175.42,490.29 L1175.87,488.88 L1176.33,487.46 L1176.78,486.03 L1177.25,484.59 L1177.71,483.15 L1178.18,481.70 L1178.65,480.23 L1179.13,478.76 L1179.61,477.29 L1180.09,475.80 L1180.57,474.30 L1181.06,472.80 L1181.56,471.29 L1182.05,469.77 L1182.55,468.23 L1183.06,466.69 L1183.57,465.15 L1184.08,463.59 L1184.60,462.02 L1185.12,460.44 L1185.64,458.85 L1186.17,457.26 L1186.70,455.65 L1187.24,454.03 L1187.78,452.40 L1188.32,450.77 L1188.88,449.12 L1189.43,447.46 L1189.99,445.79 L1190.55,444.11 L1191.12,442.42 L1191.69,440.71 L1192.27,439.00 L1192.85,437.28 L1193.44,435.54 L1194.04,433.79 L1194.63,432.03 L1195.24,430.25 L1195.85,428.47 L1196.46,426.67 L1197.08,424.86 L1197.70,423.04 L1198.33,421.20 L1198.97,419.35 L1199.61,417.49 L1200.26,415.61 L1200.91,413.72 L1201.57,411.82 L1202.24,409.90 L1202.91,407.97 L1203.59,406.02 L1204.27,404.06 L1204.96,402.08 L1205.66,400.09 L1206.37,398.08 L1207.08,396.06 L1207.80,394.02 L1208.52,391.96 L1209.25,389.89 L1209.99,387.80 L1210.74,385.69 L1211.50,383.57 L1212.26,381.42 L1213.03,379.26 L1213.81,377.09 L1214.60,374.89 L1215.39,372.67 L1216.20,370.44 L1217.01,368.19 L1217.83,365.91 L1218.66,363.62 L1219.50,361.30 L1220.35,358.97 L1221.21,356.61 L1222.08,354.23 L1222.96,351.83 L1223.85,349.41 L1224.75,346.96 L1225.66,344.49 L1226.58,341.99 L1227.51,339.48 L1228.45,336.93 L1229.41,334.36 L1230.37,331.77 L1231.35,329.15 L1232.34,326.50 L1233.34,323.82 L1234.36,321.12 L1235.39,318.39 L1236.43,315.63 L1237.48,312.83 L1238.55,310.01 L1239.64,307.16 L1240.74,304.27 L1241.85,301.36 L1242.98,298.40 L1244.12,295.42 L1245.29,292.40 L1246.46,289.34 L1247.66,286.25 L1248.87,283.12 L1250.10,279.95 L1251.35,276.74 L1252.62,273.49 L1253.90,270.20 L1255.21,266.87 L1256.54,263.49 L1257.89,260.07 L1259.26,256.60 L1260.65,253.08 L1262.06,249.52 L1263.50,245.91 L1264.97,242.24 L1266.46,238.52 L1267.97,234.75 L1269.51,230.92 L1271.08,227.03 L1272.68,223.09 L1274.31,219.08 L1275.96,215.01 L1277.65,210.87 L1279.37,206.67 L1281.13,202.39 L1282.92,198.05 L1284.75,193.63 L1286.61,189.13 L1288.51,184.55 L1290.46,179.89 L1292.44,175.15 L1294.47,170.31 L1296.55,165.39 L1298.67,160.36 L1300.84,155.24 L1303.07,150.01 L1305.34,144.68 L1307.68,139.23 L1310.07,133.66 L1312.52,127.97 L1315.04,122.15 L1317.62,116.20 L1320.28,110.11 L1323.01,103.87 L1325.82,97.47 L1328.71,90.91 L1331.69,84.18 L1334.77,77.27 L1337.94,70.17 L1341.21,62.87 L1344.59,55.35 L1348.09,47.61 L1351.71,39.63 L1355.47,31.40 M1168.14,642.31 L1168.33,641.53 L1168.53,640.75 L1168.72,639.96 L1168.92,639.17 L1169.12,638.38 L1169.32,637.58 L1169.52,636.79 L1169.72,635.99 L1169.92,635.19 L1170.12,634.38 L1170.32,633.58 L1170.53,632.77 L1170.73,631.95 L1170.94,631.14 L1171.14,630.32 L1171.35,629.50 L1171.56,628.68 L1171.77,627.86 L1171.98,627.03 L1172.19,626.20 L1172.40,625.37 L1172.62,624.53 L1172.83,623.69 L1173.05,622.85 L1173.26,622.01 L1173.48,621.16 L1173.70,620.31 L1173.92,619.46 L1174.14,618.60 L1174.36,617.75 L1174.58,616.88 L1174.81,616.02 L1175.03,615.15 L1175.26,614.28 L1175.48,613.41 L1175.71,612.54 L1175.94,611.66 L1176.17,610.78 L1176.40,609.89 L1176.63,609.01 L1176.87,608.12 L1177.10,607.22 L1177.34,606.32 L1177.57,605.42 L1177.81,604.52 L1178.05,603.62 L1178.29,602.71 L1178.53,601.79 L1178.77,600.88 L1179.02,599.96 L1179.26,599.04 L1179.51,598.11 L1179.76,597.18 L1180.00,596.25 L1180.25,595.31 L1180.51,594.37 L1180.76,593.43 L1181.01,592.49 L1181.27,591.54 L1181.52,590.58 L1181.78,589.63 L1182.04,588.67 L1182.30,587.70 L1182.56,586.74 L1182.83,585.76 L1183.09,584.79 L1183.36,583.81 L1183.62,582.83 L1183.89,581.84 L1184.16,580.85 L1184.43,579.86 L1184.71,578.86 L1184.98,577.86 L1185.26,576.86 L1185.53,575.85 L1185.81,574.83 L1186.09,573.82 L1186.37,572.80 L1186.66,571.77 L1186.94,570.74 L1187.23,569.71 L1187.52,568.67 L1187.80,567.63 L1188.10,566.58 L1188.39,565.53 L1188.68,564.48 L1188.98,563.42 L1189.28,562.36 L1189.58,561.29 L1189.88,560.22 L1190.18,559.14 L1190.48,558.06 L1190.79,556.97 L1191.10,555.88 L1191.41,554.79 L1191.72,553.69 L1192.03,552.58 L1192.35,551.47 L1192.66,550.36 L1192.98,549.24 L1193.30,548.12 L1193.63,546.99 L1193.95,545.86 L1194.28,544.72 L1194.61,543.58 L1194.94,542.43 L1195.27,541.27 L1195.60,540.11 L1195.94,538.95 L1196.28,537.78 L1196.62,536.61 L1196.96,535.43 L1197.30,534.24 L1197.65,533.05 L1198.00,531.85 L1198.35,530.65 L1198.70,529.44 L1199.06,528.23 L1199.42,527.01 L1199.78,525.78 L1200.14,524.55 L1200.50,523.32 L1200.87,522.07 L1201.24,520.83 L1201.61,519.57 L1201.99,518.31 L1202.36,517.04 L1202.74,515.77 L1203.12,514.49 L1203.51,513.20 L1203.89,511.91 L1204.28,510.61 L1204.67,509.30 L1205.07,507.99 L1205.46,506.67 L1205.86,505.35 L1206.27,504.01 L1206.67,502.67 L1207.08,501.33 L1207.49,499.97 L1207.90,498.61 L1208.32,497.25 L1208.74,495.87 L1209.16,494.49 L1209.59,493.10 L1210.01,491.70 L1210.45,490.29 L1210.88,488.88 L1211.32,487.46 L1211.76,486.03 L1212.20,484.59 L1212.65,483.15 L1213.10,481.70 L1213.55,480.23 L1214.01,478.76 L1214.47,477.29 L1214.94,475.80 L1215.40,474.30 L1215.87,472.80 L1216.35,471.29 L1216.83,469.77 L1217.31,468.23 L1217.79,466.69 L1218.28,465.15 L1218.78,463.59 L1219.27,462.02 L1219.78,460.44 L1220.28,458.85 L1220.79,457.26 L1221.30,455.65 L1221.82,454.03 L1222.34,452.40 L1222.87,450.77 L1223.40,449.12 L1223.93,447.46 L1224.47,445.79 L1225.01,444.11 L1225.56,442.42 L1226.11,440.71 L1226.67,439.00 L1227.23,437.28 L1227.80,435.54 L1228.37,433.79 L1228.95,432.03 L1229.53,430.25 L1230.12,428.47 L1230.71,426.67 L1231.31,424.86 L1231.91,423.04 L1232.52,421.20 L1233.13,419.35 L1233.75,417.49 L1234.38,415.61 L1235.01,413.72 L1235.65,411.82 L1236.29,409.90 L1236.94,407.97 L1237.59,406.02 L1238.25,404.06 L1238.92,402.08 L1239.60,400.09 L1240.28,398.08 L1240.96,396.06 L1241.66,394.02 L1242.36,391.96 L1243.07,389.89 L1243.79,387.80 L1244.51,385.69 L1245.24,383.57 L1245.98,381.42 L1246.72,379.26 L1247.48,377.09 L1248.24,374.89 L1249.01,372.67 L1249.79,370.44 L1250.57,368.19 L1251.37,365.91 L1252.17,363.62 L1252.99,361.30 L1253.81,358.97 L1254.64,356.61 L1255.48,354.23 L1256.33,351.83 L1257.19,349.41 L1258.07,346.96 L1258.95,344.49 L1259.84,341.99 L1260.74,339.48 L1261.66,336.93 L1262.58,334.36 L1263.52,331.77 L1264.46,329.15 L1265.42,326.50 L1266.40,323.82 L1267.38,321.12 L1268.38,318.39 L1269.39,315.63 L1270.41,312.83 L1271.45,310.01 L1272.50,307.16 L1273.57,304.27 L1274.65,301.36 L1275.75,298.40 L1276.86,295.42 L1277.99,292.40 L1279.13,289.34 L1280.29,286.25 L1281.47,283.12 L1282.66,279.95 L1283.88,276.74 L1285.11,273.49 L1286.36,270.20 L1287.63,266.87 L1288.92,263.49 L1290.23,260.07 L1291.56,256.60 L1292.92,253.08 L1294.29,249.52 L1295.69,245.91 L1297.12,242.24 L1298.57,238.52 L1300.04,234.75 L1301.54,230.92 L1303.07,227.03 L1304.62,223.09 L1306.21,219.08 L1307.82,215.01 L1309.47,210.87 L1311.14,206.67 L1312.85,202.39 L1314.60,198.05 L1316.38,193.63 L1318.20,189.13 L1320.05,184.55 L1321.95,179.89 L1323.88,175.15 L1325.86,170.31 L1327.89,165.39 L1329.96,160.36 L1332.07,155.24 L1334.24,150.01 L1336.47,144.68 L1338.74,139.23 L1341.08,133.66 L1343.47,127.97 L1345.93,122.15 L1348.46,116.20 L1351.05,110.11 L1353.72,103.87 L1356.47,97.47 L1359.29,90.91 L1362.21,84.18 L1365.21,77.27 L1368.31,70.17 L1371.51,62.87 L1374.82,55.35 L1378.24,47.61 L1381.79,39.63 L1385.47,31.40 M1205.15,642.31 L1205.34,641.53 L1205.52,640.75 L1205.70,639.96 L1205.89,639.17 L1206.08,638.38 L1206.26,637.58 L1206.45,636.79 L1206.64,635.99 L1206.83,635.19 L1207.02,634.38 L1207.21,633.58 L1207.40,632.77 L1207.60,631.95 L1207.79,631.14 L1207.99,630.32 L1208.18,629.50 L1208.38,628.68 L1208.58,627.86 L1208.77,627.03 L1208.97,626.20 L1209.17,625.37 L1209.38,624.53 L1209.58,623.69 L1209.78,622.85 L1209.99,622.01 L1210.19,621.16 L1210.40,620.31 L1210.60,619.46 L1210.81,618.60 L1211.02,617.75 L1211.23,616.88 L1211.44,616.02 L1211.65,615.15 L1211.87,614.28 L1212.08,613.41 L1212.30,612.54 L1212.51,611.66 L1212.73,610.78 L1212.95,609.89 L1213.17,609.01 L1213.39,608.12 L1213.61,607.22 L1213.83,606.32 L1214.06,605.42 L1214.28,604.52 L1214.51,603.62 L1214.74,602.71 L1214.96,601.79 L1215.19,600.88 L1215.42,599.96 L1215.66,599.04 L1215.89,598.11 L1216.12,597.18 L1216.36,596.25 L1216.59,595.31 L1216.83,594.37 L1217.07,593.43 L1217.31,592.49 L1217.55,591.54 L1217.80,590.58 L1218.04,589.63 L1218.29,588.67 L1218.53,587.70 L1218.78,586.74 L1219.03,585.76 L1219.28,584.79 L1219.53,583.81 L1219.79,582.83 L1220.04,581.84 L1220.30,580.85 L1220.55,579.86 L1220.81,578.86 L1221.07,577.86 L1221.33,576.86 L1221.60,575.85 L1221.86,574.83 L1222.13,573.82 L1222.40,572.80 L1222.66,571.77 L1222.94,570.74 L1223.21,569.71 L1223.48,568.67 L1223.76,567.63 L1224.03,566.58 L1224.31,565.53 L1224.59,564.48 L1224.87,563.42 L1225.15,562.36 L1225.44,561.29 L1225.72,560.22 L1226.01,559.14 L1226.30,558.06 L1226.59,556.97 L1226.89,555.88 L1227.18,554.79 L1227.48,553.69 L1227.77,552.58 L1228.07,551.47 L1228.38,550.36 L1228.68,549.24 L1228.98,548.12 L1229.29,546.99 L1229.60,545.86 L1229.91,544.72 L1230.22,543.58 L1230.54,542.43 L1230.85,541.27 L1231.17,540.11 L1231.49,538.95 L1231.82,537.78 L1232.14,536.61 L1232.47,535.43 L1232.79,534.24 L1233.12,533.05 L1233.46,531.85 L1233.79,530.65 L1234.13,529.44 L1234.47,528.23 L1234.81,527.01 L1235.15,525.78 L1235.50,524.55 L1235.85,523.32 L1236.20,522.07 L1236.55,520.83 L1236.90,519.57 L1237.26,518.31 L1237.62,517.04 L1237.98,515.77 L1238.34,514.49 L1238.71,513.20 L1239.08,511.91 L1239.45,510.61 L1239.83,509.30 L1240.20,507.99 L1240.58,506.67 L1240.96,505.35 L1241.35,504.01 L1241.73,502.67 L1242.12,501.33 L1242.52,499.97 L1242.91,498.61 L1243.31,497.25 L1243.71,495.87 L1244.12,494.49 L1244.52,493.10 L1244.93,491.70 L1245.34,490.29 L1245.76,488.88 L1246.18,487.46 L1246.60,486.03 L1247.02,484.59 L1247.45,483.15 L1247.88,481.70 L1248.32,480.23 L1248.76,478.76 L1249.20,477.29 L1249.64,475.80 L1250.09,474.30 L1250.54,472.80 L1251.00,471.29 L1251.45,469.77 L1251.92,468.23 L1252.38,466.69 L1252.85,465.15 L1253.32,463.59 L1253.80,462.02 L1254.28,460.44 L1254.76,458.85 L1255.25,457.26 L1255.74,455.65 L1256.24,454.03 L1256.74,452.40 L1257.25,450.77 L1257.75,449.12 L1258.27,447.46 L1258.78,445.79 L1259.31,444.11 L1259.83,442.42 L1260.36,440.71 L1260.90,439.00 L1261.44,437.28 L1261.98,435.54 L1262.53,433.79 L1263.09,432.03 L1263.64,430.25 L1264.21,428.47 L1264.78,426.67 L1265.35,424.86 L1265.93,423.04 L1266.52,421.20 L1267.11,419.35 L1267.70,417.49 L1268.30,415.61 L1268.91,413.72 L1269.52,411.82 L1270.14,409.90 L1270.77,407.97 L1271.40,406.02 L1272.03,404.06 L1272.68,402.08 L1273.33,400.09 L1273.98,398.08 L1274.64,396.06 L1275.31,394.02 L1275.99,391.96 L1276.67,389.89 L1277.36,387.80 L1278.06,385.69 L1278.76,383.57 L1279.47,381.42 L1280.19,379.26 L1280.92,377.09 L1281.65,374.89 L1282.40,372.67 L1283.15,370.44 L1283.90,368.19 L1284.67,365.91 L1285.45,363.62 L1286.23,361.30 L1287.03,358.97 L1287.83,356.61 L1288.64,354.23 L1289.46,351.83 L1290.29,349.41 L1291.14,346.96 L1291.99,344.49 L1292.85,341.99 L1293.72,339.48 L1294.60,336.93 L1295.50,334.36 L1296.40,331.77 L1297.32,329.15 L1298.25,326.50 L1299.19,323.82 L1300.14,321.12 L1301.10,318.39 L1302.08,315.63 L1303.07,312.83 L1304.07,310.01 L1305.09,307.16 L1306.12,304.27 L1307.17,301.36 L1308.23,298.40 L1309.31,295.42 L1310.40,292.40 L1311.51,289.34 L1312.63,286.25 L1313.77,283.12 L1314.93,279.95 L1316.10,276.74 L1317.30,273.49 L1318.51,270.20 L1319.74,266.87 L1320.99,263.49 L1322.26,260.07 L1323.56,256.60 L1324.87,253.08 L1326.21,249.52 L1327.56,245.91 L1328.95,242.24 L1330.35,238.52 L1331.78,234.75 L1333.24,230.92 L1334.72,227.03 L1336.23,223.09 L1337.77,219.08 L1339.34,215.01 L1340.94,210.87 L1342.57,206.67 L1344.23,202.39 L1345.92,198.05 L1347.65,193.63 L1349.42,189.13 L1351.23,184.55 L1353.07,179.89 L1354.95,175.15 L1356.88,170.31 L1358.85,165.39 L1360.86,160.36 L1362.92,155.24 L1365.04,150.01 L1367.20,144.68 L1369.42,139.23 L1371.69,133.66 L1374.03,127.97 L1376.42,122.15 L1378.89,116.20 L1381.42,110.11 L1384.02,103.87 L1386.69,97.47 L1389.45,90.91 L1392.29,84.18 L1395.22,77.27 L1398.25,70.17 L1401.37,62.87 L1404.61,55.35 L1407.95,47.61 L1411.41,39.63 L1415.01,31.40 M1242.18,642.31 L1242.35,641.53 L1242.52,640.75 L1242.70,639.96 L1242.87,639.17 L1243.04,638.38 L1243.22,637.58 L1243.39,636.79 L1243.57,635.99 L1243.75,635.19 L1243.92,634.38 L1244.10,633.58 L1244.28,632.77 L1244.46,631.95 L1244.65,631.14 L1244.83,630.32 L1245.01,629.50 L1245.20,628.68 L1245.38,627.86 L1245.57,627.03 L1245.75,626.20 L1245.94,625.37 L1246.13,624.53 L1246.32,623.69 L1246.51,622.85 L1246.70,622.01 L1246.89,621.16 L1247.09,620.31 L1247.28,619.46 L1247.47,618.60 L1247.67,617.75 L1247.87,616.88 L1248.07,616.02 L1248.26,615.15 L1248.46,614.28 L1248.67,613.41 L1248.87,612.54 L1249.07,611.66 L1249.27,610.78 L1249.48,609.89 L1249.69,609.01 L1249.89,608.12 L1250.10,607.22 L1250.31,606.32 L1250.52,605.42 L1250.73,604.52 L1250.94,603.62 L1251.16,602.71 L1251.37,601.79 L1251.59,600.88 L1251.80,599.96 L1252.02,599.04 L1252.24,598.11 L1252.46,597.18 L1252.68,596.25 L1252.91,595.31 L1253.13,594.37 L1253.35,593.43 L1253.58,592.49 L1253.81,591.54 L1254.04,590.58 L1254.27,589.63 L1254.50,588.67 L1254.73,587.70 L1254.96,586.74 L1255.20,585.76 L1255.43,584.79 L1255.67,583.81 L1255.91,582.83 L1256.15,581.84 L1256.39,580.85 L1256.63,579.86 L1256.88,578.86 L1257.12,577.86 L1257.37,576.86 L1257.62,575.85 L1257.87,574.83 L1258.12,573.82 L1258.37,572.80 L1258.63,571.77 L1258.88,570.74 L1259.14,569.71 L1259.40,568.67 L1259.65,567.63 L1259.92,566.58 L1260.18,565.53 L1260.44,564.48 L1260.71,563.42 L1260.98,562.36 L1261.24,561.29 L1261.51,560.22 L1261.79,559.14 L1262.06,558.06 L1262.34,556.97 L1262.61,555.88 L1262.89,554.79 L1263.17,553.69 L1263.45,552.58 L1263.74,551.47 L1264.02,550.36 L1264.31,549.24 L1264.60,548.12 L1264.89,546.99 L1265.18,545.86 L1265.47,544.72 L1265.77,543.58 L1266.07,542.43 L1266.37,541.27 L1266.67,540.11 L1266.97,538.95 L1267.28,537.78 L1267.59,536.61 L1267.89,535.43 L1268.21,534.24 L1268.52,533.05 L1268.83,531.85 L1269.15,530.65 L1269.47,529.44 L1269.79,528.23 L1270.12,527.01 L1270.44,525.78 L1270.77,524.55 L1271.10,523.32 L1271.43,522.07 L1271.77,520.83 L1272.10,519.57 L1272.44,518.31 L1272.78,517.04 L1273.13,515.77 L1273.47,514.49 L1273.82,513.20 L1274.17,511.91 L1274.52,510.61 L1274.88,509.30 L1275.24,507.99 L1275.60,506.67 L1275.96,505.35 L1276.33,504.01 L1276.69,502.67 L1277.07,501.33 L1277.44,499.97 L1277.82,498.61 L1278.19,497.25 L1278.58,495.87 L1278.96,494.49 L1279.35,493.10 L1279.74,491.70 L1280.13,490.29 L1280.53,488.88 L1280.92,487.46 L1281.33,486.03 L1281.73,484.59 L1282.14,483.15 L1282.55,481.70 L1282.96,480.23 L1283.38,478.76 L1283.80,477.29 L1284.22,475.80 L1284.65,474.30 L1285.08,472.80 L1285.52,471.29 L1285.95,469.77 L1286.39,468.23 L1286.84,466.69 L1287.29,465.15 L1287.74,463.59 L1288.19,462.02 L1288.65,460.44 L1289.11,458.85 L1289.58,457.26 L1290.05,455.65 L1290.52,454.03 L1291.00,452.40 L1291.48,450.77 L1291.97,449.12 L1292.46,447.46 L1292.95,445.79 L1293.45,444.11 L1293.95,442.42 L1294.46,440.71 L1294.97,439.00 L1295.49,437.28 L1296.01,435.54 L1296.54,433.79 L1297.07,432.03 L1297.60,430.25 L1298.14,428.47 L1298.69,426.67 L1299.24,424.86 L1299.79,423.04 L1300.35,421.20 L1300.92,419.35 L1301.49,417.49 L1302.06,415.61 L1302.65,413.72 L1303.23,411.82 L1303.83,409.90 L1304.42,407.97 L1305.03,406.02 L1305.64,404.06 L1306.26,402.08 L1306.88,400.09 L1307.51,398.08 L1308.14,396.06 L1308.78,394.02 L1309.43,391.96 L1310.09,389.89 L1310.75,387.80 L1311.42,385.69 L1312.10,383.57 L1312.78,381.42 L1313.47,379.26 L1314.17,377.09 L1314.87,374.89 L1315.59,372.67 L1316.31,370.44 L1317.04,368.19 L1317.78,365.91 L1318.52,363.62 L1319.28,361.30 L1320.04,358.97 L1320.81,356.61 L1321.59,354.23 L1322.38,351.83 L1323.18,349.41 L1323.99,346.96 L1324.81,344.49 L1325.64,341.99 L1326.48,339.48 L1327.33,336.93 L1328.19,334.36 L1329.06,331.77 L1329.95,329.15 L1330.84,326.50 L1331.75,323.82 L1332.67,321.12 L1333.60,318.39 L1334.54,315.63 L1335.49,312.83 L1336.46,310.01 L1337.44,307.16 L1338.44,304.27 L1339.45,301.36 L1340.47,298.40 L1341.51,295.42 L1342.57,292.40 L1343.64,289.34 L1344.72,286.25 L1345.82,283.12 L1346.94,279.95 L1348.08,276.74 L1349.23,273.49 L1350.40,270.20 L1351.59,266.87 L1352.80,263.49 L1354.03,260.07 L1355.28,256.60 L1356.55,253.08 L1357.85,249.52 L1359.16,245.91 L1360.50,242.24 L1361.86,238.52 L1363.24,234.75 L1364.65,230.92 L1366.09,227.03 L1367.55,223.09 L1369.05,219.08 L1370.56,215.01 L1372.11,210.87 L1373.69,206.67 L1375.30,202.39 L1376.95,198.05 L1378.63,193.63 L1380.34,189.13 L1382.09,184.55 L1383.88,179.89 L1385.71,175.15 L1387.58,170.31 L1389.49,165.39 L1391.45,160.36 L1393.45,155.24 L1395.50,150.01 L1397.61,144.68 L1399.76,139.23 L1401.97,133.66 L1404.24,127.97 L1406.57,122.15 L1408.97,116.20 L1411.43,110.11 L1413.96,103.87 L1416.57,97.47 L1419.25,90.91 L1422.02,84.18 L1424.88,77.27 L1427.82,70.17 L1430.87,62.87 L1434.02,55.35 L1437.28,47.61 L1440.66,39.63 L1444.16,31.40 M1279.22,642.31 L1279.38,641.53 L1279.53,640.75 L1279.69,639.96 L1279.85,639.17 L1280.02,638.38 L1280.18,637.58 L1280.34,636.79 L1280.50,635.99 L1280.67,635.19 L1280.83,634.38 L1281.00,633.58 L1281.17,632.77 L1281.33,631.95 L1281.50,631.14 L1281.67,630.32 L1281.84,629.50 L1282.01,628.68 L1282.18,627.86 L1282.36,627.03 L1282.53,626.20 L1282.70,625.37 L1282.88,624.53 L1283.05,623.69 L1283.23,622.85 L1283.41,622.01 L1283.59,621.16 L1283.77,620.31 L1283.95,619.46 L1284.13,618.60 L1284.31,617.75 L1284.49,616.88 L1284.68,616.02 L1284.86,615.15 L1285.05,614.28 L1285.24,613.41 L1285.43,612.54 L1285.61,611.66 L1285.80,610.78 L1286.00,609.89 L1286.19,609.01 L1286.38,608.12 L1286.57,607.22 L1286.77,606.32 L1286.97,605.42 L1287.16,604.52 L1287.36,603.62 L1287.56,602.71 L1287.76,601.79 L1287.96,600.88 L1288.16,599.96 L1288.37,599.04 L1288.57,598.11 L1288.78,597.18 L1288.98,596.25 L1289.19,595.31 L1289.40,594.37 L1289.61,593.43 L1289.82,592.49 L1290.03,591.54 L1290.25,590.58 L1290.46,589.63 L1290.68,588.67 L1290.90,587.70 L1291.11,586.74 L1291.33,585.76 L1291.55,584.79 L1291.78,583.81 L1292.00,582.83 L1292.22,581.84 L1292.45,580.85 L1292.68,579.86 L1292.91,578.86 L1293.14,577.86 L1293.37,576.86 L1293.60,575.85 L1293.83,574.83 L1294.07,573.82 L1294.31,572.80 L1294.54,571.77 L1294.78,570.74 L1295.02,569.71 L1295.26,568.67 L1295.51,567.63 L1295.75,566.58 L1296.00,565.53 L1296.25,564.48 L1296.50,563.42 L1296.75,562.36 L1297.00,561.29 L1297.25,560.22 L1297.51,559.14 L1297.77,558.06 L1298.02,556.97 L1298.29,555.88 L1298.55,554.79 L1298.81,553.69 L1299.08,552.58 L1299.34,551.47 L1299.61,550.36 L1299.88,549.24 L1300.15,548.12 L1300.42,546.99 L1300.70,545.86 L1300.98,544.72 L1301.26,543.58 L1301.54,542.43 L1301.82,541.27 L1302.10,540.11 L1302.39,538.95 L1302.68,537.78 L1302.96,536.61 L1303.26,535.43 L1303.55,534.24 L1303.84,533.05 L1304.14,531.85 L1304.44,530.65 L1304.74,529.44 L1305.05,528.23 L1305.35,527.01 L1305.66,525.78 L1305.97,524.55 L1306.28,523.32 L1306.59,522.07 L1306.91,520.83 L1307.23,519.57 L1307.55,518.31 L1307.87,517.04 L1308.19,515.77 L1308.52,514.49 L1308.85,513.20 L1309.18,511.91 L1309.51,510.61 L1309.85,509.30 L1310.19,507.99 L1310.53,506.67 L1310.87,505.35 L1311.22,504.01 L1311.57,502.67 L1311.92,501.33 L1312.27,499.97 L1312.63,498.61 L1312.98,497.25 L1313.35,495.87 L1313.71,494.49 L1314.08,493.10 L1314.45,491.70 L1314.82,490.29 L1315.19,488.88 L1315.57,487.46 L1315.95,486.03 L1316.34,484.59 L1316.72,483.15 L1317.11,481.70 L1317.50,480.23 L1317.90,478.76 L1318.30,477.29 L1318.70,475.80 L1319.11,474.30 L1319.51,472.80 L1319.93,471.29 L1320.34,469.77 L1320.76,468.23 L1321.18,466.69 L1321.61,465.15 L1322.04,463.59 L1322.47,462.02 L1322.90,460.44 L1323.34,458.85 L1323.79,457.26 L1324.23,455.65 L1324.68,454.03 L1325.14,452.40 L1325.60,450.77 L1326.06,449.12 L1326.53,447.46 L1327.00,445.79 L1327.47,444.11 L1327.95,442.42 L1328.43,440.71 L1328.92,439.00 L1329.41,437.28 L1329.91,435.54 L1330.41,433.79 L1330.92,432.03 L1331.43,430.25 L1331.94,428.47 L1332.46,426.67 L1332.98,424.86 L1333.51,423.04 L1334.05,421.20 L1334.59,419.35 L1335.13,417.49 L1335.68,415.61 L1336.24,413.72 L1336.80,411.82 L1337.36,409.90 L1337.93,407.97 L1338.51,406.02 L1339.10,404.06 L1339.68,402.08 L1340.28,400.09 L1340.88,398.08 L1341.49,396.06 L1342.10,394.02 L1342.72,391.96 L1343.35,389.89 L1343.98,387.80 L1344.62,385.69 L1345.27,383.57 L1345.92,381.42 L1346.58,379.26 L1347.25,377.09 L1347.93,374.89 L1348.61,372.67 L1349.30,370.44 L1350.00,368.19 L1350.71,365.91 L1351.42,363.62 L1352.15,361.30 L1352.88,358.97 L1353.62,356.61 L1354.37,354.23 L1355.13,351.83 L1355.89,349.41 L1356.67,346.96 L1357.46,344.49 L1358.25,341.99 L1359.06,339.48 L1359.87,336.93 L1360.70,334.36 L1361.54,331.77 L1362.39,329.15 L1363.25,326.50 L1364.12,323.82 L1365.00,321.12 L1365.89,318.39 L1366.80,315.63 L1367.72,312.83 L1368.65,310.01 L1369.59,307.16 L1370.55,304.27 L1371.52,301.36 L1372.51,298.40 L1373.51,295.42 L1374.52,292.40 L1375.55,289.34 L1376.60,286.25 L1377.66,283.12 L1378.74,279.95 L1379.83,276.74 L1380.94,273.49 L1382.07,270.20 L1383.22,266.87 L1384.39,263.49 L1385.57,260.07 L1386.78,256.60 L1388.01,253.08 L1389.25,249.52 L1390.52,245.91 L1391.81,242.24 L1393.13,238.52 L1394.47,234.75 L1395.83,230.92 L1397.22,227.03 L1398.63,223.09 L1400.07,219.08 L1401.54,215.01 L1403.04,210.87 L1404.57,206.67 L1406.13,202.39 L1407.72,198.05 L1409.34,193.63 L1411.00,189.13 L1412.70,184.55 L1414.43,179.89 L1416.20,175.15 L1418.01,170.31 L1419.86,165.39 L1421.76,160.36 L1423.70,155.24 L1425.69,150.01 L1427.73,144.68 L1429.82,139.23 L1431.97,133.66 L1434.17,127.97 L1436.43,122.15 L1438.76,116.20 L1441.15,110.11 L1443.61,103.87 L1446.14,97.47 L1448.75,90.91 L1451.44,84.18 L1454.22,77.27 L1457.08,70.17 L1460.05,62.87 L1463.11,55.35 L1466.28,47.61 L1469.57,39.63 L1472.99,31.40" fill="none" stroke="#2ca02c" stroke-opacity="0.25" stroke-width="1.67" stroke-dasharray="6.17,2.67"/>
<path d="M432.60,36.00 L432.27,36.95 L431.80,37.89 L431.22,38.84 L430.58,39.78 L429.91,40.73 L429.25,41.67 L428.62,42.62 L428.01,43.56 L427.40,44.51 L426.78,45.46 L426.12,46.40 L425.41,47.35 L424.64,48.29 L423.84,49.24 L423.00,50.18 L422.15,51.13 L421.30,52.07 L420.42,53.02 L419.50,53.97 L418.51,54.91 L417.43,55.86 L416.25,56.80 L415.01,57.75 L413.74,58.69 L412.48,59.64 L411.27,60.58 L410.08,61.53 L408.91,62.48 L407.71,63.42 L406.48,64.37 L405.18,65.31 L403.85,66.26 L402.50,67.20 L401.17,68.15 L399.87,69.10 L398.63,70.04 L397.48,70.99 L396.44,71.93 L395.46,72.88 L394.41,73.82 L393.19,74.77 L391.83,75.71 L390.41,76.66 L389.01,77.61 L387.73,78.55 L386.58,79.50 L385.54,80.44 L384.58,81.39 L383.70,82.33 L382.88,83.28 L382.10,84.22 L381.35,85.17 L380.62,86.12 L379.90,87.06 L379.20,88.01 L378.52,88.95 L377.90,89.90 L377.33,90.84 L376.84,91.79 L376.42,92.73 L376.07,93.68 L375.78,94.63 L375.57,95.57 L375.41,96.52 L375.30,97.46 L375.23,98.41 L375.20,99.35 L375.20,100.30 L375.22,101.24 L375.28,102.19 L375.37,103.14 L375.52,104.08 L375.72,105.03 L375.98,105.97 L376.28,106.92 L376.60,107.86 L376.93,108.81 L377.26,109.75 L377.59,110.70 L377.91,111.65 L378.23,112.59 L378.55,113.54 L378.87,114.48 L379.20,115.43 L379.53,116.37 L379.87,117.32 L380.22,118.27 L380.58,119.21 L380.96,120.16 L381.34,121.10 L381.74,122.05 L382.14,122.99 L382.55,123.94 L382.96,124.88 L383.38,125.83 L383.79,126.78 L384.20,127.72 L384.60,128.67 L385.00,129.61 L385.39,130.56 L385.77,131.50 L386.13,132.45 L386.49,133.39 L386.83,134.34 L387.16,135.29 L387.48,136.23 L387.78,137.18 L388.06,138.12 L388.33,139.07 L388.59,140.01 L388.84,140.96 L389.09,141.90 L389.34,142.85 L389.58,143.80 L389.82,144.74 L390.07,145.69 L390.33,146.63 L390.59,147.58 L390.86,148.52 L391.14,149.47 L391.44,150.41 L391.75,151.36 L392.07,152.31 L392.41,153.25 L392.75,154.20 L393.11,155.14 L393.47,156.09 L393.84,157.03 L394.23,157.98 L394.62,158.92 L395.02,159.87 L395.42,160.82 L395.83,161.76 L396.25,162.71 L396.67,163.65 L397.10,164.60 L397.52,165.54 L397.95,166.49 L398.38,167.44 L398.82,168.38 L399.25,169.33 L399.68,170.27 L400.10,171.22 L400.53,172.16 L400.95,173.11 L401.36,174.05 L401.78,175.00 L402.19,175.95 L402.60,176.89 L403.00,177.84 L403.41,178.78 L403.82,179.73 L404.23,180.67 L404.65,181.62 L405.07,182.56 L405.49,183.51 L405.92,184.46 L406.36,185.40 L406.81,186.35 L407.26,187.29 L407.72,188.24 L408.18,189.18 L408.65,190.13 L409.13,191.07 L409.61,192.02 L410.09,192.97 L410.58,193.91 L411.07,194.86 L411.56,195.80 L412.05,196.75 L412.54,197.69 L413.02,198.64 L413.51,199.58 L413.99,200.53 L414.48,201.48 L414.96,202.42 L415.43,203.37 L415.91,204.31 L416.38,205.26 L416.86,206.20 L417.32,207.15 L417.79,208.09 L418.25,209.04 L418.71,209.99 L419.17,210.93 L419.62,211.88 L420.08,212.82 L420.52,213.77 L420.96,214.71 L421.40,215.66 L421.83,216.61 L422.25,217.55 L422.67,218.50 L423.08,219.44 L423.48,220.39 L423.88,221.33 L424.26,222.28 L424.64,223.22 L425.00,224.17 L425.36,225.12 L425.71,226.06 L426.05,227.01 L426.39,227.95 L426.73,228.90 L427.07,229.84 L427.41,230.79 L427.76,231.73 L428.12,232.68 L428.49,233.63 L428.87,234.57 L429.27,235.52 L429.69,236.46 L430.12,237.41 L430.58,238.35 L431.06,239.30 L431.56,240.24 L432.08,241.19 L432.62,242.14 L433.17,243.08 L433.74,244.03 L434.31,244.97 L434.89,245.92 L435.47,246.86 L436.06,247.81 L436.64,248.75 L437.22,249.70 L437.80,250.65 L438.38,251.59 L438.96,252.54 L439.54,253.48 L440.12,254.43 L440.71,255.37 L441.30,256.32 L441.89,257.26 L442.48,258.21 L443.08,259.16 L443.69,260.10 L444.30,261.05 L444.91,261.99 L445.53,262.94 L446.16,263.88 L446.78,264.83 L447.42,265.77 L448.05,266.72 L448.68,267.67 L449.32,268.61 L449.96,269.56 L450.59,270.50 L451.23,271.45 L451.86,272.39 L452.50,273.34 L453.13,274.29 L453.76,275.23 L454.39,276.18 L455.02,277.12 L455.66,278.07 L456.29,279.01 L456.92,279.96 L457.56,280.90 L458.19,281.85 L458.83,282.80 L459.47,283.74 L460.11,284.69 L460.75,285.63 L461.40,286.58 L462.05,287.52 L462.70,288.47 L463.35,289.41 L464.00,290.36 L464.65,291.31 L465.31,292.25 L465.97,293.20 L466.62,294.14 L467.28,295.09 L467.94,296.03 L468.60,296.98 L469.27,297.92 L469.93,298.87 L470.60,299.82 L471.28,300.76 L471.95,301.71 L472.64,302.65 L473.32,303.60 L474.02,304.54 L474.72,305.49 L475.43,306.43 L476.15,307.38 L476.87,308.33 L477.61,309.27 L478.35,310.22 L479.10,311.16 L479.86,312.11 L480.62,313.05 L481.38,314.00 L482.15,314.94 L482.92,315.89 L483.69,316.84 L484.46,317.78 L485.22,318.73 L485.99,319.67 L486.74,320.62 L487.50,321.56 L488.24,322.51 L488.98,323.46 L489.71,324.40 L490.43,325.35 L491.13,326.29 L491.82,327.24 L492.50,328.18 L493.15,329.13 L493.80,330.07 L494.42,331.02 L495.02,331.97 L495.59,332.91 L496.15,333.86 L496.69,334.80 L497.22,335.75 L497.73,336.69 L498.24,337.64 L498.74,338.58 L499.23,339.53 L499.73,340.48 L500.22,341.42 L500.72,342.37 L501.23,343.31 L501.74,344.26 L502.27,345.20 L502.81,346.15 L503.37,347.09 L503.93,348.04 L504.51,348.99 L505.10,349.93 L505.70,350.88 L506.30,351.82 L506.92,352.77 L507.54,353.71 L508.17,354.66 L508.80,355.60 L509.44,356.55 L510.08,357.50 L510.76,358.44 L511.49,359.39 L512.29,360.33 L513.16,361.28 L514.09,362.22 L515.06,363.17 L516.06,364.11 L517.06,365.06 L518.05,366.01 L519.03,366.95 L519.99,367.90 L520.94,368.84 L521.86,369.79 L522.76,370.73 L523.64,371.68 L524.49,372.63 L525.31,373.57 L526.11,374.52 L526.88,375.46 L527.62,376.41 L528.34,377.35 L529.03,378.30 L529.69,379.24 L530.33,380.19 L530.94,381.14 L531.53,382.08 L532.10,383.03 L532.66,383.97 L533.19,384.92 L533.71,385.86 L534.20,386.81 L534.68,387.75 L535.14,388.70 L535.59,389.65 L536.01,390.59 L536.42,391.54 L536.80,392.48 L537.17,393.43 L537.52,394.37 L537.86,395.32 L538.19,396.26 L538.51,397.21 L538.82,398.16 L539.13,399.10 L539.43,400.05 L539.73,400.99 L540.02,401.94 L540.29,402.88 L540.54,403.83 L540.77,404.77 L540.98,405.72 L541.17,406.67 L541.33,407.61 L541.47,408.56 L541.59,409.50 L541.71,410.45 L541.82,411.39 L541.93,412.34 L542.05,413.28 L542.17,414.23 L542.29,415.18 L542.42,416.12 L542.55,417.07 L542.68,418.01 L542.81,418.96 L542.95,419.90 L543.08,420.85 L543.21,421.79 L543.35,422.74 L543.49,423.69 L543.64,424.63 L543.80,425.58 L543.99,426.52 L544.19,427.47 L544.43,428.41 L544.68,429.36 L544.94,430.31 L545.20,431.25 L545.46,432.20 L545.70,433.14 L545.92,434.09 L546.10,435.03 L546.24,435.98 L546.35,436.92 L546.42,437.87 L546.46,438.82 L546.45,439.76 L546.41,440.71 L546.33,441.65 L546.21,442.60 L546.06,443.54 L545.89,444.49 L545.71,445.43 L545.53,446.38 L545.37,447.33 L545.24,448.27 L545.13,449.22 L545.05,450.16 L545.00,451.11 L544.98,452.05 L544.98,453.00 L545.01,453.94 L545.06,454.89 L545.14,455.84 L545.23,456.78 L545.34,457.73 L545.47,458.67 L545.60,459.62 L545.75,460.56 L545.91,461.51 L546.08,462.45 L546.27,463.40 L546.48,464.35 L546.72,465.29 L546.98,466.24 L547.26,467.18 L547.58,468.13 L547.91,469.07 L548.27,470.02 L548.64,470.96 L549.04,471.91 L549.46,472.86 L549.89,473.80 L550.34,474.75 L550.80,475.69 L551.28,476.64 L551.76,477.58 L552.25,478.53 L552.74,479.48 L553.23,480.42 L553.73,481.37 L554.22,482.31 L554.71,483.26 L555.18,484.20 L555.65,485.15 L556.10,486.09 L556.54,487.04 L556.97,487.99 L557.38,488.93 L557.79,489.88 L558.19,490.82 L558.59,491.77 L558.99,492.71 L559.40,493.66 L559.81,494.60 L560.22,495.55 L560.63,496.50 L561.02,497.44 L561.39,498.39 L561.74,499.33 L562.06,500.28 L562.37,501.22 L562.67,502.17 L562.97,503.11 L563.30,504.06 L563.66,505.01 L564.07,505.95 L564.52,506.90 L565.00,507.84 L565.50,508.79 L566.01,509.73 L566.53,510.68 L567.03,511.62 L567.52,512.57 L567.98,513.52 L568.39,514.46 L568.76,515.41 L569.06,516.35 L569.29,517.30 L569.43,518.24 L569.47,519.19 L569.41,520.13 L569.23,521.08 L568.93,522.03 L568.54,522.97 L568.12,523.92 L567.71,524.86 L567.36,525.81 L567.11,526.75 L566.96,527.70 L566.91,528.65 L566.96,529.59 L567.11,530.54 L567.36,531.48 L567.70,532.43 L568.10,533.37 L568.55,534.32 L569.03,535.26 L569.51,536.21 L569.99,537.16 L570.44,538.10 L570.85,539.05 L571.19,539.99 L571.46,540.94 L571.64,541.88 L571.78,542.83 L571.91,543.77 L572.07,544.72 L572.29,545.67 L572.60,546.61 L573.05,547.56 L573.59,548.50 L574.18,549.45 L574.80,550.39 L575.39,551.34 L575.92,552.28 L576.38,553.23 L576.76,554.18 L577.08,555.12 L577.34,556.07 L577.54,557.01 L577.67,557.96 L577.73,558.90 L577.71,559.85 L577.61,560.79 L577.46,561.74 L577.26,562.69 L577.06,563.63 L576.87,564.58 L576.70,565.52 L576.57,566.47 L576.47,567.41 L576.39,568.36 L576.33,569.30 L576.30,570.25 L576.29,571.20 L576.30,572.14 L576.33,573.09 L576.38,574.03 L576.46,574.98 L576.56,575.92 L576.68,576.87 L576.79,577.82 L576.88,578.76 L576.92,579.71 L576.89,580.65 L576.78,581.60 L576.62,582.54 L576.44,583.49 L576.26,584.43 L576.12,585.38 L576.05,586.33 L576.04,587.27 L576.09,588.22 L576.21,589.16 L576.37,590.11 L576.58,591.05 L576.83,592.00 L577.11,592.94 L577.40,593.89 L577.69,594.84 L577.97,595.78 L578.23,596.73 L578.46,597.67 L578.63,598.62 L578.74,599.56 L578.79,600.51 L578.74,601.45 L578.60,602.40" fill="none" stroke="#ff0000" stroke-width="2.5" stroke-linejoin="round" stroke-linecap="square"/>
<path d="M335.00,36.00 L333.78,36.95 L331.80,37.89 L329.44,38.84 L327.06,39.78 L325.03,40.73 L323.45,41.67 L322.25,42.62 L321.30,43.56 L320.50,44.51 L319.84,45.46 L319.31,46.40 L318.93,47.35 L318.71,48.29 L318.67,49.24 L318.82,50.18 L319.15,51.13 L319.67,52.07 L320.39,53.02 L321.28,53.97 L322.29,54.91 L323.38,55.86 L324.49,56.80 L325.62,57.75 L326.79,58.69 L328.01,59.64 L329.30,60.58 L330.66,61.53 L332.07,62.48 L333.47,63.42 L334.84,64.37 L336.15,65.31 L337.43,66.26 L338.75,67.20 L340.12,68.15 L341.60,69.10 L343.11,70.04 L344.58,70.99 L345.94,71.93 L347.15,72.88 L348.25,73.82 L349.33,74.77 L350.46,75.71 L351.59,76.66 L352.61,77.61 L353.47,78.55 L354.21,79.50 L354.90,80.44 L355.59,81.39 L356.31,82.33 L357.03,83.28 L357.75,84.22 L358.43,85.17 L359.05,86.12 L359.59,87.06 L360.03,88.01 L360.39,88.95 L360.67,89.90 L360.88,90.84 L361.04,91.79 L361.14,92.73 L361.20,93.68 L361.23,94.63 L361.23,95.57 L361.22,96.52 L361.19,97.46 L361.16,98.41 L361.13,99.35 L361.11,100.30 L361.10,101.24 L361.11,102.19 L361.13,103.14 L361.17,104.08 L361.23,105.03 L361.31,105.97 L361.40,106.92 L361.51,107.86 L361.64,108.81 L361.79,109.75 L361.95,110.70 L362.13,111.65 L362.32,112.59 L362.54,113.54 L362.76,114.48 L363.01,115.43 L363.26,116.37 L363.53,117.32 L363.82,118.27 L364.11,119.21 L364.41,120.16 L364.73,121.10 L365.05,122.05 L365.38,122.99 L365.72,123.94 L366.06,124.88 L366.41,125.83 L366.76,126.78 L367.11,127.72 L367.46,128.67 L367.80,129.61 L368.15,130.56 L368.49,131.50 L368.82,132.45 L369.15,133.39 L369.47,134.34 L369.77,135.29 L370.07,136.23 L370.35,137.18 L370.62,138.12 L370.87,139.07 L371.11,140.01 L371.33,140.96 L371.53,141.90 L371.72,142.85 L371.89,143.80 L372.04,144.74 L372.18,145.69 L372.30,146.63 L372.40,147.58 L372.49,148.52 L372.55,149.47 L372.60,150.41 L372.63,151.36 L372.65,152.31 L372.64,153.25 L372.63,154.20 L372.61,155.14 L372.58,156.09 L372.54,157.03 L372.49,157.98 L372.44,158.92 L372.39,159.87 L372.34,160.82 L372.30,161.76 L372.25,162.71 L372.22,163.65 L372.19,164.60 L372.16,165.54 L372.14,166.49 L372.13,167.44 L372.14,168.38 L372.15,169.33 L372.17,170.27 L372.20,171.22 L372.25,172.16 L372.31,173.11 L372.38,174.05 L372.47,175.00 L372.57,175.95 L372.69,176.89 L372.81,177.84 L372.95,178.78 L373.11,179.73 L373.27,180.67 L373.44,181.62 L373.63,182.56 L373.83,183.51 L374.03,184.46 L374.25,185.40 L374.48,186.35 L374.71,187.29 L374.96,188.24 L375.21,189.18 L375.48,190.13 L375.75,191.07 L376.02,192.02 L376.31,192.97 L376.60,193.91 L376.90,194.86 L377.20,195.80 L377.52,196.75 L377.83,197.69 L378.16,198.64 L378.48,199.58 L378.81,200.53 L379.14,201.48 L379.46,202.42 L379.79,203.37 L380.11,204.31 L380.42,205.26 L380.73,206.20 L381.04,207.15 L381.33,208.09 L381.61,209.04 L381.88,209.99 L382.14,210.93 L382.39,211.88 L382.63,212.82 L382.87,213.77 L383.11,214.71 L383.35,215.66 L383.60,216.61 L383.85,217.55 L384.12,218.50 L384.40,219.44 L384.70,220.39 L385.02,221.33 L385.36,222.28 L385.72,223.22 L386.12,224.17 L386.54,225.12 L386.98,226.06 L387.45,227.01 L387.92,227.95 L388.40,228.90 L388.89,229.84 L389.37,230.79 L389.86,231.73 L390.34,232.68 L390.83,233.63 L391.31,234.57 L391.78,235.52 L392.25,236.46 L392.72,237.41 L393.18,238.35 L393.63,239.30 L394.07,240.24 L394.49,241.19 L394.91,242.14 L395.30,243.08 L395.67,244.03 L396.02,244.97 L396.34,245.92 L396.64,246.86 L396.90,247.81 L397.13,248.75 L397.33,249.70 L397.49,250.65 L397.63,251.59 L397.73,252.54 L397.82,253.48 L397.87,254.43 L397.91,255.37 L397.92,256.32 L397.92,257.26 L397.90,258.21 L397.86,259.16 L397.81,260.10 L397.75,261.05 L397.68,261.99 L397.59,262.94 L397.50,263.88 L397.40,264.83 L397.28,265.77 L397.17,266.72 L397.04,267.67 L396.92,268.61 L396.79,269.56 L396.65,270.50 L396.51,271.45 L396.37,272.39 L396.22,273.34 L396.07,274.29 L395.92,275.23 L395.77,276.18 L395.61,277.12 L395.45,278.07 L395.29,279.01 L395.13,279.96 L394.96,280.90 L394.80,281.85 L394.63,282.80 L394.44,283.74 L394.25,284.69 L394.03,285.63 L393.79,286.58 L393.53,287.52 L393.24,288.47 L392.91,289.41 L392.54,290.36 L392.13,291.31 L391.67,292.25 L391.17,293.20 L390.63,294.14 L390.04,295.09 L389.43,296.03 L388.80,296.98 L388.15,297.92 L387.49,298.87 L386.83,299.82 L386.17,300.76 L385.51,301.71 L384.85,302.65 L384.19,303.60 L383.53,304.54 L382.86,305.49 L382.19,306.43 L381.52,307.38 L380.83,308.33 L380.14,309.27 L379.44,310.22 L378.72,311.16 L378.00,312.11 L377.28,313.05 L376.57,314.00 L375.87,314.94 L375.20,315.89 L374.57,316.84 L373.99,317.78 L373.45,318.73 L372.99,319.67 L372.59,320.62 L372.28,321.56 L372.04,322.51 L371.90,323.46 L371.84,324.40 L371.87,325.35 L372.00,326.29 L372.22,327.24 L372.54,328.18 L372.93,329.13 L373.39,330.07 L373.91,331.02 L374.48,331.97 L375.09,332.91 L375.73,333.86 L376.39,334.80 L377.09,335.75 L377.83,336.69 L378.65,337.64 L379.55,338.58 L380.57,339.53 L381.73,340.48 L383.03,341.42 L384.50,342.37 L386.12,343.31 L387.81,344.26 L389.52,345.20 L391.18,346.15 L392.74,347.09 L394.13,348.04 L395.35,348.99 L396.41,349.93 L397.32,350.88 L398.09,351.82 L398.74,352.77 L399.26,353.71 L399.64,354.66 L399.81,355.60 L399.66,356.55 L399.13,357.50 L398.12,358.44 L396.57,359.39 L394.45,360.33 L391.80,361.28 L388.68,362.22 L385.12,363.17 L381.20,364.11 L376.99,365.06 L372.56,366.01 L367.99,366.95 L363.32,367.90 L358.57,368.84 L353.76,369.79 L348.91,370.73 L344.02,371.68 L339.19,372.63 L334.56,373.57 L330.29,374.52 L326.53,375.46 L323.39,376.41 L320.95,377.35 L319.26,378.30 L318.38,379.24 L318.29,380.19 L318.84,381.14 L319.88,382.08 L321.25,383.03 L322.82,383.97 L324.55,384.92 L326.37,385.86 L328.25,386.81 L330.13,387.75 L331.96,388.70 L333.73,389.65 L335.41,390.59 L337.01,391.54 L338.52,392.48 L339.92,393.43 L341.21,394.37 L342.38,395.32 L343.45,396.26 L344.39,397.21 L345.23,398.16 L345.95,399.10 L346.55,400.05 L347.01,400.99 L347.33,401.94 L347.55,402.88 L347.73,403.83 L347.96,404.77 L348.31,405.72 L348.86,406.67 L349.70,407.61 L350.91,408.56 L352.57,409.50 L354.70,410.45 L357.22,411.39 L360.05,412.34 L363.10,413.28 L366.24,414.23 L369.36,415.18 L372.42,416.12 L375.43,417.07 L378.42,418.01 L381.34,418.96 L384.11,419.90 L386.62,420.85 L388.76,421.79 L390.36,422.74 L391.29,423.69 L391.50,424.63 L391.04,425.58 L389.97,426.52 L388.38,427.47 L386.38,428.41 L384.00,429.36 L381.23,430.31 L378.01,431.25 L374.34,432.20 L370.17,433.14 L365.55,434.09 L360.74,435.03 L356.06,435.98 L351.41,436.92 L346.55,437.87 L341.93,438.82 L338.36,439.76 L335.24,440.71 L331.86,441.65 L328.21,442.60 L324.43,443.54 L320.74,444.49 L317.36,445.43 L314.34,446.38 L311.74,447.33 L309.55,448.27 L307.81,449.22 L306.50,450.16 L305.57,451.11 L304.93,452.05 L304.52,453.00 L304.31,453.94 L304.31,454.89 L304.51,455.84 L304.91,456.78 L305.47,457.73 L306.13,458.67 L306.84,459.62 L307.59,460.56 L308.35,461.51 L309.15,462.45 L309.98,463.40 L310.81,464.35 L311.59,465.29 L312.22,466.24 L312.62,467.18 L312.75,468.13 L312.62,469.07 L312.24,470.02 L311.65,470.96 L310.97,471.91 L310.45,472.86 L310.35,473.80 L310.93,474.75 L312.33,475.69 L314.63,476.64 L317.71,477.58 L321.19,478.53 L324.82,479.48 L328.76,480.42 L333.08,481.37 L337.55,482.31 L342.01,483.26 L346.40,484.20 L350.66,485.15 L354.80,486.09 L358.99,487.04 L363.43,487.99 L368.30,488.93 L373.45,489.88 L378.56,490.82 L383.32,491.77 L387.76,492.71 L392.05,493.66 L396.12,494.60 L399.86,495.55 L403.20,496.50 L406.10,497.44 L408.57,498.39 L410.66,499.33 L412.43,500.28 L413.88,501.22 L415.01,502.17 L415.81,503.11 L416.29,504.06 L416.53,505.01 L416.60,505.95 L416.56,506.90 L416.41,507.84 L416.09,508.79 L415.55,509.73 L414.74,510.68 L413.65,511.62 L412.30,512.57 L410.69,513.52 L408.94,514.46 L407.27,515.41 L405.89,516.35 L405.01,517.30 L404.81,518.24 L405.48,519.19 L407.18,520.13 L409.93,521.08 L413.24,522.03 L416.78,522.97 L421.75,523.92 L428.40,524.86 L433.63,525.81 L437.35,526.75 L440.82,527.70 L444.37,528.65 L447.66,529.59 L450.39,530.54 L452.27,531.48 L453.13,532.43 L453.09,533.37 L452.35,534.32 L451.15,535.26 L449.79,536.21 L448.49,537.16 L447.43,538.10 L446.71,539.05 L446.36,539.99 L446.29,540.94 L446.42,541.88 L446.65,542.83 L446.91,543.77 L447.16,544.72 L447.32,545.67 L447.20,546.61 L446.33,547.56 L444.19,548.50 L441.10,549.45 L438.01,550.39 L435.33,551.34 L433.05,552.28 L431.19,553.23 L429.89,554.18 L429.29,555.12 L429.56,556.07 L430.85,557.01 L433.09,557.96 L435.80,558.90 L438.59,559.85 L441.44,560.79 L444.38,561.74 L447.36,562.69 L450.18,563.63 L452.73,564.58 L455.14,565.52 L457.52,566.47 L460.02,567.41 L462.70,568.36 L465.56,569.30 L468.60,570.25 L471.79,571.20 L475.10,572.14 L478.44,573.09 L481.66,574.03 L484.64,574.98 L487.31,575.92 L489.91,576.87 L492.66,577.82 L495.37,578.76 L497.81,579.71 L499.98,580.65 L501.91,581.60 L503.56,582.54 L504.86,583.49 L505.81,584.43 L506.47,585.38 L506.94,586.33 L507.27,587.27 L507.45,588.22 L507.50,589.16 L507.45,590.11 L507.45,591.05 L507.70,592.00 L508.34,592.94 L509.36,593.89 L510.65,594.84 L512.12,595.78 L513.68,596.73 L515.25,597.67 L516.79,598.62 L518.34,599.56 L519.94,600.51 L521.65,601.45 L523.50,602.40" fill="none" stroke="#008000" stroke-width="2.5" stroke-linejoin="round" stroke-linecap="square"/>
<g font-family="Liberation Sans, sans-serif" font-weight="bold" font-size="12.58" stroke-width="0.3"><g transform="translate(236.64,53.06) rotate(-45.0) scale(1.180,1)" fill="#1f77b4" stroke="#1f77b4"><text x="-11.19 -5.25 2.20 9.66" y="4.40" text-anchor="middle">-100</text></g><g transform="translate(259.69,103.68) rotate(-45.0) scale(1.180,1)" fill="#1f77b4" stroke="#1f77b4"><text x="-7.46 -1.53 5.93" y="4.40" text-anchor="middle">-90</text></g><g transform="translate(285.42,151.61) rotate(-45.0) scale(1.180,1)" fill="#1f77b4" stroke="#1f77b4"><text x="-7.46 -1.53 5.93" y="4.40" text-anchor="middle">-80</text></g><g transform="translate(313.58,197.13) rotate(-45.0) scale(1.180,1)" fill="#1f77b4" stroke="#1f77b4"><text x="-7.46 -1.53 5.93" y="4.40" text-anchor="middle">-70</text></g><g transform="translate(343.92,240.45) rotate(-45.0) scale(1.180,1)" fill="#1f77b4" stroke="#1f77b4"><text x="-7.46 -1.53 5.93" y="4.40" text-anchor="middle">-60</text></g><g transform="translate(376.25,281.78) rotate(-45.0) scale(1.180,1)" fill="#1f77b4" stroke="#1f77b4"><text x="-7.46 -1.53 5.93" y="4.40" text-anchor="middle">-50</text></g><g transform="translate(410.40,321.31) rotate(-45.0) scale(1.180,1)" fill="#1f77b4" stroke="#1f77b4"><text x="-7.46 -1.53 5.93" y="4.40" text-anchor="middle">-40</text></g><g transform="translate(446.20,359.17) rotate(-45.0) scale(1.180,1)" fill="#1f77b4" stroke="#1f77b4"><text x="-7.46 -1.53 5.93" y="4.40" text-anchor="middle">-30</text></g><g transform="translate(483.53,395.51) rotate(-45.0) scale(1.180,1)" fill="#1f77b4" stroke="#1f77b4"><text x="-7.46 -1.53 5.93" y="4.40" text-anchor="middle">-20</text></g><g transform="translate(522.26,430.44) rotate(-45.0) scale(1.180,1)" fill="#1f77b4" stroke="#1f77b4"><text x="-7.46 -1.53 5.93" y="4.40" text-anchor="middle">-10</text></g><g transform="translate(562.30,464.07) rotate(-45.0) scale(1.180,1)" fill="#555555" stroke="#555555"><text x="0.00" y="4.40" text-anchor="middle">0</text></g><g transform="translate(603.55,496.49) rotate(-45.0) scale(1.180,1)" fill="#d62728" stroke="#d62728"><text x="-3.73 3.73" y="4.40" text-anchor="middle">10</text></g><g transform="translate(645.93,527.78) rotate(-45.0) scale(1.180,1)" fill="#d62728" stroke="#d62728"><text x="-3.73 3.73" y="4.40" text-anchor="middle">20</text></g><g transform="translate(689.35,558.02) rotate(-45.0) scale(1.180,1)" fill="#d62728" stroke="#d62728"><text x="-3.73 3.73" y="4.40" text-anchor="middle">30</text></g><g transform="translate(733.76,587.28) rotate(-45.0) scale(1.180,1)" fill="#d62728" stroke="#d62728"><text x="-3.73 3.73" y="4.40" text-anchor="middle">40</text></g></g>
<g font-family="Liberation Sans, sans-serif" font-weight="bold" font-size="12.58" fill="#1e90ff" stroke="#1e90ff" stroke-width="0.3"><g transform="translate(222.61,439.70) rotate(-30.0) scale(1.180,1)"><text x="-5.93 0.00 5.93" y="4.40" text-anchor="middle">0.1</text></g><g transform="translate(269.46,439.70) rotate(-30.0) scale(1.180,1)"><text x="-5.93 0.00 5.93" y="4.40" text-anchor="middle">0.2</text></g><g transform="translate(319.45,439.70) rotate(-30.0) scale(1.180,1)"><text x="-5.93 0.00 5.93" y="4.40" text-anchor="middle">0.4</text></g><g transform="translate(350.27,439.70) rotate(-30.0) scale(1.180,1)"><text x="-5.93 0.00 5.93" y="4.40" text-anchor="middle">0.6</text></g><g transform="translate(390.89,443.20) rotate(-30.0) scale(1.180,1)"><text x="0.00" y="4.40" text-anchor="middle">1</text></g><g transform="translate(424.63,439.70) rotate(-30.0) scale(1.180,1)"><text x="-5.93 0.00 5.93" y="4.40" text-anchor="middle">1.5</text></g><g transform="translate(449.42,443.20) rotate(-30.0) scale(1.180,1)"><text x="0.00" y="4.40" text-anchor="middle">2</text></g><g transform="translate(485.62,443.20) rotate(-30.0) scale(1.180,1)"><text x="0.00" y="4.40" text-anchor="middle">3</text></g><g transform="translate(512.23,443.20) rotate(-30.0) scale(1.180,1)"><text x="0.00" y="4.40" text-anchor="middle">4</text></g><g transform="translate(551.08,443.20) rotate(-30.0) scale(1.180,1)"><text x="0.00" y="4.40" text-anchor="middle">6</text></g><g transform="translate(579.62,443.20) rotate(-30.0) scale(1.180,1)"><text x="0.00" y="4.40" text-anchor="middle">8</text></g><g transform="translate(602.33,441.00) rotate(-30.0) scale(1.180,1)"><text x="-3.73 3.73" y="4.40" text-anchor="middle">10</text></g><g transform="translate(629.67,441.00) rotate(-30.0) scale(1.180,1)"><text x="-3.73 3.73" y="4.40" text-anchor="middle">13</text></g><g transform="translate(651.79,441.00) rotate(-30.0) scale(1.180,1)"><text x="-3.73 3.73" y="4.40" text-anchor="middle">16</text></g><g transform="translate(676.03,441.00) rotate(-30.0) scale(1.180,1)"><text x="-3.73 3.73" y="4.40" text-anchor="middle">20</text></g><g transform="translate(700.72,441.00) rotate(-30.0) scale(1.180,1)"><text x="-3.73 3.73" y="4.40" text-anchor="middle">25</text></g><g transform="translate(721.22,441.00) rotate(-30.0) scale(1.180,1)"><text x="-3.73 3.73" y="4.40" text-anchor="middle">30</text></g><g transform="translate(741.99,441.00) rotate(-30.0) scale(1.180,1)"><text x="-3.73 3.73" y="4.40" text-anchor="middle">36</text></g><g transform="translate(758.93,441.00) rotate(-30.0) scale(1.180,1)"><text x="-3.73 3.73" y="4.40" text-anchor="middle">42</text></g></g></g>
<rect x="90.50" y="36.50" width="663.00" height="606.00" fill="none" stroke="#000" stroke-width="1.33"/>
<path d="M84.70,36.50 L90.50,36.50 M84.70,215.50 L90.50,215.50 M84.70,319.50 L90.50,319.50 M84.70,393.50 L90.50,393.50 M84.70,451.50 L90.50,451.50 M84.70,498.50 L90.50,498.50 M84.70,537.50 L90.50,537.50 M84.70,572.50 L90.50,572.50 M84.70,602.50 L90.50,602.50 M84.70,629.50 L90.50,629.50 M90.50,642.50 L90.50,648.30 M164.50,642.50 L164.50,648.30 M238.50,642.50 L238.50,648.30 M311.50,642.50 L311.50,648.30 M385.50,642.50 L385.50,648.30 M459.50,642.50 L459.50,648.30 M532.50,642.50 L532.50,648.30 M606.50,642.50 L606.50,648.30 M680.50,642.50 L680.50,648.30 M753.50,642.50 L753.50,648.30" stroke="#000" stroke-width="1.33" fill="none"/>
<g font-family="Liberation Sans, sans-serif" font-size="18.30" fill="#000"><text x="48.49" y="43.80" textLength="30.21" lengthAdjust="spacingAndGlyphs">100</text><text x="48.33" y="222.80" textLength="30.37" lengthAdjust="spacingAndGlyphs">200</text><text x="48.60" y="326.80" textLength="30.09" lengthAdjust="spacingAndGlyphs">300</text><text x="48.46" y="400.80" textLength="30.23" lengthAdjust="spacingAndGlyphs">400</text><text x="48.60" y="458.80" textLength="30.10" lengthAdjust="spacingAndGlyphs">500</text><text x="48.29" y="505.80" textLength="30.42" lengthAdjust="spacingAndGlyphs">600</text><text x="48.45" y="544.80" textLength="30.25" lengthAdjust="spacingAndGlyphs">700</text><text x="48.38" y="579.80" textLength="30.32" lengthAdjust="spacingAndGlyphs">800</text><text x="48.21" y="609.80" textLength="30.50" lengthAdjust="spacingAndGlyphs">900</text><text x="38.12" y="636.80" textLength="40.61" lengthAdjust="spacingAndGlyphs">1000</text><text x="74.06" y="668.40" textLength="33.27" lengthAdjust="spacingAndGlyphs">−40</text><text x="147.72" y="668.40" textLength="33.27" lengthAdjust="spacingAndGlyphs">−30</text><text x="221.39" y="668.40" textLength="33.27" lengthAdjust="spacingAndGlyphs">−20</text><text x="295.06" y="668.40" textLength="33.27" lengthAdjust="spacingAndGlyphs">−10</text><text x="380.68" y="668.40" textLength="9.56" lengthAdjust="spacingAndGlyphs">0</text><text x="448.88" y="668.40" textLength="19.89" lengthAdjust="spacingAndGlyphs">10</text><text x="522.68" y="668.40" textLength="20.06" lengthAdjust="spacingAndGlyphs">20</text><text x="596.60" y="668.40" textLength="19.78" lengthAdjust="spacingAndGlyphs">30</text><text x="670.33" y="668.40" textLength="19.93" lengthAdjust="spacingAndGlyphs">40</text><text x="743.91" y="668.40" textLength="19.78" lengthAdjust="spacingAndGlyphs">50</text></g>
<g font-family="Liberation Sans, sans-serif" font-size="17.67"><text x="349.69" y="692.60" textLength="144.17" lengthAdjust="spacingAndGlyphs">Temperature (°C)</text></g>
<g transform="translate(24.7,340.05) rotate(-90)" font-family="Liberation Sans, sans-serif" font-size="17.67"><text x="-59.76" y="0.00" textLength="119.16" lengthAdjust="spacingAndGlyphs">Pressure (hPa)</text></g>
<g font-family="Liberation Sans, sans-serif" font-size="21.18"><text x="252.01" y="27.40" textLength="341.67" lengthAdjust="spacingAndGlyphs">wetPf2_C2E6.2020.067.09.07.G08</text></g>
</svg>
</body></html>
